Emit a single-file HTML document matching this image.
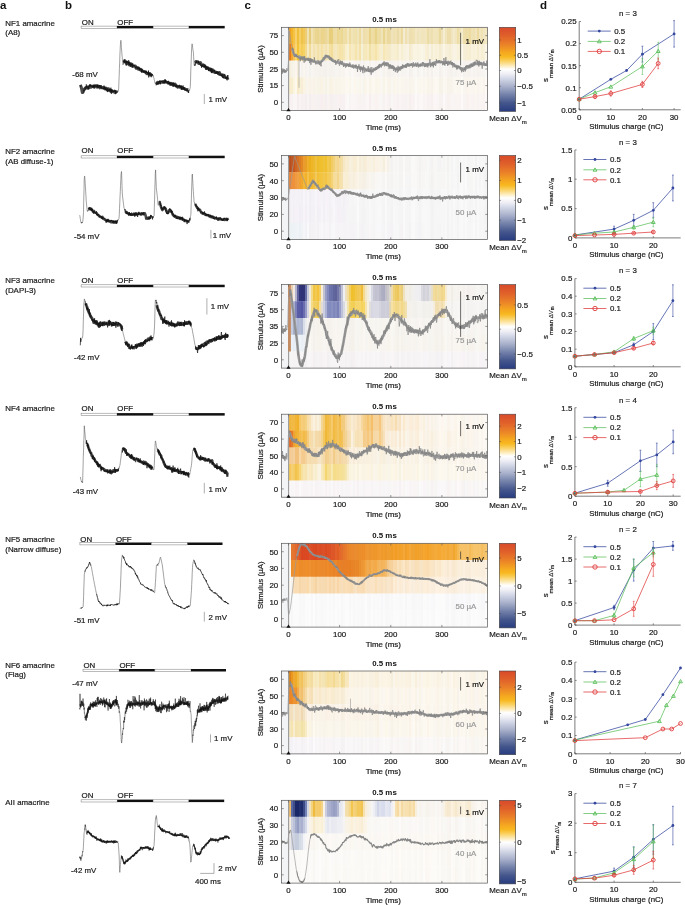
<!DOCTYPE html>
<html><head><meta charset="utf-8"><style>
html,body{margin:0;padding:0;background:#fff;width:685px;height:905px;overflow:hidden;position:relative}
text{font-family:"Liberation Sans", sans-serif}

</style></head><body>
<svg width="685" height="905" viewBox="0 0 685 905" style="position:absolute;left:0;top:0;will-change:transform;filter:blur(0.3px)" font-family='"Liberation Sans", sans-serif'>
<defs><linearGradient id="cb" x1="0" y1="0" x2="0" y2="1">
<stop offset="0.000" stop-color="#d84a2a"/>
<stop offset="0.100" stop-color="#e0602a"/>
<stop offset="0.200" stop-color="#ea8028"/>
<stop offset="0.300" stop-color="#f5a820"/>
<stop offset="0.350" stop-color="#f8b820"/>
<stop offset="0.400" stop-color="#fad060"/>
<stop offset="0.450" stop-color="#fce8b0"/>
<stop offset="0.500" stop-color="#ffffff"/>
<stop offset="0.550" stop-color="#f0f0f5"/>
<stop offset="0.600" stop-color="#d8dcea"/>
<stop offset="0.700" stop-color="#aab2cc"/>
<stop offset="0.800" stop-color="#7482aa"/>
<stop offset="0.900" stop-color="#44568c"/>
<stop offset="1.000" stop-color="#283c80"/>
</linearGradient></defs>
<rect width="685" height="905" fill="#fff"/>
<text x="0.0" y="9.0" font-size="11.5" text-anchor="start" font-weight="bold" fill="#111" stroke="#111" stroke-width="0" >a</text>
<text x="65.0" y="9.0" font-size="11.5" text-anchor="start" font-weight="bold" fill="#111" stroke="#111" stroke-width="0" >b</text>
<text x="244.5" y="9.0" font-size="11.5" text-anchor="start" font-weight="bold" fill="#111" stroke="#111" stroke-width="0" >c</text>
<text x="540.0" y="9.0" font-size="11.5" text-anchor="start" font-weight="bold" fill="#111" stroke="#111" stroke-width="0" >d</text>
<text x="5.3" y="25.9" font-size="7.9" text-anchor="start" font-weight="normal" fill="#1a1a1a" stroke="#1a1a1a" stroke-width="0.2" >NF1 amacrine</text>
<text x="5.3" y="34.6" font-size="7.9" text-anchor="start" font-weight="normal" fill="#1a1a1a" stroke="#1a1a1a" stroke-width="0.2" >(A8)</text>
<rect x="81.1" y="26.1" width="35.9" height="2.2" fill="#fff" stroke="#777" stroke-width="0.5"/>
<rect x="117.0" y="25.9" width="36.2" height="2.5" fill="#111"/>
<rect x="153.2" y="26.1" width="35.7" height="2.2" fill="#fff" stroke="#777" stroke-width="0.5"/>
<rect x="188.9" y="25.9" width="35.8" height="2.5" fill="#111"/>
<text x="81.8" y="24.9" font-size="7.9" text-anchor="start" font-weight="normal" fill="#1a1a1a" stroke="#1a1a1a" stroke-width="0.2" >ON</text>
<text x="117.3" y="24.9" font-size="7.9" text-anchor="start" font-weight="normal" fill="#1a1a1a" stroke="#1a1a1a" stroke-width="0.2" >OFF</text>
<text x="72.3" y="76.6" font-size="7.9" text-anchor="start" font-weight="normal" fill="#1a1a1a" stroke="#1a1a1a" stroke-width="0.2" >-68 mV</text>
<line x1="204.3" y1="94.0" x2="204.3" y2="104.0" stroke="#777" stroke-width="0.6"/>
<text x="208.6" y="102.3" font-size="7.9" text-anchor="start" font-weight="normal" fill="#1a1a1a" stroke="#1a1a1a" stroke-width="0.2" >1 mV</text>
<path d="M80.3 84.9 81.0 86.5 81.6 88.7 82.3 92.6 83.0 92.3 83.7 90.4 84.3 89.0 85.0 88.9 85.7 87.7 86.4 87.1 87.0 87.3 87.7 87.3 88.4 87.1 89.0 87.7 89.7 86.5 90.4 85.7 91.1 87.1 91.7 86.5 92.4 86.5 93.1 86.1 93.7 85.9 94.4 87.2 95.1 85.7 95.8 86.1 96.4 85.8 97.1 87.1 97.8 86.6 98.5 86.1 99.1 87.0 99.8 87.8 100.5 86.6 101.1 86.9 101.8 87.7 102.5 87.9 103.2 87.4 103.8 87.9 104.5 88.4 105.2 89.0 105.8 88.1 106.5 89.4 107.2 89.6 107.9 90.6 108.5 88.7 109.2 89.9 109.9 90.1 110.6 91.3 111.2 90.2 111.9 90.8 112.6 91.4 113.2 91.8 113.9 91.9 114.6 91.1 115.3 92.8 115.9 91.6 116.6 92.3 M124.0 62.5 L124.7 60.6 125.3 61.6 126.0 61.9 126.7 63.7 127.4 63.7 128.0 63.2 128.7 63.1 129.4 65.0 130.0 64.3 130.7 63.7 131.4 65.1 132.1 64.4 132.7 66.3 133.4 66.2 134.1 65.8 134.8 66.4 135.4 66.0 136.1 68.3 136.8 67.9 137.4 68.5 138.1 69.2 138.8 68.7 139.5 69.0 140.1 69.4 140.8 70.2 141.5 70.0 142.1 70.6 142.8 71.3 143.5 71.6 144.2 71.6 144.8 71.7 145.5 72.2 146.2 73.1 146.9 73.7 147.5 73.8 148.2 73.3 148.9 74.0 149.5 74.1 150.2 75.0 150.9 74.3 151.6 75.8 152.2 75.8 M155.6 83.9 L156.3 83.8 156.9 83.5 157.6 82.2 158.3 82.9 159.0 82.7 159.6 82.1 160.3 82.8 161.0 82.0 161.6 82.2 162.3 81.6 163.0 82.3 163.7 82.2 164.3 81.7 165.0 81.3 165.7 81.9 166.4 82.2 167.0 82.4 167.7 82.5 168.4 83.3 169.0 82.9 169.7 83.3 170.4 84.4 171.1 83.3 171.7 84.0 172.4 84.4 173.1 84.1 173.7 84.0 174.4 84.5 175.1 84.1 175.8 85.5 176.4 85.7 177.1 86.4 177.8 87.2 178.5 86.6 179.1 86.9 179.8 87.3 180.5 87.0 181.1 86.7 181.8 87.4 182.5 88.1 183.2 88.3 183.8 88.6 184.5 88.6 185.2 89.3 185.8 89.4 186.5 89.8 187.2 89.5 187.9 90.1 M195.3 62.9 L195.9 61.5 196.6 61.5 197.3 62.1 197.9 61.9 198.6 63.3 199.3 63.6 200.0 63.1 200.6 62.6 201.3 64.8 202.0 65.0 202.7 65.4 203.3 64.8 204.0 65.7 204.7 66.4 205.3 67.1 206.0 67.4 206.7 68.3 207.4 67.6 208.0 68.0 208.7 69.0 209.4 69.9 210.0 68.9 210.7 69.2 211.4 71.1 212.1 70.1 212.7 70.9 213.4 71.8 214.1 70.9 214.8 71.8 215.4 72.3 216.1 72.2 216.8 72.4 217.4 72.5 218.1 73.0 218.8 74.0 219.5 72.6 220.1 74.3 220.8 74.5 221.5 74.9 222.1 75.3 222.8 75.6 223.5 76.4 224.2 75.4 224.8 77.2 225.5 77.6 226.2 77.7 226.9 78.0 227.5 78.9 228.2 79.9" fill="none" stroke="#333" stroke-width="3.0" stroke-linejoin="round" opacity="0.9"/>
<path d="M80.3 85.6 80.6 86.8 80.8 86.8 81.1 85.4 M82.8 92.9 L83.1 93.0 83.3 90.9 83.6 91.0 83.8 90.0 84.1 90.8 84.3 89.5 84.6 88.5 84.8 87.4 85.1 87.7 85.3 88.0 85.6 87.6 85.8 89.4 86.1 88.9 86.3 84.4 86.6 85.3 86.8 87.3 87.1 86.9 87.3 87.6 87.6 87.5 87.8 89.7 88.1 85.7 88.3 86.5 88.6 89.4 88.8 87.6 89.1 87.6 89.3 86.1 89.6 84.6 89.8 86.7 90.1 86.6 90.3 84.9 90.6 85.6 90.8 86.3 91.1 85.3 91.3 86.3 91.6 86.5 91.8 86.4 92.1 85.8 92.3 87.1 92.6 87.5 92.8 86.8 93.1 85.4 93.3 87.3 93.6 85.8 93.8 87.5 94.1 85.1 94.3 87.5 94.6 86.4 94.8 84.9 95.1 86.0 95.3 86.5 95.6 86.7 95.8 85.2 96.1 85.1 96.3 86.6 96.6 85.8 96.8 86.7 97.1 87.3 97.3 84.4 97.6 86.7 97.8 87.9 98.1 86.0 98.3 85.4 98.6 87.4 98.9 86.9 99.1 87.7 99.4 86.3 99.6 85.0 99.9 86.7 100.1 86.4 100.4 88.0 100.6 87.4 100.9 85.2 101.1 85.9 101.4 88.4 101.6 88.3 101.9 86.8 102.1 87.6 102.4 88.2 102.6 88.3 102.9 88.9 103.1 88.3 103.4 87.9 103.6 87.8 103.9 89.5 104.1 85.6 104.4 88.2 104.6 88.5 104.9 86.8 105.1 89.0 105.4 87.9 105.6 89.8 105.9 88.7 106.1 89.8 106.4 90.5 106.6 89.6 106.9 88.2 107.1 87.5 107.4 91.5 107.6 89.4 107.9 88.8 108.1 89.8 108.4 89.5 108.6 90.9 108.9 90.0 109.1 90.1 109.4 89.3 109.6 90.8 109.9 89.1 110.1 91.2 110.4 92.3 110.6 88.7 110.9 87.7 111.1 91.5 111.4 93.9 111.6 89.7 111.9 89.5 112.1 91.8 112.4 90.2 112.6 90.7 112.9 91.0 113.1 92.1 113.4 91.1 113.6 92.0 113.9 91.4 114.1 90.7 114.4 91.3 114.6 90.6 114.9 91.8 115.1 90.5 115.4 90.6 115.6 93.7 115.9 91.9 116.1 91.9 116.4 92.6 116.6 91.6 116.9 91.8 117.1 92.6 117.4 92.5 117.7 90.7 M123.2 64.3 L123.4 63.7 123.7 63.4 123.9 60.7 124.2 63.2 124.4 61.0 124.7 59.9 124.9 62.2 125.2 63.2 125.4 62.3 125.7 62.1 125.9 60.9 126.2 65.6 126.4 63.3 126.7 61.0 126.9 61.6 127.2 62.8 127.4 60.9 127.7 63.1 127.9 62.5 128.2 64.7 128.4 64.5 128.7 60.2 128.9 63.7 129.2 61.8 129.4 65.2 129.7 64.2 129.9 64.8 130.2 63.0 130.4 66.6 130.7 67.0 130.9 63.4 131.2 65.3 131.4 64.1 131.7 65.1 131.9 63.7 132.2 67.6 132.4 64.3 132.7 65.3 132.9 66.4 133.2 65.1 133.4 65.7 133.7 65.5 133.9 66.1 134.2 65.0 134.4 66.0 134.7 66.5 134.9 66.4 135.2 67.1 135.4 66.8 135.7 68.2 136.0 67.0 136.2 67.4 136.5 66.9 136.7 67.2 137.0 66.4 137.2 68.7 137.5 66.8 137.7 67.5 138.0 68.9 138.2 69.1 138.5 68.3 138.7 66.5 139.0 69.5 139.2 69.5 139.5 67.6 139.7 70.4 140.0 68.7 140.2 68.4 140.5 70.0 140.7 69.8 141.0 70.4 141.2 68.3 141.5 72.6 141.7 69.8 142.0 68.8 142.2 71.6 142.5 70.5 142.7 71.5 143.0 70.8 143.2 71.3 143.5 71.8 143.7 70.7 144.0 72.6 144.2 71.4 144.5 71.0 144.7 72.3 145.0 72.9 145.2 72.2 145.5 71.5 145.7 73.4 146.0 70.6 146.2 71.6 146.5 72.9 146.7 71.3 147.0 73.1 147.2 73.1 147.5 74.3 147.7 72.2 148.0 72.6 148.2 73.9 148.5 70.6 148.7 77.4 149.0 72.9 149.2 73.0 149.5 75.0 149.7 74.0 150.0 72.0 150.2 75.0 150.5 75.5 150.7 74.1 151.0 74.4 151.2 75.5 151.5 74.0 151.7 75.8 152.0 75.7 152.2 74.8 152.5 74.1 152.7 75.7 153.0 75.1 M155.5 83.8 L155.8 83.6 156.0 83.0 156.3 82.6 156.5 83.4 156.8 82.7 157.0 84.6 157.3 82.9 157.5 83.2 157.8 83.9 158.0 82.4 158.3 84.4 158.5 81.9 158.8 81.7 159.0 82.2 159.3 82.4 159.5 80.9 159.8 82.5 160.0 80.5 160.3 84.1 160.5 82.3 160.8 81.6 161.0 81.2 161.3 81.8 161.5 82.0 161.8 80.9 162.0 81.1 162.3 81.9 162.5 81.5 162.8 83.2 163.0 83.4 163.3 82.0 163.5 82.5 163.8 80.3 164.0 82.6 164.3 81.8 164.5 82.4 164.8 83.7 165.0 79.0 165.3 82.0 165.5 80.5 165.8 82.6 166.0 80.4 166.3 81.5 166.5 82.4 166.8 83.0 167.0 82.4 167.3 81.5 167.5 81.9 167.8 83.7 168.0 82.7 168.3 80.8 168.5 83.9 168.8 83.5 169.0 84.1 169.3 82.7 169.5 84.2 169.8 82.1 170.0 84.1 170.3 82.9 170.5 84.4 170.8 84.9 171.0 82.9 171.3 83.8 171.5 84.0 171.8 85.5 172.0 85.0 172.3 82.7 172.5 84.8 172.8 85.3 173.1 87.0 173.3 82.6 173.6 84.0 173.8 86.4 174.1 83.2 174.3 83.5 174.6 85.7 174.8 86.4 175.1 84.4 175.3 86.0 175.6 85.6 175.8 87.3 176.1 85.6 176.3 86.9 176.6 84.7 176.8 85.7 177.1 85.9 177.3 87.4 177.6 86.9 177.8 85.4 178.1 87.2 178.3 87.4 178.6 86.4 178.8 86.3 179.1 86.5 179.3 84.8 179.6 87.1 179.8 87.3 180.1 86.1 180.3 88.1 180.6 85.7 180.8 86.7 181.1 86.9 181.3 90.0 181.6 85.8 181.8 88.4 182.1 89.0 182.3 88.4 182.6 89.5 182.8 87.0 183.1 85.5 183.3 89.3 183.6 87.1 183.8 88.2 184.1 87.3 184.3 90.1 184.6 90.0 184.8 88.2 185.1 90.3 185.3 89.5 185.6 89.3 185.8 89.6 186.1 89.4 186.3 90.5 186.6 90.3 186.8 89.6 187.1 91.4 187.3 89.5 187.6 90.7 187.8 91.0 188.1 92.4 188.3 90.1 188.6 93.0 188.8 91.2 189.1 90.9 189.3 89.7 M194.6 64.4 L194.9 66.0 195.1 63.4 195.4 64.4 195.6 64.4 195.9 61.9 196.1 63.2 196.4 62.3 196.6 61.1 196.9 62.1 197.1 62.0 197.4 61.8 197.6 62.0 197.9 62.6 198.1 63.1 198.4 61.6 198.6 62.8 198.9 61.2 199.1 63.5 199.4 64.1 199.6 63.7 199.9 64.0 200.1 64.5 200.4 63.1 200.6 63.8 200.9 64.9 201.1 65.6 201.4 65.0 201.6 67.8 201.9 64.8 202.1 66.2 202.4 66.7 202.6 65.2 202.9 64.5 203.1 64.2 203.4 66.0 203.6 67.3 203.9 66.4 204.1 66.5 204.4 66.0 204.6 67.2 204.9 64.2 205.1 67.2 205.4 67.1 205.6 65.5 205.9 70.0 206.1 65.8 206.4 66.4 206.6 66.4 206.9 69.3 207.1 67.1 207.4 69.1 207.6 69.1 207.9 68.9 208.1 67.2 208.4 68.2 208.6 71.0 208.9 67.6 209.1 68.2 209.4 69.1 209.6 70.4 209.9 69.9 210.2 70.6 210.4 68.5 210.7 71.0 210.9 70.7 211.2 68.2 211.4 72.1 211.7 73.1 211.9 69.5 212.2 70.6 212.4 72.4 212.7 69.0 212.9 68.5 213.2 69.5 213.4 70.4 213.7 70.5 213.9 72.1 214.2 71.8 214.4 70.1 214.7 72.4 214.9 74.0 215.2 73.3 215.4 73.2 215.7 72.2 215.9 73.4 216.2 71.2 216.4 73.4 216.7 72.5 216.9 74.0 217.2 73.4 217.4 71.6 217.7 73.2 217.9 74.6 218.2 71.9 218.4 72.7 218.7 72.5 218.9 71.8 219.2 74.8 219.4 75.4 219.7 74.9 219.9 74.3 220.2 74.1 220.4 74.6 220.7 73.6 220.9 75.7 221.2 76.0 221.4 76.0 221.7 74.4 221.9 75.3 222.2 75.1 222.4 77.6 222.7 75.8 222.9 73.5 223.2 76.4 223.4 78.3 223.7 77.0 223.9 77.4 224.2 76.5 224.4 74.3 224.7 74.6 224.9 75.4 225.2 76.9 225.4 77.6 225.7 78.2 225.9 77.1 226.2 78.8 226.4 77.4 226.7 77.1 226.9 79.1 227.2 77.1 227.4 75.1 227.7 77.2 227.9 78.8 228.2 75.1" fill="none" stroke="#111" stroke-width="0.7" stroke-linejoin="round"/>
<path d="M81.1 85.4 L81.3 87.7 81.6 88.3 81.8 89.4 82.1 90.8 82.3 92.0 82.6 93.2 82.8 92.9 M117.7 90.7 L117.9 91.7 118.2 90.9 118.4 90.2 118.7 88.4 118.9 81.9 119.2 75.6 119.4 68.5 119.7 62.1 119.9 55.0 120.2 48.8 120.4 44.3 120.7 42.1 120.9 40.3 121.2 44.0 121.4 47.5 121.7 50.9 121.9 54.1 122.2 56.8 122.4 59.5 122.7 62.3 122.9 64.8 123.2 64.3 M153.0 75.1 L153.2 76.5 153.5 76.5 153.7 77.7 154.0 78.6 154.2 79.7 154.5 80.6 154.8 81.9 155.0 83.2 155.3 83.8 155.5 83.8 M189.3 89.7 L189.6 89.9 189.8 89.2 190.1 88.3 190.3 86.3 190.6 78.5 190.8 70.5 191.1 62.9 191.4 55.0 191.6 48.8 191.9 45.3 192.1 43.8 192.4 45.6 192.6 47.4 192.9 49.3 193.1 50.7 193.4 52.2 193.6 56.3 193.9 60.8 194.1 65.2 194.4 64.8 194.6 64.4" fill="none" stroke="#555" stroke-width="0.55" stroke-linejoin="round"/>
<text x="5.3" y="153.8" font-size="7.9" text-anchor="start" font-weight="normal" fill="#1a1a1a" stroke="#1a1a1a" stroke-width="0.2" >NF2 amacrine</text>
<text x="5.3" y="163.6" font-size="7.9" text-anchor="start" font-weight="normal" fill="#1a1a1a" stroke="#1a1a1a" stroke-width="0.2" >(AB diffuse-1)</text>
<rect x="81.1" y="155.8" width="35.9" height="2.2" fill="#fff" stroke="#777" stroke-width="0.5"/>
<rect x="117.0" y="155.7" width="36.2" height="2.5" fill="#111"/>
<rect x="153.2" y="155.8" width="35.7" height="2.2" fill="#fff" stroke="#777" stroke-width="0.5"/>
<rect x="188.9" y="155.7" width="35.8" height="2.5" fill="#111"/>
<text x="81.5" y="153.2" font-size="7.9" text-anchor="start" font-weight="normal" fill="#1a1a1a" stroke="#1a1a1a" stroke-width="0.2" >ON</text>
<text x="117.3" y="153.2" font-size="7.9" text-anchor="start" font-weight="normal" fill="#1a1a1a" stroke="#1a1a1a" stroke-width="0.2" >OFF</text>
<text x="74.0" y="239.4" font-size="7.9" text-anchor="start" font-weight="normal" fill="#1a1a1a" stroke="#1a1a1a" stroke-width="0.2" >-54 mV</text>
<line x1="210.9" y1="229.9" x2="210.9" y2="238.6" stroke="#777" stroke-width="0.6"/>
<text x="212.7" y="237.6" font-size="7.9" text-anchor="start" font-weight="normal" fill="#1a1a1a" stroke="#1a1a1a" stroke-width="0.2" >1 mV</text>
<path d="M88.4 209.3 L89.1 208.8 89.8 208.3 90.5 208.5 91.1 209.2 91.8 209.8 92.5 210.7 93.1 212.0 93.8 210.8 94.5 211.8 95.2 212.7 95.8 212.9 96.5 212.9 97.2 214.1 97.8 214.7 98.5 215.4 99.2 215.6 99.9 216.7 100.5 216.7 101.2 217.4 101.9 217.1 102.5 216.9 103.2 218.7 103.9 218.9 104.6 219.5 105.2 219.7 105.9 220.0 106.6 220.4 107.2 221.0 107.9 220.4 108.6 220.7 109.3 220.9 109.9 221.2 110.6 222.1 111.3 221.1 112.0 222.4 112.6 221.6 113.3 221.6 114.0 221.5 114.6 222.2 115.3 222.6 116.0 221.7 116.7 222.1 M125.4 211.0 L126.1 212.5 126.7 212.8 127.4 213.2 128.1 213.3 128.8 213.8 129.4 214.0 130.1 214.3 130.8 214.5 131.4 214.4 132.1 214.8 132.8 214.1 133.5 214.5 134.1 213.5 134.8 214.0 135.5 214.6 136.1 214.2 136.8 214.4 137.5 213.8 138.2 213.6 138.8 213.7 139.5 214.1 140.2 213.8 140.8 214.6 141.5 214.6 142.2 214.1 142.9 213.4 143.5 213.7 144.2 213.4 144.9 213.3 145.6 215.5 146.2 218.7 146.9 218.4 147.6 218.4 148.2 217.5 148.9 217.8 149.6 218.2 150.3 217.9 150.9 216.9 151.6 217.2 M159.0 202.3 L159.7 202.2 160.3 204.2 161.0 207.1 161.7 208.8 162.3 210.1 163.0 209.6 163.7 207.7 164.4 207.2 165.0 208.4 165.7 208.6 166.4 211.4 167.1 212.8 167.7 213.0 168.4 212.3 169.1 210.2 169.7 209.8 170.4 210.0 171.1 211.7 171.8 212.0 172.4 214.0 173.1 215.3 173.8 215.3 174.4 216.6 175.1 215.8 175.8 217.3 176.5 217.6 177.1 216.7 177.8 218.0 178.5 217.7 179.1 218.0 179.8 218.3 180.5 217.8 181.2 218.8 181.8 219.0 182.5 219.7 183.2 218.9 183.9 220.1 184.5 220.9 185.2 220.5 185.9 221.1 186.5 221.2 187.2 220.9 187.9 221.2 188.6 221.6 M195.3 204.0 L195.9 205.5 196.6 206.8 197.3 208.2 198.0 208.0 198.6 209.2 199.3 209.9 200.0 209.8 200.7 211.4 201.3 212.7 202.0 212.6 202.7 213.8 203.3 213.6 204.0 213.5 204.7 214.4 205.4 214.1 206.0 214.9 206.7 214.9 207.4 215.3 208.0 215.1 208.7 215.6 209.4 216.0 210.1 216.2 210.7 216.6 211.4 217.3 212.1 216.8 212.7 216.8 213.4 217.7 214.1 217.4 214.8 218.5 215.4 218.0 216.1 218.1 216.8 218.8 217.4 218.5 218.1 218.9 218.8 219.4 219.5 218.4 220.1 219.2 220.8 219.0 221.5 219.2 222.2 219.6 222.8 219.4 223.5 219.6 224.2 219.2 224.8 220.0 225.5 219.6 226.2 218.7 226.9 220.0 227.5 219.1 228.2 220.1" fill="none" stroke="#333" stroke-width="2.5" stroke-linejoin="round" opacity="0.9"/>
<path d="M81.2 222.3 L81.5 223.2 81.7 222.8 82.0 222.0 M87.7 211.0 L88.0 211.1 88.2 210.0 88.5 209.6 88.7 208.6 89.0 209.1 89.2 207.2 89.5 208.0 89.7 208.8 90.0 210.5 90.2 208.0 90.5 207.9 90.7 208.5 91.0 210.2 91.2 209.1 91.5 210.8 91.7 207.8 92.0 211.0 92.2 211.1 92.5 208.9 92.7 210.6 93.0 211.9 93.2 211.0 93.5 212.1 93.7 213.7 94.0 211.8 94.2 211.5 94.5 211.2 94.7 212.8 95.0 212.2 95.2 212.4 95.5 212.7 95.7 213.6 96.0 212.1 96.2 211.9 96.5 211.2 96.7 215.0 97.0 214.1 97.2 215.7 97.5 214.4 97.7 213.9 98.0 215.3 98.2 215.0 98.5 214.0 98.7 214.5 99.0 217.3 99.2 216.1 99.5 216.3 99.7 215.8 100.0 215.5 100.2 217.3 100.5 216.5 100.7 216.0 101.0 216.8 101.2 216.2 101.5 217.4 101.7 218.5 102.0 216.7 102.2 219.1 102.5 217.2 102.7 218.2 103.0 217.4 103.2 218.1 103.5 218.6 103.7 218.3 104.0 218.2 104.2 218.3 104.5 218.4 104.7 217.8 105.0 219.3 105.2 220.1 105.5 220.7 105.7 220.7 106.0 222.6 106.2 220.7 106.5 220.0 106.7 222.4 107.0 219.5 107.2 221.6 107.5 219.7 107.7 221.1 108.0 218.8 108.2 221.7 108.5 220.7 108.7 219.9 109.0 222.6 109.2 221.7 109.5 221.0 109.8 220.3 110.0 221.0 110.3 220.9 110.5 221.9 110.8 222.0 111.0 220.6 111.3 220.7 111.5 220.8 111.8 220.0 112.0 220.8 112.3 221.3 112.5 222.2 112.8 222.8 113.0 220.7 113.3 222.1 113.5 221.2 113.8 223.8 114.0 221.7 114.3 222.3 114.5 220.9 114.8 221.0 115.0 222.1 115.3 221.5 115.5 222.3 115.8 220.4 116.0 222.7 116.3 221.2 116.5 223.8 116.8 221.9 117.0 223.3 117.3 220.3 117.5 221.6 117.8 219.8 118.0 219.7 118.3 219.7 M124.5 209.4 L124.8 210.5 125.0 209.1 125.3 209.8 125.5 211.3 125.8 211.4 126.0 213.7 126.3 213.4 126.5 212.7 126.8 213.6 127.0 211.1 127.3 213.5 127.5 214.2 127.8 213.2 128.0 212.8 128.3 214.1 128.5 215.6 128.8 214.0 129.0 212.7 129.3 215.4 129.5 212.2 129.8 214.6 130.0 213.6 130.3 215.2 130.5 213.5 130.8 215.8 131.0 214.9 131.3 212.9 131.5 212.6 131.8 214.2 132.0 215.8 132.3 214.7 132.5 214.6 132.8 214.3 133.0 215.2 133.3 214.8 133.5 214.7 133.8 213.4 134.0 215.6 134.3 215.8 134.5 213.1 134.8 216.7 135.0 215.1 135.3 213.9 135.5 212.4 135.8 215.0 136.0 214.9 136.3 213.7 136.5 212.5 136.8 215.4 137.0 213.6 137.3 213.7 137.5 217.0 137.8 216.3 138.0 215.1 138.3 213.7 138.5 214.8 138.8 211.8 139.0 214.2 139.3 213.3 139.6 212.8 139.8 212.5 140.1 214.5 140.3 214.1 140.6 214.1 140.8 214.8 141.1 213.1 141.3 212.7 141.6 212.1 141.8 213.5 142.1 214.6 142.3 213.6 142.6 214.4 142.8 212.6 143.1 213.2 143.3 212.9 143.6 212.4 143.8 215.5 144.1 214.5 144.3 212.8 144.6 212.8 M146.3 218.6 L146.6 217.3 146.8 217.0 147.1 217.5 147.3 217.8 147.6 218.1 147.8 218.4 148.1 219.8 148.3 219.0 148.6 217.9 148.8 218.8 149.1 217.3 149.3 219.4 149.6 218.5 149.8 216.5 150.1 218.5 150.3 218.5 150.6 214.9 150.8 216.7 151.1 216.9 151.3 215.3 151.6 216.1 151.8 216.1 152.1 217.4 152.3 217.1 152.6 219.4 152.8 216.2 153.1 217.7 153.3 216.5 M159.6 202.1 L159.8 200.9 160.1 203.5 160.3 204.5 160.6 203.9 160.8 205.9 161.1 205.3 161.3 208.4 161.6 207.4 161.8 208.9 162.1 210.2 162.3 209.7 162.6 208.0 162.8 208.8 163.1 209.8 163.3 208.5 163.6 208.5 163.8 206.8 164.1 207.6 164.3 207.8 164.6 206.7 164.8 209.2 165.1 207.7 165.3 207.5 165.6 207.5 165.8 210.9 166.1 210.3 166.3 211.9 166.6 212.0 166.8 213.7 167.1 214.0 167.3 213.0 167.6 213.8 167.8 214.1 168.1 211.3 168.3 213.5 168.6 212.8 168.9 212.1 169.1 210.4 169.4 210.5 169.6 208.6 169.9 209.3 170.1 208.9 170.4 210.0 170.6 209.9 170.9 211.1 171.1 212.5 171.4 210.4 171.6 213.1 171.9 210.7 172.1 211.0 172.4 213.5 172.6 214.1 172.9 214.9 173.1 213.3 173.4 215.4 173.6 215.7 173.9 216.9 174.1 215.7 174.4 216.4 174.6 215.0 174.9 215.9 175.1 215.8 175.4 217.0 175.6 215.4 175.9 215.7 176.1 217.2 176.4 218.5 176.6 217.2 176.9 217.2 177.1 216.7 177.4 218.2 177.6 217.8 177.9 219.1 178.1 217.8 178.4 216.6 178.6 217.1 178.9 216.8 179.1 216.6 179.4 219.2 179.6 218.9 179.9 216.9 180.1 220.1 180.4 218.6 180.6 217.6 180.9 219.0 181.1 218.7 181.4 218.1 181.6 217.1 181.9 219.2 182.1 219.6 182.4 216.8 182.6 220.1 182.9 220.3 183.1 219.3 183.4 220.0 183.6 219.7 183.9 219.3 184.1 219.9 184.4 221.7 184.6 219.1 184.9 220.9 185.1 220.9 185.4 220.0 185.6 220.4 185.9 219.4 186.1 220.0 186.4 220.9 186.6 221.3 186.9 220.1 187.1 224.1 187.4 220.5 187.6 221.2 187.9 220.9 188.1 220.8 188.4 222.5 188.6 220.8 188.9 222.6 189.1 222.3 189.4 219.3 189.6 220.5 189.9 217.9 190.1 220.4 M194.6 203.0 L194.9 202.9 195.1 204.5 195.4 204.6 195.6 204.6 195.9 205.6 196.1 204.9 196.4 206.8 196.6 207.1 196.9 206.5 197.1 206.0 197.4 209.1 197.6 208.0 197.9 211.3 198.1 207.9 198.4 209.7 198.7 208.7 198.9 209.7 199.2 210.6 199.4 209.3 199.7 210.3 199.9 210.9 200.2 211.1 200.4 211.9 200.7 212.7 200.9 212.8 201.2 212.6 201.4 212.3 201.7 211.6 201.9 212.1 202.2 212.4 202.4 213.7 202.7 212.8 202.9 212.0 203.2 214.0 203.4 212.6 203.7 212.8 203.9 213.4 204.2 214.2 204.4 211.4 204.7 212.8 204.9 214.2 205.2 213.8 205.4 213.4 205.7 213.8 205.9 215.9 206.2 214.1 206.4 215.4 206.7 215.6 206.9 214.4 207.2 215.4 207.4 214.6 207.7 214.6 207.9 214.2 208.2 216.3 208.4 215.1 208.7 215.0 208.9 214.6 209.2 217.6 209.4 216.6 209.7 215.8 209.9 215.4 210.2 214.6 210.4 216.6 210.7 216.6 210.9 215.0 211.2 217.7 211.4 217.4 211.7 215.8 211.9 216.3 212.2 216.5 212.4 217.2 212.7 217.0 212.9 215.6 213.2 218.8 213.4 217.7 213.7 218.7 213.9 218.8 214.2 217.5 214.4 218.1 214.7 218.6 214.9 218.7 215.2 217.9 215.4 217.5 215.7 218.3 215.9 217.5 216.2 217.9 216.4 216.5 216.7 218.7 216.9 217.7 217.2 218.2 217.4 218.8 217.7 219.3 217.9 220.9 218.2 219.2 218.4 217.6 218.7 219.2 218.9 218.5 219.2 219.5 219.4 218.4 219.7 218.4 219.9 218.6 220.2 218.5 220.4 217.3 220.7 218.5 220.9 219.2 221.2 220.4 221.4 218.9 221.7 218.9 221.9 219.8 222.2 219.8 222.4 220.9 222.7 219.9 222.9 219.3 223.2 220.7 223.4 220.9 223.7 218.9 223.9 219.5 224.2 217.7 224.4 219.0 224.7 218.5 224.9 219.2 225.2 218.9 225.4 219.3 225.7 219.4 225.9 220.0 226.2 219.7 226.4 218.9 226.7 218.2 226.9 220.8 227.2 221.0 227.4 219.1 227.7 220.1 227.9 218.1 228.2 218.0" fill="none" stroke="#111" stroke-width="0.7" stroke-linejoin="round"/>
<path d="M79.7 215.2 80.0 216.7 80.2 218.3 80.5 219.6 80.7 221.8 81.0 222.4 81.2 222.3 M82.0 222.0 L82.2 222.8 82.5 222.7 82.7 221.7 83.0 219.2 83.2 217.0 83.5 212.5 83.7 201.7 84.0 190.5 84.2 179.9 84.5 176.2 84.7 176.1 85.0 180.0 85.2 183.9 85.5 187.8 85.7 191.8 86.0 196.2 86.2 200.6 86.5 203.8 86.7 206.1 87.0 208.4 87.2 211.0 87.5 211.4 87.7 211.0 M118.3 219.7 L118.5 219.1 118.8 218.7 119.0 218.3 119.3 214.3 119.5 208.5 119.8 202.7 120.0 197.1 120.3 191.5 120.5 185.6 120.8 180.3 121.0 174.8 121.3 172.7 121.5 171.5 121.8 178.8 122.0 186.1 122.3 193.2 122.5 196.1 122.8 198.1 123.0 200.0 123.3 202.4 123.5 204.4 123.8 206.0 124.0 208.3 124.3 208.5 124.5 209.4 M144.6 212.8 L144.8 213.5 145.1 213.3 145.3 214.6 145.6 215.5 145.8 216.8 146.1 217.9 146.3 218.6 M153.3 216.5 L153.6 216.4 153.8 216.0 154.1 215.8 154.3 207.8 154.6 199.0 154.8 190.1 155.1 180.9 155.3 173.4 155.6 169.9 155.8 176.1 156.1 181.9 156.3 187.5 156.6 190.5 156.8 192.2 157.1 194.4 157.3 196.5 157.6 199.2 157.8 202.1 158.1 204.9 158.3 205.4 158.6 204.1 158.8 202.9 159.1 201.7 159.3 201.1 159.6 202.1 M190.1 220.4 L190.4 216.7 190.6 215.8 190.9 214.8 191.1 206.8 191.4 198.5 191.6 190.0 191.9 181.6 192.1 175.2 192.4 174.0 192.6 178.9 192.9 183.1 193.1 188.0 193.4 191.8 193.6 195.3 193.9 198.9 194.1 201.9 194.4 202.6 194.6 203.0" fill="none" stroke="#555" stroke-width="0.55" stroke-linejoin="round"/>
<text x="5.3" y="282.8" font-size="7.9" text-anchor="start" font-weight="normal" fill="#1a1a1a" stroke="#1a1a1a" stroke-width="0.2" >NF3 amacrine</text>
<text x="5.3" y="292.6" font-size="7.9" text-anchor="start" font-weight="normal" fill="#1a1a1a" stroke="#1a1a1a" stroke-width="0.2" >(DAPI-3)</text>
<rect x="81.1" y="284.8" width="35.9" height="2.2" fill="#fff" stroke="#777" stroke-width="0.5"/>
<rect x="117.0" y="284.7" width="36.2" height="2.5" fill="#111"/>
<rect x="153.2" y="284.8" width="35.7" height="2.2" fill="#fff" stroke="#777" stroke-width="0.5"/>
<rect x="188.9" y="284.7" width="35.8" height="2.5" fill="#111"/>
<text x="81.5" y="282.6" font-size="7.9" text-anchor="start" font-weight="normal" fill="#1a1a1a" stroke="#1a1a1a" stroke-width="0.2" >ON</text>
<text x="117.3" y="282.6" font-size="7.9" text-anchor="start" font-weight="normal" fill="#1a1a1a" stroke="#1a1a1a" stroke-width="0.2" >OFF</text>
<text x="74.0" y="359.6" font-size="7.9" text-anchor="start" font-weight="normal" fill="#1a1a1a" stroke="#1a1a1a" stroke-width="0.2" >-42 mV</text>
<line x1="206.9" y1="298.2" x2="206.9" y2="314.5" stroke="#777" stroke-width="0.6"/>
<text x="210.7" y="309.3" font-size="7.9" text-anchor="start" font-weight="normal" fill="#1a1a1a" stroke="#1a1a1a" stroke-width="0.2" >1 mV</text>
<path d="M80.3 342.3 M85.7 303.3 L86.4 305.5 87.0 307.0 87.7 309.4 88.4 311.2 89.0 312.7 89.7 314.0 90.4 315.9 91.1 317.3 91.7 317.5 92.4 319.1 93.1 319.7 93.7 322.6 94.4 322.4 95.1 322.3 95.8 323.4 96.4 323.4 97.1 323.3 97.8 324.1 98.5 324.4 99.1 326.6 99.8 323.8 100.5 322.6 101.1 324.7 101.8 323.4 102.5 323.2 103.2 324.8 103.8 323.4 104.5 323.1 105.2 323.8 105.8 323.0 106.5 324.1 107.2 323.1 107.9 323.6 108.5 324.4 109.2 324.6 109.9 322.0 110.6 323.1 111.2 323.2 111.9 324.0 112.6 323.3 113.2 323.1 113.9 324.7 114.6 324.6 115.3 324.0 115.9 322.7 116.6 324.0 117.3 323.3 117.9 325.5 118.6 324.6 119.3 324.6 120.0 325.0 120.6 325.4 121.3 326.3 122.0 329.5 M125.3 341.6 L126.0 342.7 126.7 342.7 127.4 344.7 128.0 344.7 128.7 344.9 129.4 347.8 130.0 347.7 130.7 347.3 131.4 347.4 132.1 347.5 132.7 348.1 133.4 347.7 134.1 348.1 134.8 346.8 135.4 346.8 136.1 347.1 136.8 346.9 137.4 346.2 138.1 345.3 138.8 345.2 139.5 345.6 140.1 345.1 140.8 343.5 141.5 344.3 142.1 343.7 142.8 343.3 143.5 343.2 144.2 342.3 144.8 342.8 145.5 341.0 146.2 340.2 146.9 340.6 147.5 340.2 148.2 338.8 148.9 339.4 149.5 338.8 150.2 337.7 150.9 338.1 151.6 338.9 M156.9 305.1 L157.6 308.4 158.3 310.1 159.0 311.4 159.6 313.2 160.3 315.0 161.0 316.4 161.6 318.8 162.3 318.8 163.0 319.5 163.7 322.0 164.3 320.8 165.0 321.6 165.7 321.9 166.4 322.0 167.0 322.4 167.7 321.8 168.4 323.3 169.0 323.3 169.7 323.5 170.4 323.0 171.1 324.6 171.7 323.4 172.4 324.5 173.1 324.4 173.7 324.1 174.4 325.8 175.1 325.6 175.8 325.4 176.4 324.5 177.1 323.9 177.8 324.4 178.5 324.1 179.1 323.0 179.8 324.7 180.5 324.4 181.1 323.4 181.8 323.1 182.5 323.6 183.2 323.7 183.8 324.8 184.5 323.6 185.2 322.7 185.8 323.6 186.5 322.4 187.2 322.4 187.9 323.2 188.5 322.7 189.2 321.9 189.9 322.7 190.6 324.6 M195.9 347.6 L196.6 348.7 197.3 348.7 197.9 348.8 198.6 348.4 199.3 347.3 200.0 347.7 200.6 346.9 201.3 345.7 202.0 344.9 202.7 345.5 203.3 344.6 204.0 345.7 204.7 343.5 205.3 343.2 206.0 344.8 206.7 341.9 207.4 342.8 208.0 341.8 208.7 341.1 209.4 340.4 210.0 340.9 210.7 341.5 211.4 340.8 212.1 340.0 212.7 340.3 213.4 339.3 214.1 339.4 214.8 339.7 215.4 338.8 216.1 339.0 216.8 338.3 217.4 337.4 218.1 338.6 218.8 337.2 219.5 338.3 220.1 338.0 220.8 338.1 221.5 337.5 222.1 336.8 222.8 336.2 223.5 336.3 224.2 336.1 224.8 336.9 225.5 335.1 226.2 336.6 226.9 335.7 227.5 335.9 228.2 336.1" fill="none" stroke="#333" stroke-width="2.8" stroke-linejoin="round" opacity="0.9"/>
<path d="M80.3 345.3 80.6 337.9 80.8 341.8 81.1 339.8 81.3 339.5 81.6 339.3 M84.8 300.6 L85.1 300.9 85.3 302.0 85.6 305.1 85.8 304.4 86.1 303.6 86.3 304.9 86.6 306.8 86.8 309.6 87.1 307.0 87.3 307.7 87.6 310.2 87.8 308.0 88.1 309.6 88.3 312.0 88.6 312.2 88.8 312.2 89.1 313.7 89.3 309.1 89.6 315.6 89.8 313.3 90.1 312.9 90.3 316.3 90.6 317.4 90.8 316.1 91.1 315.5 91.3 317.6 91.6 317.9 91.8 320.5 92.1 319.9 92.3 319.5 92.6 321.3 92.8 319.8 93.1 319.1 93.3 321.8 93.6 322.2 93.8 321.3 94.1 320.6 94.3 322.3 94.6 318.3 94.8 323.3 95.1 323.1 95.3 320.1 95.6 322.8 95.8 321.4 96.1 324.2 96.3 320.1 96.6 322.0 96.8 324.6 97.1 325.4 97.3 320.6 97.6 323.2 97.8 324.6 98.1 323.4 98.3 326.9 98.6 322.7 98.9 325.0 99.1 322.9 99.4 326.5 99.6 324.3 99.9 323.8 100.1 321.7 100.4 326.8 100.6 325.4 100.9 325.4 101.1 325.9 101.4 324.7 101.6 323.2 101.9 322.9 102.1 322.9 102.4 326.1 102.6 321.9 102.9 323.1 103.1 323.5 103.4 324.3 103.6 324.8 103.9 322.1 104.1 321.3 104.4 323.9 104.6 325.7 104.9 325.0 105.1 324.1 105.4 323.3 105.6 324.2 105.9 323.4 106.1 324.9 106.4 322.5 106.6 323.9 106.9 323.5 107.1 324.4 107.4 323.9 107.6 327.4 107.9 325.8 108.1 325.7 108.4 320.4 108.6 322.9 108.9 322.5 109.1 324.2 109.4 319.9 109.6 325.1 109.9 324.9 110.1 321.4 110.4 321.9 110.6 322.2 110.9 323.5 111.1 324.4 111.4 326.5 111.6 323.2 111.9 324.7 112.1 323.8 112.4 326.2 112.6 324.7 112.9 325.7 113.1 322.0 113.4 323.4 113.6 322.5 113.9 326.0 114.1 324.8 114.4 323.3 114.6 323.2 114.9 324.6 115.1 322.8 115.4 322.5 115.6 324.7 115.9 327.7 116.1 323.6 116.4 323.2 116.6 322.3 116.9 322.1 117.1 324.9 117.4 325.4 117.7 324.2 117.9 324.7 118.2 324.4 118.4 324.5 118.7 322.0 118.9 323.6 119.2 324.5 119.4 323.2 119.7 323.7 119.9 323.2 120.2 324.0 120.4 325.8 120.7 324.4 120.9 325.5 121.2 327.8 121.4 328.3 121.7 330.7 121.9 325.8 122.2 331.0 122.4 329.8 M125.4 341.9 L125.7 345.2 125.9 342.3 126.2 342.0 126.4 343.2 126.7 344.3 126.9 342.6 127.2 344.4 127.4 344.1 127.7 346.9 127.9 343.8 128.2 346.6 128.4 344.4 128.7 344.3 128.9 344.9 129.2 344.5 129.4 346.8 129.7 348.5 129.9 347.4 130.2 348.1 130.4 349.6 130.7 347.6 130.9 347.5 131.2 346.8 131.4 344.8 131.7 348.3 131.9 344.6 132.2 348.2 132.4 347.2 132.7 348.9 132.9 347.1 133.2 346.0 133.4 347.7 133.7 346.4 133.9 346.9 134.2 347.3 134.4 347.0 134.7 346.9 134.9 346.0 135.2 346.9 135.4 344.0 135.7 347.0 136.0 345.3 136.2 348.6 136.5 348.7 136.7 343.7 137.0 346.7 137.2 346.1 137.5 344.6 137.7 346.8 138.0 345.2 138.2 343.1 138.5 345.2 138.7 345.2 139.0 345.5 139.2 343.3 139.5 345.9 139.7 346.0 140.0 343.0 140.2 343.6 140.5 344.3 140.7 343.4 141.0 346.7 141.2 344.3 141.5 342.3 141.7 342.5 142.0 343.4 142.2 346.8 142.5 343.0 142.7 343.3 143.0 343.7 143.2 342.7 143.5 346.0 143.7 341.6 144.0 343.4 144.2 342.3 144.5 342.9 144.7 340.0 145.0 344.3 145.2 341.3 145.5 341.3 145.7 339.7 146.0 339.9 146.2 341.6 146.5 342.1 146.7 341.6 147.0 342.1 147.2 341.2 147.5 340.0 147.7 341.0 148.0 340.5 148.2 339.3 148.5 340.4 148.7 341.1 149.0 339.3 149.2 338.3 149.5 339.7 149.7 341.3 150.0 338.1 150.2 338.3 150.5 338.2 150.7 340.2 151.0 335.5 151.2 338.8 151.5 340.0 151.7 337.0 152.0 340.4 152.2 338.9 152.5 337.2 152.7 338.3 M155.8 300.7 L156.0 299.9 156.3 303.3 156.5 302.7 156.8 302.1 157.0 304.5 157.3 307.7 157.5 306.7 157.8 309.7 158.0 311.5 158.3 310.1 158.5 309.0 158.8 309.3 159.0 311.9 159.3 313.9 159.5 313.6 159.8 314.6 160.0 313.7 160.3 315.5 160.5 315.0 160.8 315.8 161.0 315.0 161.3 315.2 161.5 317.4 161.8 317.0 162.0 317.4 162.3 320.1 162.5 319.1 162.8 323.9 163.0 321.1 163.3 319.0 163.5 321.3 163.8 320.9 164.0 319.5 164.3 322.4 164.5 319.8 164.8 316.6 165.0 322.5 165.3 320.6 165.5 323.9 165.8 320.8 166.0 320.1 166.3 324.3 166.5 320.5 166.8 322.5 167.0 324.5 167.3 322.6 167.5 322.4 167.8 322.8 168.0 324.0 168.3 321.6 168.5 323.8 168.8 323.9 169.0 326.6 169.3 322.7 169.5 322.0 169.8 324.6 170.0 323.0 170.3 324.1 170.5 324.0 170.8 325.6 171.0 323.0 171.3 324.0 171.5 320.4 171.8 323.0 172.0 326.7 172.3 323.5 172.5 323.6 172.8 322.9 173.1 325.7 173.3 325.2 173.6 323.2 173.8 325.9 174.1 325.3 174.3 326.0 174.6 323.9 174.8 327.4 175.1 325.4 175.3 324.5 175.6 323.9 175.8 324.3 176.1 325.9 176.3 324.1 176.6 326.1 176.8 325.3 177.1 326.4 177.3 325.6 177.6 324.3 177.8 321.4 178.1 324.7 178.3 325.4 178.6 324.4 178.8 325.0 179.1 323.4 179.3 323.5 179.6 322.6 179.8 326.0 180.1 324.2 180.3 323.2 180.6 321.9 180.8 323.6 181.1 326.0 181.3 324.5 181.6 322.7 181.8 325.9 182.1 325.8 182.3 325.1 182.6 324.8 182.8 325.3 183.1 324.4 183.3 324.7 183.6 322.3 183.8 325.7 184.1 323.8 184.3 326.4 184.6 320.3 184.8 324.4 185.1 324.8 185.3 322.7 185.6 323.9 185.8 324.3 186.1 324.0 186.3 322.3 186.6 322.9 186.8 324.6 187.1 325.0 187.3 323.2 187.6 323.1 187.8 323.2 188.1 324.5 188.3 321.3 188.6 320.8 188.8 323.0 189.1 321.1 189.3 321.9 189.6 322.8 189.8 323.8 190.1 322.1 190.3 325.5 190.6 322.3 190.8 326.4 191.1 323.9 191.4 324.9 M195.4 345.9 L195.6 347.9 195.9 346.7 196.1 349.2 196.4 349.8 196.6 348.3 196.9 349.4 197.1 349.1 197.4 351.7 197.6 352.9 197.9 348.6 198.1 348.6 198.4 345.0 198.6 348.6 198.9 348.1 199.1 346.3 199.4 348.9 199.6 345.2 199.9 347.1 200.1 347.5 200.4 345.2 200.6 348.2 200.9 348.3 201.1 344.5 201.4 344.3 201.6 347.1 201.9 346.0 202.1 344.0 202.4 345.2 202.6 345.3 202.9 345.1 203.1 346.4 203.4 345.5 203.6 347.4 203.9 346.7 204.1 345.4 204.4 345.9 204.6 346.0 204.9 344.9 205.1 341.9 205.4 344.8 205.6 343.5 205.9 345.6 206.1 343.1 206.4 343.6 206.6 343.1 206.9 345.0 207.1 342.6 207.4 341.7 207.6 342.4 207.9 341.1 208.1 341.8 208.4 341.4 208.6 341.7 208.9 344.1 209.1 340.5 209.4 341.1 209.6 340.6 209.9 341.8 210.2 339.0 210.4 339.6 210.7 340.5 210.9 341.3 211.2 340.3 211.4 339.5 211.7 338.9 211.9 340.8 212.2 342.1 212.4 340.4 212.7 340.1 212.9 340.4 213.2 338.2 213.4 339.0 213.7 339.0 213.9 339.8 214.2 339.2 214.4 337.3 214.7 340.7 214.9 341.5 215.2 338.5 215.4 339.4 215.7 339.1 215.9 339.7 216.2 336.3 216.4 340.8 216.7 337.6 216.9 340.1 217.2 338.2 217.4 337.4 217.7 337.7 217.9 339.2 218.2 336.5 218.4 337.2 218.7 337.0 218.9 335.0 219.2 339.5 219.4 338.4 219.7 337.4 219.9 339.1 220.2 335.9 220.4 337.2 220.7 339.8 220.9 338.6 221.2 333.8 221.4 332.0 221.7 335.4 221.9 338.5 222.2 336.2 222.4 336.5 222.7 337.7 222.9 335.4 223.2 337.0 223.4 337.8 223.7 337.2 223.9 337.1 224.2 335.5 224.4 337.1 224.7 335.7 224.9 338.2 225.2 340.0 225.4 335.0 225.7 332.8 225.9 335.4 226.2 336.5 226.4 337.5 226.7 337.5 226.9 334.6 227.2 334.5 227.4 337.6 227.7 334.0 227.9 337.2 228.2 335.2" fill="none" stroke="#111" stroke-width="0.7" stroke-linejoin="round"/>
<path d="M81.6 339.3 L81.8 338.6 82.1 338.4 82.3 337.2 82.6 337.2 82.8 335.4 83.1 329.7 83.3 321.3 83.6 312.9 83.8 304.6 84.1 301.7 84.3 298.9 84.6 299.6 84.8 300.6 M122.4 329.8 L122.7 331.3 122.9 332.3 123.2 333.3 123.4 334.3 123.7 335.2 123.9 336.5 124.2 337.1 124.4 338.2 124.7 339.4 124.9 340.1 125.2 341.8 125.4 341.9 M152.7 338.3 L153.0 337.6 153.2 337.8 153.5 338.3 153.7 335.5 154.0 333.9 154.2 331.3 154.5 326.8 154.8 318.0 155.0 309.0 155.3 300.8 155.5 300.1 155.8 300.7 M191.4 324.9 L191.6 327.6 191.9 328.0 192.1 328.9 192.4 330.3 192.6 331.9 192.9 333.2 193.1 334.5 193.4 336.1 193.6 337.1 193.9 338.5 194.1 339.9 194.4 341.7 194.6 343.0 194.9 344.4 195.1 345.2 195.4 345.9" fill="none" stroke="#555" stroke-width="0.55" stroke-linejoin="round"/>
<text x="5.3" y="411.2" font-size="7.9" text-anchor="start" font-weight="normal" fill="#1a1a1a" stroke="#1a1a1a" stroke-width="0.2" >NF4 amacrine</text>
<rect x="81.1" y="413.2" width="35.9" height="2.2" fill="#fff" stroke="#777" stroke-width="0.5"/>
<rect x="117.0" y="413.1" width="36.2" height="2.5" fill="#111"/>
<rect x="153.2" y="413.2" width="35.7" height="2.2" fill="#fff" stroke="#777" stroke-width="0.5"/>
<rect x="188.9" y="413.1" width="35.8" height="2.5" fill="#111"/>
<text x="81.5" y="411.0" font-size="7.9" text-anchor="start" font-weight="normal" fill="#1a1a1a" stroke="#1a1a1a" stroke-width="0.2" >ON</text>
<text x="117.3" y="411.0" font-size="7.9" text-anchor="start" font-weight="normal" fill="#1a1a1a" stroke="#1a1a1a" stroke-width="0.2" >OFF</text>
<text x="72.7" y="493.6" font-size="7.9" text-anchor="start" font-weight="normal" fill="#1a1a1a" stroke="#1a1a1a" stroke-width="0.2" >-43 mV</text>
<line x1="204.3" y1="482.9" x2="204.3" y2="493.4" stroke="#777" stroke-width="0.6"/>
<text x="208.5" y="491.6" font-size="7.9" text-anchor="start" font-weight="normal" fill="#1a1a1a" stroke="#1a1a1a" stroke-width="0.2" >1 mV</text>
<path d="M87.0 444.3 L87.7 444.8 88.4 447.6 89.0 448.9 89.7 450.7 90.4 452.4 91.1 453.0 91.7 455.8 92.4 455.5 93.1 457.6 93.7 458.8 94.4 458.7 95.1 460.9 95.8 461.5 96.4 462.0 97.1 463.5 97.8 464.7 98.5 465.4 99.1 465.6 99.8 466.0 100.5 466.7 101.1 468.2 101.8 468.6 102.5 468.7 103.2 468.9 103.8 469.1 104.5 469.6 105.2 470.6 105.8 470.2 106.5 470.4 107.2 470.9 107.9 471.0 108.5 470.9 109.2 471.9 109.9 472.4 110.6 471.3 111.2 471.4 111.9 471.0 112.6 471.4 113.2 470.4 113.9 471.0 114.6 471.7 115.3 470.2 115.9 470.6 116.6 470.5 117.3 470.1 117.9 470.9 M122.7 449.8 L123.3 448.6 124.0 448.6 124.7 449.3 125.3 451.2 126.0 452.8 126.7 453.0 127.4 454.5 128.0 454.7 128.7 454.6 129.4 455.4 130.0 456.2 130.7 456.6 131.4 457.2 132.1 457.6 132.7 458.4 133.4 458.1 134.1 458.3 134.8 458.6 135.4 459.2 136.1 458.9 136.8 458.9 137.4 459.1 138.1 460.8 138.8 460.4 139.5 461.3 140.1 461.2 140.8 461.2 141.5 462.3 142.1 462.4 142.8 463.2 143.5 461.6 144.2 462.2 144.8 462.9 145.5 462.1 146.2 463.9 146.9 463.6 147.5 464.3 148.2 464.5 148.9 466.2 149.5 466.4 150.2 465.8 150.9 466.1 151.6 468.2 152.2 468.6 M157.6 450.3 L158.3 451.2 159.0 452.3 159.6 454.2 160.3 454.8 161.0 455.4 161.6 457.9 162.3 458.9 163.0 460.5 163.7 461.9 164.3 464.3 165.0 465.1 165.7 466.8 166.4 466.7 167.0 466.5 167.7 467.8 168.4 468.2 169.0 467.7 169.7 467.8 170.4 468.7 171.1 468.9 171.7 468.5 172.4 471.1 173.1 469.4 173.7 470.9 174.4 470.6 175.1 470.7 175.8 470.8 176.4 471.0 177.1 470.3 177.8 470.5 178.5 472.2 179.1 471.6 179.8 472.7 180.5 472.2 181.1 472.1 181.8 472.3 182.5 472.5 183.2 472.1 183.8 472.9 184.5 473.7 185.2 473.8 185.8 473.3 186.5 474.4 187.2 474.2 187.9 474.4 188.5 472.8 M193.9 449.9 L194.6 449.1 195.3 451.2 195.9 452.4 196.6 454.3 197.3 456.1 197.9 457.1 198.6 457.6 199.3 457.9 200.0 458.7 200.6 457.5 201.3 458.7 202.0 457.9 202.7 458.3 203.3 458.4 204.0 459.6 204.7 458.8 205.3 460.5 206.0 459.5 206.7 460.0 207.4 459.6 208.0 460.4 208.7 459.3 209.4 460.3 210.0 460.2 210.7 461.6 211.4 460.7 212.1 460.3 212.7 464.0 213.4 463.9 214.1 464.5 214.8 466.2 215.4 466.8 216.1 466.5 216.8 466.2 217.4 467.8 218.1 467.5 218.8 467.1 219.5 467.9 220.1 468.6 220.8 468.4 221.5 468.9 222.1 470.3 222.8 469.9 223.5 471.3 224.2 471.6 224.8 470.9 225.5 472.6 226.2 472.9 226.9 472.4 227.5 473.9 228.2 474.2" fill="none" stroke="#333" stroke-width="2.6" stroke-linejoin="round" opacity="0.9"/>
<path d="M81.6 482.0 L81.8 481.4 M86.1 441.2 L86.3 444.1 86.6 440.2 86.8 443.5 87.1 443.0 87.3 446.1 87.6 442.8 87.8 446.1 88.1 447.4 88.3 445.6 88.6 449.6 88.8 449.1 89.1 450.8 89.3 451.3 89.6 449.2 89.8 450.0 90.1 451.4 90.3 453.3 90.6 454.0 90.8 452.4 91.1 453.1 91.3 453.4 91.6 454.2 91.8 455.0 92.1 455.6 92.3 459.0 92.6 455.8 92.8 456.5 93.1 457.9 93.3 456.3 93.6 457.5 93.8 458.4 94.1 459.9 94.3 457.3 94.6 461.5 94.8 459.4 95.1 460.6 95.3 461.9 95.6 462.0 95.8 462.9 96.1 462.1 96.3 462.1 96.6 462.8 96.8 461.3 97.1 464.7 97.3 462.2 97.6 461.8 97.8 466.8 98.1 464.0 98.3 462.8 98.6 467.4 98.9 464.6 99.1 466.9 99.4 464.5 99.6 465.6 99.9 463.9 100.1 463.9 100.4 465.5 100.6 467.1 100.9 468.6 101.1 471.2 101.4 466.6 101.6 469.8 101.9 467.8 102.1 468.6 102.4 466.9 102.6 467.0 102.9 468.1 103.1 467.6 103.4 469.4 103.6 468.6 103.9 471.4 104.1 470.0 104.4 470.2 104.6 471.7 104.9 470.9 105.1 470.3 105.4 470.3 105.6 470.4 105.9 472.2 106.1 471.9 106.4 471.4 106.6 472.2 106.9 470.4 107.1 472.0 107.4 469.5 107.6 473.4 107.9 471.7 108.1 471.8 108.4 472.4 108.6 471.5 108.9 471.1 109.1 473.1 109.4 471.6 109.6 470.1 109.9 472.0 110.1 469.0 110.4 473.6 110.6 471.1 110.9 471.3 111.1 474.4 111.4 474.2 111.6 471.3 111.9 472.0 112.1 472.7 112.4 473.5 112.6 470.9 112.9 471.2 113.1 472.7 113.4 471.4 113.6 472.0 113.9 471.8 114.1 469.3 114.4 469.7 114.6 467.2 114.9 470.5 115.1 472.7 115.4 469.2 115.6 472.5 115.9 472.1 116.1 470.6 116.4 470.7 116.6 470.8 116.9 469.4 117.1 470.2 117.4 470.5 117.7 471.4 117.9 471.6 118.2 469.5 118.4 471.0 118.7 468.0 118.9 468.1 119.2 468.1 M122.2 450.4 L122.4 452.4 122.7 449.7 122.9 448.7 123.2 447.7 123.4 450.4 123.7 449.6 123.9 448.8 124.2 448.7 124.4 450.7 124.7 450.5 124.9 448.2 125.2 451.6 125.4 451.4 125.7 451.6 125.9 453.4 126.2 453.0 126.4 449.4 126.7 455.9 126.9 455.3 127.2 453.8 127.4 453.7 127.7 454.7 127.9 452.7 128.2 455.1 128.4 454.5 128.7 454.5 128.9 453.9 129.2 454.4 129.4 457.1 129.7 457.6 129.9 456.6 130.2 456.0 130.4 455.0 130.7 457.4 130.9 458.8 131.2 454.5 131.4 458.5 131.7 454.0 131.9 456.7 132.2 457.9 132.4 455.6 132.7 455.6 132.9 458.2 133.2 459.3 133.4 457.6 133.7 460.2 133.9 457.3 134.2 461.0 134.4 458.8 134.7 459.1 134.9 459.7 135.2 459.4 135.4 461.6 135.7 462.2 136.0 460.0 136.2 459.1 136.5 457.8 136.7 458.5 137.0 459.6 137.2 459.6 137.5 459.8 137.7 459.9 138.0 460.7 138.2 458.2 138.5 458.8 138.7 461.9 139.0 461.6 139.2 459.8 139.5 462.4 139.7 459.8 140.0 460.5 140.2 458.4 140.5 462.2 140.7 461.1 141.0 462.7 141.2 462.3 141.5 461.6 141.7 461.8 142.0 463.3 142.2 461.5 142.5 461.6 142.7 462.1 143.0 463.2 143.2 463.5 143.5 465.0 143.7 462.3 144.0 464.3 144.2 461.7 144.5 463.5 144.7 463.0 145.0 465.3 145.2 463.9 145.5 462.6 145.7 464.2 146.0 464.1 146.2 463.3 146.5 463.6 146.7 462.8 147.0 468.2 147.2 464.7 147.5 466.1 147.7 463.3 148.0 463.6 148.2 465.1 148.5 465.2 148.7 466.8 149.0 464.4 149.2 466.8 149.5 468.3 149.7 465.1 150.0 467.8 150.2 465.4 150.5 467.4 150.7 467.6 151.0 469.7 151.2 466.5 151.5 467.9 151.7 469.3 152.0 466.4 152.2 468.2 152.5 467.2 152.7 467.6 153.0 469.7 153.2 469.9 M157.3 449.6 L157.5 448.7 157.8 450.7 158.0 451.0 158.3 449.2 158.5 453.3 158.8 450.0 159.0 452.9 159.3 451.5 159.5 452.3 159.8 452.8 160.0 455.2 160.3 452.9 160.5 454.8 160.8 457.8 161.0 455.2 161.3 456.7 161.5 458.2 161.8 457.0 162.0 459.1 162.3 458.1 162.5 460.5 162.8 460.2 163.0 459.4 163.3 463.2 163.5 461.6 163.8 461.9 164.0 461.6 164.3 462.8 164.5 463.9 164.8 464.8 165.0 466.7 165.3 463.7 165.5 465.2 165.8 467.5 166.0 466.3 166.3 466.7 166.5 468.5 166.8 466.9 167.0 467.2 167.3 466.7 167.5 469.3 167.8 468.5 168.0 466.1 168.3 468.1 168.5 465.8 168.8 469.1 169.0 468.7 169.3 467.6 169.5 467.4 169.8 465.6 170.0 469.4 170.3 468.3 170.5 468.1 170.8 469.7 171.0 467.9 171.3 468.2 171.5 468.2 171.8 467.4 172.0 472.8 172.3 469.3 172.5 469.2 172.8 471.1 173.1 465.6 173.3 470.1 173.6 470.3 173.8 468.9 174.1 471.0 174.3 467.6 174.6 470.5 174.8 471.8 175.1 467.5 175.3 468.6 175.6 470.5 175.8 470.7 176.1 469.9 176.3 471.3 176.6 471.2 176.8 469.0 177.1 470.8 177.3 469.2 177.6 468.2 177.8 467.8 178.1 472.6 178.3 471.1 178.6 474.0 178.8 469.3 179.1 470.9 179.3 472.0 179.6 471.3 179.8 472.3 180.1 471.9 180.3 470.9 180.6 468.6 180.8 470.6 181.1 474.4 181.3 473.1 181.6 474.0 181.8 471.3 182.1 472.0 182.3 471.1 182.6 472.9 182.8 472.5 183.1 473.2 183.3 475.1 183.6 471.5 183.8 473.8 184.1 470.9 184.3 474.5 184.6 472.4 184.8 473.0 185.1 473.4 185.3 475.6 185.6 473.3 185.8 472.8 186.1 471.9 186.3 474.0 186.6 472.5 186.8 473.1 187.1 473.8 187.3 474.9 187.6 473.0 187.8 475.1 188.1 476.7 188.3 472.2 188.6 476.3 188.8 477.5 189.1 473.7 M193.1 450.9 L193.4 449.3 193.6 448.4 193.9 447.8 194.1 448.2 194.4 448.0 194.6 449.9 194.9 448.3 195.1 452.1 195.4 450.1 195.6 452.8 195.9 453.9 196.1 451.3 196.4 455.1 196.6 457.2 196.9 454.2 197.1 456.2 197.4 455.8 197.6 456.7 197.9 456.9 198.1 456.7 198.4 458.5 198.6 458.8 198.9 457.6 199.1 459.8 199.4 459.3 199.6 458.8 199.9 456.9 200.1 460.7 200.4 459.9 200.6 455.2 200.9 456.7 201.1 457.6 201.4 459.7 201.6 460.2 201.9 458.1 202.1 459.0 202.4 459.7 202.6 457.0 202.9 459.7 203.1 458.5 203.4 459.3 203.6 459.0 203.9 457.5 204.1 457.8 204.4 459.3 204.6 459.4 204.9 458.9 205.1 460.8 205.4 458.9 205.6 457.7 205.9 459.0 206.1 459.3 206.4 459.4 206.6 461.2 206.9 460.4 207.1 461.2 207.4 460.6 207.6 459.5 207.9 461.3 208.1 459.5 208.4 460.3 208.6 458.6 208.9 460.1 209.1 459.6 209.4 460.6 209.6 462.7 209.9 463.5 210.2 461.6 210.4 460.2 210.7 461.5 210.9 460.9 211.2 460.1 211.4 461.2 211.7 461.3 211.9 461.1 212.2 464.2 212.4 461.9 212.7 462.3 212.9 464.3 213.2 462.7 213.4 462.4 213.7 463.2 213.9 465.4 214.2 465.6 214.4 465.8 214.7 465.1 214.9 464.8 215.2 467.7 215.4 464.7 215.7 466.5 215.9 465.1 216.2 466.5 216.4 466.9 216.7 469.0 216.9 463.3 217.2 469.4 217.4 466.3 217.7 468.1 217.9 468.9 218.2 466.8 218.4 467.9 218.7 468.8 218.9 468.0 219.2 467.3 219.4 468.7 219.7 468.7 219.9 466.5 220.2 470.6 220.4 469.1 220.7 465.5 220.9 467.9 221.2 471.5 221.4 471.5 221.7 469.7 221.9 467.1 222.2 469.2 222.4 471.2 222.7 470.5 222.9 469.7 223.2 469.3 223.4 471.8 223.7 470.5 223.9 471.5 224.2 472.0 224.4 473.8 224.7 472.0 224.9 472.3 225.2 469.7 225.4 474.0 225.7 473.9 225.9 472.9 226.2 469.9 226.4 472.6 226.7 473.7 226.9 476.8 227.2 474.9 227.4 475.4 227.7 475.6 227.9 476.6 228.2 473.4" fill="none" stroke="#111" stroke-width="0.7" stroke-linejoin="round"/>
<path d="M80.3 476.9 80.6 478.0 80.8 479.4 81.1 480.3 81.3 480.8 81.6 482.0 M81.8 481.4 L82.1 482.5 82.3 482.4 82.6 483.0 82.8 475.1 83.1 465.8 83.3 456.7 83.6 449.0 83.8 440.9 84.1 434.0 84.3 425.8 84.6 429.3 84.8 431.8 85.1 434.4 85.3 437.3 85.6 439.6 85.8 440.5 86.1 441.2 M119.2 468.1 L119.4 466.8 119.7 466.0 119.9 465.3 120.2 463.6 120.4 461.5 120.7 459.6 120.9 457.8 121.2 455.6 121.4 453.9 121.7 451.6 121.9 450.3 122.2 450.4 M153.2 469.9 L153.5 469.6 153.7 469.5 154.0 469.7 154.2 465.9 154.5 459.8 154.8 453.7 155.0 446.9 155.3 441.4 155.5 440.9 155.8 442.2 156.0 443.7 156.3 445.3 156.5 446.8 156.8 447.8 157.0 449.3 157.3 449.6 M189.1 473.7 L189.3 474.9 189.6 474.6 189.8 474.1 190.1 472.6 190.3 471.4 190.6 469.7 190.8 468.4 191.1 467.1 191.4 465.6 191.6 463.6 191.9 460.6 192.1 457.3 192.4 454.5 192.6 451.6 192.9 450.7 193.1 450.9" fill="none" stroke="#555" stroke-width="0.55" stroke-linejoin="round"/>
<text x="5.3" y="541.9" font-size="7.9" text-anchor="start" font-weight="normal" fill="#1a1a1a" stroke="#1a1a1a" stroke-width="0.2" >NF5 amacrine</text>
<text x="5.3" y="552.3" font-size="7.9" text-anchor="start" font-weight="normal" fill="#1a1a1a" stroke="#1a1a1a" stroke-width="0.2" >(Narrow diffuse)</text>
<rect x="79.9" y="542.7" width="35.7" height="2.2" fill="#fff" stroke="#777" stroke-width="0.5"/>
<rect x="115.6" y="542.5" width="35.8" height="2.5" fill="#111"/>
<rect x="151.4" y="542.7" width="36.1" height="2.2" fill="#fff" stroke="#777" stroke-width="0.5"/>
<rect x="187.5" y="542.5" width="35.0" height="2.5" fill="#111"/>
<text x="80.3" y="541.5" font-size="7.9" text-anchor="start" font-weight="normal" fill="#1a1a1a" stroke="#1a1a1a" stroke-width="0.2" >ON</text>
<text x="115.9" y="541.5" font-size="7.9" text-anchor="start" font-weight="normal" fill="#1a1a1a" stroke="#1a1a1a" stroke-width="0.2" >OFF</text>
<text x="74.0" y="623.0" font-size="7.9" text-anchor="start" font-weight="normal" fill="#1a1a1a" stroke="#1a1a1a" stroke-width="0.2" >-51 mV</text>
<line x1="204.3" y1="611.8" x2="204.3" y2="621.6" stroke="#777" stroke-width="0.6"/>
<text x="208.5" y="619.9" font-size="7.9" text-anchor="start" font-weight="normal" fill="#1a1a1a" stroke="#1a1a1a" stroke-width="0.2" >2 mV</text>
<path d="M80.3 608.2 80.6 607.9 80.8 608.2 81.1 608.3 81.3 608.5 81.6 607.9 81.8 607.5 82.1 607.2 82.3 607.8 M84.8 572.2 L85.1 571.0 85.3 569.9 85.6 569.7 85.8 569.2 86.1 568.7 86.3 568.9 86.6 568.8 86.8 567.4 87.1 567.8 87.3 567.2 87.6 567.4 87.8 566.6 88.1 566.5 88.3 565.8 88.6 565.1 88.8 564.1 89.1 563.7 89.3 562.8 89.6 562.0 89.8 563.2 90.1 563.2 90.3 564.9 90.6 565.3 90.8 564.8 M96.6 593.9 L96.8 595.0 97.1 595.9 97.3 597.2 97.6 597.7 97.8 598.8 98.1 600.0 98.3 600.9 98.6 600.9 98.8 602.0 99.1 601.3 99.3 601.6 99.6 601.9 99.8 603.2 100.1 602.9 100.3 602.9 100.6 603.1 100.8 604.1 101.1 603.7 101.3 603.9 101.6 605.0 101.8 604.5 102.1 605.2 102.3 605.6 102.6 605.5 102.8 605.6 103.1 606.2 103.3 605.4 103.6 605.0 103.8 604.8 104.1 605.5 104.3 605.4 104.6 605.6 104.8 605.3 105.1 605.3 105.3 605.1 105.6 605.2 105.8 605.5 106.1 605.2 106.3 605.4 106.6 606.2 106.8 605.6 107.1 604.6 107.3 606.1 107.6 605.4 107.8 604.8 108.1 605.7 108.3 605.2 108.6 604.9 108.8 604.9 109.1 604.7 109.3 605.2 109.6 605.6 109.8 605.0 110.1 605.3 110.4 605.9 110.6 604.5 110.9 605.1 111.1 604.8 111.4 604.5 111.6 604.5 111.9 604.9 112.1 605.0 112.4 604.6 112.6 604.8 112.9 605.1 113.1 604.9 113.4 605.1 113.6 604.9 113.9 604.9 114.1 605.4 114.4 604.9 114.6 604.6 114.9 604.9 115.1 604.1 115.4 604.3 115.6 604.8 115.9 604.7 116.1 605.1 116.4 604.4 116.6 603.7 116.9 605.2 117.1 604.8 117.4 603.8 117.6 604.8 117.9 604.2 118.1 603.3 118.4 603.9 118.6 603.9 M122.6 555.7 L122.9 556.5 123.1 556.2 123.4 557.6 123.6 558.3 123.9 557.2 124.1 558.6 124.4 559.2 124.6 560.2 124.9 560.4 125.1 560.9 125.4 561.5 125.6 562.9 125.9 563.5 126.1 562.9 126.4 563.2 126.6 565.1 126.9 563.7 127.1 564.2 127.4 564.7 127.6 565.1 127.9 565.6 128.1 565.6 128.4 565.3 128.6 566.2 128.9 566.2 129.1 567.1 129.4 566.4 129.6 566.0 129.9 566.3 130.1 567.5 130.4 566.8 130.6 566.2 130.9 567.1 131.1 567.5 131.4 568.2 131.6 567.4 131.9 568.3 132.1 568.5 132.4 568.0 132.6 568.3 132.9 569.4 133.1 569.5 133.4 569.3 133.6 569.5 133.9 570.4 134.1 570.3 134.4 570.9 134.6 571.0 134.9 571.9 135.1 572.4 135.4 574.2 135.6 573.4 135.9 574.5 136.1 575.1 136.4 574.9 136.6 576.0 136.9 575.0 137.1 576.5 137.4 577.4 137.6 576.4 137.9 577.4 138.1 578.9 138.4 578.8 138.6 579.0 138.9 579.8 139.1 580.2 139.4 581.3 139.6 581.6 139.9 581.8 140.2 582.1 140.4 582.9 140.7 584.0 140.9 584.1 141.2 584.5 141.4 584.3 141.7 583.9 141.9 584.4 142.2 585.1 142.4 585.0 142.7 584.8 142.9 584.6 143.2 585.5 143.4 585.5 143.7 585.6 143.9 585.8 144.2 586.3 144.4 586.4 144.7 586.9 144.9 587.0 145.2 587.4 145.4 587.3 145.7 586.9 145.9 587.2 146.2 587.6 146.4 587.4 146.7 588.0 146.9 588.4 147.2 587.7 147.4 587.4 147.7 588.9 147.9 588.5 148.2 588.9 148.4 588.1 148.7 589.6 148.9 589.3 149.2 589.1 149.4 589.1 149.7 589.4 149.9 589.5 150.2 589.5 150.4 589.3 150.7 590.5 150.9 590.0 151.2 590.2 151.4 590.4 151.7 589.4 151.9 590.8 152.2 590.6 152.4 590.7 152.7 591.0 152.9 590.7 153.2 591.8 153.4 591.3 153.7 591.5 153.9 591.7 M156.9 565.1 L157.2 564.8 157.4 565.1 157.7 565.4 157.9 564.2 158.2 563.6 158.4 563.5 M165.2 585.3 L165.4 586.4 165.7 587.2 165.9 587.7 166.2 587.4 166.4 588.6 166.7 589.3 166.9 589.5 167.2 590.7 167.4 591.1 167.7 591.6 167.9 593.1 168.2 593.7 168.4 594.2 168.7 594.8 168.9 595.4 169.2 595.9 169.5 596.3 169.7 596.9 170.0 597.2 170.2 598.0 170.5 598.5 170.7 598.9 171.0 598.8 171.2 599.3 171.5 600.2 171.7 600.4 172.0 600.9 172.2 600.2 172.5 600.5 172.7 602.3 173.0 602.8 173.2 603.7 173.5 603.8 173.7 603.7 174.0 603.7 174.2 603.2 174.5 604.3 174.7 603.8 175.0 604.4 175.2 604.4 175.5 604.6 175.7 605.0 176.0 604.5 176.2 604.6 176.5 604.5 176.7 604.9 177.0 605.9 177.2 605.1 177.5 606.0 177.7 605.9 178.0 606.0 178.2 606.2 178.5 605.5 178.7 606.2 179.0 606.9 179.2 606.0 179.5 606.4 179.7 606.2 180.0 606.8 180.2 606.3 180.5 607.6 180.7 606.9 181.0 606.5 181.2 608.1 181.5 607.8 181.7 607.8 182.0 607.9 182.2 607.6 182.5 607.8 182.7 608.3 183.0 608.6 183.2 608.7 183.5 608.5 183.7 608.3 184.0 608.5 184.2 609.0 184.5 609.0 184.7 608.1 185.0 607.9 185.2 608.6 185.5 608.2 185.7 608.1 186.0 607.1 186.2 607.4 186.5 607.2 186.7 607.4 187.0 606.4 187.2 607.7 187.5 607.1 187.7 607.1 188.0 606.2 188.2 606.6 188.5 607.1 188.7 605.7 189.0 606.4 189.2 606.5 189.5 605.8 M194.0 560.1 L194.2 560.5 194.5 561.1 194.7 562.1 195.0 563.5 195.2 562.9 195.5 563.8 195.7 565.2 196.0 565.2 196.2 566.8 196.5 566.8 196.7 567.3 197.0 567.6 197.2 568.4 197.5 568.2 197.7 568.3 198.0 568.4 198.2 567.8 198.5 568.3 198.7 569.6 199.0 569.5 199.3 569.5 199.5 569.8 199.8 569.5 200.0 570.1 200.3 569.8 200.5 570.8 200.8 570.8 201.0 571.5 201.3 572.3 201.5 572.4 201.8 573.3 202.0 573.7 202.3 574.1 202.5 575.0 202.8 574.2 203.0 574.6 203.3 576.1 203.5 576.7 203.8 577.7 204.0 577.6 204.3 578.1 204.5 577.8 204.8 579.0 205.0 579.4 205.3 579.1 205.5 579.7 205.8 580.6 206.0 581.3 206.3 580.3 206.5 582.2 206.8 582.7 207.0 583.0 207.3 583.7 207.5 584.3 207.8 584.2 208.0 585.3 208.3 585.5 208.5 585.7 208.8 586.7 209.0 587.8 209.3 587.0 209.5 587.4 209.8 587.9 210.0 590.0 210.3 589.5 210.5 590.1 210.8 590.2 211.0 590.3 211.3 589.9 211.5 591.1 211.8 591.3 212.0 590.4 212.3 591.0 212.5 591.3 212.8 591.8 213.0 592.0 213.3 592.6 213.5 592.8 213.8 592.9 214.0 593.1 214.3 592.2 214.5 592.6 214.8 593.5 215.0 593.3 215.3 593.3 215.5 592.6 215.8 592.8 216.0 594.1 216.3 594.1 216.5 593.9 216.8 594.1 217.0 593.8 217.3 594.9 217.5 595.5 217.8 596.0 218.0 595.6 218.3 595.7 218.5 595.5 218.8 596.8 219.0 597.3 219.3 596.5 219.5 597.2 219.8 597.3 220.0 597.3 220.3 596.7 220.5 597.9 220.8 598.6 221.0 597.9 221.3 598.4 221.5 597.6 221.8 599.9 222.0 599.8 222.3 599.8 222.5 599.9 222.8 600.0 223.0 600.5 223.3 600.7 223.5 600.9 223.8 601.2 224.0 601.4 224.3 602.2 224.5 601.0 224.8 601.9 225.0 601.6 225.3 601.5 225.5 601.1 225.8 602.6 226.0 602.0 226.3 602.3 226.5 603.0 226.8 602.4 227.0 603.0 227.3 603.1 227.5 603.7 227.8 603.9 228.0 603.2 228.3 604.1 228.5 603.8 228.8 604.1" fill="none" stroke="#111" stroke-width="0.8" stroke-linejoin="round"/>
<path d="M82.3 607.8 L82.6 607.4 82.8 607.2 83.1 606.9 83.3 603.7 83.6 596.4 83.8 588.9 84.1 581.3 84.3 574.2 84.6 573.1 84.8 572.2 M90.8 564.8 L91.1 566.4 91.3 566.9 91.6 568.1 91.8 569.5 92.1 570.8 92.3 572.3 92.6 573.7 92.8 575.2 93.1 576.4 93.3 577.9 93.6 579.2 93.8 580.6 94.1 581.8 94.3 583.3 94.6 584.5 94.8 585.9 95.1 587.0 95.3 588.3 95.6 589.6 95.8 590.8 96.1 592.0 96.3 593.1 96.6 593.9 M118.6 603.9 L118.9 604.2 119.1 604.0 119.4 604.0 119.6 600.6 119.9 596.7 120.1 592.8 120.4 588.3 120.6 582.1 120.9 575.8 121.1 569.5 121.4 563.2 121.6 559.2 121.9 557.6 122.1 556.0 122.4 554.9 122.6 555.7 M153.9 591.7 L154.2 592.4 154.4 592.7 154.7 592.8 154.9 589.6 155.2 586.1 155.4 582.4 155.7 578.7 155.9 574.0 156.2 569.4 156.4 565.3 156.7 565.2 156.9 565.1 M158.4 563.5 L158.7 563.7 158.9 563.1 159.2 562.1 159.4 561.0 159.7 560.1 159.9 558.9 160.2 557.9 160.4 557.1 160.7 557.6 160.9 558.7 161.2 559.9 161.4 561.1 161.7 562.1 161.9 563.3 162.2 564.3 162.4 566.0 162.7 568.0 162.9 570.0 163.2 572.0 163.4 574.1 163.7 576.1 163.9 578.2 164.2 580.1 164.4 582.2 164.7 583.9 164.9 584.5 165.2 585.3 M189.5 605.8 L189.7 606.0 190.0 605.8 190.2 605.8 190.5 603.3 190.7 600.0 191.0 596.9 191.2 593.5 191.5 590.3 191.7 584.5 192.0 578.9 192.2 573.3 192.5 567.6 192.7 564.4 193.0 563.3 193.2 562.0 193.5 561.0 193.7 559.8 194.0 560.1" fill="none" stroke="#555" stroke-width="0.55" stroke-linejoin="round"/>
<text x="5.3" y="667.6" font-size="7.9" text-anchor="start" font-weight="normal" fill="#1a1a1a" stroke="#1a1a1a" stroke-width="0.2" >NF6 amacrine</text>
<text x="5.3" y="677.4" font-size="7.9" text-anchor="start" font-weight="normal" fill="#1a1a1a" stroke="#1a1a1a" stroke-width="0.2" >(Flag)</text>
<rect x="83.0" y="669.2" width="36.1" height="2.2" fill="#fff" stroke="#777" stroke-width="0.5"/>
<rect x="119.1" y="669.0" width="35.8" height="2.5" fill="#111"/>
<rect x="154.9" y="669.2" width="36.1" height="2.2" fill="#fff" stroke="#777" stroke-width="0.5"/>
<rect x="191.0" y="669.0" width="35.0" height="2.5" fill="#111"/>
<text x="83.4" y="668.1" font-size="7.9" text-anchor="start" font-weight="normal" fill="#1a1a1a" stroke="#1a1a1a" stroke-width="0.2" >ON</text>
<text x="119.4" y="668.1" font-size="7.9" text-anchor="start" font-weight="normal" fill="#1a1a1a" stroke="#1a1a1a" stroke-width="0.2" >OFF</text>
<text x="72.3" y="686.3" font-size="7.9" text-anchor="start" font-weight="normal" fill="#1a1a1a" stroke="#1a1a1a" stroke-width="0.2" >-47 mV</text>
<line x1="210.5" y1="734.3" x2="210.5" y2="742.5" stroke="#777" stroke-width="0.6"/>
<text x="214.0" y="740.7" font-size="7.9" text-anchor="start" font-weight="normal" fill="#1a1a1a" stroke="#1a1a1a" stroke-width="0.2" >1 mV</text>
<path d="M79.7 705.0 80.4 705.0 81.0 705.4 81.7 703.6 M86.4 716.5 L87.1 713.9 87.8 711.9 88.4 709.2 89.1 707.6 89.8 708.5 90.5 704.6 91.1 704.9 91.8 705.4 92.5 704.4 93.1 705.7 93.8 705.0 94.5 704.4 95.2 705.1 95.8 704.5 96.5 704.1 97.2 703.1 97.8 702.5 98.5 703.0 99.2 703.0 99.9 702.4 100.5 702.1 101.2 702.4 101.9 702.6 102.5 702.6 103.2 701.0 103.9 701.4 104.6 702.5 105.2 702.3 105.9 702.6 106.6 703.9 107.2 703.4 107.9 704.4 108.6 703.2 109.3 706.2 109.9 704.5 110.6 704.5 111.3 706.6 112.0 705.4 112.6 704.2 113.3 703.1 114.0 702.7 114.6 701.4 115.3 701.9 116.0 700.0 116.7 703.9 117.3 704.9 M126.7 707.8 L127.4 705.9 128.1 704.2 128.8 703.6 129.4 705.0 130.1 705.1 130.8 703.6 131.4 704.3 132.1 705.7 132.8 703.9 133.5 704.2 134.1 704.1 134.8 704.1 135.5 704.0 136.1 703.4 136.8 704.1 137.5 702.9 138.2 703.5 138.8 703.2 139.5 703.6 140.2 704.1 140.8 703.1 141.5 703.4 142.2 704.1 142.9 702.8 143.5 703.9 144.2 702.6 144.9 704.4 145.6 703.7 146.2 703.4 146.9 703.3 147.6 703.1 148.2 705.4 148.9 703.2 149.6 704.2 150.3 704.0 150.9 703.3 151.6 702.9 152.3 704.4 152.9 704.5 153.6 704.2 154.3 702.5 155.0 705.0 155.6 706.0 156.3 708.2 157.0 708.9 157.6 708.1 158.3 709.0 159.0 707.7 159.7 709.6 160.3 708.1 161.0 708.3 161.7 708.6 162.3 709.5 163.0 707.7 163.7 705.8 164.4 705.6 165.0 705.7 165.7 707.2 166.4 706.5 167.1 707.8 167.7 706.6 168.4 706.0 169.1 708.1 169.7 707.0 170.4 707.5 171.1 706.4 171.8 707.3 172.4 708.3 173.1 706.9 173.8 706.1 174.4 707.9 175.1 707.0 175.8 705.2 176.5 704.3 177.1 705.3 177.8 706.0 178.5 705.4 179.1 703.6 179.8 704.0 180.5 704.3 181.2 703.6 181.8 702.0 182.5 702.4 183.2 703.7 183.9 703.9 184.5 702.8 185.2 703.5 185.9 703.7 186.5 704.1 187.2 702.1 187.9 705.2 M198.6 711.2 L199.3 711.5 200.0 710.2 200.7 710.5 201.3 708.4 202.0 708.6 202.7 708.5 203.3 709.7 204.0 708.4 204.7 710.2 205.4 707.8 206.0 707.2 206.7 705.9 207.4 708.2 208.0 708.7 208.7 707.6 209.4 706.9 210.1 705.8 210.7 703.7 211.4 703.2 212.1 703.2 212.7 702.6 213.4 702.2 214.1 700.4 214.8 700.9 215.4 701.3 216.1 700.9 216.8 699.9 217.4 701.1 218.1 702.3 218.8 702.1 219.5 701.0 220.1 701.5 220.8 702.1 221.5 700.6 222.2 699.7 222.8 700.3 223.5 700.4 224.2 699.1 224.8 700.3 225.5 698.9 226.2 698.5 226.9 698.9 227.5 698.0 228.2 697.9" fill="none" stroke="#333" stroke-width="1.8" stroke-linejoin="round" opacity="0.9"/>
<path d="M79.7 708.0 79.9 709.4 80.0 693.8 80.2 704.7 80.4 707.0 80.5 707.5 80.7 705.7 80.9 707.3 81.0 704.5 81.2 701.3 81.4 703.7 81.5 700.7 81.7 701.0 81.9 703.5 82.0 701.1 82.2 705.0 82.4 704.8 82.5 705.6 82.7 702.1 82.9 706.0 83.0 698.5 83.2 702.8 83.4 705.6 83.5 706.9 83.7 703.5 83.9 704.1 84.0 709.5 84.2 707.6 84.4 713.2 84.5 712.8 84.7 713.9 84.9 715.0 85.0 717.9 85.2 716.9 85.4 720.3 85.5 716.5 85.7 716.9 85.9 715.7 86.0 718.3 86.2 716.8 86.4 714.6 86.5 720.6 86.7 715.2 86.9 715.1 87.0 715.6 87.2 717.9 87.4 713.1 87.5 714.3 87.7 712.3 87.9 708.3 88.0 712.7 88.2 707.5 88.4 709.7 88.5 709.9 88.7 706.3 88.9 705.9 89.0 708.1 89.2 710.0 89.4 707.2 89.5 708.6 89.7 709.7 89.9 707.5 90.0 708.2 90.2 710.0 90.4 704.0 90.5 702.6 90.7 702.4 90.9 707.4 91.0 706.7 91.2 705.0 91.4 703.7 91.5 704.9 91.7 704.9 91.9 705.9 92.0 703.6 92.2 706.7 92.4 703.1 92.5 704.6 92.7 704.3 92.9 707.8 93.0 701.6 93.2 703.9 93.4 707.3 93.5 703.2 93.7 701.8 93.9 705.0 94.0 703.7 94.2 706.1 94.4 702.1 94.6 704.5 94.7 705.5 94.9 706.2 95.1 701.4 95.2 706.9 95.4 701.7 95.6 700.3 95.7 701.4 95.9 703.8 96.1 702.6 96.2 704.2 96.4 704.3 96.6 703.8 96.7 702.5 96.9 706.9 97.1 698.0 97.2 699.0 97.4 701.6 97.6 699.9 97.7 696.9 97.9 700.7 98.1 700.0 98.2 696.9 98.4 704.1 98.6 705.0 98.7 704.9 98.9 701.0 99.1 702.5 99.2 699.6 99.4 702.6 99.6 700.6 99.7 703.0 99.9 701.3 100.1 704.3 100.2 703.8 100.4 704.7 100.6 698.4 100.7 698.0 100.9 702.8 101.1 700.7 101.2 702.8 101.4 702.5 101.6 702.3 101.7 698.8 101.9 703.1 102.1 702.9 102.2 699.8 102.4 705.6 102.6 702.0 102.7 704.2 102.9 702.5 103.1 704.5 103.2 702.0 103.4 702.2 103.6 702.0 103.7 697.5 103.9 700.4 104.1 701.3 104.2 701.4 104.4 699.6 104.6 707.0 104.7 699.8 104.9 701.3 105.1 707.5 105.2 700.8 105.4 704.0 105.6 703.9 105.7 702.1 105.9 699.5 106.1 699.3 106.2 702.8 106.4 703.9 106.6 698.3 106.7 703.5 106.9 701.8 107.1 705.3 107.2 701.8 107.4 701.8 107.6 702.7 107.7 703.8 107.9 706.8 108.1 710.6 108.2 704.8 108.4 704.4 108.6 705.8 108.7 704.4 108.9 706.0 109.1 705.6 109.2 704.8 109.4 699.0 109.6 705.4 109.7 707.1 109.9 705.4 110.1 708.6 110.2 707.3 110.4 704.8 110.6 708.9 110.7 702.5 110.9 707.5 111.1 708.9 111.2 704.2 111.4 704.4 111.6 706.6 111.7 707.6 111.9 705.4 112.1 704.9 112.2 706.3 112.4 704.8 112.6 701.4 112.7 703.6 112.9 703.9 113.1 700.6 113.2 704.6 113.4 702.1 113.6 705.2 113.7 700.2 113.9 701.4 114.1 700.2 114.2 706.1 114.4 706.0 114.6 706.3 114.7 706.3 114.9 704.9 115.1 704.8 115.2 699.0 115.4 703.4 115.6 701.5 115.7 701.8 115.9 699.8 116.1 705.7 116.2 703.4 116.4 695.9 116.6 704.8 116.7 703.8 116.9 701.9 117.1 703.8 117.2 703.1 117.4 700.0 117.6 702.0 117.7 706.7 117.9 706.6 118.1 706.7 118.2 703.8 118.4 705.4 118.6 707.1 118.7 708.8 118.9 706.2 119.1 706.8 119.2 712.7 119.4 711.4 119.6 711.5 M121.6 743.0 L121.7 743.0 121.9 739.4 122.1 739.0 122.2 735.6 122.4 733.6 122.6 734.6 122.7 730.8 122.9 730.1 123.1 729.5 123.2 728.2 123.4 729.1 123.6 728.4 123.7 721.2 123.9 722.4 124.1 720.4 124.2 722.3 124.4 717.1 124.6 720.0 124.8 718.6 124.9 717.2 125.1 712.6 125.3 713.2 125.4 710.7 125.6 713.3 125.8 713.8 125.9 707.7 126.1 708.6 126.3 709.4 126.4 707.9 126.6 711.7 126.8 707.5 126.9 707.7 127.1 704.1 127.3 709.2 127.4 705.6 127.6 706.2 127.8 704.7 127.9 699.8 128.1 700.9 128.3 701.6 128.4 705.4 128.6 703.3 128.8 702.2 128.9 705.0 129.1 704.3 129.3 706.3 129.4 704.7 129.6 700.7 129.8 702.8 129.9 707.9 130.1 701.9 130.3 707.2 130.4 707.8 130.6 702.9 130.8 704.9 130.9 701.1 131.1 705.8 131.3 702.4 131.4 701.2 131.6 703.2 131.8 703.1 131.9 702.8 132.1 704.5 132.3 703.6 132.4 702.5 132.6 706.1 132.8 709.3 132.9 704.1 133.1 696.0 133.3 701.7 133.4 705.2 133.6 703.3 133.8 703.9 133.9 699.5 134.1 701.4 134.3 701.3 134.4 705.9 134.6 703.3 134.8 696.3 134.9 704.9 135.1 706.3 135.3 706.7 135.4 697.6 135.6 704.1 135.8 705.6 135.9 705.1 136.1 703.3 136.3 699.8 136.4 702.8 136.6 701.4 136.8 705.0 136.9 705.2 137.1 703.2 137.3 705.6 137.4 701.4 137.6 702.2 137.8 703.6 137.9 705.0 138.1 703.0 138.3 706.4 138.4 704.6 138.6 701.6 138.8 703.9 138.9 701.7 139.1 701.5 139.3 695.1 139.4 706.7 139.6 705.6 139.8 700.1 139.9 706.1 140.1 705.7 140.3 702.8 140.4 704.7 140.6 708.5 140.8 704.2 140.9 704.5 141.1 706.0 141.3 701.3 141.4 700.8 141.6 700.4 141.8 703.4 141.9 705.5 142.1 701.6 142.3 700.5 142.4 704.0 142.6 702.7 142.8 704.9 142.9 703.3 143.1 703.2 143.3 703.4 143.4 703.6 143.6 701.4 143.8 701.1 143.9 707.0 144.1 710.3 144.3 706.0 144.4 698.5 144.6 703.6 144.8 706.1 144.9 700.0 145.1 702.4 145.3 702.6 145.4 701.5 145.6 701.7 145.8 705.7 145.9 702.5 146.1 703.0 146.3 707.3 146.4 701.7 146.6 699.3 146.8 705.0 146.9 708.0 147.1 704.0 147.3 704.2 147.4 700.7 147.6 701.5 147.8 706.7 147.9 706.3 148.1 704.8 148.3 702.1 148.4 700.9 148.6 701.2 148.8 700.9 148.9 704.8 149.1 701.8 149.3 698.6 149.4 705.0 149.6 704.9 149.8 703.6 149.9 704.5 150.1 703.4 150.3 699.2 150.4 703.2 150.6 697.6 150.8 702.6 150.9 703.9 151.1 702.2 151.3 706.1 151.4 703.0 151.6 703.8 151.8 704.1 151.9 703.0 152.1 704.8 152.3 705.1 152.4 704.8 152.6 701.8 152.8 701.4 152.9 702.0 153.1 703.4 153.3 699.2 153.4 701.5 153.6 700.8 153.8 701.9 153.9 701.3 154.1 705.1 154.3 704.3 154.5 705.6 154.6 701.7 154.8 702.5 155.0 703.9 155.1 708.6 155.3 709.0 155.5 699.5 155.6 707.5 155.8 711.2 156.0 704.6 156.1 706.8 156.3 710.4 156.5 709.6 156.6 706.1 156.8 712.1 157.0 711.2 157.1 710.7 157.3 706.4 157.5 708.7 157.6 711.9 157.8 710.0 158.0 710.6 158.1 708.2 158.3 712.1 158.5 708.2 158.6 710.7 158.8 709.3 159.0 706.4 159.1 711.8 159.3 705.7 159.5 706.8 159.6 708.6 159.8 705.2 160.0 704.2 160.1 707.9 160.3 707.2 160.5 707.4 160.6 709.1 160.8 712.9 161.0 707.0 161.1 713.2 161.3 708.3 161.5 707.5 161.6 701.7 161.8 704.2 162.0 708.1 162.1 708.7 162.3 705.6 162.5 708.0 162.6 709.3 162.8 706.0 163.0 703.6 163.1 704.9 163.3 706.4 163.5 707.6 163.6 708.6 163.8 704.8 164.0 706.9 164.1 706.2 164.3 706.9 164.5 709.2 164.6 709.7 164.8 705.8 165.0 705.5 165.1 705.3 165.3 705.7 165.5 705.9 165.6 706.4 165.8 705.7 166.0 704.5 166.1 704.2 166.3 706.9 166.5 712.2 166.6 708.1 166.8 708.3 167.0 707.6 167.1 706.5 167.3 711.2 167.5 706.1 167.6 704.7 167.8 704.1 168.0 707.2 168.1 704.6 168.3 704.9 168.5 704.9 168.6 703.9 168.8 707.2 169.0 703.1 169.1 711.9 169.3 700.7 169.5 703.0 169.6 707.0 169.8 707.8 170.0 706.1 170.1 707.5 170.3 707.2 170.5 707.1 170.6 708.2 170.8 707.4 171.0 706.7 171.1 706.6 171.3 708.8 171.5 706.5 171.6 708.2 171.8 710.4 172.0 707.8 172.1 709.6 172.3 706.0 172.5 707.5 172.6 708.0 172.8 707.4 173.0 708.0 173.1 710.0 173.3 706.2 173.5 705.4 173.6 707.5 173.8 703.5 174.0 706.6 174.1 709.2 174.3 706.4 174.5 707.6 174.6 707.1 174.8 708.8 175.0 707.2 175.1 706.5 175.3 698.6 175.5 704.7 175.6 707.3 175.8 705.4 176.0 703.9 176.1 707.5 176.3 703.4 176.5 704.5 176.6 706.7 176.8 704.0 177.0 705.4 177.1 704.9 177.3 702.2 177.5 703.6 177.6 703.9 177.8 703.1 178.0 706.9 178.1 704.3 178.3 702.9 178.5 701.1 178.6 703.4 178.8 706.9 179.0 698.7 179.1 705.5 179.3 704.8 179.5 702.5 179.6 701.5 179.8 704.7 180.0 699.7 180.1 704.6 180.3 700.6 180.5 705.1 180.6 696.1 180.8 702.8 181.0 705.2 181.1 700.7 181.3 702.9 181.5 702.0 181.6 703.7 181.8 702.6 182.0 703.1 182.1 702.8 182.3 701.4 182.5 697.8 182.6 701.6 182.8 702.4 183.0 702.6 183.1 699.3 183.3 699.8 183.5 702.8 183.7 702.4 183.8 705.2 184.0 697.2 184.2 703.1 184.3 705.0 184.5 702.9 184.7 704.5 184.8 702.9 185.0 702.8 185.2 704.9 185.3 700.2 185.5 698.1 185.7 704.1 185.8 703.4 186.0 703.5 186.2 703.9 186.3 704.7 186.5 702.4 186.7 704.5 186.8 704.2 187.0 701.0 187.2 703.3 187.3 704.3 187.5 702.0 187.7 706.1 187.8 703.2 188.0 705.6 188.2 707.1 188.3 700.8 188.5 701.2 188.7 705.4 188.8 703.8 189.0 705.4 189.2 708.1 189.3 703.3 189.5 706.3 189.7 703.9 189.8 704.0 190.0 701.1 190.2 708.5 190.3 711.5 190.5 711.1 190.7 711.6 M192.5 741.0 L192.7 738.1 192.8 734.7 193.0 735.8 193.2 733.7 193.3 729.9 193.5 729.5 193.7 730.4 193.8 728.8 194.0 725.5 194.2 727.3 194.3 728.0 194.5 729.0 194.7 727.8 194.8 723.3 195.0 726.4 195.2 720.8 195.3 722.4 195.5 721.4 195.7 725.7 195.8 723.1 196.0 721.4 196.2 718.6 196.3 721.9 196.5 717.8 196.7 718.6 196.8 719.1 197.0 715.3 197.2 716.3 197.3 709.9 197.5 714.7 197.7 708.9 197.8 712.8 198.0 712.1 198.2 712.4 198.3 709.8 198.5 705.7 198.7 712.1 198.8 710.1 199.0 712.5 199.2 711.4 199.3 710.9 199.5 709.4 199.7 708.9 199.8 711.1 200.0 703.3 200.2 712.5 200.3 708.8 200.5 711.0 200.7 707.2 200.8 710.7 201.0 709.1 201.2 706.7 201.3 712.1 201.5 708.1 201.7 709.5 201.8 709.7 202.0 712.2 202.2 706.1 202.3 710.1 202.5 708.7 202.7 706.0 202.8 707.9 203.0 707.2 203.2 711.0 203.3 706.5 203.5 710.8 203.7 707.6 203.8 710.0 204.0 704.8 204.2 706.8 204.3 708.9 204.5 706.5 204.7 705.0 204.8 708.5 205.0 710.2 205.2 708.4 205.3 707.9 205.5 709.3 205.7 707.4 205.8 710.4 206.0 710.8 206.2 705.5 206.3 710.6 206.5 709.8 206.7 701.9 206.8 709.8 207.0 711.4 207.2 712.5 207.3 711.8 207.5 707.7 207.7 711.1 207.8 704.5 208.0 710.1 208.2 709.7 208.3 710.3 208.5 706.0 208.7 710.8 208.8 710.2 209.0 707.6 209.2 703.7 209.3 706.4 209.5 704.4 209.7 702.6 209.8 704.2 210.0 710.6 210.2 701.9 210.3 703.9 210.5 705.0 210.7 706.4 210.8 701.8 211.0 701.6 211.2 705.4 211.3 703.7 211.5 705.6 211.7 700.0 211.8 702.1 212.0 704.2 212.2 702.4 212.3 698.9 212.5 702.4 212.7 697.9 212.8 700.4 213.0 703.7 213.2 703.0 213.4 702.9 213.5 703.5 213.7 698.6 213.9 700.5 214.0 704.2 214.2 706.9 214.4 699.2 214.5 699.8 214.7 699.7 214.9 704.4 215.0 704.1 215.2 699.0 215.4 702.0 215.5 704.7 215.7 704.7 215.9 700.5 216.0 701.2 216.2 699.8 216.4 699.1 216.5 697.9 216.7 700.0 216.9 704.1 217.0 703.8 217.2 702.4 217.4 698.8 217.5 697.0 217.7 699.0 217.9 701.3 218.0 703.5 218.2 699.2 218.4 701.3 218.5 697.2 218.7 696.4 218.9 701.0 219.0 698.4 219.2 698.7 219.4 695.9 219.5 702.7 219.7 696.9 219.9 700.9 220.0 697.5 220.2 699.8 220.4 703.6 220.5 701.1 220.7 699.4 220.9 702.3 221.0 701.5 221.2 703.3 221.4 697.0 221.5 703.1 221.7 700.2 221.9 697.7 222.0 701.2 222.2 701.0 222.4 699.8 222.5 701.6 222.7 696.8 222.9 695.9 223.0 698.2 223.2 701.8 223.4 700.5 223.5 699.3 223.7 697.9 223.9 699.2 224.0 701.7 224.2 697.8 224.4 697.7 224.5 699.9 224.7 699.4 224.9 699.1 225.0 701.9 225.2 699.1 225.4 696.5 225.5 693.7 225.7 701.1 225.9 698.1 226.0 699.1 226.2 699.3 226.4 701.2 226.5 700.5 226.7 700.3 226.9 698.7 227.0 697.5 227.2 698.5 227.4 696.1 227.5 698.6 227.7 700.1 227.9 699.3 228.0 697.9 228.2 695.6" fill="none" stroke="#111" stroke-width="0.5" stroke-linejoin="round"/>
<path d="M119.6 711.5 L119.7 713.1 119.9 714.2 120.1 717.1 120.2 720.1 120.4 722.9 120.6 725.9 120.7 730.1 120.9 733.3 121.1 736.4 121.2 739.5 121.4 741.9 121.6 743.0 M190.7 711.6 L190.8 713.1 191.0 713.6 191.2 716.2 191.3 720.2 191.5 724.5 191.7 727.7 191.8 732.1 192.0 735.8 192.2 739.2 192.3 742.7 192.5 741.0" fill="none" stroke="#555" stroke-width="0.55" stroke-linejoin="round"/>
<text x="5.3" y="804.8" font-size="7.9" text-anchor="start" font-weight="normal" fill="#1a1a1a" stroke="#1a1a1a" stroke-width="0.2" >AII amacrine</text>
<rect x="81.1" y="799.8" width="36.1" height="2.2" fill="#fff" stroke="#777" stroke-width="0.5"/>
<rect x="117.2" y="799.6" width="35.9" height="2.5" fill="#111"/>
<rect x="153.1" y="799.8" width="35.7" height="2.2" fill="#fff" stroke="#777" stroke-width="0.5"/>
<rect x="188.8" y="799.6" width="35.4" height="2.5" fill="#111"/>
<text x="81.5" y="798.4" font-size="7.9" text-anchor="start" font-weight="normal" fill="#1a1a1a" stroke="#1a1a1a" stroke-width="0.2" >ON</text>
<text x="117.5" y="798.4" font-size="7.9" text-anchor="start" font-weight="normal" fill="#1a1a1a" stroke="#1a1a1a" stroke-width="0.2" >OFF</text>
<text x="70.9" y="872.6" font-size="7.9" text-anchor="start" font-weight="normal" fill="#1a1a1a" stroke="#1a1a1a" stroke-width="0.2" >-42 mV</text>
<path d="M79.7 856.8 80.4 858.6 M87.8 831.2 L88.4 832.0 89.1 832.1 89.8 833.4 90.4 834.5 91.1 834.8 91.8 835.7 92.5 836.2 93.1 836.0 93.8 836.6 94.5 836.7 95.1 837.2 95.8 838.0 96.5 838.8 97.2 839.2 97.8 839.2 98.5 839.2 99.2 840.0 99.8 840.6 100.5 840.6 101.2 840.9 101.9 841.7 102.5 841.7 103.2 841.3 103.9 840.8 104.5 842.3 105.2 841.9 105.9 842.3 106.6 841.7 107.2 842.1 107.9 841.6 108.6 842.0 109.2 841.5 109.9 841.6 110.6 841.4 111.3 841.7 111.9 841.6 112.6 841.6 113.3 841.3 113.9 841.8 114.6 841.6 115.3 842.0 116.0 842.3 M122.0 856.6 L122.7 858.8 123.3 860.9 124.0 863.2 124.7 863.0 125.3 862.2 126.0 861.6 126.7 861.3 127.4 860.9 128.0 859.3 128.7 859.3 129.4 858.6 130.0 858.0 130.7 857.8 131.4 856.7 132.1 856.3 132.7 855.7 133.4 855.7 134.1 854.9 134.7 854.0 135.4 853.7 136.1 852.5 136.8 851.8 137.4 852.0 138.1 851.0 138.8 850.2 139.4 850.1 140.1 848.9 140.8 848.3 141.5 847.8 142.1 847.7 142.8 848.1 143.5 848.2 144.1 848.1 144.8 847.8 145.5 847.6 146.2 847.5 146.8 847.8 147.5 847.8 148.2 847.9 148.8 848.2 149.5 848.7 150.2 849.0 150.9 849.4 151.5 849.6 M158.9 826.4 L159.6 827.2 160.3 828.2 160.9 828.8 161.6 830.0 162.3 830.3 162.9 830.7 163.6 830.7 164.3 831.1 165.0 831.4 165.6 831.5 166.3 831.8 167.0 832.2 167.6 832.0 168.3 832.4 169.0 832.7 169.7 833.1 170.3 833.8 171.0 833.9 171.7 834.5 172.3 834.7 173.0 835.2 173.7 835.3 174.4 834.7 175.0 835.9 175.7 834.9 176.4 835.3 177.0 835.2 177.7 835.3 178.4 834.8 179.1 835.0 179.7 835.4 180.4 835.2 181.1 834.9 181.7 835.3 182.4 836.0 183.1 835.4 183.8 835.0 184.4 835.9 185.1 836.5 185.8 836.6 186.4 836.2 187.1 837.0 M193.8 844.4 L194.5 846.9 195.2 849.0 195.8 851.7 196.5 852.5 197.2 852.9 197.8 853.9 198.5 854.0 199.2 854.5 199.9 854.1 200.5 852.6 201.2 851.4 201.9 849.3 202.5 848.2 203.2 847.5 203.9 847.1 204.6 846.1 205.2 844.9 205.9 844.4 206.6 843.8 207.2 843.7 207.9 842.5 208.6 842.0 209.3 841.4 209.9 840.3 210.6 840.1 211.3 839.5 211.9 839.6 212.6 840.2 213.3 840.2 214.0 839.6 214.6 840.1 215.3 840.3 216.0 840.3 216.6 840.2 217.3 840.3 218.0 840.4 218.7 840.4 219.3 839.5 220.0 839.4 220.7 838.7 221.3 838.6 222.0 838.4 222.7 838.2 223.4 837.8 224.0 837.7 224.7 837.3 225.4 836.5 226.0 836.2 226.7 836.6 227.4 836.9 228.1 837.1 228.7 838.2 229.4 838.4" fill="none" stroke="#333" stroke-width="1.3" stroke-linejoin="round" opacity="0.9"/>
<path d="M79.7 856.7 79.9 857.4 80.0 857.3 80.2 857.2 80.4 858.1 80.5 858.0 80.7 859.4 80.9 860.6 81.0 858.5 81.2 857.9 81.4 858.4 81.5 857.8 81.7 857.1 81.9 855.6 82.0 856.0 82.2 856.1 82.4 853.4 82.5 853.2 82.7 851.0 M84.5 830.2 L84.7 827.6 84.9 827.3 85.0 825.6 85.2 824.6 85.4 826.1 85.5 825.6 85.7 827.5 85.9 829.5 86.0 829.3 86.2 830.9 86.4 832.3 86.5 833.4 86.7 833.4 86.9 834.0 87.0 834.6 87.2 831.5 87.4 833.1 87.5 831.9 87.7 830.7 87.9 832.9 88.0 832.0 88.2 830.4 88.4 831.7 88.5 832.4 88.7 831.9 88.9 832.8 89.0 832.4 89.2 833.2 89.4 834.1 89.5 832.4 89.7 833.4 89.9 833.0 90.0 833.7 90.2 832.7 90.4 833.4 90.5 834.0 90.7 835.1 90.9 835.5 91.0 833.5 91.2 834.2 91.4 835.7 91.5 833.4 91.7 834.9 91.9 835.3 92.0 836.7 92.2 836.3 92.4 835.5 92.6 835.5 92.7 835.8 92.9 837.5 93.1 835.8 93.2 836.0 93.4 836.8 93.6 836.4 93.7 836.5 93.9 835.8 94.1 836.9 94.2 836.6 94.4 838.2 94.6 837.8 94.7 837.3 94.9 838.0 95.1 837.2 95.2 838.6 95.4 837.8 95.6 838.4 95.7 836.8 95.9 838.4 96.1 836.7 96.2 836.5 96.4 838.2 96.6 837.8 96.7 838.8 96.9 840.8 97.1 838.1 97.2 838.4 97.4 839.3 97.6 839.7 97.7 839.2 97.9 839.3 98.1 840.2 98.2 840.2 98.4 838.9 98.6 839.8 98.7 839.9 98.9 839.0 99.1 840.3 99.2 839.3 99.4 841.0 99.6 840.4 99.7 840.3 99.9 839.8 100.1 840.2 100.2 838.6 100.4 839.4 100.6 840.8 100.7 838.6 100.9 841.4 101.1 839.1 101.2 841.4 101.4 840.0 101.6 841.5 101.7 841.0 101.9 839.6 102.1 842.1 102.2 842.4 102.4 841.1 102.6 840.9 102.7 841.1 102.9 840.4 103.1 842.3 103.2 840.9 103.4 841.4 103.6 840.8 103.7 841.0 103.9 840.5 104.1 842.8 104.2 841.6 104.4 842.6 104.6 841.8 104.7 841.3 104.9 841.6 105.1 841.5 105.2 842.1 105.4 841.8 105.6 841.8 105.7 840.8 105.9 841.3 106.1 843.5 106.2 841.4 106.4 841.1 106.6 842.3 106.7 843.3 106.9 840.7 107.1 841.8 107.2 841.4 107.4 840.3 107.6 842.6 107.7 841.9 107.9 841.9 108.1 841.2 108.2 842.3 108.4 841.4 108.6 841.7 108.7 840.8 108.9 840.7 109.1 843.0 109.2 841.3 109.4 842.0 109.6 841.7 109.7 841.3 109.9 841.3 110.1 842.3 110.2 841.4 110.4 841.5 110.6 841.7 110.7 842.7 110.9 842.2 111.1 842.0 111.2 841.1 111.4 840.3 111.6 842.4 111.7 842.4 111.9 841.4 112.1 842.0 112.2 842.2 112.4 842.3 112.6 842.4 112.7 841.2 112.9 843.0 113.1 840.5 113.2 842.5 113.4 842.2 113.6 842.5 113.7 843.5 113.9 843.1 114.1 840.8 114.2 840.4 114.4 842.7 114.6 841.0 114.7 842.0 114.9 842.8 115.1 840.6 115.2 840.2 115.4 842.4 115.6 842.2 115.7 842.0 115.9 842.3 116.1 841.5 116.2 840.9 116.4 842.2 116.6 841.5 116.7 840.9 116.9 842.9 117.1 842.4 117.3 842.9 117.4 841.6 117.6 842.0 117.8 841.7 M121.1 859.3 L121.3 857.1 121.4 855.5 121.6 857.4 121.8 858.6 121.9 857.0 122.1 856.0 122.3 856.8 122.4 859.2 122.6 858.9 122.8 859.4 122.9 859.9 123.1 860.6 123.3 861.8 123.4 862.2 123.6 862.5 123.8 861.9 123.9 863.9 124.1 863.0 124.3 864.4 124.4 862.1 124.6 863.0 124.8 863.0 124.9 861.6 125.1 864.2 125.3 863.8 125.4 861.9 125.6 862.8 125.8 862.3 125.9 859.5 126.1 861.9 126.3 861.4 126.4 861.4 126.6 860.2 126.8 860.8 126.9 860.7 127.1 861.8 127.3 860.8 127.4 860.4 127.6 861.6 127.8 859.6 127.9 859.6 128.1 858.2 128.3 861.1 128.4 860.4 128.6 860.2 128.8 859.9 128.9 859.2 129.1 859.2 129.3 858.6 129.4 858.5 129.6 858.6 129.8 859.8 129.9 858.8 130.1 858.1 130.3 857.5 130.4 857.3 130.6 859.2 130.8 858.1 130.9 857.6 131.1 857.1 131.3 856.2 131.4 857.0 131.6 857.7 131.8 856.5 131.9 856.5 132.1 856.4 132.3 856.5 132.4 854.8 132.6 855.9 132.8 855.2 132.9 856.7 133.1 855.0 133.3 856.1 133.4 856.8 133.6 855.0 133.8 854.6 133.9 855.1 134.1 854.8 134.3 853.7 134.4 854.9 134.6 856.1 134.8 853.9 134.9 853.8 135.1 852.9 135.3 853.9 135.4 852.3 135.6 852.3 135.8 854.3 135.9 852.1 136.1 853.8 136.3 854.0 136.4 852.7 136.6 852.8 136.8 853.9 136.9 851.8 137.1 851.3 137.3 850.4 137.4 851.5 137.6 852.6 137.8 852.0 137.9 850.1 138.1 850.0 138.3 850.2 138.4 850.7 138.6 850.1 138.8 850.3 138.9 850.2 139.1 849.5 139.3 849.6 139.4 849.6 139.6 849.2 139.8 849.6 139.9 850.6 140.1 849.3 140.3 848.7 140.4 847.0 140.6 848.8 140.8 846.7 140.9 847.1 141.1 849.2 141.3 849.0 141.4 848.2 141.6 846.8 141.8 847.9 141.9 847.6 142.1 848.8 142.3 850.2 142.5 848.4 142.6 847.5 142.8 847.1 143.0 848.0 143.1 847.9 143.3 847.0 143.5 848.1 143.6 847.0 143.8 849.0 144.0 848.9 144.1 848.9 144.3 847.5 144.5 848.3 144.6 847.7 144.8 847.5 145.0 847.5 145.1 846.6 145.3 846.4 145.5 848.4 145.6 847.5 145.8 847.8 146.0 848.5 146.1 846.0 146.3 846.9 146.5 847.7 146.6 847.9 146.8 847.2 147.0 848.4 147.1 847.6 147.3 846.3 147.5 846.6 147.6 848.2 147.8 848.0 148.0 846.0 148.1 849.0 148.3 848.4 148.5 849.1 148.6 847.7 148.8 847.8 149.0 847.2 149.1 850.6 149.3 848.2 149.5 849.9 149.6 848.0 149.8 848.8 150.0 847.2 150.1 848.4 150.3 849.8 150.5 847.8 150.6 850.0 150.8 849.4 151.0 848.3 151.1 848.8 151.3 849.0 151.5 849.4 151.6 849.1 151.8 848.9 152.0 849.4 152.1 848.9 152.3 848.7 152.5 849.9 152.6 850.9 152.8 848.8 153.0 849.9 153.1 848.6 153.3 847.6 153.5 848.5 153.6 846.6 M155.6 819.2 L155.8 819.2 156.0 816.7 156.1 816.6 M157.8 826.7 L158.0 827.1 158.1 826.0 158.3 826.0 158.5 827.1 158.6 825.9 158.8 826.9 159.0 825.5 159.1 825.3 159.3 824.7 159.5 828.3 159.6 826.6 159.8 827.4 160.0 827.4 160.1 827.9 160.3 828.1 160.5 830.0 160.6 827.7 160.8 827.5 161.0 828.3 161.1 828.2 161.3 830.4 161.5 830.8 161.6 829.4 161.8 829.2 162.0 830.2 162.1 831.8 162.3 828.0 162.5 831.1 162.6 829.7 162.8 831.7 163.0 829.8 163.1 830.6 163.3 829.5 163.5 830.0 163.6 832.2 163.8 831.8 164.0 830.7 164.1 830.3 164.3 829.5 164.5 830.9 164.6 831.2 164.8 831.2 165.0 831.3 165.1 830.4 165.3 831.4 165.5 831.5 165.6 832.7 165.8 833.3 166.0 831.5 166.1 831.0 166.3 831.7 166.5 831.3 166.6 831.2 166.8 831.8 167.0 831.0 167.2 832.5 167.3 832.0 167.5 832.3 167.7 832.0 167.8 831.6 168.0 831.5 168.2 832.2 168.3 832.0 168.5 832.8 168.7 832.7 168.8 831.5 169.0 832.9 169.2 831.7 169.3 832.4 169.5 832.8 169.7 831.3 169.8 833.3 170.0 833.5 170.2 833.3 170.3 833.1 170.5 833.2 170.7 832.8 170.8 833.5 171.0 833.3 171.2 834.0 171.3 832.9 171.5 834.3 171.7 834.3 171.8 834.1 172.0 833.9 172.2 834.9 172.3 833.0 172.5 835.0 172.7 834.9 172.8 835.0 173.0 835.1 173.2 834.3 173.3 834.7 173.5 835.6 173.7 835.4 173.8 835.2 174.0 833.6 174.2 835.5 174.3 836.1 174.5 835.9 174.7 835.2 174.8 833.6 175.0 835.8 175.2 834.9 175.3 832.7 175.5 835.3 175.7 833.7 175.8 833.8 176.0 834.4 176.2 836.1 176.3 834.7 176.5 835.2 176.7 836.6 176.8 836.4 177.0 834.9 177.2 834.8 177.3 833.9 177.5 834.4 177.7 835.4 177.8 835.4 178.0 835.1 178.2 835.9 178.3 834.3 178.5 834.9 178.7 835.7 178.8 835.5 179.0 836.0 179.2 835.4 179.3 834.7 179.5 835.3 179.7 834.1 179.8 833.5 180.0 835.5 180.2 835.0 180.3 835.3 180.5 833.5 180.7 834.8 180.8 834.6 181.0 834.4 181.2 833.2 181.3 835.0 181.5 836.1 181.7 835.7 181.8 834.9 182.0 835.5 182.2 836.2 182.3 833.1 182.5 835.5 182.7 836.2 182.8 836.3 183.0 837.3 183.2 836.8 183.3 836.2 183.5 836.2 183.7 836.7 183.8 835.5 184.0 836.0 184.2 836.9 184.3 837.9 184.5 836.1 184.7 836.2 184.8 836.5 185.0 837.6 185.2 836.4 185.3 837.8 185.5 835.6 185.7 836.4 185.8 836.4 186.0 837.4 186.2 837.7 186.3 835.4 186.5 836.0 186.7 837.2 186.8 836.3 187.0 835.6 187.2 837.9 187.3 837.5 187.5 837.6 187.7 836.7 187.8 838.1 188.0 837.0 188.2 838.3 188.3 836.5 188.5 836.7 188.7 838.6 188.8 838.6 189.0 840.8 189.2 841.3 189.3 841.2 M192.7 846.4 L192.9 846.1 193.0 846.1 193.2 846.1 193.4 845.0 193.5 845.4 193.7 843.8 193.9 844.3 194.0 844.3 194.2 846.8 194.4 846.3 194.5 846.3 194.7 847.2 194.9 848.0 195.0 849.4 195.2 847.9 195.4 849.0 195.5 850.2 195.7 853.4 195.9 852.6 196.0 852.2 196.2 853.3 196.4 854.6 196.5 852.7 196.7 852.7 196.9 854.2 197.0 853.7 197.2 853.9 197.4 853.0 197.5 855.3 197.7 855.2 197.9 854.3 198.0 854.5 198.2 852.1 198.4 854.7 198.5 854.0 198.7 854.7 198.9 855.0 199.0 854.2 199.2 853.1 199.4 855.1 199.5 854.2 199.7 854.4 199.9 853.7 200.0 853.5 200.2 851.3 200.4 854.0 200.5 852.7 200.7 853.0 200.9 853.4 201.0 851.2 201.2 849.1 201.4 849.5 201.5 849.0 201.7 849.4 201.9 849.7 202.0 847.6 202.2 849.5 202.4 847.7 202.5 849.1 202.7 848.5 202.9 848.1 203.0 848.1 203.2 847.5 203.4 847.2 203.5 846.1 203.7 847.3 203.9 848.8 204.0 848.7 204.2 847.9 204.4 847.2 204.5 845.7 204.7 847.4 204.9 845.9 205.0 845.7 205.2 845.2 205.4 845.4 205.5 844.7 205.7 844.8 205.9 843.7 206.0 844.1 206.2 846.3 206.4 844.1 206.5 843.7 206.7 844.3 206.9 844.3 207.0 842.4 207.2 843.1 207.4 843.9 207.5 843.2 207.7 842.9 207.9 844.0 208.0 841.8 208.2 842.3 208.4 841.6 208.5 843.2 208.7 840.0 208.9 841.0 209.0 840.9 209.2 841.8 209.4 841.6 209.5 842.1 209.7 839.3 209.9 841.2 210.0 840.1 210.2 839.6 210.4 840.5 210.5 839.0 210.7 837.8 210.9 839.4 211.0 838.4 211.2 839.2 211.4 840.1 211.5 840.1 211.7 841.2 211.9 839.6 212.0 838.4 212.2 839.1 212.4 839.0 212.5 838.8 212.7 840.3 212.9 839.3 213.0 838.1 213.2 840.5 213.4 839.8 213.5 840.3 213.7 840.1 213.9 840.5 214.0 840.0 214.2 841.1 214.4 840.4 214.5 840.4 214.7 840.4 214.9 838.7 215.0 839.9 215.2 839.9 215.4 840.3 215.5 838.9 215.7 841.6 215.9 840.2 216.0 839.1 216.2 838.6 216.4 839.9 216.5 840.1 216.7 839.6 216.9 840.3 217.1 839.7 217.2 840.8 217.4 839.6 217.6 840.3 217.7 841.2 217.9 842.5 218.1 839.2 218.2 839.7 218.4 839.2 218.6 840.6 218.7 838.8 218.9 839.3 219.1 839.7 219.2 838.8 219.4 838.7 219.6 839.1 219.7 837.5 219.9 838.0 220.1 838.9 220.2 839.3 220.4 839.0 220.6 837.5 220.7 838.6 220.9 839.6 221.1 839.3 221.2 838.7 221.4 837.9 221.6 839.2 221.7 838.0 221.9 837.4 222.1 837.7 222.2 839.6 222.4 838.5 222.6 839.2 222.7 837.7 222.9 838.9 223.1 837.4 223.2 837.7 223.4 840.1 223.6 838.4 223.7 837.2 223.9 837.5 224.1 837.8 224.2 838.5 224.4 836.9 224.6 835.7 224.7 837.0 224.9 837.2 225.1 837.2 225.2 838.2 225.4 837.2 225.6 837.6 225.7 835.8 225.9 837.5 226.1 838.5 226.2 837.3 226.4 836.7 226.6 836.6 226.7 838.0 226.9 835.5 227.1 836.1 227.2 836.7 227.4 837.2 227.6 836.3 227.7 837.1 227.9 836.7 228.1 837.3 228.2 837.2 228.4 836.5 228.6 837.6 228.7 838.6 228.9 837.1 229.1 837.9 229.2 838.9 229.4 837.5" fill="none" stroke="#111" stroke-width="0.55" stroke-linejoin="round"/>
<path d="M82.7 851.0 L82.9 851.6 83.0 850.6 83.2 849.9 83.4 846.7 83.5 843.8 83.7 840.7 83.9 837.6 84.0 834.2 84.2 832.5 84.4 831.4 84.5 830.2 M117.8 841.7 L117.9 842.5 118.1 842.7 118.3 843.3 118.4 845.7 118.6 848.0 118.8 850.5 118.9 852.3 119.1 854.9 119.3 859.6 119.4 864.6 119.6 869.5 119.8 872.4 119.9 870.6 120.1 868.5 120.3 866.6 120.4 864.6 120.6 862.8 120.8 860.7 120.9 859.5 121.1 859.3 M153.6 846.6 L153.8 846.5 154.0 845.5 154.1 844.4 154.3 841.0 154.5 837.6 154.6 834.4 154.8 831.0 155.0 827.7 155.1 824.3 155.3 820.8 155.5 820.1 155.6 819.2 M156.1 816.6 L156.3 815.5 156.5 816.0 156.6 817.4 156.8 818.9 157.0 820.7 157.1 822.5 157.3 823.8 157.5 825.5 157.6 826.8 157.8 826.7 M189.3 841.2 L189.5 842.9 189.7 843.8 189.8 844.8 190.0 847.0 190.2 850.0 190.3 853.3 190.5 856.4 190.7 859.4 190.8 862.2 191.0 862.0 191.2 860.6 191.3 858.8 191.5 857.0 191.7 855.6 191.8 854.0 192.0 852.2 192.2 850.5 192.4 848.9 192.5 847.6 192.7 846.4" fill="none" stroke="#555" stroke-width="0.55" stroke-linejoin="round"/>
<path d="M200.2 873.4 H214 V863.1" fill="none" stroke="#777" stroke-width="0.6"/>
<text x="218.3" y="870.7" font-size="7.9" text-anchor="start" font-weight="normal" fill="#1a1a1a" stroke="#1a1a1a" stroke-width="0.2" >2 mV</text>
<text x="195.0" y="884.1" font-size="7.9" text-anchor="start" font-weight="normal" fill="#1a1a1a" stroke="#1a1a1a" stroke-width="0.2" >400 ms</text>
<rect x="281.6" y="27.3" width="7.4" height="83.3" fill="#f3f4f6"/>
<clipPath id="hc0"><rect x="281.6" y="27.3" width="205.9" height="83.3"/></clipPath><g clip-path="url(#hc0)">
<g transform="translate(0 27.30) scale(1 16.96)" stroke-width="2.25">
<path d="M290.12 0v1" stroke="#efa028"/>
<path d="M292.12 0v1" stroke="#f3b52b"/>
<path d="M294.12 0v1" stroke="#f5c246"/>
<path d="M296.12 0v1" stroke="#f7d16d"/>
<path d="M298.12 0v1" stroke="#f1c03b"/>
<path d="M300.12 0v1" stroke="#f4ce67"/>
<path d="M302.12 0v1" stroke="#efc24b"/>
<path d="M304.12 0v1" stroke="#f2c858"/>
<path d="M306.12 0v1" stroke="#edce77"/>
<path d="M308.12 0v1" stroke="#f0e2b4"/>
<path d="M310.12 0v1" stroke="#e7cd7a"/>
<path d="M312.12 0v1" stroke="#f0e2b4"/>
<path d="M314.12 0v1" stroke="#eedb9e"/>
<path d="M316.12 0v1" stroke="#ebd691"/>
<path d="M318.12 0v1" stroke="#ead590"/>
<path d="M320.12 0v1" stroke="#ecd89a"/>
<path d="M322.12 0v1" stroke="#ecd58b"/>
<path d="M324.12 0v1" stroke="#ead48f"/>
<path d="M326.12 0v1" stroke="#ebd89a"/>
<path d="M328.12 0v1" stroke="#eedda6"/>
<path d="M330.12 0v1" stroke="#e8ce7b"/>
<path d="M332.12 0v1" stroke="#e8cf7d"/>
<path d="M334.12 0v1" stroke="#eedca2"/>
<path d="M336.12 0v1" stroke="#eedda8"/>
<path d="M338.12 0v1" stroke="#ecd792"/>
<path d="M340.12 0v1" stroke="#edda9b"/>
<path d="M342.12 0v1" stroke="#ecd793"/>
<path d="M344.12 0v1" stroke="#eedea9"/>
<path d="M346.12 0v1" stroke="#f0dda1"/>
<path d="M348.12 0v1" stroke="#f3e7c0"/>
<path d="M350.12 0v1" stroke="#eedb9f"/>
<path d="M352.12 0v1" stroke="#f1e4b6"/>
<path d="M354.12 0v1" stroke="#f0e1b1"/>
<path d="M356.12 0v1" stroke="#f0e0aa"/>
<path d="M358.12 0v1" stroke="#f0e4bb"/>
<path d="M360.12 0v1" stroke="#eddb9f"/>
<path d="M362.12 0v1" stroke="#f2e8c8"/>
<path d="M364.12 0v1" stroke="#eddeab"/>
<path d="M366.12 0v1" stroke="#f0e0ad"/>
<path d="M368.12 0v1" stroke="#f0e1ae"/>
<path d="M370.12 0v1" stroke="#e8d289"/>
<path d="M372.12 0v1" stroke="#eedea7"/>
<path d="M374.12 0v1" stroke="#eedca0"/>
<path d="M376.12 0v1" stroke="#e9d389"/>
<path d="M378.12 0v1" stroke="#eedda2"/>
<path d="M380.12 0v1" stroke="#eddda4"/>
<path d="M382.12 0v1" stroke="#efe3b9"/>
<path d="M384.12 0v1" stroke="#e9d58f"/>
<path d="M386.12 0v1" stroke="#f1e2b1"/>
<path d="M388.12 0v1" stroke="#ebd99d"/>
<path d="M390.12 0v1" stroke="#ebdaa1"/>
<path d="M392.12 0v1" stroke="#f0e3bb"/>
<path d="M394.12 0v1" stroke="#f0e1b2"/>
<path d="M396.12 0v1" stroke="#f1e2b4"/>
<path d="M398.12 0v1" stroke="#ecdba6"/>
<path d="M400.12 0v1" stroke="#f1e4b9"/>
<path d="M402.12 0v1" stroke="#ecdaa0"/>
<path d="M404.12 0v1" stroke="#f3ecd2"/>
<path d="M406.12 0v1" stroke="#eee0b1"/>
<path d="M408.12 0v1" stroke="#f1e7c6"/>
<path d="M410.12 0v1" stroke="#eddfb0"/>
<path d="M412.12 0v1" stroke="#eee0b0"/>
<path d="M414.12 0v1" stroke="#f0e2b3"/>
<path d="M416.12 0v1" stroke="#f3e8c3"/>
<path d="M418.12 0v1" stroke="#f0e4bc"/>
<path d="M420.12 0v1" stroke="#f2e7c4"/>
<path d="M422.12 0v1" stroke="#f2e5b9"/>
<path d="M424.12 0v1" stroke="#f0e5c0"/>
<path d="M426.12 0v1" stroke="#f3e6bc"/>
<path d="M428.12 0v1" stroke="#ecdca7"/>
<path d="M430.12 0v1" stroke="#efe2b8"/>
<path d="M432.12 0v1" stroke="#eddfb0"/>
<path d="M434.12 0v1" stroke="#f2e5bb"/>
<path d="M436.12 0v1" stroke="#f3e5bb"/>
<path d="M438.12 0v1" stroke="#f0e3b7"/>
<path d="M440.12 0v1" stroke="#ead89e"/>
<path d="M442.12 0v1" stroke="#f0e3bc"/>
<path d="M444.12 0v1" stroke="#f5edd1"/>
<path d="M446.12 0v1" stroke="#f1e4b9"/>
<path d="M448.12 0v1" stroke="#ecddac"/>
<path d="M450.12 0v1" stroke="#edddaa"/>
<path d="M452.12 0v1" stroke="#f0e5c0"/>
<path d="M454.12 0v1" stroke="#f3e9cb"/>
<path d="M456.12 0v1" stroke="#f2e6c0"/>
<path d="M458.12 0v1" stroke="#efdea8"/>
<path d="M460.12 0v1" stroke="#f0e3b7"/>
<path d="M462.12 0v1" stroke="#f6eccd"/>
<path d="M464.12 0v1" stroke="#eddead"/>
<path d="M466.12 0v1" stroke="#eddca7"/>
<path d="M468.12 0v1" stroke="#eddda8"/>
<path d="M470.12 0v1" stroke="#ecda9e"/>
<path d="M472.12 0v1" stroke="#efe2b7"/>
<path d="M474.12 0v1" stroke="#efe0af"/>
<path d="M476.12 0v1" stroke="#f2e5be"/>
<path d="M478.12 0v1" stroke="#ecdaa0"/>
<path d="M480.12 0v1" stroke="#f1e5bf"/>
<path d="M482.12 0v1" stroke="#f0e2b2"/>
<path d="M484.12 0v1" stroke="#f1e6c1"/>
<path d="M486.12 0v1" stroke="#f4e8c3"/>
<path d="M488.12 0v1" stroke="#eedfb1"/>
</g>
<g transform="translate(0 43.96) scale(1 16.96)" stroke-width="2.25">
<path d="M290.12 0v1" stroke="#e97a1b"/>
<path d="M292.12 0v1" stroke="#f4a62d"/>
<path d="M294.12 0v1" stroke="#f7c259"/>
<path d="M296.12 0v1" stroke="#f9d676"/>
<path d="M298.12 0v1" stroke="#f4c335"/>
<path d="M300.12 0v1" stroke="#f7d36a"/>
<path d="M302.12 0v1" stroke="#f4cc59"/>
<path d="M304.12 0v1" stroke="#f7d263"/>
<path d="M306.12 0v1" stroke="#f3d98a"/>
<path d="M308.12 0v1" stroke="#f6eac6"/>
<path d="M310.12 0v1" stroke="#f1db98"/>
<path d="M312.12 0v1" stroke="#f6eac7"/>
<path d="M314.12 0v1" stroke="#f4e3b0"/>
<path d="M316.12 0v1" stroke="#f5e8bf"/>
<path d="M318.12 0v1" stroke="#f3e1aa"/>
<path d="M320.12 0v1" stroke="#f4e6b9"/>
<path d="M322.12 0v1" stroke="#f5e1a3"/>
<path d="M324.12 0v1" stroke="#f4e7bd"/>
<path d="M326.12 0v1" stroke="#f3e3b3"/>
<path d="M328.12 0v1" stroke="#f6e9c0"/>
<path d="M330.12 0v1" stroke="#f3e0a3"/>
<path d="M332.12 0v1" stroke="#f2dd99"/>
<path d="M334.12 0v1" stroke="#f5e7ba"/>
<path d="M336.12 0v1" stroke="#f5e9c4"/>
<path d="M338.12 0v1" stroke="#f6e6b3"/>
<path d="M340.12 0v1" stroke="#f4e2a8"/>
<path d="M342.12 0v1" stroke="#f5e4ac"/>
<path d="M344.12 0v1" stroke="#f4e6b7"/>
<path d="M346.12 0v1" stroke="#f9efcb"/>
<path d="M348.12 0v1" stroke="#f9f1d7"/>
<path d="M350.12 0v1" stroke="#f5e6b4"/>
<path d="M352.12 0v1" stroke="#f7ecc6"/>
<path d="M354.12 0v1" stroke="#f6eac1"/>
<path d="M356.12 0v1" stroke="#f5e4ab"/>
<path d="M358.12 0v1" stroke="#f5eac6"/>
<path d="M360.12 0v1" stroke="#f4e2a8"/>
<path d="M362.12 0v1" stroke="#f7f0d8"/>
<path d="M364.12 0v1" stroke="#f4e8be"/>
<path d="M366.12 0v1" stroke="#f6e8b8"/>
<path d="M368.12 0v1" stroke="#f7ecc5"/>
<path d="M370.12 0v1" stroke="#f2e1a6"/>
<path d="M372.12 0v1" stroke="#f6e9be"/>
<path d="M374.12 0v1" stroke="#f7e8b8"/>
<path d="M376.12 0v1" stroke="#f4e4ab"/>
<path d="M378.12 0v1" stroke="#f7eabd"/>
<path d="M380.12 0v1" stroke="#f8eecd"/>
<path d="M382.12 0v1" stroke="#f6eed3"/>
<path d="M384.12 0v1" stroke="#f5e7b6"/>
<path d="M386.12 0v1" stroke="#f8ebc1"/>
<path d="M388.12 0v1" stroke="#f5eac5"/>
<path d="M390.12 0v1" stroke="#f5eac7"/>
<path d="M392.12 0v1" stroke="#f7efd7"/>
<path d="M394.12 0v1" stroke="#f8f0d4"/>
<path d="M396.12 0v1" stroke="#f8efd1"/>
<path d="M398.12 0v1" stroke="#f5ecce"/>
<path d="M400.12 0v1" stroke="#f9f3df"/>
<path d="M402.12 0v1" stroke="#f7efd2"/>
<path d="M404.12 0v1" stroke="#f7f1de"/>
<path d="M406.12 0v1" stroke="#f8f2e1"/>
<path d="M408.12 0v1" stroke="#f8f3e4"/>
<path d="M410.12 0v1" stroke="#f5eccf"/>
<path d="M412.12 0v1" stroke="#f7efd7"/>
<path d="M414.12 0v1" stroke="#faf4e3"/>
<path d="M416.12 0v1" stroke="#faf5e3"/>
<path d="M418.12 0v1" stroke="#f8f2e1"/>
<path d="M420.12 0v1" stroke="#f9f4e3"/>
<path d="M422.12 0v1" stroke="#fbf7e7"/>
<path d="M424.12 0v1" stroke="#f8f3e4"/>
<path d="M426.12 0v1" stroke="#f9f1d7"/>
<path d="M428.12 0v1" stroke="#f6edd4"/>
<path d="M430.12 0v1" stroke="#f8f4e5"/>
<path d="M432.12 0v1" stroke="#f5eed5"/>
<path d="M434.12 0v1" stroke="#f9f2dc"/>
<path d="M436.12 0v1" stroke="#f9f1d7"/>
<path d="M438.12 0v1" stroke="#f8f1dc"/>
<path d="M440.12 0v1" stroke="#f5ebcf"/>
<path d="M442.12 0v1" stroke="#f6efdb"/>
<path d="M444.12 0v1" stroke="#faf5e5"/>
<path d="M446.12 0v1" stroke="#f8f0d8"/>
<path d="M448.12 0v1" stroke="#f6efda"/>
<path d="M450.12 0v1" stroke="#f6edd3"/>
<path d="M452.12 0v1" stroke="#f7f1de"/>
<path d="M454.12 0v1" stroke="#f8f3e4"/>
<path d="M456.12 0v1" stroke="#f9f3e1"/>
<path d="M458.12 0v1" stroke="#f9f1d9"/>
<path d="M460.12 0v1" stroke="#f7f0d8"/>
<path d="M462.12 0v1" stroke="#fcf8eb"/>
<path d="M464.12 0v1" stroke="#f7efd9"/>
<path d="M466.12 0v1" stroke="#f6eed5"/>
<path d="M468.12 0v1" stroke="#f7eed3"/>
<path d="M470.12 0v1" stroke="#f7edd0"/>
<path d="M472.12 0v1" stroke="#f8f2df"/>
<path d="M474.12 0v1" stroke="#f8f0d9"/>
<path d="M476.12 0v1" stroke="#f9f2dd"/>
<path d="M478.12 0v1" stroke="#f6edd1"/>
<path d="M480.12 0v1" stroke="#f8f2df"/>
<path d="M482.12 0v1" stroke="#f8efd3"/>
<path d="M484.12 0v1" stroke="#f7f1dc"/>
<path d="M486.12 0v1" stroke="#fbf6e7"/>
<path d="M488.12 0v1" stroke="#f6edd3"/>
</g>
<g transform="translate(0 60.62) scale(1 16.96)" stroke-width="2.25">
<path d="M290.12 0v1" stroke="#f5efe1"/>
<path d="M292.12 0v1" stroke="#f7f2e6"/>
<path d="M294.12 0v1" stroke="#f9f4ea"/>
<path d="M296.12 0v1" stroke="#faf6ee"/>
<path d="M298.12 0v1" stroke="#f4ebdc"/>
<path d="M300.12 0v1" stroke="#f9f7f3"/>
<path d="M302.12 0v1" stroke="#f6f3ee"/>
<path d="M304.12 0v1" stroke="#f9f6f0"/>
<path d="M306.12 0v1" stroke="#f6f2ee"/>
<path d="M308.12 0v1" stroke="#f8f6f4"/>
<path d="M310.12 0v1" stroke="#f5f1ec"/>
<path d="M312.12 0v1" stroke="#f8f6f3"/>
<path d="M314.12 0v1" stroke="#f7f4f0"/>
<path d="M316.12 0v1" stroke="#f6f3ee"/>
<path d="M318.12 0v1" stroke="#f6f3ee"/>
<path d="M320.12 0v1" stroke="#f5f2ed"/>
<path d="M322.12 0v1" stroke="#f6f2ec"/>
<path d="M324.12 0v1" stroke="#f5f2ee"/>
<path d="M326.12 0v1" stroke="#f4f0eb"/>
<path d="M328.12 0v1" stroke="#f7f4f0"/>
<path d="M330.12 0v1" stroke="#f5f1ec"/>
<path d="M332.12 0v1" stroke="#f5f1ec"/>
<path d="M334.12 0v1" stroke="#f6f3ef"/>
<path d="M336.12 0v1" stroke="#f7f5f2"/>
<path d="M338.12 0v1" stroke="#f7f3ee"/>
<path d="M340.12 0v1" stroke="#f6f2ed"/>
<path d="M342.12 0v1" stroke="#f8f4ef"/>
<path d="M344.12 0v1" stroke="#f7f4f0"/>
<path d="M346.12 0v1" stroke="#fbf8f5"/>
<path d="M348.12 0v1" stroke="#faf8f5"/>
<path d="M350.12 0v1" stroke="#f8f5f0"/>
<path d="M352.12 0v1" stroke="#faf9f7"/>
<path d="M354.12 0v1" stroke="#f9f6f3"/>
<path d="M356.12 0v1" stroke="#f8f5f1"/>
<path d="M358.12 0v1" stroke="#f7f5f3"/>
<path d="M360.12 0v1" stroke="#f6f2ed"/>
<path d="M362.12 0v1" stroke="#f8f7f5"/>
<path d="M364.12 0v1" stroke="#f6f3ef"/>
<path d="M366.12 0v1" stroke="#f9f7f3"/>
<path d="M368.12 0v1" stroke="#f9f7f3"/>
<path d="M370.12 0v1" stroke="#f6f3ee"/>
<path d="M372.12 0v1" stroke="#f9f7f4"/>
<path d="M374.12 0v1" stroke="#f9f6f3"/>
<path d="M376.12 0v1" stroke="#f7f3ee"/>
<path d="M378.12 0v1" stroke="#f9f6f2"/>
<path d="M380.12 0v1" stroke="#f9f7f4"/>
<path d="M382.12 0v1" stroke="#f8f6f4"/>
<path d="M384.12 0v1" stroke="#f6f3ee"/>
<path d="M386.12 0v1" stroke="#f9f6f1"/>
<path d="M388.12 0v1" stroke="#f5f2ee"/>
<path d="M390.12 0v1" stroke="#f5f1ed"/>
<path d="M392.12 0v1" stroke="#f6f4f1"/>
<path d="M394.12 0v1" stroke="#f7f3ef"/>
<path d="M396.12 0v1" stroke="#f8f5f2"/>
<path d="M398.12 0v1" stroke="#f6f3ef"/>
<path d="M400.12 0v1" stroke="#f9f7f5"/>
<path d="M402.12 0v1" stroke="#f7f4f0"/>
<path d="M404.12 0v1" stroke="#f7f5f2"/>
<path d="M406.12 0v1" stroke="#f7f4f1"/>
<path d="M408.12 0v1" stroke="#f8f7f5"/>
<path d="M410.12 0v1" stroke="#f4f0eb"/>
<path d="M412.12 0v1" stroke="#f6f3ef"/>
<path d="M414.12 0v1" stroke="#f9f7f4"/>
<path d="M416.12 0v1" stroke="#faf8f5"/>
<path d="M418.12 0v1" stroke="#f6f3ef"/>
<path d="M420.12 0v1" stroke="#f8f6f3"/>
<path d="M422.12 0v1" stroke="#fbf9f6"/>
<path d="M424.12 0v1" stroke="#f6f4f1"/>
<path d="M426.12 0v1" stroke="#f9f6f2"/>
<path d="M428.12 0v1" stroke="#f5f1ed"/>
<path d="M430.12 0v1" stroke="#f8f5f3"/>
<path d="M432.12 0v1" stroke="#f4f1ed"/>
<path d="M434.12 0v1" stroke="#f9f7f4"/>
<path d="M436.12 0v1" stroke="#f9f5f1"/>
<path d="M438.12 0v1" stroke="#f9f7f5"/>
<path d="M440.12 0v1" stroke="#f4f0eb"/>
<path d="M442.12 0v1" stroke="#f6f3f0"/>
<path d="M444.12 0v1" stroke="#f9f7f4"/>
<path d="M446.12 0v1" stroke="#f8f5f2"/>
<path d="M448.12 0v1" stroke="#f5f2ef"/>
<path d="M450.12 0v1" stroke="#f5f2ee"/>
<path d="M452.12 0v1" stroke="#f5f2ee"/>
<path d="M454.12 0v1" stroke="#f7f5f2"/>
<path d="M456.12 0v1" stroke="#f6f3ef"/>
<path d="M458.12 0v1" stroke="#f8f4f0"/>
<path d="M460.12 0v1" stroke="#f8f5f2"/>
<path d="M462.12 0v1" stroke="#faf8f5"/>
<path d="M464.12 0v1" stroke="#f6f2ef"/>
<path d="M466.12 0v1" stroke="#f6f3ef"/>
<path d="M468.12 0v1" stroke="#f5f1ed"/>
<path d="M470.12 0v1" stroke="#f6f2ee"/>
<path d="M472.12 0v1" stroke="#f8f6f4"/>
<path d="M474.12 0v1" stroke="#f6f2ee"/>
<path d="M476.12 0v1" stroke="#f7f4f1"/>
<path d="M478.12 0v1" stroke="#f5f1ec"/>
<path d="M480.12 0v1" stroke="#f6f3f0"/>
<path d="M482.12 0v1" stroke="#f8f4f1"/>
<path d="M484.12 0v1" stroke="#f7f5f2"/>
<path d="M486.12 0v1" stroke="#faf8f6"/>
<path d="M488.12 0v1" stroke="#f4f0ec"/>
</g>
<g transform="translate(0 77.28) scale(1 16.96)" stroke-width="2.25">
<path d="M290.12 0v1" stroke="#f8eecf"/>
<path d="M292.12 0v1" stroke="#f7edcf"/>
<path d="M294.12 0v1" stroke="#fbf4e0"/>
<path d="M296.12 0v1" stroke="#fcf8eb"/>
<path d="M298.12 0v1" stroke="#f6eac7"/>
<path d="M300.12 0v1" stroke="#f8efd7"/>
<path d="M302.12 0v1" stroke="#f6eed6"/>
<path d="M304.12 0v1" stroke="#faf3e1"/>
<path d="M306.12 0v1" stroke="#f8f4e9"/>
<path d="M308.12 0v1" stroke="#f9f5ec"/>
<path d="M310.12 0v1" stroke="#f8f3e6"/>
<path d="M312.12 0v1" stroke="#f9f5ec"/>
<path d="M314.12 0v1" stroke="#f8f3e6"/>
<path d="M316.12 0v1" stroke="#f9f5eb"/>
<path d="M318.12 0v1" stroke="#f8f3e7"/>
<path d="M320.12 0v1" stroke="#f8f3e7"/>
<path d="M322.12 0v1" stroke="#faf3e4"/>
<path d="M324.12 0v1" stroke="#f8f5ec"/>
<path d="M326.12 0v1" stroke="#f7f2e6"/>
<path d="M328.12 0v1" stroke="#f9f6ed"/>
<path d="M330.12 0v1" stroke="#f9f3e6"/>
<path d="M332.12 0v1" stroke="#f8f3e5"/>
<path d="M334.12 0v1" stroke="#f9f5ea"/>
<path d="M336.12 0v1" stroke="#f8f4e9"/>
<path d="M338.12 0v1" stroke="#faf5e9"/>
<path d="M340.12 0v1" stroke="#faf5ea"/>
<path d="M342.12 0v1" stroke="#fbf6ec"/>
<path d="M344.12 0v1" stroke="#faf6ee"/>
<path d="M346.12 0v1" stroke="#fcf8ef"/>
<path d="M348.12 0v1" stroke="#fcf9f3"/>
<path d="M350.12 0v1" stroke="#faf6eb"/>
<path d="M352.12 0v1" stroke="#fbf9f3"/>
<path d="M354.12 0v1" stroke="#fbf8f2"/>
<path d="M356.12 0v1" stroke="#fbf7ed"/>
<path d="M358.12 0v1" stroke="#f9f7f1"/>
<path d="M360.12 0v1" stroke="#faf6ec"/>
<path d="M362.12 0v1" stroke="#f9f7f1"/>
<path d="M364.12 0v1" stroke="#f8f4ea"/>
<path d="M366.12 0v1" stroke="#fbf6ec"/>
<path d="M368.12 0v1" stroke="#fcf9f3"/>
<path d="M370.12 0v1" stroke="#f9f4e9"/>
<path d="M372.12 0v1" stroke="#fbf7ef"/>
<path d="M374.12 0v1" stroke="#fcf9f1"/>
<path d="M376.12 0v1" stroke="#faf5ea"/>
<path d="M378.12 0v1" stroke="#fbf6eb"/>
<path d="M380.12 0v1" stroke="#fbf7ee"/>
<path d="M382.12 0v1" stroke="#f9f7f1"/>
<path d="M384.12 0v1" stroke="#f9f4e8"/>
<path d="M386.12 0v1" stroke="#fcf9f1"/>
<path d="M388.12 0v1" stroke="#f9f5ec"/>
<path d="M390.12 0v1" stroke="#f8f4ea"/>
<path d="M392.12 0v1" stroke="#f9f7f1"/>
<path d="M394.12 0v1" stroke="#faf5eb"/>
<path d="M396.12 0v1" stroke="#fbf7ed"/>
<path d="M398.12 0v1" stroke="#f8f5ee"/>
<path d="M400.12 0v1" stroke="#fbf8f0"/>
<path d="M402.12 0v1" stroke="#faf6ed"/>
<path d="M404.12 0v1" stroke="#f9f6ef"/>
<path d="M406.12 0v1" stroke="#f9f5ec"/>
<path d="M408.12 0v1" stroke="#f9f6f0"/>
<path d="M410.12 0v1" stroke="#f8f4eb"/>
<path d="M412.12 0v1" stroke="#f9f5ed"/>
<path d="M414.12 0v1" stroke="#fbf6ed"/>
<path d="M416.12 0v1" stroke="#fcfaf4"/>
<path d="M418.12 0v1" stroke="#faf7f0"/>
<path d="M420.12 0v1" stroke="#faf7ef"/>
<path d="M422.12 0v1" stroke="#fcf8f0"/>
<path d="M424.12 0v1" stroke="#f9f6f0"/>
<path d="M426.12 0v1" stroke="#fcf8f0"/>
<path d="M428.12 0v1" stroke="#f8f4ea"/>
<path d="M430.12 0v1" stroke="#f9f5ee"/>
<path d="M432.12 0v1" stroke="#f8f3ea"/>
<path d="M434.12 0v1" stroke="#fbf7ef"/>
<path d="M436.12 0v1" stroke="#fdf9f2"/>
<path d="M438.12 0v1" stroke="#fbf7f1"/>
<path d="M440.12 0v1" stroke="#f7f2e8"/>
<path d="M442.12 0v1" stroke="#f8f3ea"/>
<path d="M444.12 0v1" stroke="#fbf8f1"/>
<path d="M446.12 0v1" stroke="#fbf7f0"/>
<path d="M448.12 0v1" stroke="#f8f3ea"/>
<path d="M450.12 0v1" stroke="#f8f3ea"/>
<path d="M452.12 0v1" stroke="#f8f4ec"/>
<path d="M454.12 0v1" stroke="#faf7f1"/>
<path d="M456.12 0v1" stroke="#fbf7f1"/>
<path d="M458.12 0v1" stroke="#fcf7ee"/>
<path d="M460.12 0v1" stroke="#faf7f0"/>
<path d="M462.12 0v1" stroke="#fdfbf6"/>
<path d="M464.12 0v1" stroke="#f9f6ef"/>
<path d="M466.12 0v1" stroke="#f9f5ed"/>
<path d="M468.12 0v1" stroke="#faf6ee"/>
<path d="M470.12 0v1" stroke="#fbf6ee"/>
<path d="M472.12 0v1" stroke="#faf7f2"/>
<path d="M474.12 0v1" stroke="#faf6ed"/>
<path d="M476.12 0v1" stroke="#fbf7f1"/>
<path d="M478.12 0v1" stroke="#f9f5ed"/>
<path d="M480.12 0v1" stroke="#faf7f2"/>
<path d="M482.12 0v1" stroke="#fcf8f0"/>
<path d="M484.12 0v1" stroke="#f9f5ee"/>
<path d="M486.12 0v1" stroke="#fdfaf6"/>
<path d="M488.12 0v1" stroke="#f8f3ea"/>
</g>
<g transform="translate(0 93.94) scale(1 16.96)" stroke-width="2.25">
<path d="M290.12 0v1" stroke="#f8f1f1"/>
<path d="M292.12 0v1" stroke="#f8f2f2"/>
<path d="M294.12 0v1" stroke="#fbf6f6"/>
<path d="M296.12 0v1" stroke="#fbf6f6"/>
<path d="M298.12 0v1" stroke="#f6eeee"/>
<path d="M300.12 0v1" stroke="#f9f3f3"/>
<path d="M302.12 0v1" stroke="#f6f0f0"/>
<path d="M304.12 0v1" stroke="#f8f1f1"/>
<path d="M306.12 0v1" stroke="#f5eeee"/>
<path d="M308.12 0v1" stroke="#f8f4f4"/>
<path d="M310.12 0v1" stroke="#f5eeee"/>
<path d="M312.12 0v1" stroke="#f7f1f1"/>
<path d="M314.12 0v1" stroke="#f7f1f0"/>
<path d="M316.12 0v1" stroke="#f7f2f1"/>
<path d="M318.12 0v1" stroke="#f6f1f1"/>
<path d="M320.12 0v1" stroke="#f6f0f0"/>
<path d="M322.12 0v1" stroke="#f7efef"/>
<path d="M324.12 0v1" stroke="#f6f0ef"/>
<path d="M326.12 0v1" stroke="#f5efef"/>
<path d="M328.12 0v1" stroke="#f8f2f2"/>
<path d="M330.12 0v1" stroke="#f6f0ef"/>
<path d="M332.12 0v1" stroke="#f6efef"/>
<path d="M334.12 0v1" stroke="#f7f2f2"/>
<path d="M336.12 0v1" stroke="#f7f2f1"/>
<path d="M338.12 0v1" stroke="#f8f2f2"/>
<path d="M340.12 0v1" stroke="#f8f1f0"/>
<path d="M342.12 0v1" stroke="#f8f1f1"/>
<path d="M344.12 0v1" stroke="#f7f2f1"/>
<path d="M346.12 0v1" stroke="#fbf7f7"/>
<path d="M348.12 0v1" stroke="#fbf8f8"/>
<path d="M350.12 0v1" stroke="#f9f4f4"/>
<path d="M352.12 0v1" stroke="#faf6f6"/>
<path d="M354.12 0v1" stroke="#faf6f6"/>
<path d="M356.12 0v1" stroke="#faf5f4"/>
<path d="M358.12 0v1" stroke="#f8f4f3"/>
<path d="M360.12 0v1" stroke="#f8f2f1"/>
<path d="M362.12 0v1" stroke="#f8f4f4"/>
<path d="M364.12 0v1" stroke="#f7f3f2"/>
<path d="M366.12 0v1" stroke="#faf5f4"/>
<path d="M368.12 0v1" stroke="#fbf7f7"/>
<path d="M370.12 0v1" stroke="#f6efee"/>
<path d="M372.12 0v1" stroke="#faf6f6"/>
<path d="M374.12 0v1" stroke="#faf4f3"/>
<path d="M376.12 0v1" stroke="#f9f2f1"/>
<path d="M378.12 0v1" stroke="#f9f3f2"/>
<path d="M380.12 0v1" stroke="#faf6f5"/>
<path d="M382.12 0v1" stroke="#f8f5f5"/>
<path d="M384.12 0v1" stroke="#f7f1f0"/>
<path d="M386.12 0v1" stroke="#fbf6f5"/>
<path d="M388.12 0v1" stroke="#f8f3f2"/>
<path d="M390.12 0v1" stroke="#f6f0ef"/>
<path d="M392.12 0v1" stroke="#f9f6f6"/>
<path d="M394.12 0v1" stroke="#f9f4f3"/>
<path d="M396.12 0v1" stroke="#f9f4f3"/>
<path d="M398.12 0v1" stroke="#f7f2f1"/>
<path d="M400.12 0v1" stroke="#faf5f4"/>
<path d="M402.12 0v1" stroke="#f8f3f2"/>
<path d="M404.12 0v1" stroke="#f7f3f3"/>
<path d="M406.12 0v1" stroke="#f7f2f1"/>
<path d="M408.12 0v1" stroke="#f8f4f3"/>
<path d="M410.12 0v1" stroke="#f6efee"/>
<path d="M412.12 0v1" stroke="#f8f3f2"/>
<path d="M414.12 0v1" stroke="#f9f4f3"/>
<path d="M416.12 0v1" stroke="#fcf9f8"/>
<path d="M418.12 0v1" stroke="#f9f4f4"/>
<path d="M420.12 0v1" stroke="#faf7f6"/>
<path d="M422.12 0v1" stroke="#fcf8f7"/>
<path d="M424.12 0v1" stroke="#f8f4f3"/>
<path d="M426.12 0v1" stroke="#faf4f2"/>
<path d="M428.12 0v1" stroke="#f7f1f0"/>
<path d="M430.12 0v1" stroke="#f8f3f2"/>
<path d="M432.12 0v1" stroke="#f6f1ef"/>
<path d="M434.12 0v1" stroke="#fbf6f5"/>
<path d="M436.12 0v1" stroke="#fbf6f5"/>
<path d="M438.12 0v1" stroke="#f9f5f4"/>
<path d="M440.12 0v1" stroke="#f7f1f0"/>
<path d="M442.12 0v1" stroke="#f7f2f1"/>
<path d="M444.12 0v1" stroke="#fbf8f7"/>
<path d="M446.12 0v1" stroke="#f9f4f3"/>
<path d="M448.12 0v1" stroke="#f7f2f0"/>
<path d="M450.12 0v1" stroke="#f8f3f1"/>
<path d="M452.12 0v1" stroke="#f8f5f4"/>
<path d="M454.12 0v1" stroke="#f8f5f4"/>
<path d="M456.12 0v1" stroke="#f9f3f2"/>
<path d="M458.12 0v1" stroke="#faf4f3"/>
<path d="M460.12 0v1" stroke="#f9f4f2"/>
<path d="M462.12 0v1" stroke="#fcf9f8"/>
<path d="M464.12 0v1" stroke="#f8f4f3"/>
<path d="M466.12 0v1" stroke="#f8f2f0"/>
<path d="M468.12 0v1" stroke="#f8f1f0"/>
<path d="M470.12 0v1" stroke="#faf4f3"/>
<path d="M472.12 0v1" stroke="#f9f4f3"/>
<path d="M474.12 0v1" stroke="#f9f3f1"/>
<path d="M476.12 0v1" stroke="#faf5f3"/>
<path d="M478.12 0v1" stroke="#f8f2f0"/>
<path d="M480.12 0v1" stroke="#f9f5f4"/>
<path d="M482.12 0v1" stroke="#faf4f2"/>
<path d="M484.12 0v1" stroke="#f9f4f3"/>
<path d="M486.12 0v1" stroke="#fcf8f6"/>
<path d="M488.12 0v1" stroke="#f8f2f0"/>
</g>
</g>
<line x1="288.6" y1="27.3" x2="288.6" y2="110.6" stroke="#9a9a9a" stroke-width="1.1"/>
<g clip-path="url(#hc0)">
<path d="M281.6 70.8 282.3 70.6 282.9 71.4 283.6 70.6 284.3 70.3 284.9 71.3 285.6 71.3 286.3 70.6 M292.3 48.9 L293.0 51.3 293.7 53.4 294.3 54.8 295.0 55.1 295.7 54.9 296.3 56.0 297.0 55.9 297.7 56.7 298.3 57.0 299.0 57.5 299.7 56.5 300.4 57.9 301.0 57.3 301.7 58.5 302.4 57.7 303.0 58.2 303.7 58.3 304.4 58.8 305.0 59.3 305.7 59.1 306.4 59.2 307.0 59.4 307.7 59.5 308.4 59.7 309.1 59.6 309.7 60.0 310.4 60.8 311.1 60.9 311.7 60.0 312.4 60.8 313.1 61.2 313.7 61.1 314.4 61.3 315.1 61.7 315.8 62.3 316.4 62.6 317.1 62.4 317.8 62.9 318.4 62.8 319.1 63.2 319.8 63.2 320.4 62.0 321.1 61.5 321.8 61.1 322.5 60.6 323.1 59.4 323.8 59.3 324.5 58.0 325.1 56.8 325.8 55.8 326.5 56.9 327.1 56.4 327.8 56.5 328.5 57.5 329.1 57.6 329.8 58.5 330.5 58.1 331.2 59.5 331.8 60.0 332.5 59.9 333.2 60.1 333.8 61.0 334.5 61.8 335.2 61.6 335.8 61.9 336.5 62.6 337.2 62.5 337.9 62.4 338.5 62.8 339.2 62.9 339.9 62.8 340.5 63.1 341.2 62.3 341.9 63.5 342.5 64.0 343.2 64.1 343.9 63.8 344.6 64.8 345.2 64.8 345.9 64.2 346.6 64.6 347.2 64.6 347.9 64.7 348.6 65.6 349.2 65.7 349.9 65.2 350.6 65.6 351.2 66.0 351.9 65.9 352.6 66.5 353.3 66.5 353.9 66.6 354.6 66.1 355.3 67.3 355.9 66.1 356.6 67.1 357.3 67.8 357.9 67.5 358.6 67.3 359.3 67.6 360.0 67.5 360.6 68.6 361.3 68.5 362.0 68.1 362.6 69.4 363.3 68.6 364.0 69.1 364.6 68.4 365.3 69.3 366.0 69.7 366.7 69.7 367.3 69.5 368.0 70.4 368.7 69.7 369.3 70.9 370.0 70.4 370.7 70.6 371.3 71.0 372.0 71.2 372.7 71.4 373.3 70.2 374.0 69.1 374.7 69.4 375.4 68.5 376.0 68.3 376.7 67.9 377.4 67.6 378.0 67.7 378.7 66.8 379.4 66.2 380.0 65.6 380.7 65.2 381.4 64.9 382.1 64.7 382.7 64.3 383.4 64.1 384.1 62.5 384.7 63.9 385.4 64.2 386.1 63.3 386.7 65.0 387.4 64.9 388.1 64.7 388.8 65.7 389.4 65.5 390.1 66.2 390.8 66.8 391.4 67.4 392.1 67.7 392.8 67.5 393.4 67.1 394.1 68.0 394.8 68.7 395.5 69.3 396.1 69.4 396.8 69.0 397.5 69.0 398.1 68.5 398.8 68.6 399.5 67.7 400.1 68.1 400.8 68.2 401.5 67.2 402.1 67.8 402.8 66.2 403.5 67.1 404.2 66.1 404.8 66.2 405.5 66.2 406.2 66.1 406.8 64.9 407.5 65.5 408.2 64.4 408.8 64.9 409.5 64.8 410.2 65.0 410.9 64.5 411.5 64.8 412.2 64.4 412.9 64.9 413.5 65.2 414.2 65.1 414.9 64.8 415.5 65.3 416.2 65.1 416.9 65.4 417.6 65.0 418.2 64.8 418.9 65.1 419.6 65.3 420.2 64.8 420.9 65.0 421.6 64.6 422.2 65.3 422.9 64.6 423.6 64.1 424.2 65.2 424.9 64.4 425.6 65.4 426.3 64.6 426.9 64.4 427.6 64.4 428.3 64.8 428.9 64.2 429.6 64.5 430.3 63.7 430.9 64.3 431.6 63.8 432.3 63.6 433.0 64.7 433.6 62.7 434.3 63.4 435.0 62.3 435.6 62.6 436.3 62.1 437.0 62.2 437.6 62.3 438.3 61.6 439.0 62.1 439.7 61.5 440.3 62.2 441.0 61.7 441.7 62.0 442.3 62.2 443.0 62.2 443.7 62.7 444.3 63.6 445.0 62.5 445.7 62.3 446.3 62.7 447.0 62.9 447.7 62.6 448.4 63.9 449.0 62.5 449.7 63.2 450.4 62.7 451.0 63.6 451.7 63.9 452.4 63.5 453.0 64.2 453.7 64.2 454.4 65.5 455.1 65.5 455.7 65.7 456.4 65.9 457.1 66.7 457.7 66.6 458.4 67.2 459.1 67.0 459.7 67.9 460.4 68.6 461.1 68.3 461.8 69.4 462.4 69.1 463.1 68.8 463.8 68.6 464.4 68.8 465.1 68.3 465.8 68.5 466.4 66.6 467.1 67.2 467.8 67.6 468.4 66.5 469.1 67.1 469.8 66.1 470.5 66.9 471.1 64.7 471.8 65.8 472.5 65.6 473.1 65.2 473.8 63.8 474.5 64.5 475.1 62.9 475.8 63.5 476.5 63.9 477.2 63.8 477.8 63.8 478.5 63.9 479.2 64.0 479.8 63.3 480.5 63.2 481.2 64.1 481.8 64.1 482.5 64.0 483.2 64.3 483.9 64.6 484.5 64.4 485.2 64.2 485.9 64.8 486.5 64.8 487.2 64.7" fill="none" stroke="#9c9c9c" stroke-width="2.5" stroke-linejoin="round"/>
<path d="M281.6 71.0 281.9 72.6 282.1 74.0 282.4 71.8 282.6 70.1 282.9 70.1 283.1 71.0 283.4 71.6 283.6 71.8 283.9 69.7 284.1 70.7 284.4 72.7 284.6 71.7 284.9 71.6 285.1 70.4 285.4 71.1 285.6 72.5 285.9 71.7 286.1 70.6 286.4 71.6 286.6 70.8 286.9 68.3 287.1 69.7 M291.9 47.5 L292.1 49.8 292.4 48.9 292.6 47.8 292.9 49.2 293.1 48.8 293.4 50.8 293.6 54.2 293.9 53.9 294.1 55.1 294.4 57.0 294.6 56.3 294.9 56.0 295.1 56.6 295.4 54.7 295.6 54.5 295.9 56.9 296.1 54.3 296.4 54.2 296.6 56.1 296.9 56.8 297.1 56.7 297.4 56.0 297.6 57.1 297.9 56.2 298.1 56.7 298.4 57.8 298.6 57.7 298.9 57.3 299.1 58.0 299.4 59.4 299.6 58.0 299.9 58.1 300.1 59.8 300.4 61.2 300.6 58.0 300.9 57.0 301.1 59.4 301.4 58.4 301.6 56.8 301.9 58.4 302.1 58.1 302.4 57.4 302.6 60.4 302.9 58.0 303.1 56.2 303.4 56.6 303.6 57.3 303.9 60.6 304.1 62.7 304.4 59.0 304.6 56.1 304.9 59.0 305.1 61.5 305.4 61.3 305.6 58.7 305.9 58.6 306.1 59.5 306.4 59.0 306.6 58.2 306.9 58.9 307.1 60.2 307.4 59.7 307.6 59.2 307.9 57.9 308.1 57.6 308.4 60.5 308.6 60.9 308.9 58.0 309.1 59.8 309.4 62.1 309.6 63.1 309.9 62.6 310.1 59.7 310.4 58.0 310.6 60.1 310.9 64.8 311.2 62.5 311.4 58.8 311.7 60.6 311.9 60.4 312.2 59.5 312.4 60.1 312.7 60.8 312.9 62.5 313.2 62.4 313.4 62.3 313.7 61.8 313.9 61.2 314.2 59.3 314.4 57.4 314.7 60.8 314.9 61.9 315.2 61.7 315.4 63.1 315.7 64.1 315.9 64.5 316.2 64.2 316.4 63.2 316.7 61.3 316.9 60.7 317.2 61.0 317.4 60.6 317.7 60.6 317.9 61.9 318.2 62.9 318.4 62.7 318.7 60.3 318.9 60.7 319.2 63.2 319.4 64.6 319.7 65.1 319.9 63.2 320.2 61.4 320.4 64.1 320.7 65.5 320.9 65.0 321.2 66.3 321.4 62.9 321.7 60.6 321.9 61.8 322.2 61.6 322.4 61.4 322.7 60.7 322.9 60.0 323.2 57.7 323.4 57.0 323.7 57.6 323.9 57.6 324.2 57.6 324.4 57.8 324.7 59.0 324.9 58.3 325.2 57.4 325.4 56.9 325.7 55.7 325.9 55.1 326.2 55.1 326.4 55.9 326.7 56.6 326.9 57.0 327.2 55.6 327.4 56.1 327.7 57.0 327.9 55.3 328.2 56.1 328.4 56.4 328.7 57.2 328.9 57.3 329.2 55.9 329.4 55.8 329.7 58.7 329.9 59.9 330.2 57.2 330.4 57.3 330.7 57.0 330.9 59.2 331.2 59.4 331.4 58.1 331.7 60.6 331.9 58.6 332.2 58.5 332.4 61.5 332.7 61.8 332.9 61.1 333.2 61.9 333.4 61.9 333.7 61.4 333.9 61.2 334.2 61.7 334.4 60.9 334.7 61.3 334.9 62.0 335.2 60.0 335.4 61.0 335.7 64.3 335.9 65.0 336.2 62.6 336.4 62.3 336.7 62.5 336.9 61.6 337.2 62.3 337.4 59.8 337.7 60.0 337.9 61.5 338.2 60.6 338.4 60.1 338.7 59.2 338.9 59.9 339.2 62.7 339.4 65.7 339.7 64.8 339.9 64.2 340.2 64.0 340.5 60.6 340.7 61.2 341.0 63.9 341.2 63.3 341.5 63.2 341.7 64.4 342.0 63.2 342.2 60.9 342.5 61.7 342.7 63.2 343.0 63.1 343.2 64.5 343.5 67.0 343.7 65.4 344.0 64.3 344.2 65.9 344.5 66.0 344.7 66.2 345.0 65.0 345.2 64.7 345.5 67.5 345.7 67.7 346.0 64.7 346.2 64.5 346.5 66.8 346.7 66.6 347.0 64.5 347.2 65.9 347.5 65.2 347.7 64.1 348.0 65.6 348.2 63.7 348.5 65.1 348.7 67.0 349.0 64.3 349.2 64.7 349.5 65.6 349.7 62.7 350.0 62.5 350.2 65.1 350.5 66.7 350.7 66.6 351.0 66.0 351.2 66.4 351.5 66.2 351.7 67.0 352.0 67.5 352.2 66.6 352.5 67.1 352.7 65.6 353.0 64.2 353.2 67.2 353.5 68.5 353.7 66.5 354.0 66.6 354.2 66.4 354.5 66.4 354.7 66.2 355.0 66.3 355.2 65.3 355.5 66.6 355.7 67.9 356.0 64.6 356.2 65.0 356.5 66.4 356.7 66.9 357.0 66.1 357.2 66.4 357.5 72.0 357.7 70.1 358.0 66.4 358.2 67.6 358.5 67.5 358.7 65.8 359.0 64.3 359.2 67.0 359.5 68.4 359.7 69.8 360.0 69.1 360.2 67.4 360.5 71.7 360.7 70.7 361.0 66.3 361.2 67.2 361.5 68.3 361.7 69.4 362.0 69.6 362.2 67.8 362.5 68.0 362.7 72.0 363.0 73.2 363.2 67.1 363.5 65.5 363.7 67.8 364.0 68.7 364.2 69.6 364.5 71.1 364.7 72.5 365.0 71.3 365.2 70.5 365.5 69.5 365.7 69.8 366.0 71.4 366.2 71.7 366.5 69.8 366.7 70.7 367.0 71.4 367.2 69.9 367.5 68.9 367.7 68.4 368.0 68.6 368.2 66.1 368.5 68.1 368.7 72.0 369.0 70.7 369.2 71.3 369.5 72.1 369.8 71.4 370.0 68.1 370.3 67.5 370.5 71.0 370.8 73.1 371.0 74.7 371.3 74.6 371.5 71.2 371.8 67.1 372.0 69.1 372.3 71.5 372.5 71.8 372.8 71.5 373.0 70.5 373.3 68.7 373.5 68.8 373.8 69.9 374.0 69.6 374.3 70.5 374.5 69.8 374.8 69.5 375.0 69.4 375.3 69.8 375.5 70.2 375.8 68.6 376.0 67.2 376.3 69.6 376.5 70.0 376.8 69.0 377.0 69.4 377.3 67.5 377.5 66.0 377.8 66.6 378.0 67.6 378.3 68.0 378.5 66.1 378.8 64.6 379.0 65.8 379.3 68.1 379.5 65.4 379.8 63.9 380.0 65.8 380.3 65.7 380.5 65.6 380.8 65.3 381.0 67.5 381.3 67.4 381.5 65.9 381.8 65.8 382.0 64.2 382.3 64.3 382.5 64.7 382.8 63.0 383.0 63.1 383.3 63.6 383.5 64.3 383.8 64.4 384.0 62.8 384.3 64.4 384.5 66.3 384.8 66.2 385.0 65.9 385.3 64.4 385.5 63.4 385.8 63.3 386.0 65.0 386.3 65.6 386.5 62.9 386.8 62.9 387.0 63.1 387.3 63.4 387.5 63.8 387.8 62.3 388.0 63.9 388.3 65.4 388.5 63.5 388.8 64.6 389.0 69.1 389.3 66.6 389.5 66.4 389.8 67.4 390.0 64.9 390.3 65.6 390.5 64.6 390.8 66.5 391.0 68.8 391.3 66.6 391.5 65.8 391.8 65.1 392.0 65.1 392.3 68.1 392.5 66.6 392.8 65.2 393.0 67.4 393.3 69.3 393.5 70.8 393.8 69.2 394.0 66.9 394.3 68.1 394.5 68.6 394.8 67.9 395.0 69.7 395.3 72.1 395.5 71.3 395.8 69.2 396.0 69.7 396.3 67.9 396.5 67.3 396.8 68.1 397.0 70.8 397.3 72.8 397.5 70.1 397.8 69.0 398.0 65.8 398.3 66.8 398.5 71.4 398.8 69.7 399.0 68.5 399.3 70.1 399.6 67.4 399.8 67.6 400.1 70.8 400.3 69.9 400.6 68.2 400.8 68.7 401.1 66.9 401.3 66.0 401.6 68.9 401.8 67.3 402.1 67.1 402.3 68.0 402.6 64.4 402.8 64.6 403.1 65.8 403.3 66.2 403.6 65.9 403.8 66.6 404.1 67.0 404.3 66.1 404.6 66.2 404.8 65.3 405.1 67.3 405.3 67.8 405.6 65.9 405.8 64.1 406.1 65.8 406.3 68.0 406.6 66.2 406.8 65.5 407.1 64.6 407.3 63.1 407.6 63.2 407.8 64.7 408.1 65.9 408.3 64.6 408.6 65.0 408.8 66.6 409.1 66.0 409.3 66.3 409.6 65.8 409.8 64.4 410.1 65.3 410.3 65.4 410.6 65.8 410.8 64.4 411.1 65.1 411.3 65.6 411.6 63.8 411.8 63.1 412.1 64.0 412.3 67.1 412.6 67.6 412.8 67.1 413.1 64.1 413.3 62.2 413.6 63.5 413.8 63.3 414.1 65.1 414.3 66.4 414.6 65.1 414.8 65.4 415.1 64.4 415.3 62.8 415.6 62.8 415.8 64.5 416.1 65.9 416.3 66.0 416.6 66.8 416.8 64.6 417.1 62.7 417.3 64.4 417.6 63.5 417.8 62.7 418.1 65.5 418.3 67.3 418.6 67.4 418.8 66.2 419.1 64.7 419.3 65.9 419.6 65.7 419.8 64.9 420.1 66.8 420.3 66.0 420.6 63.8 420.8 64.2 421.1 65.6 421.3 66.1 421.6 65.6 421.8 65.7 422.1 63.7 422.3 62.1 422.6 64.1 422.8 64.0 423.1 62.3 423.3 62.0 423.6 62.5 423.8 63.6 424.1 63.5 424.3 64.0 424.6 67.1 424.8 66.7 425.1 66.2 425.3 66.7 425.6 63.9 425.8 63.3 426.1 63.5 426.3 64.7 426.6 64.5 426.8 65.1 427.1 67.1 427.3 63.2 427.6 63.4 427.8 67.4 428.1 65.5 428.3 64.8 428.6 63.6 428.9 62.7 429.1 62.8 429.4 63.0 429.6 62.8 429.9 59.1 430.1 61.6 430.4 67.2 430.6 66.0 430.9 64.2 431.1 65.0 431.4 63.6 431.6 64.1 431.9 66.3 432.1 64.1 432.4 62.8 432.6 64.6 432.9 62.2 433.1 63.6 433.4 67.4 433.6 64.4 433.9 64.1 434.1 65.2 434.4 62.9 434.6 64.5 434.9 64.9 435.1 63.5 435.4 64.9 435.6 66.0 435.9 65.2 436.1 62.0 436.4 59.1 436.6 62.0 436.9 62.7 437.1 61.5 437.4 61.2 437.6 60.8 437.9 60.5 438.1 62.5 438.4 62.8 438.6 60.7 438.9 61.6 439.1 63.0 439.4 61.6 439.6 60.2 439.9 61.6 440.1 62.3 440.4 63.1 440.6 62.0 440.9 61.7 441.1 61.9 441.4 62.1 441.6 62.5 441.9 61.2 442.1 61.3 442.4 62.5 442.6 65.2 442.9 64.3 443.1 62.0 443.4 64.3 443.6 61.6 443.9 58.0 444.1 59.0 444.4 60.9 444.6 65.1 444.9 65.7 445.1 64.3 445.4 63.7 445.6 59.5 445.9 57.1 446.1 61.1 446.4 64.0 446.6 61.4 446.9 62.5 447.1 62.3 447.4 62.3 447.6 65.8 447.9 63.6 448.1 60.7 448.4 62.6 448.6 62.6 448.9 62.7 449.1 62.6 449.4 62.6 449.6 64.1 449.9 62.7 450.1 61.6 450.4 62.4 450.6 61.3 450.9 60.7 451.1 62.5 451.4 63.6 451.6 62.6 451.9 63.9 452.1 65.2 452.4 62.0 452.6 64.1 452.9 67.5 453.1 65.8 453.4 63.0 453.6 63.4 453.9 63.8 454.1 63.6 454.4 66.3 454.6 67.2 454.9 65.8 455.1 65.9 455.4 65.8 455.6 66.5 455.9 67.7 456.1 66.5 456.4 65.7 456.6 69.1 456.9 69.6 457.1 66.7 457.4 68.7 457.6 69.1 457.9 65.6 458.2 66.6 458.4 66.9 458.7 65.7 458.9 67.3 459.2 67.8 459.4 66.7 459.7 66.4 459.9 66.7 460.2 68.9 460.4 68.9 460.7 67.0 460.9 70.3 461.2 70.5 461.4 70.0 461.7 72.3 461.9 70.6 462.2 67.6 462.4 68.4 462.7 70.7 462.9 71.2 463.2 70.4 463.4 70.5 463.7 71.9 463.9 69.2 464.2 69.1 464.4 70.4 464.7 68.0 464.9 67.4 465.2 70.1 465.4 71.4 465.7 67.1 465.9 66.0 466.2 67.7 466.4 67.3 466.7 66.8 466.9 65.2 467.2 66.7 467.4 67.2 467.7 65.6 467.9 65.9 468.2 65.4 468.4 66.8 468.7 68.0 468.9 66.2 469.2 64.6 469.4 64.7 469.7 66.8 469.9 67.4 470.2 66.4 470.4 65.8 470.7 65.1 470.9 65.6 471.2 63.7 471.4 65.2 471.7 66.3 471.9 63.7 472.2 66.0 472.4 66.8 472.7 65.2 472.9 64.1 473.2 62.2 473.4 63.0 473.7 66.0 473.9 64.7 474.2 64.7 474.4 64.4 474.7 61.8 474.9 63.6 475.2 64.3 475.4 64.4 475.7 63.5 475.9 61.4 476.2 60.0 476.4 59.8 476.7 60.8 476.9 60.5 477.2 62.2 477.4 63.1 477.7 60.5 477.9 64.1 478.2 65.5 478.4 61.2 478.7 63.6 478.9 66.5 479.2 63.8 479.4 60.8 479.7 61.0 479.9 64.0 480.2 64.8 480.4 62.6 480.7 63.0 480.9 65.3 481.2 63.8 481.4 62.0 481.7 62.1 481.9 65.0 482.2 68.8 482.4 67.4 482.7 65.2 482.9 64.9 483.2 62.7 483.4 62.3 483.7 63.2 483.9 61.4 484.2 62.1 484.4 63.3 484.7 64.8 484.9 66.0 485.2 65.7 485.4 63.9 485.7 64.4 485.9 65.4 486.2 66.0 486.4 65.1 486.7 60.6 486.9 61.1 487.2 66.8" fill="none" stroke="#858585" stroke-width="0.75" stroke-linejoin="round"/>
<path d="M287.1 69.7 L287.4 71.0 287.6 70.6 287.9 68.6 288.1 65.8 288.4 62.6 288.6 58.9 288.9 46.6 289.1 34.5 289.4 31.2 289.6 32.7 289.9 34.5 290.1 36.5 290.4 38.1 290.6 39.8 290.9 41.7 291.1 43.3 291.4 44.7 291.6 46.5 291.9 47.5" fill="none" stroke="#999" stroke-width="0.7" stroke-linejoin="round"/>
</g>
<line x1="299" y1="60" x2="299" y2="87.8" stroke="#999" stroke-width="0.6"/>
<rect x="281.6" y="27.3" width="205.9" height="83.3" fill="none" stroke="#555" stroke-width="0.7"/>
<path d="M281.6 35.6 h2.2 M487.5 35.6 h-2.2" stroke="#555" stroke-width="0.6"/>
<text x="278.2" y="38.4" font-size="7.9" text-anchor="end" font-weight="normal" fill="#1a1a1a" stroke="#1a1a1a" stroke-width="0.2" >75</text>
<path d="M281.6 52.3 h2.2 M487.5 52.3 h-2.2" stroke="#555" stroke-width="0.6"/>
<text x="278.2" y="55.1" font-size="7.9" text-anchor="end" font-weight="normal" fill="#1a1a1a" stroke="#1a1a1a" stroke-width="0.2" >50</text>
<path d="M281.6 69.0 h2.2 M487.5 69.0 h-2.2" stroke="#555" stroke-width="0.6"/>
<text x="278.2" y="71.8" font-size="7.9" text-anchor="end" font-weight="normal" fill="#1a1a1a" stroke="#1a1a1a" stroke-width="0.2" >25</text>
<path d="M281.6 85.6 h2.2 M487.5 85.6 h-2.2" stroke="#555" stroke-width="0.6"/>
<text x="278.2" y="88.4" font-size="7.9" text-anchor="end" font-weight="normal" fill="#1a1a1a" stroke="#1a1a1a" stroke-width="0.2" >15</text>
<path d="M281.6 102.3 h2.2 M487.5 102.3 h-2.2" stroke="#555" stroke-width="0.6"/>
<text x="278.2" y="105.1" font-size="7.9" text-anchor="end" font-weight="normal" fill="#1a1a1a" stroke="#1a1a1a" stroke-width="0.2" >0</text>
<path d="M288.5 110.6 v-2.2 M288.5 27.3 v2.2" stroke="#555" stroke-width="0.6"/>
<text x="288.5" y="120.2" font-size="7.9" text-anchor="middle" font-weight="normal" fill="#1a1a1a" stroke="#1a1a1a" stroke-width="0.2" >0</text>
<path d="M339.6 110.6 v-2.2 M339.6 27.3 v2.2" stroke="#555" stroke-width="0.6"/>
<text x="339.6" y="120.2" font-size="7.9" text-anchor="middle" font-weight="normal" fill="#1a1a1a" stroke="#1a1a1a" stroke-width="0.2" >100</text>
<path d="M390.8 110.6 v-2.2 M390.8 27.3 v2.2" stroke="#555" stroke-width="0.6"/>
<text x="390.8" y="120.2" font-size="7.9" text-anchor="middle" font-weight="normal" fill="#1a1a1a" stroke="#1a1a1a" stroke-width="0.2" >200</text>
<path d="M441.9 110.6 v-2.2 M441.9 27.3 v2.2" stroke="#555" stroke-width="0.6"/>
<text x="441.9" y="120.2" font-size="7.9" text-anchor="middle" font-weight="normal" fill="#1a1a1a" stroke="#1a1a1a" stroke-width="0.2" >300</text>
<path d="M286.4 111.2 L288.5 108.0 L290.6 111.2 Z" fill="#111"/>
<text x="383.3" y="130.4" font-size="7.9" text-anchor="middle" font-weight="normal" fill="#1a1a1a" stroke="#1a1a1a" stroke-width="0.2" >Time (ms)</text>
<text x="0" y="0" font-size="7.9" text-anchor="middle" fill="#222" stroke="#222" stroke-width="0.2" transform="translate(263.2 69.0) rotate(-90)">Stimulus (µA)</text>
<text x="384.5" y="22.3" font-size="7.9" text-anchor="middle" font-weight="bold" fill="#111" stroke="#111" stroke-width="0" >0.5 ms</text>
<line x1="460.6" y1="32.7" x2="460.6" y2="65.4" stroke="#333" stroke-width="0.7"/>
<text x="465.6" y="44.0" font-size="7.9" text-anchor="start" font-weight="normal" fill="#111" stroke="#111" stroke-width="0.2" >1 mV</text>
<text x="455.5" y="84.8" font-size="7.9" text-anchor="start" font-weight="normal" fill="#999" stroke="#999" stroke-width="0.2" >75 µA</text>
<rect x="499.3" y="27.3" width="16.4" height="84.1" fill="url(#cb)" stroke="#444" stroke-width="0.6"/>
<path d="M515.7 40.0 h-1.8 M499.3 40.0 h1.8" stroke="#444" stroke-width="0.5"/>
<text x="517.2" y="42.8" font-size="7.9" text-anchor="start" font-weight="normal" fill="#1a1a1a" stroke="#1a1a1a" stroke-width="0.2" >1</text>
<path d="M515.7 55.3 h-1.8 M499.3 55.3 h1.8" stroke="#444" stroke-width="0.5"/>
<text x="517.2" y="58.1" font-size="7.9" text-anchor="start" font-weight="normal" fill="#1a1a1a" stroke="#1a1a1a" stroke-width="0.2" >0.5</text>
<path d="M515.7 70.5 h-1.8 M499.3 70.5 h1.8" stroke="#444" stroke-width="0.5"/>
<text x="517.2" y="73.3" font-size="7.9" text-anchor="start" font-weight="normal" fill="#1a1a1a" stroke="#1a1a1a" stroke-width="0.2" >0</text>
<path d="M515.7 86.3 h-1.8 M499.3 86.3 h1.8" stroke="#444" stroke-width="0.5"/>
<text x="517.2" y="89.1" font-size="7.9" text-anchor="start" font-weight="normal" fill="#1a1a1a" stroke="#1a1a1a" stroke-width="0.2" >−0.5</text>
<path d="M515.7 102.7 h-1.8 M499.3 102.7 h1.8" stroke="#444" stroke-width="0.5"/>
<text x="517.2" y="105.5" font-size="7.9" text-anchor="start" font-weight="normal" fill="#1a1a1a" stroke="#1a1a1a" stroke-width="0.2" >−1</text>
<text x="489.3" y="120.9" font-size="7.9" fill="#222" stroke="#222" stroke-width="0.2">Mean ΔV<tspan font-size="6.0" dy="2.8">m</tspan></text>
<rect x="281.6" y="155.5" width="7.4" height="84.1" fill="#f3f4f6"/>
<clipPath id="hc1"><rect x="281.6" y="155.5" width="205.9" height="84.1"/></clipPath><g clip-path="url(#hc1)">
<g transform="translate(0 155.50) scale(1 17.12)" stroke-width="2.25">
<path d="M290.12 0v1" stroke="#b74e1e"/>
<path d="M292.12 0v1" stroke="#c05825"/>
<path d="M294.12 0v1" stroke="#c65820"/>
<path d="M296.12 0v1" stroke="#cf6522"/>
<path d="M298.12 0v1" stroke="#d67226"/>
<path d="M300.12 0v1" stroke="#dc7c23"/>
<path d="M302.12 0v1" stroke="#e28822"/>
<path d="M304.12 0v1" stroke="#ea9c31"/>
<path d="M306.12 0v1" stroke="#e99f24"/>
<path d="M308.12 0v1" stroke="#eeae2e"/>
<path d="M310.12 0v1" stroke="#ebaf1c"/>
<path d="M312.12 0v1" stroke="#eeb628"/>
<path d="M314.12 0v1" stroke="#edb92e"/>
<path d="M316.12 0v1" stroke="#efc141"/>
<path d="M318.12 0v1" stroke="#eebb2a"/>
<path d="M320.12 0v1" stroke="#efbf2f"/>
<path d="M322.12 0v1" stroke="#f0c02e"/>
<path d="M324.12 0v1" stroke="#efc23d"/>
<path d="M326.12 0v1" stroke="#f0c02f"/>
<path d="M328.12 0v1" stroke="#f2c94d"/>
<path d="M330.12 0v1" stroke="#eec449"/>
<path d="M332.12 0v1" stroke="#f2cc63"/>
<path d="M334.12 0v1" stroke="#f3d178"/>
<path d="M336.12 0v1" stroke="#f3d994"/>
<path d="M338.12 0v1" stroke="#f4d68e"/>
<path d="M340.12 0v1" stroke="#f4dc9f"/>
<path d="M342.12 0v1" stroke="#f5dfa8"/>
<path d="M344.12 0v1" stroke="#f6e8c6"/>
<path d="M346.12 0v1" stroke="#f9edcf"/>
<path d="M348.12 0v1" stroke="#f8ecd0"/>
<path d="M350.12 0v1" stroke="#f7f0df"/>
<path d="M352.12 0v1" stroke="#f8efda"/>
<path d="M354.12 0v1" stroke="#f8edd4"/>
<path d="M356.12 0v1" stroke="#f8eed4"/>
<path d="M358.12 0v1" stroke="#fbf4e3"/>
<path d="M360.12 0v1" stroke="#f6edd8"/>
<path d="M362.12 0v1" stroke="#f7f0df"/>
<path d="M364.12 0v1" stroke="#f6edd9"/>
<path d="M366.12 0v1" stroke="#f8eed8"/>
<path d="M368.12 0v1" stroke="#f9f2e4"/>
<path d="M370.12 0v1" stroke="#f9f2e0"/>
<path d="M372.12 0v1" stroke="#f8f2e5"/>
<path d="M374.12 0v1" stroke="#f8f0dd"/>
<path d="M376.12 0v1" stroke="#faf3e5"/>
<path d="M378.12 0v1" stroke="#faf3e5"/>
<path d="M380.12 0v1" stroke="#faf4e7"/>
<path d="M382.12 0v1" stroke="#f8f3e7"/>
<path d="M384.12 0v1" stroke="#f6eedd"/>
<path d="M386.12 0v1" stroke="#fbf7ef"/>
<path d="M388.12 0v1" stroke="#f5f1e8"/>
<path d="M390.12 0v1" stroke="#f6f4ef"/>
<path d="M392.12 0v1" stroke="#f4f2f1"/>
<path d="M394.12 0v1" stroke="#f8f7f5"/>
<path d="M396.12 0v1" stroke="#f7f5f4"/>
<path d="M398.12 0v1" stroke="#f8f7f6"/>
<path d="M400.12 0v1" stroke="#f4f3f1"/>
<path d="M402.12 0v1" stroke="#f5f4f2"/>
<path d="M404.12 0v1" stroke="#faf9f8"/>
<path d="M406.12 0v1" stroke="#f6f4f3"/>
<path d="M408.12 0v1" stroke="#f5f4f3"/>
<path d="M410.12 0v1" stroke="#f5f4f2"/>
<path d="M412.12 0v1" stroke="#f9f9f8"/>
<path d="M414.12 0v1" stroke="#faf9f8"/>
<path d="M416.12 0v1" stroke="#f8f7f6"/>
<path d="M418.12 0v1" stroke="#f7f5f4"/>
<path d="M420.12 0v1" stroke="#f3f2f0"/>
<path d="M422.12 0v1" stroke="#f6f5f4"/>
<path d="M424.12 0v1" stroke="#f7f6f5"/>
<path d="M426.12 0v1" stroke="#f7f6f5"/>
<path d="M428.12 0v1" stroke="#f8f8f7"/>
<path d="M430.12 0v1" stroke="#f6f5f5"/>
<path d="M432.12 0v1" stroke="#f4f3f2"/>
<path d="M434.12 0v1" stroke="#f7f6f5"/>
<path d="M436.12 0v1" stroke="#f8f7f6"/>
<path d="M438.12 0v1" stroke="#f5f4f4"/>
<path d="M440.12 0v1" stroke="#f5f4f3"/>
<path d="M442.12 0v1" stroke="#f7f6f6"/>
<path d="M444.12 0v1" stroke="#f5f5f4"/>
<path d="M446.12 0v1" stroke="#f7f7f6"/>
<path d="M448.12 0v1" stroke="#f3f2f1"/>
<path d="M450.12 0v1" stroke="#f7f7f6"/>
<path d="M452.12 0v1" stroke="#f5f4f4"/>
<path d="M454.12 0v1" stroke="#f9f8f8"/>
<path d="M456.12 0v1" stroke="#f7f6f6"/>
<path d="M458.12 0v1" stroke="#f4f4f3"/>
<path d="M460.12 0v1" stroke="#f8f8f8"/>
<path d="M462.12 0v1" stroke="#f9f9f9"/>
<path d="M464.12 0v1" stroke="#f7f7f7"/>
<path d="M466.12 0v1" stroke="#f9f9f8"/>
<path d="M468.12 0v1" stroke="#f6f6f6"/>
<path d="M470.12 0v1" stroke="#f6f6f6"/>
<path d="M472.12 0v1" stroke="#f7f7f6"/>
<path d="M474.12 0v1" stroke="#f8f8f8"/>
<path d="M476.12 0v1" stroke="#f3f3f3"/>
<path d="M478.12 0v1" stroke="#f9f9f9"/>
<path d="M480.12 0v1" stroke="#f6f6f6"/>
<path d="M482.12 0v1" stroke="#f7f7f7"/>
<path d="M484.12 0v1" stroke="#f6f6f6"/>
<path d="M486.12 0v1" stroke="#f2f2f2"/>
<path d="M488.12 0v1" stroke="#f6f6f6"/>
</g>
<g transform="translate(0 172.32) scale(1 17.12)" stroke-width="2.25">
<path d="M290.12 0v1" stroke="#eb8434"/>
<path d="M292.12 0v1" stroke="#ec9041"/>
<path d="M294.12 0v1" stroke="#ee933b"/>
<path d="M296.12 0v1" stroke="#f09b41"/>
<path d="M298.12 0v1" stroke="#f0a247"/>
<path d="M300.12 0v1" stroke="#f0a235"/>
<path d="M302.12 0v1" stroke="#f1a82c"/>
<path d="M304.12 0v1" stroke="#f4b73b"/>
<path d="M306.12 0v1" stroke="#f1b22b"/>
<path d="M308.12 0v1" stroke="#f5c04d"/>
<path d="M310.12 0v1" stroke="#efb631"/>
<path d="M312.12 0v1" stroke="#f2b931"/>
<path d="M314.12 0v1" stroke="#f1bd3e"/>
<path d="M316.12 0v1" stroke="#f3c85b"/>
<path d="M318.12 0v1" stroke="#f2bf38"/>
<path d="M320.12 0v1" stroke="#f2c33f"/>
<path d="M322.12 0v1" stroke="#f4c542"/>
<path d="M324.12 0v1" stroke="#f2c751"/>
<path d="M326.12 0v1" stroke="#f4c545"/>
<path d="M328.12 0v1" stroke="#f5cb58"/>
<path d="M330.12 0v1" stroke="#f2cb60"/>
<path d="M332.12 0v1" stroke="#f5d273"/>
<path d="M334.12 0v1" stroke="#f7dc98"/>
<path d="M336.12 0v1" stroke="#f5dda2"/>
<path d="M338.12 0v1" stroke="#f4d78e"/>
<path d="M340.12 0v1" stroke="#f6e0a9"/>
<path d="M342.12 0v1" stroke="#f6e2b0"/>
<path d="M344.12 0v1" stroke="#f8efd8"/>
<path d="M346.12 0v1" stroke="#f9eed4"/>
<path d="M348.12 0v1" stroke="#f8eed5"/>
<path d="M350.12 0v1" stroke="#f7f0e0"/>
<path d="M352.12 0v1" stroke="#f8f1e2"/>
<path d="M354.12 0v1" stroke="#f7efdb"/>
<path d="M356.12 0v1" stroke="#f9f2e4"/>
<path d="M358.12 0v1" stroke="#faf4e7"/>
<path d="M360.12 0v1" stroke="#f7f2e8"/>
<path d="M362.12 0v1" stroke="#f6f0e5"/>
<path d="M364.12 0v1" stroke="#f5efe5"/>
<path d="M366.12 0v1" stroke="#f7f2e8"/>
<path d="M368.12 0v1" stroke="#f8f4ed"/>
<path d="M370.12 0v1" stroke="#f9f6f0"/>
<path d="M372.12 0v1" stroke="#f6f4ef"/>
<path d="M374.12 0v1" stroke="#f7f4f0"/>
<path d="M376.12 0v1" stroke="#f9f7f4"/>
<path d="M378.12 0v1" stroke="#f9f7f5"/>
<path d="M380.12 0v1" stroke="#f9f8f6"/>
<path d="M382.12 0v1" stroke="#f7f6f5"/>
<path d="M384.12 0v1" stroke="#f6f4f3"/>
<path d="M386.12 0v1" stroke="#faf9f8"/>
<path d="M388.12 0v1" stroke="#f4f3f1"/>
<path d="M390.12 0v1" stroke="#f6f5f4"/>
<path d="M392.12 0v1" stroke="#f4f3f1"/>
<path d="M394.12 0v1" stroke="#f8f7f6"/>
<path d="M396.12 0v1" stroke="#f8f6f5"/>
<path d="M398.12 0v1" stroke="#f7f7f6"/>
<path d="M400.12 0v1" stroke="#f5f4f3"/>
<path d="M402.12 0v1" stroke="#f6f4f3"/>
<path d="M404.12 0v1" stroke="#fbfaf9"/>
<path d="M406.12 0v1" stroke="#f6f5f4"/>
<path d="M408.12 0v1" stroke="#f7f6f6"/>
<path d="M410.12 0v1" stroke="#f5f4f3"/>
<path d="M412.12 0v1" stroke="#f9f8f7"/>
<path d="M414.12 0v1" stroke="#f9f8f7"/>
<path d="M416.12 0v1" stroke="#f9f8f7"/>
<path d="M418.12 0v1" stroke="#f7f6f5"/>
<path d="M420.12 0v1" stroke="#f4f3f2"/>
<path d="M422.12 0v1" stroke="#f7f6f5"/>
<path d="M424.12 0v1" stroke="#f7f6f5"/>
<path d="M426.12 0v1" stroke="#f8f8f7"/>
<path d="M428.12 0v1" stroke="#f8f8f7"/>
<path d="M430.12 0v1" stroke="#f5f5f4"/>
<path d="M432.12 0v1" stroke="#f3f2f1"/>
<path d="M434.12 0v1" stroke="#f6f5f4"/>
<path d="M436.12 0v1" stroke="#f8f7f6"/>
<path d="M438.12 0v1" stroke="#f6f6f5"/>
<path d="M440.12 0v1" stroke="#f6f6f5"/>
<path d="M442.12 0v1" stroke="#f7f6f5"/>
<path d="M444.12 0v1" stroke="#f7f6f5"/>
<path d="M446.12 0v1" stroke="#f8f8f7"/>
<path d="M448.12 0v1" stroke="#f4f4f3"/>
<path d="M450.12 0v1" stroke="#f8f8f7"/>
<path d="M452.12 0v1" stroke="#f6f5f5"/>
<path d="M454.12 0v1" stroke="#f8f7f7"/>
<path d="M456.12 0v1" stroke="#f7f7f7"/>
<path d="M458.12 0v1" stroke="#f4f3f3"/>
<path d="M460.12 0v1" stroke="#f8f8f7"/>
<path d="M462.12 0v1" stroke="#fafafa"/>
<path d="M464.12 0v1" stroke="#f7f7f7"/>
<path d="M466.12 0v1" stroke="#fafafa"/>
<path d="M468.12 0v1" stroke="#f6f5f5"/>
<path d="M470.12 0v1" stroke="#f6f6f5"/>
<path d="M472.12 0v1" stroke="#f6f6f5"/>
<path d="M474.12 0v1" stroke="#f9f9f8"/>
<path d="M476.12 0v1" stroke="#f5f4f4"/>
<path d="M478.12 0v1" stroke="#f8f8f8"/>
<path d="M480.12 0v1" stroke="#f5f5f5"/>
<path d="M482.12 0v1" stroke="#f8f8f8"/>
<path d="M484.12 0v1" stroke="#f5f5f5"/>
<path d="M486.12 0v1" stroke="#f2f2f2"/>
<path d="M488.12 0v1" stroke="#f6f6f6"/>
</g>
<g transform="translate(0 189.14) scale(1 17.12)" stroke-width="2.25">
<path d="M290.12 0v1" stroke="#f3eff5"/>
<path d="M292.12 0v1" stroke="#f4f2f6"/>
<path d="M294.12 0v1" stroke="#f4f1f6"/>
<path d="M296.12 0v1" stroke="#f4f1f7"/>
<path d="M298.12 0v1" stroke="#f4f1f6"/>
<path d="M300.12 0v1" stroke="#f4f1f6"/>
<path d="M302.12 0v1" stroke="#f3f0f5"/>
<path d="M304.12 0v1" stroke="#f7f5f9"/>
<path d="M306.12 0v1" stroke="#f3f0f6"/>
<path d="M308.12 0v1" stroke="#f8f5f9"/>
<path d="M310.12 0v1" stroke="#f2eff4"/>
<path d="M312.12 0v1" stroke="#f4f1f6"/>
<path d="M314.12 0v1" stroke="#f5f2f6"/>
<path d="M316.12 0v1" stroke="#f7f5f8"/>
<path d="M318.12 0v1" stroke="#f4f0f6"/>
<path d="M320.12 0v1" stroke="#f6f3f7"/>
<path d="M322.12 0v1" stroke="#f6f3f8"/>
<path d="M324.12 0v1" stroke="#f4f1f6"/>
<path d="M326.12 0v1" stroke="#f6f2f7"/>
<path d="M328.12 0v1" stroke="#f6f3f8"/>
<path d="M330.12 0v1" stroke="#f4f1f5"/>
<path d="M332.12 0v1" stroke="#f6f4f8"/>
<path d="M334.12 0v1" stroke="#f7f5f8"/>
<path d="M336.12 0v1" stroke="#f4f2f6"/>
<path d="M338.12 0v1" stroke="#f4f1f6"/>
<path d="M340.12 0v1" stroke="#f4f1f6"/>
<path d="M342.12 0v1" stroke="#f6f3f7"/>
<path d="M344.12 0v1" stroke="#f3f0f5"/>
<path d="M346.12 0v1" stroke="#f5f2f6"/>
<path d="M348.12 0v1" stroke="#f5f3f5"/>
<path d="M350.12 0v1" stroke="#f6f6f6"/>
<path d="M352.12 0v1" stroke="#f6f5f5"/>
<path d="M354.12 0v1" stroke="#f6f6f6"/>
<path d="M356.12 0v1" stroke="#f7f7f7"/>
<path d="M358.12 0v1" stroke="#faf9f9"/>
<path d="M360.12 0v1" stroke="#f6f5f5"/>
<path d="M362.12 0v1" stroke="#f4f4f4"/>
<path d="M364.12 0v1" stroke="#f4f3f3"/>
<path d="M366.12 0v1" stroke="#f7f6f6"/>
<path d="M368.12 0v1" stroke="#f6f6f6"/>
<path d="M370.12 0v1" stroke="#f8f8f8"/>
<path d="M372.12 0v1" stroke="#f6f6f6"/>
<path d="M374.12 0v1" stroke="#f6f6f6"/>
<path d="M376.12 0v1" stroke="#f8f7f7"/>
<path d="M378.12 0v1" stroke="#f9f8f8"/>
<path d="M380.12 0v1" stroke="#f8f8f8"/>
<path d="M382.12 0v1" stroke="#f6f6f6"/>
<path d="M384.12 0v1" stroke="#f5f5f5"/>
<path d="M386.12 0v1" stroke="#faf9f9"/>
<path d="M388.12 0v1" stroke="#f4f4f4"/>
<path d="M390.12 0v1" stroke="#f5f5f5"/>
<path d="M392.12 0v1" stroke="#f4f4f4"/>
<path d="M394.12 0v1" stroke="#f8f7f7"/>
<path d="M396.12 0v1" stroke="#f7f6f6"/>
<path d="M398.12 0v1" stroke="#f6f6f6"/>
<path d="M400.12 0v1" stroke="#f4f3f3"/>
<path d="M402.12 0v1" stroke="#f5f5f5"/>
<path d="M404.12 0v1" stroke="#f9f9f9"/>
<path d="M406.12 0v1" stroke="#f6f6f6"/>
<path d="M408.12 0v1" stroke="#f6f5f5"/>
<path d="M410.12 0v1" stroke="#f5f4f4"/>
<path d="M412.12 0v1" stroke="#faf9f9"/>
<path d="M414.12 0v1" stroke="#faf9f9"/>
<path d="M416.12 0v1" stroke="#f8f8f8"/>
<path d="M418.12 0v1" stroke="#f5f5f5"/>
<path d="M420.12 0v1" stroke="#f5f4f4"/>
<path d="M422.12 0v1" stroke="#f7f6f6"/>
<path d="M424.12 0v1" stroke="#f8f8f8"/>
<path d="M426.12 0v1" stroke="#f7f7f7"/>
<path d="M428.12 0v1" stroke="#f7f7f7"/>
<path d="M430.12 0v1" stroke="#f5f5f5"/>
<path d="M432.12 0v1" stroke="#f2f2f2"/>
<path d="M434.12 0v1" stroke="#f6f5f5"/>
<path d="M436.12 0v1" stroke="#f7f6f6"/>
<path d="M438.12 0v1" stroke="#f5f5f5"/>
<path d="M440.12 0v1" stroke="#f5f5f5"/>
<path d="M442.12 0v1" stroke="#f8f8f8"/>
<path d="M444.12 0v1" stroke="#f7f7f7"/>
<path d="M446.12 0v1" stroke="#f8f8f8"/>
<path d="M448.12 0v1" stroke="#f4f4f4"/>
<path d="M450.12 0v1" stroke="#f7f7f7"/>
<path d="M452.12 0v1" stroke="#f5f5f5"/>
<path d="M454.12 0v1" stroke="#f9f9f9"/>
<path d="M456.12 0v1" stroke="#f7f7f7"/>
<path d="M458.12 0v1" stroke="#f5f5f5"/>
<path d="M460.12 0v1" stroke="#f8f8f8"/>
<path d="M462.12 0v1" stroke="#fafafa"/>
<path d="M464.12 0v1" stroke="#f7f6f6"/>
<path d="M466.12 0v1" stroke="#f9f9f9"/>
<path d="M468.12 0v1" stroke="#f7f7f7"/>
<path d="M470.12 0v1" stroke="#f5f5f5"/>
<path d="M472.12 0v1" stroke="#f5f5f5"/>
<path d="M474.12 0v1" stroke="#f8f8f8"/>
<path d="M476.12 0v1" stroke="#f4f4f4"/>
<path d="M478.12 0v1" stroke="#f9f8f8"/>
<path d="M480.12 0v1" stroke="#f6f6f6"/>
<path d="M482.12 0v1" stroke="#f7f7f7"/>
<path d="M484.12 0v1" stroke="#f6f6f6"/>
<path d="M486.12 0v1" stroke="#f3f3f3"/>
<path d="M488.12 0v1" stroke="#f5f5f5"/>
</g>
<g transform="translate(0 205.96) scale(1 17.12)" stroke-width="2.25">
<path d="M290.12 0v1" stroke="#f3f0f5"/>
<path d="M292.12 0v1" stroke="#f5f2f6"/>
<path d="M294.12 0v1" stroke="#f3f0f5"/>
<path d="M296.12 0v1" stroke="#f5f1f7"/>
<path d="M298.12 0v1" stroke="#f4f2f6"/>
<path d="M300.12 0v1" stroke="#f2eef5"/>
<path d="M302.12 0v1" stroke="#f3f0f5"/>
<path d="M304.12 0v1" stroke="#f6f4f8"/>
<path d="M306.12 0v1" stroke="#f3eff5"/>
<path d="M308.12 0v1" stroke="#f7f4f9"/>
<path d="M310.12 0v1" stroke="#f2eff4"/>
<path d="M312.12 0v1" stroke="#f4f1f6"/>
<path d="M314.12 0v1" stroke="#f4f1f6"/>
<path d="M316.12 0v1" stroke="#f7f5f8"/>
<path d="M318.12 0v1" stroke="#f3f0f5"/>
<path d="M320.12 0v1" stroke="#f4f1f6"/>
<path d="M322.12 0v1" stroke="#f8f5f9"/>
<path d="M324.12 0v1" stroke="#f3f0f5"/>
<path d="M326.12 0v1" stroke="#f6f4f8"/>
<path d="M328.12 0v1" stroke="#f6f3f7"/>
<path d="M330.12 0v1" stroke="#f4f1f5"/>
<path d="M332.12 0v1" stroke="#f6f3f7"/>
<path d="M334.12 0v1" stroke="#f8f6f9"/>
<path d="M336.12 0v1" stroke="#f5f3f7"/>
<path d="M338.12 0v1" stroke="#f4f0f6"/>
<path d="M340.12 0v1" stroke="#f4f0f6"/>
<path d="M342.12 0v1" stroke="#f4f1f6"/>
<path d="M344.12 0v1" stroke="#f4f1f6"/>
<path d="M346.12 0v1" stroke="#f6f3f7"/>
<path d="M348.12 0v1" stroke="#f6f5f6"/>
<path d="M350.12 0v1" stroke="#f5f5f5"/>
<path d="M352.12 0v1" stroke="#f5f5f5"/>
<path d="M354.12 0v1" stroke="#f5f4f4"/>
<path d="M356.12 0v1" stroke="#f7f6f6"/>
<path d="M358.12 0v1" stroke="#fafafa"/>
<path d="M360.12 0v1" stroke="#f6f5f5"/>
<path d="M362.12 0v1" stroke="#f5f4f4"/>
<path d="M364.12 0v1" stroke="#f3f3f3"/>
<path d="M366.12 0v1" stroke="#f6f5f5"/>
<path d="M368.12 0v1" stroke="#f7f6f6"/>
<path d="M370.12 0v1" stroke="#f8f8f8"/>
<path d="M372.12 0v1" stroke="#f7f7f7"/>
<path d="M374.12 0v1" stroke="#f6f5f5"/>
<path d="M376.12 0v1" stroke="#f8f7f7"/>
<path d="M378.12 0v1" stroke="#f9f8f8"/>
<path d="M380.12 0v1" stroke="#f9f9f9"/>
<path d="M382.12 0v1" stroke="#f7f6f6"/>
<path d="M384.12 0v1" stroke="#f4f4f4"/>
<path d="M386.12 0v1" stroke="#faf9f9"/>
<path d="M388.12 0v1" stroke="#f5f5f5"/>
<path d="M390.12 0v1" stroke="#f6f5f5"/>
<path d="M392.12 0v1" stroke="#f4f3f3"/>
<path d="M394.12 0v1" stroke="#f9f8f8"/>
<path d="M396.12 0v1" stroke="#f8f7f7"/>
<path d="M398.12 0v1" stroke="#f6f6f6"/>
<path d="M400.12 0v1" stroke="#f5f5f5"/>
<path d="M402.12 0v1" stroke="#f6f5f5"/>
<path d="M404.12 0v1" stroke="#faf9f9"/>
<path d="M406.12 0v1" stroke="#f7f6f6"/>
<path d="M408.12 0v1" stroke="#f6f5f5"/>
<path d="M410.12 0v1" stroke="#f5f5f5"/>
<path d="M412.12 0v1" stroke="#f9f9f9"/>
<path d="M414.12 0v1" stroke="#fafafa"/>
<path d="M416.12 0v1" stroke="#f7f7f7"/>
<path d="M418.12 0v1" stroke="#f6f6f6"/>
<path d="M420.12 0v1" stroke="#f5f4f4"/>
<path d="M422.12 0v1" stroke="#f7f7f7"/>
<path d="M424.12 0v1" stroke="#f8f8f8"/>
<path d="M426.12 0v1" stroke="#f8f8f8"/>
<path d="M428.12 0v1" stroke="#f7f7f7"/>
<path d="M430.12 0v1" stroke="#f6f6f6"/>
<path d="M432.12 0v1" stroke="#f2f2f2"/>
<path d="M434.12 0v1" stroke="#f5f5f5"/>
<path d="M436.12 0v1" stroke="#f7f6f6"/>
<path d="M438.12 0v1" stroke="#f6f6f6"/>
<path d="M440.12 0v1" stroke="#f6f6f6"/>
<path d="M442.12 0v1" stroke="#f7f7f7"/>
<path d="M444.12 0v1" stroke="#f7f6f6"/>
<path d="M446.12 0v1" stroke="#f8f8f8"/>
<path d="M448.12 0v1" stroke="#f3f3f3"/>
<path d="M450.12 0v1" stroke="#f8f8f8"/>
<path d="M452.12 0v1" stroke="#f6f5f5"/>
<path d="M454.12 0v1" stroke="#f8f8f8"/>
<path d="M456.12 0v1" stroke="#f6f6f6"/>
<path d="M458.12 0v1" stroke="#f4f4f4"/>
<path d="M460.12 0v1" stroke="#f9f8f8"/>
<path d="M462.12 0v1" stroke="#f9f9f9"/>
<path d="M464.12 0v1" stroke="#f8f7f7"/>
<path d="M466.12 0v1" stroke="#f9f9f9"/>
<path d="M468.12 0v1" stroke="#f6f6f6"/>
<path d="M470.12 0v1" stroke="#f5f5f5"/>
<path d="M472.12 0v1" stroke="#f6f6f6"/>
<path d="M474.12 0v1" stroke="#f8f8f8"/>
<path d="M476.12 0v1" stroke="#f4f4f4"/>
<path d="M478.12 0v1" stroke="#f8f8f8"/>
<path d="M480.12 0v1" stroke="#f6f6f6"/>
<path d="M482.12 0v1" stroke="#f7f7f7"/>
<path d="M484.12 0v1" stroke="#f5f5f5"/>
<path d="M486.12 0v1" stroke="#f2f2f2"/>
<path d="M488.12 0v1" stroke="#f6f6f6"/>
</g>
<g transform="translate(0 222.78) scale(1 17.12)" stroke-width="2.25">
<path d="M290.12 0v1" stroke="#ebf2f5"/>
<path d="M292.12 0v1" stroke="#edf2f5"/>
<path d="M294.12 0v1" stroke="#edf2f6"/>
<path d="M296.12 0v1" stroke="#eff3f7"/>
<path d="M298.12 0v1" stroke="#f1f4f6"/>
<path d="M300.12 0v1" stroke="#edf1f5"/>
<path d="M302.12 0v1" stroke="#f0f3f6"/>
<path d="M304.12 0v1" stroke="#f6f6f9"/>
<path d="M306.12 0v1" stroke="#f2f1f5"/>
<path d="M308.12 0v1" stroke="#f9f8fa"/>
<path d="M310.12 0v1" stroke="#f3f0f4"/>
<path d="M312.12 0v1" stroke="#f5f2f6"/>
<path d="M314.12 0v1" stroke="#f4f2f5"/>
<path d="M316.12 0v1" stroke="#f6f4f7"/>
<path d="M318.12 0v1" stroke="#f4f1f5"/>
<path d="M320.12 0v1" stroke="#f7f5f8"/>
<path d="M322.12 0v1" stroke="#f9f7f9"/>
<path d="M324.12 0v1" stroke="#f5f3f6"/>
<path d="M326.12 0v1" stroke="#f7f5f8"/>
<path d="M328.12 0v1" stroke="#f7f5f8"/>
<path d="M330.12 0v1" stroke="#f4f2f4"/>
<path d="M332.12 0v1" stroke="#f7f6f8"/>
<path d="M334.12 0v1" stroke="#f8f7f9"/>
<path d="M336.12 0v1" stroke="#f6f4f6"/>
<path d="M338.12 0v1" stroke="#f5f3f6"/>
<path d="M340.12 0v1" stroke="#f6f4f7"/>
<path d="M342.12 0v1" stroke="#f6f4f7"/>
<path d="M344.12 0v1" stroke="#f5f3f6"/>
<path d="M346.12 0v1" stroke="#f5f3f6"/>
<path d="M348.12 0v1" stroke="#f6f4f7"/>
<path d="M350.12 0v1" stroke="#f5f3f5"/>
<path d="M352.12 0v1" stroke="#f5f3f5"/>
<path d="M354.12 0v1" stroke="#f5f3f6"/>
<path d="M356.12 0v1" stroke="#f6f4f6"/>
<path d="M358.12 0v1" stroke="#f9f8f9"/>
<path d="M360.12 0v1" stroke="#f4f3f5"/>
<path d="M362.12 0v1" stroke="#f4f2f4"/>
<path d="M364.12 0v1" stroke="#f3f2f4"/>
<path d="M366.12 0v1" stroke="#f5f4f6"/>
<path d="M368.12 0v1" stroke="#f6f5f6"/>
<path d="M370.12 0v1" stroke="#f8f6f8"/>
<path d="M372.12 0v1" stroke="#f7f6f7"/>
<path d="M374.12 0v1" stroke="#f5f4f6"/>
<path d="M376.12 0v1" stroke="#f8f7f8"/>
<path d="M378.12 0v1" stroke="#f8f7f9"/>
<path d="M380.12 0v1" stroke="#f8f7f9"/>
<path d="M382.12 0v1" stroke="#f7f6f7"/>
<path d="M384.12 0v1" stroke="#f4f3f5"/>
<path d="M386.12 0v1" stroke="#f9f8f9"/>
<path d="M388.12 0v1" stroke="#f4f3f5"/>
<path d="M390.12 0v1" stroke="#f5f3f5"/>
<path d="M392.12 0v1" stroke="#f4f2f4"/>
<path d="M394.12 0v1" stroke="#f8f7f8"/>
<path d="M396.12 0v1" stroke="#f7f6f8"/>
<path d="M398.12 0v1" stroke="#f8f7f8"/>
<path d="M400.12 0v1" stroke="#f5f4f5"/>
<path d="M402.12 0v1" stroke="#f5f3f5"/>
<path d="M404.12 0v1" stroke="#faf9fa"/>
<path d="M406.12 0v1" stroke="#f6f5f7"/>
<path d="M408.12 0v1" stroke="#f6f5f6"/>
<path d="M410.12 0v1" stroke="#f4f3f4"/>
<path d="M412.12 0v1" stroke="#f9f9fa"/>
<path d="M414.12 0v1" stroke="#faf9fa"/>
<path d="M416.12 0v1" stroke="#f7f6f7"/>
<path d="M418.12 0v1" stroke="#f5f4f6"/>
<path d="M420.12 0v1" stroke="#f3f2f4"/>
<path d="M422.12 0v1" stroke="#f6f5f6"/>
<path d="M424.12 0v1" stroke="#f7f7f8"/>
<path d="M426.12 0v1" stroke="#f8f8f8"/>
<path d="M428.12 0v1" stroke="#f7f7f8"/>
<path d="M430.12 0v1" stroke="#f6f6f6"/>
<path d="M432.12 0v1" stroke="#f3f2f3"/>
<path d="M434.12 0v1" stroke="#f6f5f6"/>
<path d="M436.12 0v1" stroke="#f7f6f7"/>
<path d="M438.12 0v1" stroke="#f5f5f6"/>
<path d="M440.12 0v1" stroke="#f6f5f6"/>
<path d="M442.12 0v1" stroke="#f8f7f8"/>
<path d="M444.12 0v1" stroke="#f7f6f7"/>
<path d="M446.12 0v1" stroke="#f8f8f9"/>
<path d="M448.12 0v1" stroke="#f4f3f4"/>
<path d="M450.12 0v1" stroke="#f7f7f8"/>
<path d="M452.12 0v1" stroke="#f5f5f5"/>
<path d="M454.12 0v1" stroke="#f8f8f8"/>
<path d="M456.12 0v1" stroke="#f7f7f7"/>
<path d="M458.12 0v1" stroke="#f5f4f5"/>
<path d="M460.12 0v1" stroke="#f8f8f8"/>
<path d="M462.12 0v1" stroke="#faf9fa"/>
<path d="M464.12 0v1" stroke="#f7f6f7"/>
<path d="M466.12 0v1" stroke="#faf9fa"/>
<path d="M468.12 0v1" stroke="#f6f6f6"/>
<path d="M470.12 0v1" stroke="#f7f6f7"/>
<path d="M472.12 0v1" stroke="#f7f7f7"/>
<path d="M474.12 0v1" stroke="#fafafa"/>
<path d="M476.12 0v1" stroke="#f5f5f5"/>
<path d="M478.12 0v1" stroke="#f9f9f9"/>
<path d="M480.12 0v1" stroke="#f6f6f6"/>
<path d="M482.12 0v1" stroke="#f7f7f7"/>
<path d="M484.12 0v1" stroke="#f6f6f6"/>
<path d="M486.12 0v1" stroke="#f4f4f4"/>
<path d="M488.12 0v1" stroke="#f7f7f7"/>
</g>
</g>
<line x1="288.6" y1="155.5" x2="288.6" y2="239.6" stroke="#9a9a9a" stroke-width="1.1"/>
<g clip-path="url(#hc1)">
<path d="M281.6 198.8 282.3 198.6 282.9 198.9 283.6 198.9 284.3 198.8 284.9 198.9 285.6 198.9 286.3 198.5 M308.4 188.6 L309.1 187.4 309.7 186.4 310.4 185.1 311.1 184.3 311.7 183.2 312.4 181.9 313.1 180.8 313.7 182.1 314.4 182.6 315.1 183.5 315.8 183.9 316.4 185.1 317.1 186.2 317.8 186.9 318.4 187.7 319.1 188.8 319.8 189.6 320.4 190.3 321.1 190.6 321.8 190.2 322.5 189.3 323.1 188.7 323.8 188.6 324.5 188.7 325.1 188.4 325.8 187.4 326.5 187.7 327.1 187.5 327.8 186.5 328.5 187.2 329.1 187.9 329.8 188.8 330.5 189.2 331.2 189.8 331.8 190.3 332.5 190.7 333.2 191.9 333.8 192.3 334.5 192.9 335.2 193.5 335.8 194.1 336.5 195.0 337.2 195.5 337.9 195.3 338.5 195.4 339.2 195.0 339.9 194.6 340.5 193.8 341.2 193.6 341.9 193.6 342.5 192.8 343.2 192.5 343.9 192.2 344.6 191.9 345.2 191.2 345.9 191.7 346.6 191.7 347.2 192.1 347.9 192.2 348.6 192.3 349.2 192.4 349.9 192.6 350.6 192.8 351.2 192.9 351.9 193.0 352.6 193.3 353.3 193.7 353.9 193.3 354.6 193.7 355.3 193.7 355.9 194.3 356.6 194.3 357.3 194.4 357.9 194.4 358.6 194.7 359.3 195.0 360.0 194.7 360.6 194.9 361.3 195.4 362.0 195.4 362.6 195.7 363.3 195.8 364.0 195.8 364.6 195.9 365.3 196.5 366.0 196.5 366.7 196.6 367.3 196.9 368.0 197.1 368.7 197.3 369.3 197.1 370.0 197.0 370.7 197.8 371.3 197.2 372.0 197.3 372.7 196.9 373.3 196.7 374.0 197.0 374.7 196.3 375.4 196.4 376.0 196.1 376.7 196.0 377.4 195.7 378.0 195.3 378.7 195.0 379.4 194.7 380.0 194.6 380.7 194.3 381.4 194.5 382.1 193.5 382.7 193.6 383.4 193.5 384.1 193.1 384.7 193.7 385.4 193.9 386.1 193.7 386.7 193.9 387.4 194.6 388.1 194.7 388.8 194.7 389.4 194.9 390.1 195.3 390.8 195.9 391.4 195.7 392.1 196.2 392.8 196.6 393.4 196.4 394.1 197.2 394.8 197.6 395.5 197.2 396.1 197.3 396.8 198.0 397.5 198.3 398.1 198.4 398.8 198.6 399.5 199.0 400.1 198.6 400.8 198.9 401.5 198.7 402.1 199.1 402.8 198.5 403.5 198.6 404.2 198.7 404.8 198.2 405.5 198.4 406.2 198.6 406.8 198.9 407.5 198.7 408.2 198.7 408.8 198.7 409.5 198.5 410.2 198.3 410.9 198.0 411.5 197.8 412.2 198.4 412.9 197.7 413.5 197.7 414.2 198.1 414.9 197.8 415.5 197.9 416.2 197.6 416.9 197.8 417.6 197.5 418.2 197.8 418.9 197.5 419.6 197.8 420.2 197.4 420.9 197.2 421.6 197.4 422.2 197.8 422.9 197.6 423.6 197.6 424.2 197.6 424.9 197.8 425.6 197.5 426.3 197.7 426.9 198.1 427.6 197.2 428.3 197.6 428.9 197.5 429.6 197.8 430.3 197.8 430.9 197.8 431.6 197.8 432.3 197.5 433.0 197.8 433.6 198.2 434.3 198.0 435.0 198.2 435.6 197.8 436.3 198.1 437.0 197.6 437.6 197.9 438.3 198.0 439.0 197.6 439.7 198.2 440.3 197.8 441.0 198.5 441.7 198.1 442.3 197.8 443.0 197.8 443.7 197.8 444.3 197.6 445.0 198.0 445.7 197.6 446.3 197.3 447.0 197.5 447.7 197.7 448.4 197.4 449.0 197.2 449.7 197.5 450.4 197.5 451.0 197.3 451.7 197.4 452.4 197.6 453.0 197.5 453.7 197.6 454.4 197.2 455.1 197.5 455.7 197.3 456.4 196.8 457.1 197.2 457.7 197.6 458.4 197.2 459.1 196.7 459.7 196.6 460.4 196.9 461.1 197.5 461.8 197.1 462.4 197.5 463.1 197.0 463.8 196.9 464.4 196.8 465.1 196.6 465.8 197.1 466.4 196.9 467.1 197.3 467.8 197.3 468.4 196.9 469.1 196.9 469.8 196.9 470.5 197.2 471.1 197.2 471.8 196.8 472.5 197.3 473.1 196.8 473.8 197.1 474.5 197.2 475.1 197.4 475.8 197.1 476.5 197.4 477.2 197.1 477.8 197.2 478.5 196.7 479.2 197.0 479.8 197.5 480.5 197.3 481.2 197.5 481.8 197.4 482.5 197.4 483.2 196.9 483.9 197.5 484.5 197.4 485.2 197.0 485.9 197.4 486.5 197.8 487.2 197.5" fill="none" stroke="#9c9c9c" stroke-width="2.3" stroke-linejoin="round"/>
<path d="M281.6 199.0 281.9 199.7 282.1 200.3 282.4 200.0 282.6 200.7 282.9 199.3 283.1 197.7 283.4 197.6 283.6 198.0 283.9 199.6 284.1 199.7 284.4 199.3 284.6 198.0 284.9 197.8 285.1 198.5 285.4 199.6 285.6 200.9 285.9 200.3 286.1 199.6 286.4 199.4 286.6 199.9 286.9 199.2 287.1 198.4 287.4 198.6 M307.9 189.3 L308.1 188.9 308.4 189.3 308.6 188.8 308.9 187.5 309.1 187.5 309.4 188.7 309.6 187.7 309.9 186.1 310.1 184.9 310.4 185.0 310.6 186.2 310.9 185.8 311.2 184.8 311.4 182.7 311.7 183.0 311.9 183.8 312.2 182.2 312.4 180.2 312.7 180.7 312.9 181.2 313.2 183.0 313.4 183.0 313.7 181.1 313.9 181.8 314.2 181.3 314.4 181.0 314.7 183.6 314.9 184.5 315.2 183.2 315.4 182.7 315.7 183.8 315.9 185.5 316.2 185.6 316.4 185.1 316.7 185.5 316.9 186.3 317.2 185.9 317.4 186.4 317.7 185.7 317.9 184.6 318.2 186.2 318.4 187.3 318.7 187.0 318.9 187.6 319.2 189.5 319.4 189.9 319.7 189.6 319.9 190.2 320.2 190.6 320.4 189.5 320.7 189.4 320.9 191.2 321.2 190.4 321.4 189.4 321.7 189.8 321.9 189.0 322.2 188.4 322.4 189.0 322.7 189.8 322.9 189.8 323.2 188.4 323.4 187.9 323.7 189.0 323.9 189.7 324.2 189.8 324.4 189.6 324.7 189.8 324.9 189.6 325.2 188.1 325.4 187.5 325.7 187.4 325.9 185.5 326.2 184.7 326.4 187.7 326.7 188.0 326.9 184.8 327.2 185.0 327.4 187.6 327.7 187.8 327.9 187.1 328.2 187.2 328.4 187.0 328.7 188.4 328.9 189.2 329.2 188.5 329.4 188.8 329.7 189.9 329.9 189.3 330.2 189.0 330.4 189.6 330.7 189.1 330.9 190.0 331.2 190.6 331.4 189.6 331.7 188.8 331.9 188.5 332.2 191.0 332.4 191.4 332.7 190.8 332.9 191.6 333.2 191.9 333.4 192.8 333.7 192.2 333.9 191.8 334.2 192.6 334.4 193.1 334.7 193.3 334.9 193.2 335.2 193.9 335.4 195.3 335.7 195.5 335.9 194.3 336.2 194.4 336.4 195.2 336.7 195.5 336.9 197.0 337.2 196.8 337.4 195.6 337.7 195.0 337.9 194.7 338.2 194.7 338.4 195.9 338.7 196.4 338.9 194.7 339.2 195.7 339.4 195.0 339.7 194.1 339.9 195.7 340.2 195.3 340.5 194.3 340.7 193.6 341.0 193.4 341.2 193.9 341.5 192.4 341.7 191.3 342.0 192.9 342.2 192.7 342.5 191.2 342.7 191.3 343.0 191.9 343.2 192.5 343.5 193.8 343.7 193.2 344.0 190.7 344.2 190.4 344.5 190.9 344.7 191.4 345.0 193.1 345.2 192.9 345.5 193.2 345.7 194.1 346.0 193.2 346.2 191.6 346.5 191.3 346.7 191.0 347.0 191.7 347.2 192.9 347.5 193.2 347.7 193.4 348.0 191.1 348.2 191.5 348.5 193.5 348.7 194.3 349.0 193.0 349.2 191.3 349.5 192.1 349.7 192.0 350.0 191.1 350.2 191.1 350.5 194.0 350.7 194.3 351.0 191.8 351.2 192.0 351.5 192.8 351.7 194.1 352.0 194.8 352.2 194.5 352.5 193.9 352.7 193.5 353.0 193.1 353.2 192.0 353.5 194.0 353.7 194.8 354.0 194.1 354.2 194.2 354.5 193.5 354.7 193.7 355.0 192.8 355.2 193.0 355.5 194.3 355.7 195.0 356.0 195.1 356.2 195.3 356.5 195.2 356.7 194.5 357.0 193.0 357.2 192.7 357.5 195.2 357.7 195.8 358.0 195.3 358.2 195.1 358.5 194.1 358.7 195.8 359.0 196.6 359.2 196.2 359.5 196.4 359.7 195.2 360.0 193.3 360.2 193.7 360.5 194.2 360.7 192.6 361.0 194.7 361.2 196.8 361.5 196.4 361.7 196.0 362.0 195.6 362.2 195.9 362.5 196.1 362.7 195.9 363.0 196.4 363.2 194.7 363.5 194.9 363.7 196.2 364.0 196.2 364.2 197.6 364.5 196.4 364.7 196.2 365.0 197.4 365.2 196.4 365.5 195.5 365.7 196.2 366.0 195.0 366.2 194.7 366.5 196.4 366.7 196.5 367.0 195.3 367.2 195.4 367.5 197.6 367.7 198.9 368.0 197.8 368.2 196.4 368.5 196.5 368.7 197.1 369.0 196.7 369.2 196.5 369.5 197.5 369.8 198.5 370.0 196.4 370.3 196.5 370.5 198.3 370.8 198.5 371.0 198.3 371.3 197.7 371.5 198.8 371.8 196.3 372.0 196.2 372.3 198.3 372.5 195.8 372.8 193.7 373.0 195.2 373.3 196.2 373.5 196.7 373.8 197.4 374.0 196.6 374.3 197.0 374.5 197.2 374.8 196.9 375.0 197.3 375.3 196.9 375.5 196.8 375.8 197.0 376.0 195.4 376.3 194.6 376.5 195.4 376.8 195.2 377.0 194.1 377.3 193.9 377.5 195.2 377.8 195.6 378.0 196.4 378.3 195.7 378.5 194.3 378.8 194.2 379.0 194.2 379.3 194.1 379.5 192.9 379.8 193.5 380.0 195.4 380.3 195.9 380.5 194.4 380.8 193.3 381.0 195.3 381.3 195.3 381.5 194.2 381.8 194.0 382.0 194.4 382.3 195.1 382.5 196.0 382.8 195.6 383.0 194.2 383.3 192.9 383.5 192.2 383.8 192.5 384.0 192.5 384.3 192.2 384.5 193.4 384.8 193.6 385.0 193.1 385.3 193.0 385.5 193.1 385.8 195.3 386.0 194.6 386.3 193.7 386.5 194.4 386.8 194.4 387.0 194.8 387.3 194.3 387.5 193.9 387.8 194.1 388.0 193.7 388.3 193.3 388.5 194.7 388.8 195.1 389.0 195.0 389.3 196.0 389.5 194.9 389.8 195.4 390.0 195.5 390.3 195.3 390.5 197.1 390.8 196.2 391.0 194.6 391.3 194.5 391.5 196.9 391.8 197.4 392.0 195.0 392.3 195.9 392.5 196.8 392.8 196.3 393.0 195.8 393.3 194.3 393.5 194.6 393.8 195.5 394.0 195.0 394.3 195.0 394.5 195.6 394.8 197.0 395.0 198.3 395.3 198.2 395.5 197.4 395.8 196.2 396.0 196.9 396.3 198.2 396.5 198.8 396.8 198.5 397.0 197.8 397.3 198.1 397.5 197.7 397.8 197.0 398.0 198.2 398.3 197.9 398.5 197.5 398.8 199.1 399.0 199.4 399.3 199.2 399.6 198.3 399.8 198.0 400.1 198.7 400.3 199.2 400.6 199.7 400.8 199.3 401.1 200.3 401.3 200.6 401.6 199.1 401.8 198.2 402.1 198.4 402.3 198.4 402.6 199.6 402.8 200.4 403.1 199.0 403.3 198.1 403.6 197.5 403.8 197.8 404.1 199.5 404.3 200.2 404.6 199.2 404.8 198.7 405.1 197.4 405.3 197.9 405.6 199.0 405.8 199.4 406.1 199.4 406.3 198.1 406.6 198.4 406.8 198.2 407.1 199.0 407.3 199.7 407.6 198.9 407.8 199.0 408.1 198.4 408.3 198.5 408.6 198.9 408.8 199.8 409.1 199.7 409.3 198.7 409.6 198.3 409.8 197.8 410.1 197.8 410.3 199.0 410.6 199.3 410.8 199.0 411.1 198.8 411.3 197.8 411.6 196.6 411.8 197.5 412.1 200.3 412.3 199.5 412.6 199.0 412.8 199.8 413.1 198.3 413.3 198.2 413.6 198.0 413.8 197.3 414.1 198.7 414.3 199.0 414.6 197.3 414.8 198.2 415.1 198.2 415.3 197.1 415.6 197.6 415.8 197.6 416.1 197.2 416.3 196.2 416.6 198.1 416.8 198.5 417.1 196.6 417.3 195.5 417.6 196.2 417.8 198.8 418.1 199.7 418.3 200.7 418.6 200.8 418.8 199.1 419.1 198.0 419.3 198.7 419.6 198.7 419.8 197.8 420.1 197.1 420.3 197.1 420.6 199.1 420.8 199.0 421.1 197.9 421.3 196.3 421.6 196.9 421.8 198.9 422.1 199.0 422.3 198.9 422.6 197.3 422.8 196.1 423.1 197.1 423.3 198.0 423.6 197.0 423.8 197.0 424.1 197.2 424.3 197.8 424.6 197.9 424.8 196.5 425.1 196.8 425.3 197.2 425.6 198.3 425.8 198.4 426.1 196.4 426.3 196.7 426.6 197.4 426.8 197.7 427.1 198.0 427.3 197.1 427.6 196.9 427.8 197.5 428.1 196.7 428.3 196.4 428.6 197.4 428.9 196.7 429.1 195.8 429.4 196.6 429.6 197.3 429.9 198.0 430.1 197.1 430.4 196.9 430.6 198.3 430.9 199.2 431.1 198.5 431.4 196.7 431.6 195.9 431.9 197.0 432.1 199.0 432.4 198.1 432.6 197.5 432.9 198.6 433.1 199.0 433.4 198.1 433.6 197.9 433.9 198.2 434.1 197.1 434.4 197.3 434.6 198.3 434.9 197.4 435.1 197.5 435.4 199.6 435.6 198.3 435.9 197.4 436.1 199.1 436.4 198.6 436.6 198.2 436.9 198.0 437.1 198.7 437.4 198.2 437.6 197.2 437.9 196.5 438.1 196.8 438.4 198.4 438.6 197.0 438.9 196.2 439.1 197.7 439.4 197.9 439.6 196.8 439.9 195.3 440.1 196.4 440.4 199.5 440.6 199.0 440.9 197.9 441.1 198.5 441.4 198.1 441.6 197.9 441.9 198.0 442.1 197.3 442.4 199.0 442.6 201.5 442.9 199.9 443.1 199.3 443.4 198.4 443.6 197.0 443.9 198.4 444.1 197.7 444.4 196.0 444.6 197.0 444.9 196.5 445.1 197.5 445.4 199.4 445.6 198.4 445.9 198.3 446.1 197.5 446.4 196.3 446.6 197.6 446.9 198.9 447.1 198.4 447.4 197.7 447.6 197.2 447.9 198.2 448.1 197.5 448.4 195.9 448.6 196.6 448.9 196.1 449.1 195.5 449.4 195.9 449.6 197.5 449.9 199.5 450.1 199.0 450.4 196.6 450.6 195.9 450.9 196.9 451.1 197.2 451.4 197.0 451.6 197.5 451.9 196.4 452.1 195.6 452.4 197.1 452.6 198.0 452.9 198.1 453.1 197.6 453.4 197.3 453.6 196.8 453.9 196.9 454.1 197.2 454.4 196.7 454.6 197.7 454.9 199.0 455.1 197.9 455.4 197.4 455.6 198.5 455.9 198.3 456.1 197.5 456.4 197.7 456.6 196.4 456.9 195.0 457.1 196.6 457.4 197.8 457.6 198.3 457.9 197.8 458.2 197.6 458.4 198.7 458.7 199.3 458.9 197.9 459.2 196.3 459.4 197.0 459.7 197.5 459.9 196.6 460.2 196.0 460.4 195.8 460.7 197.8 460.9 198.7 461.2 197.0 461.4 196.7 461.7 196.7 461.9 197.7 462.2 197.4 462.4 196.9 462.7 198.6 462.9 199.3 463.2 198.0 463.4 197.0 463.7 196.8 463.9 196.6 464.2 196.8 464.4 196.9 464.7 196.2 464.9 196.4 465.2 196.1 465.4 196.5 465.7 199.1 465.9 198.5 466.2 195.5 466.4 196.6 466.7 197.7 466.9 198.5 467.2 198.8 467.4 198.1 467.7 197.2 467.9 195.5 468.2 195.9 468.4 197.5 468.7 197.0 468.9 195.4 469.2 195.6 469.4 196.4 469.7 196.6 469.9 196.9 470.2 198.8 470.4 198.8 470.7 196.8 470.9 196.0 471.2 196.9 471.4 196.6 471.7 197.0 471.9 198.1 472.2 196.1 472.4 196.2 472.7 197.2 472.9 197.9 473.2 197.0 473.4 196.2 473.7 197.3 473.9 197.8 474.2 197.0 474.4 195.8 474.7 198.0 474.9 199.0 475.2 196.5 475.4 196.4 475.7 196.9 475.9 196.1 476.2 195.8 476.4 197.0 476.7 197.5 476.9 197.0 477.2 197.4 477.4 196.2 477.7 195.6 477.9 197.2 478.2 196.7 478.4 196.3 478.7 197.3 478.9 197.6 479.2 198.2 479.4 198.3 479.7 197.9 479.9 197.5 480.2 197.0 480.4 196.4 480.7 197.5 480.9 197.5 481.2 197.6 481.4 198.7 481.7 197.4 481.9 197.1 482.2 197.1 482.4 197.0 482.7 197.0 482.9 197.0 483.2 197.7 483.4 196.7 483.7 198.1 483.9 199.5 484.2 196.9 484.4 196.5 484.7 197.3 484.9 198.5 485.2 198.8 485.4 197.6 485.7 197.6 485.9 197.7 486.2 197.5 486.4 196.4 486.7 196.4 486.9 196.8 487.2 197.6" fill="none" stroke="#858585" stroke-width="0.75" stroke-linejoin="round"/>
<path d="M287.4 198.6 L287.6 198.9 287.9 198.9 288.1 198.2 288.4 196.5 288.6 194.9 288.9 193.5 289.1 192.1 289.4 190.8 289.6 189.1 289.9 187.3 290.1 185.7 290.4 184.1 290.6 182.4 290.9 180.7 291.1 179.0 291.4 177.5 291.6 175.8 291.9 173.9 292.1 172.2 292.4 170.6 292.6 168.8 292.9 167.2 293.1 165.4 293.4 163.4 293.6 161.7 293.9 160.3 294.1 158.6 294.4 156.9 294.6 156.5 294.9 157.0 295.1 157.7 295.4 158.5 295.6 159.2 295.9 159.7 296.1 160.4 296.4 161.1 296.6 161.7 296.9 162.1 297.1 162.8 297.4 163.3 297.6 163.7 297.9 164.4 298.1 165.2 298.4 166.0 298.6 166.4 298.9 166.8 299.1 167.6 299.4 168.4 299.6 169.1 299.9 169.8 300.1 170.6 300.4 171.2 300.6 171.7 300.9 172.2 301.1 172.7 301.4 173.5 301.6 174.3 301.9 175.0 302.1 175.6 302.4 176.3 302.6 176.9 302.9 177.3 303.1 177.8 303.4 178.7 303.6 179.4 303.9 179.9 304.1 180.6 304.4 181.3 304.6 181.8 304.9 182.5 305.1 183.3 305.4 183.7 305.6 184.4 305.9 185.2 306.1 185.6 306.4 186.3 306.6 186.7 306.9 187.3 307.1 188.2 307.4 188.9 307.6 189.4 307.9 189.3" fill="none" stroke="#999" stroke-width="0.7" stroke-linejoin="round"/>
</g>
<rect x="281.6" y="155.5" width="205.9" height="84.1" fill="none" stroke="#555" stroke-width="0.7"/>
<path d="M281.6 163.9 h2.2 M487.5 163.9 h-2.2" stroke="#555" stroke-width="0.6"/>
<text x="278.2" y="166.7" font-size="7.9" text-anchor="end" font-weight="normal" fill="#1a1a1a" stroke="#1a1a1a" stroke-width="0.2" >50</text>
<path d="M281.6 180.7 h2.2 M487.5 180.7 h-2.2" stroke="#555" stroke-width="0.6"/>
<text x="278.2" y="183.5" font-size="7.9" text-anchor="end" font-weight="normal" fill="#1a1a1a" stroke="#1a1a1a" stroke-width="0.2" >40</text>
<path d="M281.6 197.6 h2.2 M487.5 197.6 h-2.2" stroke="#555" stroke-width="0.6"/>
<text x="278.2" y="200.4" font-size="7.9" text-anchor="end" font-weight="normal" fill="#1a1a1a" stroke="#1a1a1a" stroke-width="0.2" >30</text>
<path d="M281.6 214.4 h2.2 M487.5 214.4 h-2.2" stroke="#555" stroke-width="0.6"/>
<text x="278.2" y="217.2" font-size="7.9" text-anchor="end" font-weight="normal" fill="#1a1a1a" stroke="#1a1a1a" stroke-width="0.2" >20</text>
<path d="M281.6 231.2 h2.2 M487.5 231.2 h-2.2" stroke="#555" stroke-width="0.6"/>
<text x="278.2" y="234.0" font-size="7.9" text-anchor="end" font-weight="normal" fill="#1a1a1a" stroke="#1a1a1a" stroke-width="0.2" >0</text>
<path d="M288.5 239.6 v-2.2 M288.5 155.5 v2.2" stroke="#555" stroke-width="0.6"/>
<text x="288.5" y="249.2" font-size="7.9" text-anchor="middle" font-weight="normal" fill="#1a1a1a" stroke="#1a1a1a" stroke-width="0.2" >0</text>
<path d="M339.6 239.6 v-2.2 M339.6 155.5 v2.2" stroke="#555" stroke-width="0.6"/>
<text x="339.6" y="249.2" font-size="7.9" text-anchor="middle" font-weight="normal" fill="#1a1a1a" stroke="#1a1a1a" stroke-width="0.2" >100</text>
<path d="M390.8 239.6 v-2.2 M390.8 155.5 v2.2" stroke="#555" stroke-width="0.6"/>
<text x="390.8" y="249.2" font-size="7.9" text-anchor="middle" font-weight="normal" fill="#1a1a1a" stroke="#1a1a1a" stroke-width="0.2" >200</text>
<path d="M441.9 239.6 v-2.2 M441.9 155.5 v2.2" stroke="#555" stroke-width="0.6"/>
<text x="441.9" y="249.2" font-size="7.9" text-anchor="middle" font-weight="normal" fill="#1a1a1a" stroke="#1a1a1a" stroke-width="0.2" >300</text>
<path d="M286.4 240.2 L288.5 237.0 L290.6 240.2 Z" fill="#111"/>
<text x="383.3" y="259.4" font-size="7.9" text-anchor="middle" font-weight="normal" fill="#1a1a1a" stroke="#1a1a1a" stroke-width="0.2" >Time (ms)</text>
<text x="0" y="0" font-size="7.9" text-anchor="middle" fill="#222" stroke="#222" stroke-width="0.2" transform="translate(263.2 197.6) rotate(-90)">Stimulus (µA)</text>
<text x="384.5" y="150.5" font-size="7.9" text-anchor="middle" font-weight="bold" fill="#111" stroke="#111" stroke-width="0" >0.5 ms</text>
<line x1="460.6" y1="162.5" x2="460.6" y2="182.4" stroke="#333" stroke-width="0.7"/>
<text x="465.6" y="171.9" font-size="7.9" text-anchor="start" font-weight="normal" fill="#111" stroke="#111" stroke-width="0.2" >1 mV</text>
<text x="455.5" y="214.6" font-size="7.9" text-anchor="start" font-weight="normal" fill="#999" stroke="#999" stroke-width="0.2" >50 µA</text>
<rect x="499.3" y="155.5" width="16.4" height="84.9" fill="url(#cb)" stroke="#444" stroke-width="0.6"/>
<path d="M515.7 160.2 h-1.8 M499.3 160.2 h1.8" stroke="#444" stroke-width="0.5"/>
<text x="517.2" y="163.0" font-size="7.9" text-anchor="start" font-weight="normal" fill="#1a1a1a" stroke="#1a1a1a" stroke-width="0.2" >2</text>
<path d="M515.7 180.5 h-1.8 M499.3 180.5 h1.8" stroke="#444" stroke-width="0.5"/>
<text x="517.2" y="183.3" font-size="7.9" text-anchor="start" font-weight="normal" fill="#1a1a1a" stroke="#1a1a1a" stroke-width="0.2" >1</text>
<path d="M515.7 200.4 h-1.8 M499.3 200.4 h1.8" stroke="#444" stroke-width="0.5"/>
<text x="517.2" y="203.2" font-size="7.9" text-anchor="start" font-weight="normal" fill="#1a1a1a" stroke="#1a1a1a" stroke-width="0.2" >0</text>
<path d="M515.7 220.2 h-1.8 M499.3 220.2 h1.8" stroke="#444" stroke-width="0.5"/>
<text x="517.2" y="223.0" font-size="7.9" text-anchor="start" font-weight="normal" fill="#1a1a1a" stroke="#1a1a1a" stroke-width="0.2" >−1</text>
<path d="M515.7 240.3 h-1.8 M499.3 240.3 h1.8" stroke="#444" stroke-width="0.5"/>
<text x="517.2" y="243.1" font-size="7.9" text-anchor="start" font-weight="normal" fill="#1a1a1a" stroke="#1a1a1a" stroke-width="0.2" >−2</text>
<text x="489.3" y="249.9" font-size="7.9" fill="#222" stroke="#222" stroke-width="0.2">Mean ΔV<tspan font-size="6.0" dy="2.8">m</tspan></text>
<rect x="281.6" y="284.6" width="7.4" height="83.5" fill="#f3f4f6"/>
<clipPath id="hc2"><rect x="281.6" y="284.6" width="205.9" height="83.5"/></clipPath><g clip-path="url(#hc2)">
<g transform="translate(0 284.60) scale(1 17.00)" stroke-width="2.25">
<path d="M290.12 0v1" stroke="#d7b189"/>
<path d="M292.12 0v1" stroke="#e9cfb0"/>
<path d="M294.12 0v1" stroke="#f2eae2"/>
<path d="M296.12 0v1" stroke="#b4b4cf"/>
<path d="M298.12 0v1" stroke="#5f639e"/>
<path d="M300.12 0v1" stroke="#323678"/>
<path d="M302.12 0v1" stroke="#2e3276"/>
<path d="M304.12 0v1" stroke="#303477"/>
<path d="M306.12 0v1" stroke="#666ca5"/>
<path d="M308.12 0v1" stroke="#c5c7dc"/>
<path d="M310.12 0v1" stroke="#f0e9d7"/>
<path d="M312.12 0v1" stroke="#f4d988"/>
<path d="M314.12 0v1" stroke="#f0c544"/>
<path d="M316.12 0v1" stroke="#f3c951"/>
<path d="M318.12 0v1" stroke="#f2c33b"/>
<path d="M320.12 0v1" stroke="#f2ce68"/>
<path d="M322.12 0v1" stroke="#f6ecd7"/>
<path d="M324.12 0v1" stroke="#c4c3d1"/>
<path d="M326.12 0v1" stroke="#999ec7"/>
<path d="M328.12 0v1" stroke="#8389b9"/>
<path d="M330.12 0v1" stroke="#6c74ad"/>
<path d="M332.12 0v1" stroke="#6870a7"/>
<path d="M334.12 0v1" stroke="#60679f"/>
<path d="M336.12 0v1" stroke="#5e649a"/>
<path d="M338.12 0v1" stroke="#7277a7"/>
<path d="M340.12 0v1" stroke="#8d91b8"/>
<path d="M342.12 0v1" stroke="#c0c2d6"/>
<path d="M344.12 0v1" stroke="#efeff3"/>
<path d="M346.12 0v1" stroke="#ebe0c1"/>
<path d="M348.12 0v1" stroke="#f4dc98"/>
<path d="M350.12 0v1" stroke="#f0ce64"/>
<path d="M352.12 0v1" stroke="#f0c02d"/>
<path d="M354.12 0v1" stroke="#f0c133"/>
<path d="M356.12 0v1" stroke="#f2c546"/>
<path d="M358.12 0v1" stroke="#f1c754"/>
<path d="M360.12 0v1" stroke="#f2c858"/>
<path d="M362.12 0v1" stroke="#f0bd3a"/>
<path d="M364.12 0v1" stroke="#f4d991"/>
<path d="M366.12 0v1" stroke="#f3e7c5"/>
<path d="M368.12 0v1" stroke="#f3eddc"/>
<path d="M370.12 0v1" stroke="#f0f0f2"/>
<path d="M372.12 0v1" stroke="#d9d9e1"/>
<path d="M374.12 0v1" stroke="#c5c5d3"/>
<path d="M376.12 0v1" stroke="#c1c1d0"/>
<path d="M378.12 0v1" stroke="#c3c3d3"/>
<path d="M380.12 0v1" stroke="#b9b9ca"/>
<path d="M382.12 0v1" stroke="#afafc4"/>
<path d="M384.12 0v1" stroke="#acacc2"/>
<path d="M386.12 0v1" stroke="#c1bfca"/>
<path d="M388.12 0v1" stroke="#cbc8c9"/>
<path d="M390.12 0v1" stroke="#ddd8cf"/>
<path d="M392.12 0v1" stroke="#eedba7"/>
<path d="M394.12 0v1" stroke="#f0d074"/>
<path d="M396.12 0v1" stroke="#edca63"/>
<path d="M398.12 0v1" stroke="#ebc75e"/>
<path d="M400.12 0v1" stroke="#f0d37c"/>
<path d="M402.12 0v1" stroke="#ebce78"/>
<path d="M404.12 0v1" stroke="#eee2c0"/>
<path d="M406.12 0v1" stroke="#f3eee2"/>
<path d="M408.12 0v1" stroke="#f2efe8"/>
<path d="M410.12 0v1" stroke="#f0ede5"/>
<path d="M412.12 0v1" stroke="#f2f0ed"/>
<path d="M414.12 0v1" stroke="#f1f0ee"/>
<path d="M416.12 0v1" stroke="#f0efef"/>
<path d="M418.12 0v1" stroke="#efeff1"/>
<path d="M420.12 0v1" stroke="#ededf0"/>
<path d="M422.12 0v1" stroke="#dadae0"/>
<path d="M424.12 0v1" stroke="#d2d2da"/>
<path d="M426.12 0v1" stroke="#d7d7dd"/>
<path d="M428.12 0v1" stroke="#d3d3d9"/>
<path d="M430.12 0v1" stroke="#e0e0e3"/>
<path d="M432.12 0v1" stroke="#e7dec7"/>
<path d="M434.12 0v1" stroke="#f2db9d"/>
<path d="M436.12 0v1" stroke="#f0d896"/>
<path d="M438.12 0v1" stroke="#f0dba0"/>
<path d="M440.12 0v1" stroke="#f2da98"/>
<path d="M442.12 0v1" stroke="#f0d68e"/>
<path d="M444.12 0v1" stroke="#f4d990"/>
<path d="M446.12 0v1" stroke="#f6ebcd"/>
<path d="M448.12 0v1" stroke="#f6f3ee"/>
<path d="M450.12 0v1" stroke="#f7f4ef"/>
<path d="M452.12 0v1" stroke="#f1eee7"/>
<path d="M454.12 0v1" stroke="#f6f3ed"/>
<path d="M456.12 0v1" stroke="#f6f4f0"/>
<path d="M458.12 0v1" stroke="#f6f3ee"/>
<path d="M460.12 0v1" stroke="#f6f3ee"/>
<path d="M462.12 0v1" stroke="#f6f4f1"/>
<path d="M464.12 0v1" stroke="#f4f1ed"/>
<path d="M466.12 0v1" stroke="#f7f5f2"/>
<path d="M468.12 0v1" stroke="#f3f0ec"/>
<path d="M470.12 0v1" stroke="#f4f2ee"/>
<path d="M472.12 0v1" stroke="#f5f2ef"/>
<path d="M474.12 0v1" stroke="#f4f3ef"/>
<path d="M476.12 0v1" stroke="#f5f4f1"/>
<path d="M478.12 0v1" stroke="#f8f6f4"/>
<path d="M480.12 0v1" stroke="#f6f4f1"/>
<path d="M482.12 0v1" stroke="#f4f2ef"/>
<path d="M484.12 0v1" stroke="#f5f3f0"/>
<path d="M486.12 0v1" stroke="#f5f4f1"/>
<path d="M488.12 0v1" stroke="#f5f4f2"/>
</g>
<g transform="translate(0 301.30) scale(1 17.00)" stroke-width="2.25">
<path d="M290.12 0v1" stroke="#ceb7a6"/>
<path d="M292.12 0v1" stroke="#c9cee2"/>
<path d="M294.12 0v1" stroke="#a6add0"/>
<path d="M296.12 0v1" stroke="#7d83b9"/>
<path d="M298.12 0v1" stroke="#5b5ea6"/>
<path d="M300.12 0v1" stroke="#585ba5"/>
<path d="M302.12 0v1" stroke="#5255a2"/>
<path d="M304.12 0v1" stroke="#6b6daf"/>
<path d="M306.12 0v1" stroke="#9599c7"/>
<path d="M308.12 0v1" stroke="#d5d5e4"/>
<path d="M310.12 0v1" stroke="#f5edd6"/>
<path d="M312.12 0v1" stroke="#f4da84"/>
<path d="M314.12 0v1" stroke="#f0cf64"/>
<path d="M316.12 0v1" stroke="#f1cf62"/>
<path d="M318.12 0v1" stroke="#f1c94e"/>
<path d="M320.12 0v1" stroke="#f1dea7"/>
<path d="M322.12 0v1" stroke="#e1dcd5"/>
<path d="M324.12 0v1" stroke="#cccfe1"/>
<path d="M326.12 0v1" stroke="#adb3d3"/>
<path d="M328.12 0v1" stroke="#868ebf"/>
<path d="M330.12 0v1" stroke="#828bbe"/>
<path d="M332.12 0v1" stroke="#8a92c1"/>
<path d="M334.12 0v1" stroke="#8088bc"/>
<path d="M336.12 0v1" stroke="#878fbf"/>
<path d="M338.12 0v1" stroke="#7a82b8"/>
<path d="M340.12 0v1" stroke="#999fc8"/>
<path d="M342.12 0v1" stroke="#bdc1da"/>
<path d="M344.12 0v1" stroke="#dadae2"/>
<path d="M346.12 0v1" stroke="#f1eee7"/>
<path d="M348.12 0v1" stroke="#f2e1a8"/>
<path d="M350.12 0v1" stroke="#f2d369"/>
<path d="M352.12 0v1" stroke="#f2cf57"/>
<path d="M354.12 0v1" stroke="#f2ce53"/>
<path d="M356.12 0v1" stroke="#f5d66e"/>
<path d="M358.12 0v1" stroke="#f3d56c"/>
<path d="M360.12 0v1" stroke="#f6d76f"/>
<path d="M362.12 0v1" stroke="#f5d25b"/>
<path d="M364.12 0v1" stroke="#f6d666"/>
<path d="M366.12 0v1" stroke="#f4e3ad"/>
<path d="M368.12 0v1" stroke="#f6f0e2"/>
<path d="M370.12 0v1" stroke="#e1ddd8"/>
<path d="M372.12 0v1" stroke="#d7d7e3"/>
<path d="M374.12 0v1" stroke="#dadae5"/>
<path d="M376.12 0v1" stroke="#dadae4"/>
<path d="M378.12 0v1" stroke="#dadae4"/>
<path d="M380.12 0v1" stroke="#d4d4df"/>
<path d="M382.12 0v1" stroke="#cdcdda"/>
<path d="M384.12 0v1" stroke="#cdcdda"/>
<path d="M386.12 0v1" stroke="#d0d0dc"/>
<path d="M388.12 0v1" stroke="#cdcdd9"/>
<path d="M390.12 0v1" stroke="#e0d4b8"/>
<path d="M392.12 0v1" stroke="#f6e1a4"/>
<path d="M394.12 0v1" stroke="#f4dc95"/>
<path d="M396.12 0v1" stroke="#f2d787"/>
<path d="M398.12 0v1" stroke="#f1d78a"/>
<path d="M400.12 0v1" stroke="#f4dd98"/>
<path d="M402.12 0v1" stroke="#f1d787"/>
<path d="M404.12 0v1" stroke="#f2dc99"/>
<path d="M406.12 0v1" stroke="#f1e0ae"/>
<path d="M408.12 0v1" stroke="#f4f1ed"/>
<path d="M410.12 0v1" stroke="#f4f1eb"/>
<path d="M412.12 0v1" stroke="#f4f2ed"/>
<path d="M414.12 0v1" stroke="#f3f1ec"/>
<path d="M416.12 0v1" stroke="#f2f0ea"/>
<path d="M418.12 0v1" stroke="#f5f3ef"/>
<path d="M420.12 0v1" stroke="#f5f3ef"/>
<path d="M422.12 0v1" stroke="#f4f2ed"/>
<path d="M424.12 0v1" stroke="#f1efeb"/>
<path d="M426.12 0v1" stroke="#f2f1ec"/>
<path d="M428.12 0v1" stroke="#f3f1ec"/>
<path d="M430.12 0v1" stroke="#f2f0ec"/>
<path d="M432.12 0v1" stroke="#f2f1ed"/>
<path d="M434.12 0v1" stroke="#f5eede"/>
<path d="M436.12 0v1" stroke="#f1dfb3"/>
<path d="M438.12 0v1" stroke="#f0deb1"/>
<path d="M440.12 0v1" stroke="#f4e3bc"/>
<path d="M442.12 0v1" stroke="#f1ddac"/>
<path d="M444.12 0v1" stroke="#f6e6bd"/>
<path d="M446.12 0v1" stroke="#f9f3e4"/>
<path d="M448.12 0v1" stroke="#f5f4f1"/>
<path d="M450.12 0v1" stroke="#f7f5f3"/>
<path d="M452.12 0v1" stroke="#f1efec"/>
<path d="M454.12 0v1" stroke="#f6f5f2"/>
<path d="M456.12 0v1" stroke="#f6f4f2"/>
<path d="M458.12 0v1" stroke="#f7f6f3"/>
<path d="M460.12 0v1" stroke="#f6f4f2"/>
<path d="M462.12 0v1" stroke="#f4f3f1"/>
<path d="M464.12 0v1" stroke="#f2f1ee"/>
<path d="M466.12 0v1" stroke="#f6f5f3"/>
<path d="M468.12 0v1" stroke="#f3f1ef"/>
<path d="M470.12 0v1" stroke="#f4f3f1"/>
<path d="M472.12 0v1" stroke="#f4f3f1"/>
<path d="M474.12 0v1" stroke="#f5f4f2"/>
<path d="M476.12 0v1" stroke="#f5f4f2"/>
<path d="M478.12 0v1" stroke="#f7f6f4"/>
<path d="M480.12 0v1" stroke="#f5f4f2"/>
<path d="M482.12 0v1" stroke="#f4f2f0"/>
<path d="M484.12 0v1" stroke="#f5f3f1"/>
<path d="M486.12 0v1" stroke="#f5f4f2"/>
<path d="M488.12 0v1" stroke="#f4f3f1"/>
</g>
<g transform="translate(0 318.00) scale(1 17.00)" stroke-width="2.25">
<path d="M290.12 0v1" stroke="#cfb8a7"/>
<path d="M292.12 0v1" stroke="#c6ccde"/>
<path d="M294.12 0v1" stroke="#a8b1cc"/>
<path d="M296.12 0v1" stroke="#bcc3d8"/>
<path d="M298.12 0v1" stroke="#afb8d2"/>
<path d="M300.12 0v1" stroke="#b3bcd5"/>
<path d="M302.12 0v1" stroke="#afb8d3"/>
<path d="M304.12 0v1" stroke="#d8dde8"/>
<path d="M306.12 0v1" stroke="#eaecef"/>
<path d="M308.12 0v1" stroke="#f4f3f1"/>
<path d="M310.12 0v1" stroke="#faf7f3"/>
<path d="M312.12 0v1" stroke="#f7f5ef"/>
<path d="M314.12 0v1" stroke="#f4f1ec"/>
<path d="M316.12 0v1" stroke="#f6f3ee"/>
<path d="M318.12 0v1" stroke="#f5f2ec"/>
<path d="M320.12 0v1" stroke="#f6f2ec"/>
<path d="M322.12 0v1" stroke="#f7f4ee"/>
<path d="M324.12 0v1" stroke="#f7f5f0"/>
<path d="M326.12 0v1" stroke="#f8f5f0"/>
<path d="M328.12 0v1" stroke="#f4f1ec"/>
<path d="M330.12 0v1" stroke="#f5f2ec"/>
<path d="M332.12 0v1" stroke="#f6f3ee"/>
<path d="M334.12 0v1" stroke="#f8f4ef"/>
<path d="M336.12 0v1" stroke="#f8f6f2"/>
<path d="M338.12 0v1" stroke="#f7f4ee"/>
<path d="M340.12 0v1" stroke="#f7f5ef"/>
<path d="M342.12 0v1" stroke="#f7f5f1"/>
<path d="M344.12 0v1" stroke="#f6f4f0"/>
<path d="M346.12 0v1" stroke="#f6f3ee"/>
<path d="M348.12 0v1" stroke="#f7f4ef"/>
<path d="M350.12 0v1" stroke="#f4f1ec"/>
<path d="M352.12 0v1" stroke="#f4f1ec"/>
<path d="M354.12 0v1" stroke="#f5f2ed"/>
<path d="M356.12 0v1" stroke="#f8f5f1"/>
<path d="M358.12 0v1" stroke="#f7f5f1"/>
<path d="M360.12 0v1" stroke="#f7f5f0"/>
<path d="M362.12 0v1" stroke="#f6f3ed"/>
<path d="M364.12 0v1" stroke="#faf7f3"/>
<path d="M366.12 0v1" stroke="#f6f4f0"/>
<path d="M368.12 0v1" stroke="#f7f4ef"/>
<path d="M370.12 0v1" stroke="#f7f5f0"/>
<path d="M372.12 0v1" stroke="#f7f5f0"/>
<path d="M374.12 0v1" stroke="#f8f6f2"/>
<path d="M376.12 0v1" stroke="#f6f4f1"/>
<path d="M378.12 0v1" stroke="#f8f6f1"/>
<path d="M380.12 0v1" stroke="#f6f4ef"/>
<path d="M382.12 0v1" stroke="#f6f4ef"/>
<path d="M384.12 0v1" stroke="#f7f4ef"/>
<path d="M386.12 0v1" stroke="#f7f5f0"/>
<path d="M388.12 0v1" stroke="#f7f5f0"/>
<path d="M390.12 0v1" stroke="#f8f5f0"/>
<path d="M392.12 0v1" stroke="#f9f7f2"/>
<path d="M394.12 0v1" stroke="#f8f6f1"/>
<path d="M396.12 0v1" stroke="#f5f2ed"/>
<path d="M398.12 0v1" stroke="#f3f0eb"/>
<path d="M400.12 0v1" stroke="#f7f5f0"/>
<path d="M402.12 0v1" stroke="#f5f2ee"/>
<path d="M404.12 0v1" stroke="#f5f2ee"/>
<path d="M406.12 0v1" stroke="#f7f4ef"/>
<path d="M408.12 0v1" stroke="#f5f2ee"/>
<path d="M410.12 0v1" stroke="#f6f3ee"/>
<path d="M412.12 0v1" stroke="#f8f5f2"/>
<path d="M414.12 0v1" stroke="#f7f5f2"/>
<path d="M416.12 0v1" stroke="#f7f4f0"/>
<path d="M418.12 0v1" stroke="#f7f5f1"/>
<path d="M420.12 0v1" stroke="#f9f6f3"/>
<path d="M422.12 0v1" stroke="#f8f5f1"/>
<path d="M424.12 0v1" stroke="#f5f3ef"/>
<path d="M426.12 0v1" stroke="#f7f5f2"/>
<path d="M428.12 0v1" stroke="#f8f5f0"/>
<path d="M430.12 0v1" stroke="#f7f5f2"/>
<path d="M432.12 0v1" stroke="#f7f5f2"/>
<path d="M434.12 0v1" stroke="#f7f4ef"/>
<path d="M436.12 0v1" stroke="#f5f2ee"/>
<path d="M438.12 0v1" stroke="#f5f3ef"/>
<path d="M440.12 0v1" stroke="#f6f3ef"/>
<path d="M442.12 0v1" stroke="#f4f1ed"/>
<path d="M444.12 0v1" stroke="#f9f6f3"/>
<path d="M446.12 0v1" stroke="#faf8f5"/>
<path d="M448.12 0v1" stroke="#f7f5f2"/>
<path d="M450.12 0v1" stroke="#f9f7f4"/>
<path d="M452.12 0v1" stroke="#f4f1ee"/>
<path d="M454.12 0v1" stroke="#f8f6f2"/>
<path d="M456.12 0v1" stroke="#f7f5f2"/>
<path d="M458.12 0v1" stroke="#f9f6f3"/>
<path d="M460.12 0v1" stroke="#f9f6f3"/>
<path d="M462.12 0v1" stroke="#f7f5f2"/>
<path d="M464.12 0v1" stroke="#f5f3ef"/>
<path d="M466.12 0v1" stroke="#f9f7f5"/>
<path d="M468.12 0v1" stroke="#f5f3ef"/>
<path d="M470.12 0v1" stroke="#f6f4f1"/>
<path d="M472.12 0v1" stroke="#f7f4f1"/>
<path d="M474.12 0v1" stroke="#f6f4f1"/>
<path d="M476.12 0v1" stroke="#f7f5f2"/>
<path d="M478.12 0v1" stroke="#f9f7f4"/>
<path d="M480.12 0v1" stroke="#f8f5f2"/>
<path d="M482.12 0v1" stroke="#f6f4f1"/>
<path d="M484.12 0v1" stroke="#f7f5f2"/>
<path d="M486.12 0v1" stroke="#f7f6f3"/>
<path d="M488.12 0v1" stroke="#f7f5f3"/>
</g>
<g transform="translate(0 334.70) scale(1 17.00)" stroke-width="2.25">
<path d="M290.12 0v1" stroke="#dbc4aa"/>
<path d="M292.12 0v1" stroke="#ecf1f7"/>
<path d="M294.12 0v1" stroke="#e7edf4"/>
<path d="M296.12 0v1" stroke="#ecf0f5"/>
<path d="M298.12 0v1" stroke="#eaeff5"/>
<path d="M300.12 0v1" stroke="#edf2f6"/>
<path d="M302.12 0v1" stroke="#e9eff5"/>
<path d="M304.12 0v1" stroke="#ecf0f5"/>
<path d="M306.12 0v1" stroke="#eff0ef"/>
<path d="M308.12 0v1" stroke="#f8f5f0"/>
<path d="M310.12 0v1" stroke="#faf8f4"/>
<path d="M312.12 0v1" stroke="#f8f5f1"/>
<path d="M314.12 0v1" stroke="#f4f1ec"/>
<path d="M316.12 0v1" stroke="#f7f4ef"/>
<path d="M318.12 0v1" stroke="#f6f2ec"/>
<path d="M320.12 0v1" stroke="#f6f3ed"/>
<path d="M322.12 0v1" stroke="#f7f3ee"/>
<path d="M324.12 0v1" stroke="#f8f6f2"/>
<path d="M326.12 0v1" stroke="#f8f5f0"/>
<path d="M328.12 0v1" stroke="#f5f2ed"/>
<path d="M330.12 0v1" stroke="#f6f3ee"/>
<path d="M332.12 0v1" stroke="#f6f4ef"/>
<path d="M334.12 0v1" stroke="#f8f5f0"/>
<path d="M336.12 0v1" stroke="#f9f6f2"/>
<path d="M338.12 0v1" stroke="#f8f5f0"/>
<path d="M340.12 0v1" stroke="#f9f6f1"/>
<path d="M342.12 0v1" stroke="#f7f5f1"/>
<path d="M344.12 0v1" stroke="#f7f4ef"/>
<path d="M346.12 0v1" stroke="#f7f4ef"/>
<path d="M348.12 0v1" stroke="#f7f4ef"/>
<path d="M350.12 0v1" stroke="#f5f2ed"/>
<path d="M352.12 0v1" stroke="#f4f1ea"/>
<path d="M354.12 0v1" stroke="#f5f2ec"/>
<path d="M356.12 0v1" stroke="#f8f6f2"/>
<path d="M358.12 0v1" stroke="#f6f4ef"/>
<path d="M360.12 0v1" stroke="#f8f5f0"/>
<path d="M362.12 0v1" stroke="#f8f5f0"/>
<path d="M364.12 0v1" stroke="#faf7f3"/>
<path d="M366.12 0v1" stroke="#f7f5f1"/>
<path d="M368.12 0v1" stroke="#f8f5f0"/>
<path d="M370.12 0v1" stroke="#f7f4ee"/>
<path d="M372.12 0v1" stroke="#f7f5f0"/>
<path d="M374.12 0v1" stroke="#f8f5f1"/>
<path d="M376.12 0v1" stroke="#f6f4f0"/>
<path d="M378.12 0v1" stroke="#faf7f3"/>
<path d="M380.12 0v1" stroke="#f7f5f0"/>
<path d="M382.12 0v1" stroke="#f7f4ef"/>
<path d="M384.12 0v1" stroke="#f7f4ef"/>
<path d="M386.12 0v1" stroke="#f8f5f0"/>
<path d="M388.12 0v1" stroke="#f7f4ee"/>
<path d="M390.12 0v1" stroke="#f8f5ef"/>
<path d="M392.12 0v1" stroke="#faf7f3"/>
<path d="M394.12 0v1" stroke="#f8f5f0"/>
<path d="M396.12 0v1" stroke="#f6f3ed"/>
<path d="M398.12 0v1" stroke="#f4f1eb"/>
<path d="M400.12 0v1" stroke="#f8f5f0"/>
<path d="M402.12 0v1" stroke="#f5f2ec"/>
<path d="M404.12 0v1" stroke="#f5f3ee"/>
<path d="M406.12 0v1" stroke="#f7f3ed"/>
<path d="M408.12 0v1" stroke="#f6f4f0"/>
<path d="M410.12 0v1" stroke="#f7f4ef"/>
<path d="M412.12 0v1" stroke="#f7f5f0"/>
<path d="M414.12 0v1" stroke="#f6f4ef"/>
<path d="M416.12 0v1" stroke="#f7f4ef"/>
<path d="M418.12 0v1" stroke="#f7f5f1"/>
<path d="M420.12 0v1" stroke="#f9f6f1"/>
<path d="M422.12 0v1" stroke="#f9f6f0"/>
<path d="M424.12 0v1" stroke="#f6f3ee"/>
<path d="M426.12 0v1" stroke="#f7f4ef"/>
<path d="M428.12 0v1" stroke="#f8f5f0"/>
<path d="M430.12 0v1" stroke="#f6f4ef"/>
<path d="M432.12 0v1" stroke="#f7f5f1"/>
<path d="M434.12 0v1" stroke="#f7f4ee"/>
<path d="M436.12 0v1" stroke="#f5f2ec"/>
<path d="M438.12 0v1" stroke="#f5f2ed"/>
<path d="M440.12 0v1" stroke="#f7f4ef"/>
<path d="M442.12 0v1" stroke="#f4f1eb"/>
<path d="M444.12 0v1" stroke="#f8f5ef"/>
<path d="M446.12 0v1" stroke="#faf8f3"/>
<path d="M448.12 0v1" stroke="#f8f5f0"/>
<path d="M450.12 0v1" stroke="#f8f5f0"/>
<path d="M452.12 0v1" stroke="#f4f0eb"/>
<path d="M454.12 0v1" stroke="#f9f6f1"/>
<path d="M456.12 0v1" stroke="#f8f5f1"/>
<path d="M458.12 0v1" stroke="#f9f6f0"/>
<path d="M460.12 0v1" stroke="#f9f6f1"/>
<path d="M462.12 0v1" stroke="#f7f4f0"/>
<path d="M464.12 0v1" stroke="#f5f1eb"/>
<path d="M466.12 0v1" stroke="#f8f6f1"/>
<path d="M468.12 0v1" stroke="#f5f2ec"/>
<path d="M470.12 0v1" stroke="#f6f3ef"/>
<path d="M472.12 0v1" stroke="#f6f3ee"/>
<path d="M474.12 0v1" stroke="#f7f4f0"/>
<path d="M476.12 0v1" stroke="#f8f6f2"/>
<path d="M478.12 0v1" stroke="#f9f7f2"/>
<path d="M480.12 0v1" stroke="#f8f5f0"/>
<path d="M482.12 0v1" stroke="#f6f3ed"/>
<path d="M484.12 0v1" stroke="#f7f3ed"/>
<path d="M486.12 0v1" stroke="#f7f5f0"/>
<path d="M488.12 0v1" stroke="#f7f4ef"/>
</g>
<g transform="translate(0 351.40) scale(1 17.00)" stroke-width="2.25">
<path d="M290.12 0v1" stroke="#f7f4f6"/>
<path d="M292.12 0v1" stroke="#f7f4f6"/>
<path d="M294.12 0v1" stroke="#f6f3f5"/>
<path d="M296.12 0v1" stroke="#f6f3f5"/>
<path d="M298.12 0v1" stroke="#f6f3f5"/>
<path d="M300.12 0v1" stroke="#f8f6f7"/>
<path d="M302.12 0v1" stroke="#f8f5f6"/>
<path d="M304.12 0v1" stroke="#f7f4f5"/>
<path d="M306.12 0v1" stroke="#f4f1f3"/>
<path d="M308.12 0v1" stroke="#f8f5f6"/>
<path d="M310.12 0v1" stroke="#f9f6f8"/>
<path d="M312.12 0v1" stroke="#f6f4f5"/>
<path d="M314.12 0v1" stroke="#f4f0f2"/>
<path d="M316.12 0v1" stroke="#f5f2f4"/>
<path d="M318.12 0v1" stroke="#f6f3f4"/>
<path d="M320.12 0v1" stroke="#f5f2f4"/>
<path d="M322.12 0v1" stroke="#f6f2f4"/>
<path d="M324.12 0v1" stroke="#f6f4f5"/>
<path d="M326.12 0v1" stroke="#f7f4f6"/>
<path d="M328.12 0v1" stroke="#f4f0f2"/>
<path d="M330.12 0v1" stroke="#f6f3f5"/>
<path d="M332.12 0v1" stroke="#f7f5f6"/>
<path d="M334.12 0v1" stroke="#f8f5f7"/>
<path d="M336.12 0v1" stroke="#f8f5f7"/>
<path d="M338.12 0v1" stroke="#f8f5f6"/>
<path d="M340.12 0v1" stroke="#f7f4f6"/>
<path d="M342.12 0v1" stroke="#f6f3f5"/>
<path d="M344.12 0v1" stroke="#f7f4f6"/>
<path d="M346.12 0v1" stroke="#f5f2f4"/>
<path d="M348.12 0v1" stroke="#f7f4f6"/>
<path d="M350.12 0v1" stroke="#f5f2f4"/>
<path d="M352.12 0v1" stroke="#f4f0f2"/>
<path d="M354.12 0v1" stroke="#f5f1f3"/>
<path d="M356.12 0v1" stroke="#f7f4f6"/>
<path d="M358.12 0v1" stroke="#f7f5f6"/>
<path d="M360.12 0v1" stroke="#f8f6f7"/>
<path d="M362.12 0v1" stroke="#f7f4f6"/>
<path d="M364.12 0v1" stroke="#f9f6f8"/>
<path d="M366.12 0v1" stroke="#f6f3f5"/>
<path d="M368.12 0v1" stroke="#f8f6f7"/>
<path d="M370.12 0v1" stroke="#f7f4f6"/>
<path d="M372.12 0v1" stroke="#f7f5f6"/>
<path d="M374.12 0v1" stroke="#f8f6f7"/>
<path d="M376.12 0v1" stroke="#f6f4f5"/>
<path d="M378.12 0v1" stroke="#f9f6f8"/>
<path d="M380.12 0v1" stroke="#f6f4f5"/>
<path d="M382.12 0v1" stroke="#f6f3f5"/>
<path d="M384.12 0v1" stroke="#f7f3f5"/>
<path d="M386.12 0v1" stroke="#f8f5f7"/>
<path d="M388.12 0v1" stroke="#f7f4f6"/>
<path d="M390.12 0v1" stroke="#f8f5f7"/>
<path d="M392.12 0v1" stroke="#f9f6f8"/>
<path d="M394.12 0v1" stroke="#f8f4f6"/>
<path d="M396.12 0v1" stroke="#f6f3f5"/>
<path d="M398.12 0v1" stroke="#f4f1f3"/>
<path d="M400.12 0v1" stroke="#f8f6f7"/>
<path d="M402.12 0v1" stroke="#f5f2f4"/>
<path d="M404.12 0v1" stroke="#f5f3f4"/>
<path d="M406.12 0v1" stroke="#f8f5f7"/>
<path d="M408.12 0v1" stroke="#f5f2f4"/>
<path d="M410.12 0v1" stroke="#f6f3f5"/>
<path d="M412.12 0v1" stroke="#f7f5f6"/>
<path d="M414.12 0v1" stroke="#f6f3f5"/>
<path d="M416.12 0v1" stroke="#f7f4f6"/>
<path d="M418.12 0v1" stroke="#f7f4f6"/>
<path d="M420.12 0v1" stroke="#f8f5f7"/>
<path d="M422.12 0v1" stroke="#f9f6f8"/>
<path d="M424.12 0v1" stroke="#f6f4f5"/>
<path d="M426.12 0v1" stroke="#f7f5f7"/>
<path d="M428.12 0v1" stroke="#f8f5f7"/>
<path d="M430.12 0v1" stroke="#f6f3f5"/>
<path d="M432.12 0v1" stroke="#f6f4f5"/>
<path d="M434.12 0v1" stroke="#f7f4f6"/>
<path d="M436.12 0v1" stroke="#f5f2f4"/>
<path d="M438.12 0v1" stroke="#f4f2f4"/>
<path d="M440.12 0v1" stroke="#f6f3f5"/>
<path d="M442.12 0v1" stroke="#f4f1f3"/>
<path d="M444.12 0v1" stroke="#f9f6f8"/>
<path d="M446.12 0v1" stroke="#f9f7f8"/>
<path d="M448.12 0v1" stroke="#f8f5f7"/>
<path d="M450.12 0v1" stroke="#f8f6f8"/>
<path d="M452.12 0v1" stroke="#f4f1f3"/>
<path d="M454.12 0v1" stroke="#f8f5f7"/>
<path d="M456.12 0v1" stroke="#f8f5f7"/>
<path d="M458.12 0v1" stroke="#f9f6f8"/>
<path d="M460.12 0v1" stroke="#f8f4f7"/>
<path d="M462.12 0v1" stroke="#f7f4f6"/>
<path d="M464.12 0v1" stroke="#f6f2f5"/>
<path d="M466.12 0v1" stroke="#f8f5f7"/>
<path d="M468.12 0v1" stroke="#f5f2f4"/>
<path d="M470.12 0v1" stroke="#f7f4f6"/>
<path d="M472.12 0v1" stroke="#f7f4f6"/>
<path d="M474.12 0v1" stroke="#f6f3f5"/>
<path d="M476.12 0v1" stroke="#f8f5f7"/>
<path d="M478.12 0v1" stroke="#faf7f9"/>
<path d="M480.12 0v1" stroke="#f7f4f6"/>
<path d="M482.12 0v1" stroke="#f6f2f5"/>
<path d="M484.12 0v1" stroke="#f7f4f6"/>
<path d="M486.12 0v1" stroke="#f7f4f6"/>
<path d="M488.12 0v1" stroke="#f7f5f6"/>
</g>
</g>
<line x1="288.6" y1="284.6" x2="288.6" y2="368.1" stroke="#9a9a9a" stroke-width="1.1"/>
<rect x="288.1" y="284.6" width="2.7" height="66.8" fill="#c48a60"/>
<g clip-path="url(#hc2)">
<path d="M281.6 331.0 282.3 331.8 282.9 329.6 283.6 330.2 284.3 330.6 284.9 330.0 285.6 329.6 M289.6 291.6 L290.3 290.4 291.0 294.7 291.6 300.0 292.3 305.7 293.0 309.5 293.7 314.5 294.3 319.5 295.0 325.5 295.7 330.0 296.3 335.2 297.0 341.0 297.7 347.9 298.3 355.0 299.0 358.7 299.7 362.6 300.4 364.4 301.0 365.6 301.7 365.9 302.4 364.6 303.0 362.3 303.7 360.7 304.4 358.2 305.0 355.2 305.7 349.6 306.4 345.9 307.0 342.1 307.7 337.1 308.4 333.9 309.1 330.4 309.7 327.7 310.4 323.7 311.1 322.0 311.7 319.3 312.4 316.2 313.1 315.0 313.7 313.1 314.4 311.1 315.1 311.0 315.8 311.0 316.4 310.8 317.1 311.0 317.8 312.7 318.4 313.8 319.1 315.0 319.8 316.1 320.4 317.5 321.1 318.4 321.8 319.7 322.5 321.1 323.1 324.1 323.8 324.7 324.5 327.0 325.1 329.5 325.8 330.8 326.5 334.9 327.1 335.9 327.8 337.0 328.5 338.6 329.1 340.8 329.8 343.3 330.5 344.7 331.2 347.8 331.8 349.9 332.5 350.2 333.2 352.2 333.8 354.0 334.5 353.8 335.2 356.1 335.8 356.4 336.5 355.7 337.2 357.5 337.9 356.9 338.5 357.7 339.2 356.5 339.9 354.9 340.5 354.2 341.2 353.8 341.9 350.2 342.5 347.0 343.2 343.9 343.9 339.7 344.6 335.7 345.2 332.6 345.9 329.1 346.6 325.5 347.2 323.8 347.9 320.8 348.6 317.6 349.2 316.6 349.9 314.9 350.6 314.1 351.2 315.0 351.9 313.4 352.6 313.3 353.3 311.5 353.9 312.3 354.6 311.1 355.3 312.1 355.9 312.8 356.6 312.0 357.3 313.5 357.9 313.1 358.6 313.2 359.3 314.7 360.0 314.6 360.6 315.6 361.3 315.2 362.0 315.5 362.6 316.0 363.3 316.9 364.0 318.7 364.6 319.4 365.3 321.2 366.0 321.4 366.7 324.2 367.3 326.2 368.0 327.1 368.7 328.8 369.3 329.7 370.0 330.8 370.7 332.6 371.3 332.5 372.0 335.2 372.7 336.6 373.3 337.7 374.0 339.1 374.7 339.4 375.4 340.3 376.0 340.9 376.7 343.0 377.4 343.1 378.0 342.8 378.7 342.8 379.4 342.1 380.0 342.0 380.7 340.5 381.4 338.9 382.1 337.8 382.7 336.1 383.4 335.9 384.1 334.4 384.7 332.5 385.4 331.4 386.1 330.7 386.7 330.1 387.4 327.5 388.1 326.7 388.8 324.5 389.4 323.3 390.1 322.3 390.8 319.6 391.4 318.6 392.1 317.8 392.8 317.4 393.4 315.5 394.1 316.0 394.8 315.2 395.5 315.4 396.1 314.8 396.8 316.1 397.5 316.2 398.1 317.0 398.8 317.5 399.5 317.3 400.1 318.5 400.8 319.1 401.5 320.3 402.1 321.7 402.8 321.8 403.5 322.1 404.2 323.3 404.8 324.5 405.5 323.6 406.2 325.0 406.8 326.1 407.5 327.4 408.2 327.5 408.8 327.9 409.5 328.8 410.2 329.5 410.9 330.3 411.5 330.7 412.2 331.3 412.9 330.6 413.5 331.4 414.2 331.1 414.9 330.9 415.5 330.3 416.2 331.0 416.9 331.8 417.6 332.0 418.2 331.1 418.9 333.2 419.6 331.4 420.2 331.5 420.9 332.6 421.6 332.1 422.2 332.3 422.9 332.1 423.6 330.3 424.2 330.7 424.9 330.1 425.6 329.1 426.3 328.3 426.9 328.2 427.6 327.2 428.3 326.0 428.9 325.3 429.6 324.0 430.3 323.5 430.9 322.4 431.6 321.8 432.3 321.3 433.0 321.3 433.6 318.6 434.3 319.8 435.0 318.5 435.6 318.1 436.3 317.6 437.0 316.1 437.6 315.9 438.3 314.9 439.0 314.3 439.7 314.0 440.3 312.5 441.0 312.0 441.7 312.0 442.3 310.7 443.0 310.6 443.7 311.6 444.3 310.4 445.0 309.9 445.7 311.7 446.3 311.6 447.0 311.4 447.7 312.6 448.4 313.7 449.0 315.1 449.7 316.0 450.4 316.5 451.0 318.7 451.7 320.1 452.4 321.0 453.0 321.9 453.7 322.4 454.4 322.9 455.1 323.8 455.7 324.9 456.4 325.5 457.1 325.3 457.7 326.3 458.4 326.7 459.1 326.6 459.7 326.8 460.4 327.9 461.1 327.7 461.8 327.7 462.4 326.6 463.1 326.3 463.8 327.9 464.4 325.3 465.1 325.8 465.8 324.7 466.4 324.7 467.1 323.9 467.8 323.3 468.4 323.3 469.1 322.2 469.8 321.9 470.5 322.3 471.1 321.5 471.8 321.1 472.5 319.2 473.1 320.5 473.8 320.3 474.5 319.6 475.1 318.5 475.8 317.0 476.5 317.4 477.2 318.1 477.8 318.4 478.5 317.5 479.2 317.8 479.8 317.2 480.5 316.5 481.2 317.5 481.8 316.8 482.5 317.6 483.2 317.1 483.9 315.9 484.5 316.4 485.2 315.6 485.9 315.2 486.5 316.4 487.2 314.8" fill="none" stroke="#9c9c9c" stroke-width="2.6" stroke-linejoin="round"/>
<path d="M281.6 333.5 281.9 328.6 282.1 327.2 282.4 332.2 282.6 332.7 282.9 333.2 283.1 333.9 283.4 333.3 283.6 329.5 283.9 330.2 284.1 331.6 284.4 330.0 284.6 328.7 284.9 330.3 285.1 331.6 285.4 329.4 285.6 327.4 285.9 325.1 286.1 328.0 286.4 330.2 286.6 329.3 286.9 329.9 M288.9 296.3 L289.1 296.8 289.4 295.0 289.6 291.5 289.9 289.2 290.1 289.2 290.4 292.7 290.6 295.8 290.9 295.1 291.1 293.4 291.4 296.8 291.6 298.5 291.9 298.6 292.1 301.7 292.4 305.5 292.6 308.7 292.9 310.0 293.1 311.8 293.4 311.8 293.6 314.0 293.9 319.2 294.1 320.1 294.4 320.7 294.6 322.5 294.9 325.1 295.1 328.3 295.4 330.0 295.6 331.5 295.9 334.7 296.1 335.6 296.4 334.5 296.6 336.2 296.9 339.8 297.1 342.0 297.4 342.5 297.6 347.3 297.9 352.9 298.1 355.2 298.4 351.5 298.6 351.1 298.9 355.2 299.1 355.9 299.4 358.0 299.6 363.7 299.9 364.8 300.1 361.5 300.4 363.8 300.6 365.7 300.9 365.3 301.1 364.4 301.4 364.4 301.6 366.2 301.9 363.0 302.1 359.4 302.4 363.7 302.6 367.1 302.9 363.9 303.1 360.3 303.4 360.0 303.6 359.0 303.9 357.9 304.1 361.6 304.4 361.3 304.6 359.2 304.9 357.1 305.1 354.2 305.4 355.1 305.6 350.6 305.9 346.2 306.1 346.4 306.4 345.8 306.6 347.1 306.9 346.3 307.1 340.0 307.4 337.0 307.6 336.5 307.9 334.0 308.1 337.2 308.4 335.5 308.6 331.3 308.9 330.5 309.1 330.1 309.4 330.5 309.6 328.1 309.9 326.3 310.1 326.8 310.4 324.4 310.6 320.4 310.9 319.3 311.2 321.6 311.4 322.0 311.7 317.3 311.9 316.2 312.2 320.9 312.4 320.5 312.7 317.1 312.9 317.2 313.2 315.0 313.4 312.5 313.7 311.3 313.9 311.2 314.2 307.8 314.4 312.0 314.7 316.7 314.9 312.5 315.2 310.6 315.4 309.1 315.7 311.0 315.9 312.1 316.2 311.4 316.4 309.7 316.7 309.7 316.9 315.4 317.2 314.6 317.4 313.0 317.7 313.8 317.9 314.6 318.2 316.6 318.4 315.3 318.7 313.1 318.9 313.8 319.2 315.2 319.4 314.1 319.7 315.2 319.9 317.2 320.2 315.5 320.4 315.1 320.7 321.6 320.9 323.6 321.2 319.6 321.4 322.9 321.7 322.6 321.9 315.3 322.2 313.6 322.4 315.8 322.7 319.9 322.9 324.6 323.2 321.4 323.4 322.4 323.7 324.6 323.9 324.0 324.2 327.4 324.4 328.5 324.7 328.5 324.9 328.8 325.2 327.8 325.4 328.7 325.7 332.9 325.9 334.7 326.2 338.0 326.4 339.0 326.7 336.7 326.9 338.4 327.2 338.3 327.4 334.3 327.7 331.1 327.9 335.9 328.2 341.1 328.4 341.1 328.7 340.5 328.9 340.4 329.2 344.7 329.4 345.5 329.7 341.5 329.9 341.1 330.2 345.9 330.4 345.6 330.7 340.1 330.9 338.9 331.2 341.6 331.4 347.2 331.7 350.2 331.9 348.4 332.2 346.9 332.4 348.5 332.7 350.9 332.9 350.7 333.2 351.1 333.4 351.2 333.7 354.9 333.9 352.8 334.2 350.5 334.4 353.1 334.7 354.4 334.9 356.1 335.2 355.9 335.4 357.5 335.7 357.6 335.9 358.7 336.2 356.4 336.4 356.6 336.7 358.7 336.9 357.9 337.2 360.8 337.4 362.1 337.7 362.7 337.9 357.3 338.2 352.5 338.4 357.4 338.7 356.9 338.9 354.8 339.2 359.0 339.4 360.3 339.7 355.7 339.9 354.6 340.2 356.8 340.5 355.7 340.7 354.0 341.0 353.7 341.2 350.9 341.5 350.1 341.7 350.0 342.0 349.3 342.2 350.2 342.5 346.8 342.7 345.7 343.0 346.2 343.2 343.7 343.5 342.7 343.7 340.8 344.0 337.8 344.2 337.1 344.5 336.2 344.7 336.8 345.0 331.9 345.2 328.4 345.5 327.7 345.7 326.1 346.0 328.4 346.2 328.0 346.5 327.9 346.7 327.2 347.0 320.1 347.2 316.7 347.5 322.5 347.7 325.8 348.0 322.6 348.2 316.8 348.5 319.3 348.7 317.8 349.0 314.3 349.2 317.1 349.5 316.6 349.7 314.4 350.0 312.9 350.2 316.1 350.5 315.6 350.7 311.3 351.0 311.7 351.2 313.7 351.5 313.2 351.7 311.5 352.0 312.3 352.2 313.2 352.5 310.3 352.7 310.6 353.0 312.4 353.2 312.2 353.5 309.4 353.7 308.0 354.0 311.4 354.2 314.2 354.5 314.0 354.7 312.9 355.0 313.5 355.2 314.9 355.5 316.6 355.7 315.9 356.0 312.3 356.2 312.4 356.5 310.3 356.7 309.7 357.0 312.2 357.2 312.2 357.5 313.9 357.7 314.1 358.0 311.1 358.2 310.6 358.5 311.8 358.7 312.5 359.0 314.5 359.2 313.2 359.5 313.9 359.7 317.7 360.0 316.3 360.2 315.5 360.5 313.8 360.7 312.0 361.0 316.0 361.2 314.3 361.5 312.1 361.7 313.7 362.0 316.5 362.2 320.0 362.5 317.4 362.7 315.9 363.0 313.0 363.2 314.4 363.5 319.4 363.7 320.5 364.0 316.5 364.2 315.4 364.5 319.1 364.7 314.8 365.0 314.8 365.2 319.3 365.5 322.2 365.7 323.2 366.0 321.7 366.2 322.7 366.5 323.9 366.7 322.8 367.0 321.9 367.2 323.8 367.5 326.3 367.7 329.6 368.0 329.2 368.2 329.5 368.5 331.3 368.7 331.2 369.0 329.8 369.2 327.1 369.5 328.5 369.8 331.9 370.0 333.1 370.3 333.3 370.5 334.0 370.8 334.8 371.0 335.1 371.3 333.0 371.5 334.0 371.8 335.4 372.0 337.9 372.3 337.9 372.5 335.8 372.8 336.0 373.0 338.2 373.3 340.5 373.5 340.2 373.8 337.2 374.0 334.2 374.3 337.1 374.5 341.0 374.8 343.4 375.0 339.7 375.3 337.5 375.5 338.0 375.8 337.0 376.0 339.7 376.3 343.0 376.5 342.7 376.8 340.3 377.0 340.8 377.3 344.1 377.5 348.5 377.8 344.2 378.0 339.9 378.3 341.7 378.5 343.9 378.8 345.2 379.0 345.6 379.3 343.1 379.5 340.5 379.8 341.1 380.0 339.0 380.3 339.2 380.5 338.7 380.8 342.0 381.0 344.1 381.3 338.6 381.5 336.5 381.8 340.4 382.0 340.1 382.3 338.0 382.5 339.1 382.8 339.3 383.0 338.8 383.3 336.2 383.5 333.7 383.8 330.7 384.0 331.1 384.3 333.6 384.5 332.6 384.8 331.6 385.0 329.8 385.3 333.0 385.5 333.7 385.8 328.2 386.0 327.6 386.3 328.6 386.5 330.2 386.8 326.2 387.0 325.3 387.3 327.7 387.5 326.1 387.8 328.1 388.0 329.1 388.3 325.9 388.5 323.9 388.8 327.4 389.0 329.2 389.3 327.1 389.5 324.4 389.8 324.0 390.0 324.0 390.3 321.1 390.5 318.4 390.8 319.5 391.0 321.3 391.3 321.9 391.5 320.0 391.8 319.9 392.0 319.7 392.3 319.0 392.5 320.1 392.8 316.8 393.0 314.1 393.3 314.6 393.5 315.4 393.8 316.9 394.0 316.0 394.3 312.0 394.5 313.0 394.8 318.4 395.0 321.0 395.3 316.9 395.5 313.9 395.8 315.5 396.0 315.0 396.3 314.2 396.5 314.9 396.8 313.8 397.0 313.4 397.3 314.5 397.5 316.0 397.8 315.1 398.0 315.1 398.3 315.6 398.5 314.4 398.8 314.4 399.0 322.4 399.3 326.4 399.6 322.4 399.8 322.0 400.1 319.7 400.3 318.8 400.6 319.9 400.8 320.8 401.1 321.5 401.3 323.5 401.6 318.1 401.8 315.1 402.1 321.1 402.3 321.6 402.6 320.5 402.8 323.7 403.1 324.5 403.3 325.2 403.6 325.1 403.8 322.9 404.1 321.6 404.3 318.3 404.6 319.6 404.8 323.2 405.1 323.6 405.3 321.7 405.6 323.6 405.8 326.1 406.1 325.4 406.3 324.4 406.6 327.3 406.8 331.2 407.1 329.4 407.3 327.1 407.6 327.4 407.8 330.5 408.1 334.9 408.3 332.5 408.6 327.6 408.8 325.0 409.1 330.3 409.3 331.7 409.6 328.9 409.8 331.6 410.1 332.6 410.3 330.6 410.6 326.1 410.8 327.8 411.1 331.2 411.3 332.9 411.6 329.7 411.8 327.2 412.1 329.5 412.3 328.2 412.6 328.4 412.8 331.9 413.1 332.2 413.3 328.7 413.6 329.3 413.8 333.1 414.1 333.4 414.3 333.4 414.6 329.9 414.8 329.5 415.1 333.1 415.3 331.8 415.6 330.8 415.8 330.3 416.1 332.4 416.3 333.2 416.6 329.7 416.8 330.5 417.1 332.3 417.3 333.1 417.6 331.6 417.8 329.5 418.1 331.5 418.3 336.1 418.6 336.3 418.8 330.6 419.1 330.1 419.3 331.1 419.6 327.9 419.8 328.0 420.1 330.1 420.3 331.8 420.6 334.9 420.8 336.0 421.1 335.2 421.3 332.7 421.6 331.6 421.8 332.2 422.1 334.1 422.3 333.0 422.6 329.8 422.8 333.1 423.1 334.7 423.3 331.5 423.6 330.6 423.8 331.4 424.1 331.2 424.3 332.0 424.6 332.1 424.8 330.3 425.1 328.6 425.3 325.9 425.6 325.8 425.8 330.0 426.1 330.8 426.3 327.7 426.6 326.6 426.8 326.0 427.1 326.5 427.3 330.7 427.6 332.8 427.8 331.2 428.1 329.3 428.3 326.7 428.6 323.1 428.9 323.2 429.1 324.1 429.4 325.1 429.6 325.7 429.9 323.1 430.1 323.3 430.4 328.5 430.6 326.1 430.9 322.9 431.1 325.0 431.4 322.7 431.6 320.3 431.9 320.2 432.1 321.5 432.4 322.4 432.6 322.9 432.9 322.0 433.1 319.5 433.4 319.3 433.6 319.4 433.9 317.0 434.1 319.0 434.4 319.4 434.6 315.8 434.9 316.7 435.1 315.3 435.4 314.8 435.6 318.4 435.9 317.6 436.1 317.0 436.4 320.8 436.6 322.5 436.9 320.3 437.1 318.7 437.4 316.1 437.6 314.7 437.9 314.8 438.1 314.8 438.4 315.2 438.6 313.6 438.9 315.8 439.1 315.2 439.4 313.0 439.6 316.0 439.9 315.2 440.1 312.2 440.4 312.1 440.6 316.1 440.9 316.8 441.1 313.1 441.4 312.8 441.6 312.8 441.9 308.7 442.1 309.2 442.4 313.7 442.6 315.0 442.9 313.1 443.1 308.9 443.4 310.8 443.6 312.7 443.9 311.9 444.1 313.9 444.4 313.2 444.6 311.2 444.9 309.6 445.1 309.0 445.4 310.1 445.6 310.0 445.9 310.6 446.1 308.4 446.4 306.3 446.6 309.6 446.9 310.4 447.1 309.9 447.4 309.6 447.6 311.9 447.9 316.8 448.1 314.5 448.4 314.2 448.6 314.0 448.9 312.9 449.1 312.5 449.4 313.6 449.6 317.3 449.9 317.2 450.1 319.6 450.4 320.8 450.6 319.2 450.9 317.4 451.1 317.9 451.4 318.4 451.6 318.0 451.9 321.7 452.1 324.0 452.4 322.4 452.6 322.3 452.9 319.8 453.1 319.3 453.4 319.2 453.6 318.2 453.9 321.8 454.1 323.7 454.4 324.5 454.6 324.5 454.9 323.7 455.1 323.7 455.4 326.1 455.6 328.4 455.9 324.1 456.1 322.5 456.4 327.1 456.6 326.7 456.9 325.3 457.1 324.9 457.4 322.9 457.6 324.2 457.9 325.7 458.2 325.3 458.4 323.8 458.7 322.4 458.9 324.6 459.2 325.8 459.4 327.0 459.7 326.1 459.9 326.4 460.2 329.1 460.4 328.1 460.7 328.3 460.9 328.0 461.2 326.6 461.4 326.7 461.7 324.9 461.9 324.8 462.2 328.0 462.4 325.5 462.7 325.2 462.9 326.6 463.2 324.9 463.4 325.9 463.7 326.7 463.9 328.6 464.2 327.9 464.4 328.3 464.7 328.4 464.9 326.3 465.2 327.1 465.4 325.1 465.7 322.1 465.9 323.1 466.2 325.8 466.4 326.9 466.7 325.0 466.9 326.2 467.2 326.4 467.4 322.4 467.7 324.2 467.9 327.1 468.2 323.5 468.4 322.7 468.7 322.0 468.9 320.6 469.2 326.1 469.4 327.9 469.7 325.2 469.9 324.0 470.2 321.4 470.4 320.8 470.7 322.6 470.9 320.3 471.2 319.7 471.4 322.1 471.7 321.9 471.9 321.6 472.2 320.8 472.4 318.2 472.7 318.5 472.9 317.1 473.2 315.8 473.4 320.5 473.7 324.3 473.9 323.2 474.2 316.4 474.4 317.8 474.7 322.4 474.9 319.8 475.2 320.1 475.4 321.1 475.7 317.9 475.9 314.9 476.2 318.4 476.4 316.7 476.7 315.9 476.9 319.9 477.2 320.5 477.4 322.6 477.7 323.1 477.9 322.7 478.2 321.8 478.4 320.1 478.7 320.4 478.9 319.5 479.2 316.2 479.4 316.0 479.7 314.9 479.9 314.0 480.2 319.8 480.4 321.4 480.7 317.7 480.9 315.9 481.2 313.2 481.4 313.3 481.7 314.8 481.9 315.5 482.2 316.8 482.4 316.6 482.7 313.4 482.9 315.7 483.2 319.4 483.4 317.0 483.7 315.7 483.9 316.3 484.2 318.8 484.4 319.0 484.7 315.1 484.9 312.1 485.2 310.1 485.4 312.2 485.7 317.0 485.9 318.7 486.2 317.7 486.4 317.0 486.7 315.3 486.9 314.8 487.2 316.0" fill="none" stroke="#858585" stroke-width="0.75" stroke-linejoin="round"/>
<path d="M286.9 329.9 L287.1 327.3 287.4 327.1 287.6 325.5 287.9 319.3 288.1 310.2 288.4 302.4 288.6 298.8 288.9 296.3" fill="none" stroke="#999" stroke-width="0.7" stroke-linejoin="round"/>
</g>
<rect x="281.6" y="284.6" width="205.9" height="83.5" fill="none" stroke="#555" stroke-width="0.7"/>
<path d="M281.6 293.0 h2.2 M487.5 293.0 h-2.2" stroke="#555" stroke-width="0.6"/>
<text x="278.2" y="295.8" font-size="7.9" text-anchor="end" font-weight="normal" fill="#1a1a1a" stroke="#1a1a1a" stroke-width="0.2" >75</text>
<path d="M281.6 309.7 h2.2 M487.5 309.7 h-2.2" stroke="#555" stroke-width="0.6"/>
<text x="278.2" y="312.5" font-size="7.9" text-anchor="end" font-weight="normal" fill="#1a1a1a" stroke="#1a1a1a" stroke-width="0.2" >55</text>
<path d="M281.6 326.4 h2.2 M487.5 326.4 h-2.2" stroke="#555" stroke-width="0.6"/>
<text x="278.2" y="329.2" font-size="7.9" text-anchor="end" font-weight="normal" fill="#1a1a1a" stroke="#1a1a1a" stroke-width="0.2" >35</text>
<path d="M281.6 343.1 h2.2 M487.5 343.1 h-2.2" stroke="#555" stroke-width="0.6"/>
<text x="278.2" y="345.9" font-size="7.9" text-anchor="end" font-weight="normal" fill="#1a1a1a" stroke="#1a1a1a" stroke-width="0.2" >25</text>
<path d="M281.6 359.8 h2.2 M487.5 359.8 h-2.2" stroke="#555" stroke-width="0.6"/>
<text x="278.2" y="362.6" font-size="7.9" text-anchor="end" font-weight="normal" fill="#1a1a1a" stroke="#1a1a1a" stroke-width="0.2" >0</text>
<path d="M288.5 368.1 v-2.2 M288.5 284.6 v2.2" stroke="#555" stroke-width="0.6"/>
<text x="288.5" y="377.7" font-size="7.9" text-anchor="middle" font-weight="normal" fill="#1a1a1a" stroke="#1a1a1a" stroke-width="0.2" >0</text>
<path d="M339.6 368.1 v-2.2 M339.6 284.6 v2.2" stroke="#555" stroke-width="0.6"/>
<text x="339.6" y="377.7" font-size="7.9" text-anchor="middle" font-weight="normal" fill="#1a1a1a" stroke="#1a1a1a" stroke-width="0.2" >100</text>
<path d="M390.8 368.1 v-2.2 M390.8 284.6 v2.2" stroke="#555" stroke-width="0.6"/>
<text x="390.8" y="377.7" font-size="7.9" text-anchor="middle" font-weight="normal" fill="#1a1a1a" stroke="#1a1a1a" stroke-width="0.2" >200</text>
<path d="M441.9 368.1 v-2.2 M441.9 284.6 v2.2" stroke="#555" stroke-width="0.6"/>
<text x="441.9" y="377.7" font-size="7.9" text-anchor="middle" font-weight="normal" fill="#1a1a1a" stroke="#1a1a1a" stroke-width="0.2" >300</text>
<path d="M286.4 368.7 L288.5 365.5 L290.6 368.7 Z" fill="#111"/>
<text x="383.3" y="387.9" font-size="7.9" text-anchor="middle" font-weight="normal" fill="#1a1a1a" stroke="#1a1a1a" stroke-width="0.2" >Time (ms)</text>
<text x="0" y="0" font-size="7.9" text-anchor="middle" fill="#222" stroke="#222" stroke-width="0.2" transform="translate(263.2 326.4) rotate(-90)">Stimulus (µA)</text>
<text x="384.5" y="279.6" font-size="7.9" text-anchor="middle" font-weight="bold" fill="#111" stroke="#111" stroke-width="0" >0.5 ms</text>
<line x1="460.6" y1="291.4" x2="460.6" y2="336.9" stroke="#333" stroke-width="0.7"/>
<text x="465.6" y="300.2" font-size="7.9" text-anchor="start" font-weight="normal" fill="#111" stroke="#111" stroke-width="0.2" >1 mV</text>
<text x="455.5" y="343.2" font-size="7.9" text-anchor="start" font-weight="normal" fill="#999" stroke="#999" stroke-width="0.2" >75 µA</text>
<rect x="499.3" y="284.6" width="16.4" height="84.3" fill="url(#cb)" stroke="#444" stroke-width="0.6"/>
<path d="M515.7 304.9 h-1.8 M499.3 304.9 h1.8" stroke="#444" stroke-width="0.5"/>
<text x="517.2" y="307.7" font-size="7.9" text-anchor="start" font-weight="normal" fill="#1a1a1a" stroke="#1a1a1a" stroke-width="0.2" >0.5</text>
<path d="M515.7 329.2 h-1.8 M499.3 329.2 h1.8" stroke="#444" stroke-width="0.5"/>
<text x="517.2" y="332.0" font-size="7.9" text-anchor="start" font-weight="normal" fill="#1a1a1a" stroke="#1a1a1a" stroke-width="0.2" >0</text>
<path d="M515.7 354.0 h-1.8 M499.3 354.0 h1.8" stroke="#444" stroke-width="0.5"/>
<text x="517.2" y="356.8" font-size="7.9" text-anchor="start" font-weight="normal" fill="#1a1a1a" stroke="#1a1a1a" stroke-width="0.2" >−0.5</text>
<text x="489.3" y="378.4" font-size="7.9" fill="#222" stroke="#222" stroke-width="0.2">Mean ΔV<tspan font-size="6.0" dy="2.8">m</tspan></text>
<rect x="281.6" y="414.2" width="7.4" height="83.0" fill="#f3f4f6"/>
<clipPath id="hc3"><rect x="281.6" y="414.2" width="205.9" height="83.0"/></clipPath><g clip-path="url(#hc3)">
<g transform="translate(0 414.20) scale(1 16.90)" stroke-width="2.25">
<path d="M290.12 0v1" stroke="#f3b63e"/>
<path d="M292.12 0v1" stroke="#f1b948"/>
<path d="M294.12 0v1" stroke="#f2b944"/>
<path d="M296.12 0v1" stroke="#f1b437"/>
<path d="M298.12 0v1" stroke="#f1b12a"/>
<path d="M300.12 0v1" stroke="#f6c765"/>
<path d="M302.12 0v1" stroke="#f7ce7b"/>
<path d="M304.12 0v1" stroke="#f4cc78"/>
<path d="M306.12 0v1" stroke="#f5d184"/>
<path d="M308.12 0v1" stroke="#f7dda5"/>
<path d="M310.12 0v1" stroke="#f8e1b3"/>
<path d="M312.12 0v1" stroke="#f9ecd2"/>
<path d="M314.12 0v1" stroke="#faf1e0"/>
<path d="M316.12 0v1" stroke="#f8ead1"/>
<path d="M318.12 0v1" stroke="#f9f0de"/>
<path d="M320.12 0v1" stroke="#f6ead3"/>
<path d="M322.12 0v1" stroke="#f4d694"/>
<path d="M324.12 0v1" stroke="#f4cd75"/>
<path d="M326.12 0v1" stroke="#f0b93d"/>
<path d="M328.12 0v1" stroke="#f3bc44"/>
<path d="M330.12 0v1" stroke="#f2c055"/>
<path d="M332.12 0v1" stroke="#f6ca6d"/>
<path d="M334.12 0v1" stroke="#f1ba45"/>
<path d="M336.12 0v1" stroke="#f4bf4e"/>
<path d="M338.12 0v1" stroke="#f3c462"/>
<path d="M340.12 0v1" stroke="#f3bc49"/>
<path d="M342.12 0v1" stroke="#f3cb7b"/>
<path d="M344.12 0v1" stroke="#f3cb7f"/>
<path d="M346.12 0v1" stroke="#f4d8a5"/>
<path d="M348.12 0v1" stroke="#f6e1bb"/>
<path d="M350.12 0v1" stroke="#f8e5c3"/>
<path d="M352.12 0v1" stroke="#faecd3"/>
<path d="M354.12 0v1" stroke="#f6e6ca"/>
<path d="M356.12 0v1" stroke="#fae8c8"/>
<path d="M358.12 0v1" stroke="#f5e0bb"/>
<path d="M360.12 0v1" stroke="#fae4be"/>
<path d="M362.12 0v1" stroke="#f6d8a0"/>
<path d="M364.12 0v1" stroke="#f6cf8a"/>
<path d="M366.12 0v1" stroke="#f5cc85"/>
<path d="M368.12 0v1" stroke="#f6c46e"/>
<path d="M370.12 0v1" stroke="#f6cd87"/>
<path d="M372.12 0v1" stroke="#f4bf68"/>
<path d="M374.12 0v1" stroke="#f6d299"/>
<path d="M376.12 0v1" stroke="#f6d298"/>
<path d="M378.12 0v1" stroke="#f6d29a"/>
<path d="M380.12 0v1" stroke="#f6c67d"/>
<path d="M382.12 0v1" stroke="#f7daac"/>
<path d="M384.12 0v1" stroke="#f8e3c2"/>
<path d="M386.12 0v1" stroke="#fae9cd"/>
<path d="M388.12 0v1" stroke="#f7e6c9"/>
<path d="M390.12 0v1" stroke="#f7e6cb"/>
<path d="M392.12 0v1" stroke="#fae2bd"/>
<path d="M394.12 0v1" stroke="#f9e7ca"/>
<path d="M396.12 0v1" stroke="#f8ddb1"/>
<path d="M398.12 0v1" stroke="#f8e7cc"/>
<path d="M400.12 0v1" stroke="#f7e2c2"/>
<path d="M402.12 0v1" stroke="#fcf2e3"/>
<path d="M404.12 0v1" stroke="#fae9cd"/>
<path d="M406.12 0v1" stroke="#fbf1e1"/>
<path d="M408.12 0v1" stroke="#fbf1e2"/>
<path d="M410.12 0v1" stroke="#faedda"/>
<path d="M412.12 0v1" stroke="#faecd7"/>
<path d="M414.12 0v1" stroke="#f9f0e2"/>
<path d="M416.12 0v1" stroke="#fbedd8"/>
<path d="M418.12 0v1" stroke="#faebd4"/>
<path d="M420.12 0v1" stroke="#fcf3e5"/>
<path d="M422.12 0v1" stroke="#fcf3e7"/>
<path d="M424.12 0v1" stroke="#faf0e0"/>
<path d="M426.12 0v1" stroke="#f9f4ec"/>
<path d="M428.12 0v1" stroke="#f9f1e5"/>
<path d="M430.12 0v1" stroke="#fcf5ec"/>
<path d="M432.12 0v1" stroke="#f8f2e8"/>
<path d="M434.12 0v1" stroke="#f9f4ec"/>
<path d="M436.12 0v1" stroke="#f9f3eb"/>
<path d="M438.12 0v1" stroke="#faf5ee"/>
<path d="M440.12 0v1" stroke="#fdf8f2"/>
<path d="M442.12 0v1" stroke="#fcf6ef"/>
<path d="M444.12 0v1" stroke="#fcf7ef"/>
<path d="M446.12 0v1" stroke="#fbf7f1"/>
<path d="M448.12 0v1" stroke="#f9f3eb"/>
<path d="M450.12 0v1" stroke="#fbf5ec"/>
<path d="M452.12 0v1" stroke="#fbf7f2"/>
<path d="M454.12 0v1" stroke="#fcf6ee"/>
<path d="M456.12 0v1" stroke="#faf4eb"/>
<path d="M458.12 0v1" stroke="#fdf8f1"/>
<path d="M460.12 0v1" stroke="#fcf6ed"/>
<path d="M462.12 0v1" stroke="#f9f3eb"/>
<path d="M464.12 0v1" stroke="#f8f3eb"/>
<path d="M466.12 0v1" stroke="#faf6f1"/>
<path d="M468.12 0v1" stroke="#faf5ee"/>
<path d="M470.12 0v1" stroke="#fbf5ee"/>
<path d="M472.12 0v1" stroke="#fcf6ee"/>
<path d="M474.12 0v1" stroke="#f9f5ef"/>
<path d="M476.12 0v1" stroke="#faf6f1"/>
<path d="M478.12 0v1" stroke="#f9f4ec"/>
<path d="M480.12 0v1" stroke="#fcf7f1"/>
<path d="M482.12 0v1" stroke="#faf5ed"/>
<path d="M484.12 0v1" stroke="#fcf8f3"/>
<path d="M486.12 0v1" stroke="#fbf7f2"/>
<path d="M488.12 0v1" stroke="#faf5ef"/>
</g>
<g transform="translate(0 430.80) scale(1 16.90)" stroke-width="2.25">
<path d="M290.12 0v1" stroke="#e26a25"/>
<path d="M292.12 0v1" stroke="#e5782a"/>
<path d="M294.12 0v1" stroke="#eda035"/>
<path d="M296.12 0v1" stroke="#f0b02f"/>
<path d="M298.12 0v1" stroke="#f1b43a"/>
<path d="M300.12 0v1" stroke="#f4bc4c"/>
<path d="M302.12 0v1" stroke="#f4c156"/>
<path d="M304.12 0v1" stroke="#f2ba47"/>
<path d="M306.12 0v1" stroke="#f2be57"/>
<path d="M308.12 0v1" stroke="#f4cb7f"/>
<path d="M310.12 0v1" stroke="#f7daa4"/>
<path d="M312.12 0v1" stroke="#f5dcad"/>
<path d="M314.12 0v1" stroke="#f6e4c1"/>
<path d="M316.12 0v1" stroke="#f4daa8"/>
<path d="M318.12 0v1" stroke="#f5dbab"/>
<path d="M320.12 0v1" stroke="#f3d7a5"/>
<path d="M322.12 0v1" stroke="#f4d38c"/>
<path d="M324.12 0v1" stroke="#f3c761"/>
<path d="M326.12 0v1" stroke="#f0b837"/>
<path d="M328.12 0v1" stroke="#f3bf47"/>
<path d="M330.12 0v1" stroke="#f2c359"/>
<path d="M332.12 0v1" stroke="#f5c965"/>
<path d="M334.12 0v1" stroke="#f1bb43"/>
<path d="M336.12 0v1" stroke="#f4c151"/>
<path d="M338.12 0v1" stroke="#f3c562"/>
<path d="M340.12 0v1" stroke="#f3bf4c"/>
<path d="M342.12 0v1" stroke="#f2c159"/>
<path d="M344.12 0v1" stroke="#f4ce83"/>
<path d="M346.12 0v1" stroke="#f3d295"/>
<path d="M348.12 0v1" stroke="#f5dcb0"/>
<path d="M350.12 0v1" stroke="#f6e0b7"/>
<path d="M352.12 0v1" stroke="#faf1de"/>
<path d="M354.12 0v1" stroke="#f6e8cb"/>
<path d="M356.12 0v1" stroke="#f8e3b9"/>
<path d="M358.12 0v1" stroke="#f5e0b7"/>
<path d="M360.12 0v1" stroke="#f9e3b8"/>
<path d="M362.12 0v1" stroke="#f8e2bb"/>
<path d="M364.12 0v1" stroke="#f5cc89"/>
<path d="M366.12 0v1" stroke="#f5cf92"/>
<path d="M368.12 0v1" stroke="#f6c77c"/>
<path d="M370.12 0v1" stroke="#f6d194"/>
<path d="M372.12 0v1" stroke="#f4c476"/>
<path d="M374.12 0v1" stroke="#f6d9aa"/>
<path d="M376.12 0v1" stroke="#f7daa9"/>
<path d="M378.12 0v1" stroke="#f6daab"/>
<path d="M380.12 0v1" stroke="#f6cd89"/>
<path d="M382.12 0v1" stroke="#f6d7a3"/>
<path d="M384.12 0v1" stroke="#f7e1bd"/>
<path d="M386.12 0v1" stroke="#faedda"/>
<path d="M388.12 0v1" stroke="#f8eddc"/>
<path d="M390.12 0v1" stroke="#f9f0e2"/>
<path d="M392.12 0v1" stroke="#fbecd5"/>
<path d="M394.12 0v1" stroke="#faefde"/>
<path d="M396.12 0v1" stroke="#faebd4"/>
<path d="M398.12 0v1" stroke="#faf3e7"/>
<path d="M400.12 0v1" stroke="#f7e8d1"/>
<path d="M402.12 0v1" stroke="#fcf4e7"/>
<path d="M404.12 0v1" stroke="#faedd8"/>
<path d="M406.12 0v1" stroke="#fbf4e8"/>
<path d="M408.12 0v1" stroke="#fbf3e7"/>
<path d="M410.12 0v1" stroke="#faf0e0"/>
<path d="M412.12 0v1" stroke="#faefdd"/>
<path d="M414.12 0v1" stroke="#f9f2e7"/>
<path d="M416.12 0v1" stroke="#fbf0de"/>
<path d="M418.12 0v1" stroke="#faeeda"/>
<path d="M420.12 0v1" stroke="#fcf6ea"/>
<path d="M422.12 0v1" stroke="#fcf6ec"/>
<path d="M424.12 0v1" stroke="#fbf1e2"/>
<path d="M426.12 0v1" stroke="#f9f3e9"/>
<path d="M428.12 0v1" stroke="#f9f1e3"/>
<path d="M430.12 0v1" stroke="#fbf3e5"/>
<path d="M432.12 0v1" stroke="#f8efdf"/>
<path d="M434.12 0v1" stroke="#f9f3e7"/>
<path d="M436.12 0v1" stroke="#f9f2e6"/>
<path d="M438.12 0v1" stroke="#faf4eb"/>
<path d="M440.12 0v1" stroke="#fdf7ee"/>
<path d="M442.12 0v1" stroke="#fcf7ef"/>
<path d="M444.12 0v1" stroke="#fcf6eb"/>
<path d="M446.12 0v1" stroke="#faf6ee"/>
<path d="M448.12 0v1" stroke="#f9f0e3"/>
<path d="M450.12 0v1" stroke="#fbf2e4"/>
<path d="M452.12 0v1" stroke="#fbf5ed"/>
<path d="M454.12 0v1" stroke="#fcf5e9"/>
<path d="M456.12 0v1" stroke="#faf3e7"/>
<path d="M458.12 0v1" stroke="#fdf8f0"/>
<path d="M460.12 0v1" stroke="#fcf5eb"/>
<path d="M462.12 0v1" stroke="#f9f2e7"/>
<path d="M464.12 0v1" stroke="#f8f2e9"/>
<path d="M466.12 0v1" stroke="#faf6ef"/>
<path d="M468.12 0v1" stroke="#f9f3e9"/>
<path d="M470.12 0v1" stroke="#fbf5ec"/>
<path d="M472.12 0v1" stroke="#fcf5eb"/>
<path d="M474.12 0v1" stroke="#f9f4ee"/>
<path d="M476.12 0v1" stroke="#faf5ef"/>
<path d="M478.12 0v1" stroke="#faf5ee"/>
<path d="M480.12 0v1" stroke="#fcf8f2"/>
<path d="M482.12 0v1" stroke="#faf5ee"/>
<path d="M484.12 0v1" stroke="#fcf8f3"/>
<path d="M486.12 0v1" stroke="#fbf7f1"/>
<path d="M488.12 0v1" stroke="#faf6f1"/>
</g>
<g transform="translate(0 447.40) scale(1 16.90)" stroke-width="2.25">
<path d="M290.12 0v1" stroke="#f5cc95"/>
<path d="M292.12 0v1" stroke="#f3cd99"/>
<path d="M294.12 0v1" stroke="#f5cf9c"/>
<path d="M296.12 0v1" stroke="#f2c17e"/>
<path d="M298.12 0v1" stroke="#f2c17c"/>
<path d="M300.12 0v1" stroke="#f8d7a8"/>
<path d="M302.12 0v1" stroke="#f5cc91"/>
<path d="M304.12 0v1" stroke="#f4ca8f"/>
<path d="M306.12 0v1" stroke="#f5d29c"/>
<path d="M308.12 0v1" stroke="#f6deb1"/>
<path d="M310.12 0v1" stroke="#f6dcad"/>
<path d="M312.12 0v1" stroke="#f5deb4"/>
<path d="M314.12 0v1" stroke="#f5deb3"/>
<path d="M316.12 0v1" stroke="#f5ddb1"/>
<path d="M318.12 0v1" stroke="#f6e3c1"/>
<path d="M320.12 0v1" stroke="#f5e5c9"/>
<path d="M322.12 0v1" stroke="#f5dfb8"/>
<path d="M324.12 0v1" stroke="#f5daa9"/>
<path d="M326.12 0v1" stroke="#f2ce8f"/>
<path d="M328.12 0v1" stroke="#f4d091"/>
<path d="M330.12 0v1" stroke="#f4d6a1"/>
<path d="M332.12 0v1" stroke="#f7dbaa"/>
<path d="M334.12 0v1" stroke="#f2cc8a"/>
<path d="M336.12 0v1" stroke="#f6d7a0"/>
<path d="M338.12 0v1" stroke="#f4d9aa"/>
<path d="M340.12 0v1" stroke="#f5d59d"/>
<path d="M342.12 0v1" stroke="#f4d8a8"/>
<path d="M344.12 0v1" stroke="#f5dbad"/>
<path d="M346.12 0v1" stroke="#f4dbaf"/>
<path d="M348.12 0v1" stroke="#f5e2c1"/>
<path d="M350.12 0v1" stroke="#f9eedb"/>
<path d="M352.12 0v1" stroke="#fbf1e1"/>
<path d="M354.12 0v1" stroke="#f7ebd8"/>
<path d="M356.12 0v1" stroke="#fbf2e2"/>
<path d="M358.12 0v1" stroke="#f6ecdb"/>
<path d="M360.12 0v1" stroke="#faf0de"/>
<path d="M362.12 0v1" stroke="#f8f0e0"/>
<path d="M364.12 0v1" stroke="#f8efde"/>
<path d="M366.12 0v1" stroke="#f8f0e1"/>
<path d="M368.12 0v1" stroke="#f9f0dd"/>
<path d="M370.12 0v1" stroke="#f9f1e2"/>
<path d="M372.12 0v1" stroke="#f8efde"/>
<path d="M374.12 0v1" stroke="#f8f2e5"/>
<path d="M376.12 0v1" stroke="#f8f1e3"/>
<path d="M378.12 0v1" stroke="#f9f4e9"/>
<path d="M380.12 0v1" stroke="#f9f0df"/>
<path d="M382.12 0v1" stroke="#f8efdd"/>
<path d="M384.12 0v1" stroke="#f7efde"/>
<path d="M386.12 0v1" stroke="#f9f2e4"/>
<path d="M388.12 0v1" stroke="#f8f2e6"/>
<path d="M390.12 0v1" stroke="#f8f3e9"/>
<path d="M392.12 0v1" stroke="#faf2e2"/>
<path d="M394.12 0v1" stroke="#f9f1e2"/>
<path d="M396.12 0v1" stroke="#f8efdc"/>
<path d="M398.12 0v1" stroke="#faf5ed"/>
<path d="M400.12 0v1" stroke="#f6eedd"/>
<path d="M402.12 0v1" stroke="#faf4e9"/>
<path d="M404.12 0v1" stroke="#f9f1e2"/>
<path d="M406.12 0v1" stroke="#faf5eb"/>
<path d="M408.12 0v1" stroke="#f9f3e7"/>
<path d="M410.12 0v1" stroke="#faf4ea"/>
<path d="M412.12 0v1" stroke="#f9f2e5"/>
<path d="M414.12 0v1" stroke="#f9f4ec"/>
<path d="M416.12 0v1" stroke="#f9f1e3"/>
<path d="M418.12 0v1" stroke="#f8f0e2"/>
<path d="M420.12 0v1" stroke="#fcf8f0"/>
<path d="M422.12 0v1" stroke="#fbf7ef"/>
<path d="M424.12 0v1" stroke="#f9f3e7"/>
<path d="M426.12 0v1" stroke="#f8f3ea"/>
<path d="M428.12 0v1" stroke="#f7f1e4"/>
<path d="M430.12 0v1" stroke="#faf4e9"/>
<path d="M432.12 0v1" stroke="#f6f0e3"/>
<path d="M434.12 0v1" stroke="#f8f2e8"/>
<path d="M436.12 0v1" stroke="#f7f2e7"/>
<path d="M438.12 0v1" stroke="#f9f5ed"/>
<path d="M440.12 0v1" stroke="#fcf7f0"/>
<path d="M442.12 0v1" stroke="#fbf7ef"/>
<path d="M444.12 0v1" stroke="#fbf5ea"/>
<path d="M446.12 0v1" stroke="#faf6f0"/>
<path d="M448.12 0v1" stroke="#f7f2e7"/>
<path d="M450.12 0v1" stroke="#faf4ea"/>
<path d="M452.12 0v1" stroke="#faf6ee"/>
<path d="M454.12 0v1" stroke="#fbf5eb"/>
<path d="M456.12 0v1" stroke="#f9f3e8"/>
<path d="M458.12 0v1" stroke="#fcf9f2"/>
<path d="M460.12 0v1" stroke="#faf4e9"/>
<path d="M462.12 0v1" stroke="#f8f3e9"/>
<path d="M464.12 0v1" stroke="#f7f2e8"/>
<path d="M466.12 0v1" stroke="#f8f4ec"/>
<path d="M468.12 0v1" stroke="#f9f4ec"/>
<path d="M470.12 0v1" stroke="#f9f4eb"/>
<path d="M472.12 0v1" stroke="#fbf7ef"/>
<path d="M474.12 0v1" stroke="#f8f4ec"/>
<path d="M476.12 0v1" stroke="#faf7f2"/>
<path d="M478.12 0v1" stroke="#f9f5ee"/>
<path d="M480.12 0v1" stroke="#fcf8f3"/>
<path d="M482.12 0v1" stroke="#f9f4ec"/>
<path d="M484.12 0v1" stroke="#fbf8f3"/>
<path d="M486.12 0v1" stroke="#faf6f0"/>
<path d="M488.12 0v1" stroke="#f9f5f0"/>
</g>
<g transform="translate(0 464.00) scale(1 16.90)" stroke-width="2.25">
<path d="M290.12 0v1" stroke="#f6c85a"/>
<path d="M292.12 0v1" stroke="#f4cf73"/>
<path d="M294.12 0v1" stroke="#f5cd68"/>
<path d="M296.12 0v1" stroke="#f3c44b"/>
<path d="M298.12 0v1" stroke="#f4ca5c"/>
<path d="M300.12 0v1" stroke="#f8d577"/>
<path d="M302.12 0v1" stroke="#f8e09d"/>
<path d="M304.12 0v1" stroke="#f7e5b4"/>
<path d="M306.12 0v1" stroke="#f6e3ae"/>
<path d="M308.12 0v1" stroke="#f8ebc7"/>
<path d="M310.12 0v1" stroke="#f9eac2"/>
<path d="M312.12 0v1" stroke="#f7e8c0"/>
<path d="M314.12 0v1" stroke="#f9efd4"/>
<path d="M316.12 0v1" stroke="#f8edcd"/>
<path d="M318.12 0v1" stroke="#f9f2df"/>
<path d="M320.12 0v1" stroke="#f8f3e3"/>
<path d="M322.12 0v1" stroke="#f7e9bb"/>
<path d="M324.12 0v1" stroke="#f7e4a7"/>
<path d="M326.12 0v1" stroke="#f3d572"/>
<path d="M328.12 0v1" stroke="#f7df90"/>
<path d="M330.12 0v1" stroke="#f5df96"/>
<path d="M332.12 0v1" stroke="#f9e8b1"/>
<path d="M334.12 0v1" stroke="#f5dc89"/>
<path d="M336.12 0v1" stroke="#f7de8d"/>
<path d="M338.12 0v1" stroke="#f5de94"/>
<path d="M340.12 0v1" stroke="#f7e093"/>
<path d="M342.12 0v1" stroke="#f5e099"/>
<path d="M344.12 0v1" stroke="#f5e19c"/>
<path d="M346.12 0v1" stroke="#f5e5af"/>
<path d="M348.12 0v1" stroke="#f8edcc"/>
<path d="M350.12 0v1" stroke="#faf3e0"/>
<path d="M352.12 0v1" stroke="#fbf5e4"/>
<path d="M354.12 0v1" stroke="#f8f2e2"/>
<path d="M356.12 0v1" stroke="#fcf7e7"/>
<path d="M358.12 0v1" stroke="#f8f1de"/>
<path d="M360.12 0v1" stroke="#fcf8ea"/>
<path d="M362.12 0v1" stroke="#faf5e6"/>
<path d="M364.12 0v1" stroke="#faf4e3"/>
<path d="M366.12 0v1" stroke="#faf5e7"/>
<path d="M368.12 0v1" stroke="#fbf5e2"/>
<path d="M370.12 0v1" stroke="#fbf4e3"/>
<path d="M372.12 0v1" stroke="#f9f3e0"/>
<path d="M374.12 0v1" stroke="#faf5ea"/>
<path d="M376.12 0v1" stroke="#faf5e6"/>
<path d="M378.12 0v1" stroke="#faf4e5"/>
<path d="M380.12 0v1" stroke="#faf3dd"/>
<path d="M382.12 0v1" stroke="#fbf5e5"/>
<path d="M384.12 0v1" stroke="#faf4e6"/>
<path d="M386.12 0v1" stroke="#fbf5e6"/>
<path d="M388.12 0v1" stroke="#f9f5e9"/>
<path d="M390.12 0v1" stroke="#f9f5e9"/>
<path d="M392.12 0v1" stroke="#fcf6e5"/>
<path d="M394.12 0v1" stroke="#fbf6e9"/>
<path d="M396.12 0v1" stroke="#fbf4e1"/>
<path d="M398.12 0v1" stroke="#faf6ec"/>
<path d="M400.12 0v1" stroke="#f8f2e1"/>
<path d="M402.12 0v1" stroke="#fcf8ee"/>
<path d="M404.12 0v1" stroke="#fbf4e2"/>
<path d="M406.12 0v1" stroke="#fbf6e9"/>
<path d="M408.12 0v1" stroke="#fbf5e8"/>
<path d="M410.12 0v1" stroke="#fbf5e8"/>
<path d="M412.12 0v1" stroke="#faf5e7"/>
<path d="M414.12 0v1" stroke="#f9f5ea"/>
<path d="M416.12 0v1" stroke="#fbf6e9"/>
<path d="M418.12 0v1" stroke="#faf4e3"/>
<path d="M420.12 0v1" stroke="#fcf9ef"/>
<path d="M422.12 0v1" stroke="#fbf7eb"/>
<path d="M424.12 0v1" stroke="#faf5e6"/>
<path d="M426.12 0v1" stroke="#f9f6ef"/>
<path d="M428.12 0v1" stroke="#f9f4e7"/>
<path d="M430.12 0v1" stroke="#fcf7eb"/>
<path d="M432.12 0v1" stroke="#f9f3e7"/>
<path d="M434.12 0v1" stroke="#f9f5ea"/>
<path d="M436.12 0v1" stroke="#f9f6ed"/>
<path d="M438.12 0v1" stroke="#faf7ee"/>
<path d="M440.12 0v1" stroke="#fdf9ef"/>
<path d="M442.12 0v1" stroke="#fcf8ef"/>
<path d="M444.12 0v1" stroke="#fdf8ed"/>
<path d="M446.12 0v1" stroke="#fbf8f1"/>
<path d="M448.12 0v1" stroke="#f9f4e9"/>
<path d="M450.12 0v1" stroke="#fcf7eb"/>
<path d="M452.12 0v1" stroke="#fbf7ee"/>
<path d="M454.12 0v1" stroke="#fdf9ef"/>
<path d="M456.12 0v1" stroke="#fbf6ea"/>
<path d="M458.12 0v1" stroke="#fefaf3"/>
<path d="M460.12 0v1" stroke="#fcf8ed"/>
<path d="M462.12 0v1" stroke="#faf6ed"/>
<path d="M464.12 0v1" stroke="#f9f4e8"/>
<path d="M466.12 0v1" stroke="#faf6ee"/>
<path d="M468.12 0v1" stroke="#faf6ec"/>
<path d="M470.12 0v1" stroke="#fbf6ec"/>
<path d="M472.12 0v1" stroke="#fcf7ec"/>
<path d="M474.12 0v1" stroke="#f9f5ed"/>
<path d="M476.12 0v1" stroke="#fbf8f2"/>
<path d="M478.12 0v1" stroke="#faf6ed"/>
<path d="M480.12 0v1" stroke="#fcf8f0"/>
<path d="M482.12 0v1" stroke="#fbf6ed"/>
<path d="M484.12 0v1" stroke="#fcf8f1"/>
<path d="M486.12 0v1" stroke="#fcf8f0"/>
<path d="M488.12 0v1" stroke="#fbf7f1"/>
</g>
<g transform="translate(0 480.60) scale(1 16.90)" stroke-width="2.25">
<path d="M290.12 0v1" stroke="#fbf8f9"/>
<path d="M292.12 0v1" stroke="#f9f6f7"/>
<path d="M294.12 0v1" stroke="#faf7f8"/>
<path d="M296.12 0v1" stroke="#f8f4f5"/>
<path d="M298.12 0v1" stroke="#f8f3f5"/>
<path d="M300.12 0v1" stroke="#fcf9fa"/>
<path d="M302.12 0v1" stroke="#faf6f8"/>
<path d="M304.12 0v1" stroke="#f8f4f6"/>
<path d="M306.12 0v1" stroke="#f8f4f6"/>
<path d="M308.12 0v1" stroke="#f9f5f6"/>
<path d="M310.12 0v1" stroke="#f9f6f7"/>
<path d="M312.12 0v1" stroke="#f8f4f6"/>
<path d="M314.12 0v1" stroke="#f9f7f8"/>
<path d="M316.12 0v1" stroke="#f7f2f4"/>
<path d="M318.12 0v1" stroke="#f8f4f6"/>
<path d="M320.12 0v1" stroke="#f8f5f6"/>
<path d="M322.12 0v1" stroke="#f9f6f7"/>
<path d="M324.12 0v1" stroke="#f9f7f8"/>
<path d="M326.12 0v1" stroke="#f7f3f4"/>
<path d="M328.12 0v1" stroke="#faf6f7"/>
<path d="M330.12 0v1" stroke="#f8f5f6"/>
<path d="M332.12 0v1" stroke="#faf8f9"/>
<path d="M334.12 0v1" stroke="#f7f3f4"/>
<path d="M336.12 0v1" stroke="#faf6f8"/>
<path d="M338.12 0v1" stroke="#f8f4f5"/>
<path d="M340.12 0v1" stroke="#f9f6f7"/>
<path d="M342.12 0v1" stroke="#f7f4f5"/>
<path d="M344.12 0v1" stroke="#f9f6f7"/>
<path d="M346.12 0v1" stroke="#f7f5f5"/>
<path d="M348.12 0v1" stroke="#f8f5f6"/>
<path d="M350.12 0v1" stroke="#f9f5f6"/>
<path d="M352.12 0v1" stroke="#faf7f8"/>
<path d="M354.12 0v1" stroke="#f7f4f5"/>
<path d="M356.12 0v1" stroke="#faf6f8"/>
<path d="M358.12 0v1" stroke="#f6f2f3"/>
<path d="M360.12 0v1" stroke="#faf7f8"/>
<path d="M362.12 0v1" stroke="#f9f6f7"/>
<path d="M364.12 0v1" stroke="#f8f4f5"/>
<path d="M366.12 0v1" stroke="#f8f6f6"/>
<path d="M368.12 0v1" stroke="#faf6f7"/>
<path d="M370.12 0v1" stroke="#f9f6f7"/>
<path d="M372.12 0v1" stroke="#f8f4f5"/>
<path d="M374.12 0v1" stroke="#f9f6f7"/>
<path d="M376.12 0v1" stroke="#f9f6f7"/>
<path d="M378.12 0v1" stroke="#f8f6f6"/>
<path d="M380.12 0v1" stroke="#f8f4f5"/>
<path d="M382.12 0v1" stroke="#f9f6f7"/>
<path d="M384.12 0v1" stroke="#f8f5f6"/>
<path d="M386.12 0v1" stroke="#f9f6f7"/>
<path d="M388.12 0v1" stroke="#f8f5f6"/>
<path d="M390.12 0v1" stroke="#f8f5f6"/>
<path d="M392.12 0v1" stroke="#faf7f7"/>
<path d="M394.12 0v1" stroke="#f9f5f6"/>
<path d="M396.12 0v1" stroke="#f9f4f5"/>
<path d="M398.12 0v1" stroke="#f9f7f8"/>
<path d="M400.12 0v1" stroke="#f6f2f3"/>
<path d="M402.12 0v1" stroke="#faf7f8"/>
<path d="M404.12 0v1" stroke="#f9f5f5"/>
<path d="M406.12 0v1" stroke="#faf8f8"/>
<path d="M408.12 0v1" stroke="#f9f7f7"/>
<path d="M410.12 0v1" stroke="#f9f5f6"/>
<path d="M412.12 0v1" stroke="#f9f5f6"/>
<path d="M414.12 0v1" stroke="#f8f5f5"/>
<path d="M416.12 0v1" stroke="#f9f5f6"/>
<path d="M418.12 0v1" stroke="#f8f5f5"/>
<path d="M420.12 0v1" stroke="#fbf9f9"/>
<path d="M422.12 0v1" stroke="#faf8f8"/>
<path d="M424.12 0v1" stroke="#f9f5f6"/>
<path d="M426.12 0v1" stroke="#f8f6f6"/>
<path d="M428.12 0v1" stroke="#f8f5f5"/>
<path d="M430.12 0v1" stroke="#f9f6f6"/>
<path d="M432.12 0v1" stroke="#f6f2f3"/>
<path d="M434.12 0v1" stroke="#f8f5f5"/>
<path d="M436.12 0v1" stroke="#f7f4f4"/>
<path d="M438.12 0v1" stroke="#f9f7f7"/>
<path d="M440.12 0v1" stroke="#fbf8f9"/>
<path d="M442.12 0v1" stroke="#faf8f8"/>
<path d="M444.12 0v1" stroke="#fbf8f9"/>
<path d="M446.12 0v1" stroke="#f9f6f7"/>
<path d="M448.12 0v1" stroke="#f7f3f3"/>
<path d="M450.12 0v1" stroke="#f9f5f5"/>
<path d="M452.12 0v1" stroke="#faf7f7"/>
<path d="M454.12 0v1" stroke="#faf7f7"/>
<path d="M456.12 0v1" stroke="#f8f4f4"/>
<path d="M458.12 0v1" stroke="#fbf9f9"/>
<path d="M460.12 0v1" stroke="#faf7f7"/>
<path d="M462.12 0v1" stroke="#f8f4f4"/>
<path d="M464.12 0v1" stroke="#f6f3f3"/>
<path d="M466.12 0v1" stroke="#f8f6f6"/>
<path d="M468.12 0v1" stroke="#f8f5f5"/>
<path d="M470.12 0v1" stroke="#f9f5f5"/>
<path d="M472.12 0v1" stroke="#fbf7f7"/>
<path d="M474.12 0v1" stroke="#f7f4f4"/>
<path d="M476.12 0v1" stroke="#f9f7f7"/>
<path d="M478.12 0v1" stroke="#f8f5f5"/>
<path d="M480.12 0v1" stroke="#fbf8f8"/>
<path d="M482.12 0v1" stroke="#f8f5f5"/>
<path d="M484.12 0v1" stroke="#faf7f7"/>
<path d="M486.12 0v1" stroke="#faf7f7"/>
<path d="M488.12 0v1" stroke="#f9f6f6"/>
</g>
</g>
<line x1="288.6" y1="414.2" x2="288.6" y2="497.2" stroke="#9a9a9a" stroke-width="1.1"/>
<g clip-path="url(#hc3)">
<path d="M281.6 456.8 282.3 456.9 282.9 456.4 283.6 457.3 284.3 457.6 284.9 457.6 285.6 456.5 M289.6 432.5 L290.3 435.6 291.0 437.1 291.6 438.7 292.3 439.0 293.0 440.0 293.7 440.3 294.3 440.4 295.0 440.5 295.7 441.2 296.3 442.3 297.0 442.5 297.7 442.5 298.3 443.2 299.0 443.2 299.7 443.1 300.4 444.9 301.0 444.7 301.7 444.5 302.4 444.6 303.0 446.4 303.7 446.6 304.4 447.3 305.0 448.4 305.7 449.4 306.4 448.8 307.0 449.9 307.7 450.0 308.4 449.8 309.1 451.5 309.7 451.5 310.4 451.9 311.1 452.5 311.7 452.7 312.4 454.3 313.1 455.3 313.7 455.1 314.4 454.7 315.1 454.5 315.8 455.7 316.4 455.2 317.1 455.5 317.8 455.6 318.4 454.7 319.1 454.2 319.8 453.3 320.4 452.3 321.1 452.1 321.8 450.8 322.5 450.6 323.1 449.1 323.8 448.7 324.5 448.0 325.1 446.9 325.8 447.5 326.5 446.8 327.1 447.0 327.8 446.5 328.5 445.0 329.1 445.3 329.8 444.7 330.5 445.1 331.2 444.3 331.8 444.4 332.5 444.2 333.2 444.5 333.8 444.7 334.5 444.9 335.2 445.5 335.8 445.5 336.5 446.1 337.2 446.2 337.9 447.0 338.5 448.1 339.2 447.8 339.9 448.6 340.5 448.7 341.2 449.6 341.9 450.3 342.5 450.4 343.2 450.4 343.9 451.2 344.6 451.1 345.2 451.8 345.9 451.6 346.6 451.9 347.2 453.8 347.9 452.9 348.6 453.6 349.2 453.5 349.9 454.0 350.6 453.3 351.2 454.0 351.9 454.5 352.6 455.5 353.3 455.3 353.9 454.7 354.6 455.3 355.3 455.7 355.9 455.1 356.6 455.8 357.3 456.6 357.9 455.8 358.6 455.1 359.3 454.6 360.0 454.7 360.6 454.1 361.3 455.0 362.0 453.2 362.6 453.1 363.3 452.3 364.0 451.4 364.6 451.3 365.3 451.2 366.0 451.1 366.7 451.1 367.3 449.1 368.0 449.0 368.7 449.3 369.3 448.0 370.0 447.3 370.7 447.5 371.3 446.8 372.0 446.2 372.7 445.6 373.3 445.8 374.0 445.4 374.7 445.3 375.4 445.6 376.0 445.3 376.7 445.8 377.4 446.1 378.0 446.5 378.7 447.2 379.4 446.8 380.0 447.5 380.7 447.2 381.4 448.2 382.1 447.8 382.7 448.9 383.4 448.6 384.1 448.9 384.7 449.3 385.4 449.9 386.1 449.2 386.7 450.4 387.4 450.8 388.1 450.8 388.8 450.6 389.4 451.9 390.1 451.2 390.8 451.9 391.4 451.1 392.1 451.5 392.8 452.3 393.4 452.8 394.1 453.4 394.8 453.6 395.5 453.8 396.1 454.2 396.8 453.9 397.5 453.4 398.1 454.1 398.8 454.1 399.5 454.1 400.1 454.3 400.8 455.0 401.5 454.2 402.1 454.5 402.8 454.3 403.5 454.8 404.2 454.4 404.8 454.3 405.5 454.0 406.2 454.6 406.8 453.4 407.5 453.4 408.2 452.8 408.8 452.9 409.5 452.3 410.2 453.3 410.9 452.0 411.5 452.4 412.2 451.7 412.9 451.8 413.5 451.8 414.2 452.0 414.9 451.2 415.5 450.4 416.2 452.8 416.9 451.7 417.6 451.8 418.2 451.6 418.9 451.9 419.6 451.6 420.2 451.7 420.9 453.0 421.6 453.0 422.2 452.4 422.9 452.9 423.6 452.9 424.2 452.9 424.9 454.1 425.6 453.4 426.3 454.6 426.9 453.8 427.6 454.1 428.3 453.8 428.9 454.0 429.6 455.0 430.3 454.2 430.9 455.2 431.6 455.8 432.3 455.4 433.0 456.0 433.6 455.7 434.3 456.0 435.0 457.0 435.6 456.3 436.3 456.5 437.0 457.0 437.6 456.6 438.3 457.4 439.0 457.3 439.7 457.9 440.3 456.8 441.0 457.2 441.7 457.0 442.3 457.4 443.0 456.8 443.7 456.5 444.3 456.8 445.0 456.0 445.7 457.3 446.3 457.0 447.0 455.0 447.7 456.1 448.4 456.9 449.0 456.9 449.7 456.7 450.4 456.3 451.0 455.5 451.7 455.6 452.4 456.0 453.0 456.4 453.7 456.1 454.4 455.6 455.1 455.6 455.7 455.7 456.4 455.2 457.1 454.9 457.7 455.7 458.4 455.7 459.1 455.3 459.7 455.3 460.4 455.0 461.1 456.2 461.8 455.1 462.4 455.8 463.1 455.9 463.8 455.6 464.4 455.8 465.1 455.7 465.8 455.3 466.4 455.6 467.1 455.5 467.8 456.1 468.4 455.1 469.1 455.7 469.8 455.3 470.5 455.7 471.1 455.3 471.8 455.4 472.5 454.8 473.1 455.5 473.8 455.3 474.5 455.8 475.1 455.2 475.8 455.1 476.5 455.7 477.2 456.4 477.8 455.6 478.5 455.3 479.2 456.2 479.8 455.9 480.5 455.2 481.2 455.8 481.8 455.9 482.5 455.8 483.2 456.2 483.9 456.3 484.5 457.4 485.2 456.4 485.9 456.2 486.5 457.1 487.2 456.4" fill="none" stroke="#9c9c9c" stroke-width="2.8" stroke-linejoin="round"/>
<path d="M281.6 457.9 281.9 456.6 282.1 453.6 282.4 451.0 282.6 452.7 282.9 458.2 283.1 458.7 283.4 457.7 283.6 459.0 283.9 457.2 284.1 459.3 284.4 459.4 284.6 456.3 284.9 461.1 285.1 460.5 285.4 457.0 285.6 456.5 285.9 456.8 286.1 454.6 286.4 453.3 286.6 458.4 286.9 459.5 M289.1 430.5 L289.4 432.3 289.6 431.1 289.9 432.3 290.1 433.6 290.4 436.1 290.6 438.2 290.9 438.5 291.1 437.4 291.4 438.7 291.6 440.1 291.9 440.0 292.1 441.8 292.4 438.8 292.6 438.3 292.9 439.2 293.1 439.5 293.4 442.3 293.6 442.9 293.9 442.6 294.1 440.3 294.4 439.3 294.6 441.5 294.9 442.9 295.1 441.8 295.4 441.2 295.6 442.8 295.9 440.1 296.1 438.3 296.4 441.1 296.6 441.1 296.9 439.0 297.1 441.9 297.4 444.0 297.6 442.6 297.9 442.5 298.1 442.4 298.4 441.7 298.6 441.8 298.9 443.1 299.1 445.6 299.4 444.6 299.6 442.9 299.9 443.4 300.1 442.0 300.4 442.7 300.6 445.7 300.9 444.4 301.1 444.5 301.4 445.1 301.6 445.7 301.9 448.2 302.1 446.4 302.4 442.3 302.6 442.5 302.9 443.5 303.1 442.4 303.4 444.2 303.6 447.9 303.9 448.3 304.1 446.4 304.4 444.3 304.6 444.0 304.9 444.8 305.1 446.6 305.4 447.9 305.6 447.4 305.9 448.3 306.1 448.3 306.4 449.8 306.6 450.9 306.9 449.4 307.1 449.2 307.4 450.6 307.6 452.4 307.9 452.0 308.1 452.3 308.4 451.5 308.6 449.5 308.9 448.5 309.1 450.1 309.4 450.8 309.6 448.6 309.9 451.2 310.1 452.1 310.4 450.2 310.6 452.3 310.9 453.3 311.2 453.4 311.4 453.3 311.7 453.3 311.9 455.5 312.2 454.8 312.4 455.9 312.7 455.5 312.9 453.0 313.2 453.8 313.4 455.6 313.7 455.3 313.9 453.5 314.2 454.4 314.4 456.8 314.7 456.0 314.9 452.8 315.2 453.3 315.4 455.9 315.7 455.4 315.9 454.8 316.2 453.1 316.4 453.0 316.7 455.7 316.9 456.5 317.2 456.7 317.4 456.8 317.7 455.0 317.9 454.7 318.2 453.7 318.4 451.8 318.7 455.3 318.9 457.0 319.2 452.8 319.4 452.2 319.7 453.8 319.9 451.7 320.2 452.2 320.4 453.1 320.7 454.3 320.9 451.9 321.2 449.2 321.4 450.5 321.7 448.3 321.9 449.7 322.2 454.2 322.4 451.5 322.7 449.4 322.9 449.5 323.2 449.1 323.4 448.3 323.7 448.8 323.9 447.9 324.2 448.4 324.4 450.2 324.7 451.5 324.9 448.6 325.2 445.1 325.4 445.5 325.7 445.2 325.9 447.3 326.2 446.1 326.4 443.5 326.7 442.2 326.9 444.3 327.2 448.1 327.4 449.2 327.7 447.4 327.9 444.4 328.2 443.7 328.4 442.9 328.7 441.1 328.9 444.4 329.2 446.0 329.4 444.9 329.7 444.8 329.9 446.0 330.2 448.2 330.4 445.3 330.7 442.9 330.9 443.0 331.2 445.1 331.4 447.6 331.7 445.5 331.9 446.9 332.2 447.3 332.4 442.6 332.7 439.9 332.9 441.4 333.2 444.6 333.4 444.1 333.7 444.2 333.9 446.7 334.2 446.2 334.4 445.9 334.7 448.3 334.9 448.0 335.2 445.1 335.4 445.2 335.7 446.8 335.9 449.3 336.2 448.2 336.4 443.4 336.7 444.6 336.9 447.3 337.2 446.5 337.4 447.0 337.7 448.2 337.9 449.2 338.2 447.9 338.4 445.5 338.7 446.8 338.9 447.2 339.2 449.1 339.4 450.7 339.7 449.2 339.9 450.6 340.2 451.5 340.5 450.9 340.7 451.5 341.0 450.1 341.2 449.0 341.5 449.3 341.7 448.2 342.0 447.8 342.2 450.5 342.5 451.5 342.7 449.3 343.0 452.1 343.2 452.1 343.5 449.9 343.7 452.4 344.0 453.4 344.2 451.4 344.5 449.9 344.7 450.9 345.0 452.6 345.2 453.5 345.5 452.6 345.7 453.0 346.0 455.2 346.2 455.5 346.5 454.2 346.7 452.2 347.0 452.1 347.2 451.8 347.5 452.3 347.7 454.3 348.0 452.0 348.2 450.4 348.5 451.6 348.7 453.4 349.0 452.9 349.2 452.5 349.5 452.9 349.7 452.8 350.0 453.0 350.2 454.2 350.5 456.3 350.7 456.9 351.0 454.5 351.2 456.0 351.5 458.4 351.7 456.0 352.0 455.9 352.2 455.6 352.5 453.3 352.7 453.2 353.0 456.4 353.2 457.6 353.5 456.0 353.7 455.9 354.0 455.1 354.2 455.7 354.5 457.2 354.7 459.2 355.0 457.2 355.2 456.7 355.5 458.7 355.7 454.4 356.0 454.8 356.2 459.3 356.5 459.4 356.7 457.6 357.0 456.4 357.2 453.4 357.5 453.6 357.7 456.4 358.0 454.7 358.2 454.6 358.5 454.9 358.7 457.6 359.0 456.7 359.2 452.4 359.5 451.0 359.7 451.6 360.0 454.4 360.2 454.8 360.5 453.7 360.7 454.7 361.0 455.7 361.2 455.9 361.5 455.3 361.7 451.2 362.0 451.0 362.2 451.8 362.5 452.9 362.7 453.3 363.0 451.7 363.2 452.3 363.5 450.4 363.7 449.8 364.0 452.8 364.2 452.4 364.5 450.8 364.7 451.6 365.0 450.8 365.2 450.0 365.5 451.3 365.7 451.1 366.0 450.4 366.2 450.6 366.5 449.0 366.7 447.3 367.0 451.1 367.2 454.5 367.5 451.5 367.7 450.7 368.0 452.2 368.2 452.0 368.5 449.9 368.7 446.5 369.0 445.1 369.2 446.5 369.5 449.7 369.8 451.9 370.0 449.6 370.3 446.9 370.5 448.6 370.8 451.6 371.0 448.6 371.3 446.4 371.5 447.6 371.8 446.4 372.0 445.6 372.3 445.5 372.5 445.7 372.8 444.0 373.0 443.9 373.3 446.9 373.5 447.8 373.8 447.7 374.0 447.1 374.3 446.2 374.5 448.3 374.8 447.8 375.0 445.5 375.3 447.4 375.5 447.2 375.8 443.9 376.0 443.1 376.3 444.3 376.5 444.9 376.8 445.0 377.0 446.6 377.3 448.2 377.5 447.6 377.8 446.3 378.0 447.1 378.3 449.0 378.5 450.7 378.8 448.7 379.0 445.8 379.3 448.6 379.5 447.5 379.8 446.1 380.0 448.0 380.3 447.9 380.5 446.5 380.8 446.6 381.0 446.0 381.3 447.7 381.5 449.2 381.8 447.9 382.0 448.7 382.3 448.9 382.5 449.2 382.8 449.6 383.0 449.1 383.3 448.7 383.5 447.8 383.8 446.5 384.0 446.9 384.3 447.0 384.5 446.4 384.8 447.0 385.0 449.8 385.3 451.2 385.5 449.9 385.8 449.9 386.0 451.0 386.3 454.2 386.5 451.7 386.8 448.6 387.0 449.1 387.3 450.5 387.5 452.1 387.8 451.1 388.0 451.8 388.3 452.2 388.5 448.2 388.8 445.8 389.0 449.9 389.3 449.8 389.5 450.5 389.8 453.9 390.0 451.6 390.3 449.5 390.5 452.1 390.8 455.2 391.0 455.8 391.3 454.5 391.5 452.1 391.8 451.2 392.0 452.6 392.3 451.9 392.5 452.4 392.8 452.8 393.0 451.8 393.3 455.1 393.5 455.5 393.8 455.3 394.0 455.1 394.3 452.6 394.5 451.5 394.8 450.9 395.0 454.7 395.3 455.6 395.5 450.9 395.8 452.9 396.0 454.4 396.3 452.0 396.5 453.2 396.8 451.3 397.0 453.5 397.3 457.7 397.5 455.3 397.8 454.1 398.0 454.2 398.3 453.0 398.5 453.1 398.8 452.0 399.0 451.9 399.3 453.1 399.6 456.2 399.8 455.0 400.1 454.2 400.3 457.1 400.6 455.6 400.8 453.9 401.1 456.1 401.3 458.9 401.6 456.4 401.8 454.3 402.1 454.6 402.3 457.3 402.6 455.8 402.8 453.5 403.1 456.2 403.3 454.2 403.6 452.6 403.8 455.9 404.1 455.4 404.3 453.7 404.6 452.2 404.8 452.8 405.1 453.2 405.3 452.1 405.6 454.1 405.8 453.8 406.1 454.4 406.3 456.0 406.6 455.4 406.8 455.7 407.1 454.7 407.3 450.5 407.6 451.8 407.8 455.6 408.1 453.7 408.3 451.5 408.6 453.5 408.8 453.9 409.1 451.8 409.3 451.7 409.6 455.2 409.8 454.8 410.1 448.2 410.3 448.8 410.6 450.8 410.8 448.5 411.1 449.9 411.3 451.4 411.6 452.3 411.8 452.4 412.1 452.8 412.3 454.4 412.6 452.8 412.8 452.5 413.1 454.8 413.3 454.6 413.6 450.3 413.8 449.5 414.1 451.6 414.3 453.1 414.6 452.7 414.8 452.5 415.1 452.5 415.3 451.1 415.6 450.9 415.8 450.9 416.1 451.1 416.3 451.5 416.6 450.7 416.8 448.9 417.1 449.8 417.3 451.4 417.6 451.0 417.8 451.4 418.1 452.4 418.3 454.1 418.6 451.8 418.8 452.2 419.1 451.1 419.3 446.2 419.6 449.7 419.8 450.8 420.1 450.1 420.3 450.8 420.6 449.5 420.8 448.3 421.1 449.6 421.3 451.9 421.6 453.3 421.8 453.1 422.1 451.9 422.3 453.3 422.6 451.0 422.8 449.5 423.1 454.1 423.3 456.2 423.6 456.2 423.8 456.0 424.1 455.8 424.3 454.3 424.6 450.1 424.8 449.3 425.1 452.0 425.3 454.8 425.6 454.6 425.8 452.2 426.1 453.7 426.3 452.9 426.6 452.2 426.8 454.2 427.1 453.8 427.3 453.1 427.6 451.2 427.8 449.7 428.1 451.8 428.3 455.0 428.6 454.7 428.9 452.0 429.1 451.8 429.4 453.9 429.6 453.2 429.9 452.6 430.1 454.1 430.4 454.0 430.6 453.6 430.9 453.7 431.1 456.6 431.4 456.2 431.6 453.8 431.9 450.9 432.1 452.2 432.4 454.9 432.6 454.8 432.9 455.9 433.1 454.4 433.4 453.5 433.6 452.9 433.9 456.4 434.1 459.5 434.4 458.1 434.6 458.5 434.9 459.3 435.1 458.9 435.4 458.5 435.6 460.7 435.9 457.2 436.1 454.3 436.4 455.8 436.6 455.6 436.9 453.2 437.1 451.8 437.4 456.2 437.6 456.0 437.9 455.7 438.1 456.3 438.4 455.4 438.6 454.5 438.9 453.9 439.1 453.9 439.4 455.5 439.6 455.2 439.9 454.9 440.1 456.5 440.4 455.8 440.6 458.5 440.9 458.4 441.1 455.6 441.4 456.0 441.6 457.8 441.9 457.0 442.1 458.3 442.4 459.3 442.6 456.6 442.9 455.5 443.1 455.7 443.4 457.3 443.6 458.9 443.9 458.2 444.1 456.1 444.4 455.9 444.6 453.9 444.9 455.4 445.1 459.2 445.4 457.5 445.6 457.3 445.9 456.3 446.1 457.7 446.4 458.9 446.6 455.9 446.9 458.9 447.1 458.3 447.4 456.2 447.6 456.4 447.9 455.1 448.1 455.9 448.4 455.8 448.6 458.1 448.9 460.3 449.1 457.6 449.4 459.3 449.6 460.0 449.9 456.5 450.1 457.1 450.4 455.9 450.6 457.1 450.9 457.3 451.1 453.8 451.4 456.4 451.6 456.8 451.9 455.0 452.1 454.5 452.4 454.2 452.6 455.9 452.9 453.3 453.1 453.0 453.4 455.0 453.6 456.9 453.9 460.6 454.1 459.4 454.4 457.5 454.6 458.2 454.9 458.8 455.1 455.5 455.4 452.3 455.6 453.5 455.9 453.3 456.1 453.5 456.4 455.4 456.6 454.8 456.9 455.3 457.1 458.2 457.4 457.6 457.6 456.3 457.9 456.2 458.2 455.5 458.4 454.8 458.7 453.5 458.9 454.9 459.2 457.8 459.4 457.0 459.7 455.7 459.9 453.9 460.2 453.5 460.4 455.6 460.7 455.8 460.9 455.5 461.2 454.3 461.4 452.5 461.7 453.5 461.9 457.1 462.2 457.0 462.4 453.0 462.7 452.7 462.9 454.4 463.2 456.8 463.4 458.5 463.7 455.9 463.9 453.1 464.2 453.8 464.4 455.1 464.7 454.2 464.9 455.4 465.2 456.1 465.4 455.2 465.7 455.5 465.9 455.9 466.2 456.0 466.4 455.6 466.7 457.4 466.9 457.3 467.2 457.6 467.4 455.7 467.7 453.5 467.9 453.8 468.2 452.2 468.4 453.5 468.7 457.8 468.9 458.2 469.2 457.0 469.4 454.2 469.7 453.2 469.9 454.2 470.2 454.1 470.4 457.0 470.7 456.0 470.9 456.1 471.2 455.7 471.4 454.4 471.7 454.6 471.9 454.5 472.2 455.1 472.4 452.2 472.7 451.9 472.9 454.1 473.2 456.7 473.4 454.1 473.7 452.0 473.9 456.3 474.2 458.7 474.4 459.3 474.7 456.8 474.9 457.0 475.2 456.9 475.4 454.7 475.7 454.5 475.9 454.2 476.2 456.7 476.4 455.0 476.7 451.0 476.9 454.4 477.2 457.0 477.4 456.9 477.7 455.9 477.9 455.7 478.2 455.7 478.4 454.2 478.7 453.9 478.9 454.8 479.2 455.5 479.4 454.8 479.7 456.8 479.9 457.9 480.2 455.4 480.4 453.1 480.7 453.5 480.9 453.1 481.2 452.1 481.4 452.7 481.7 452.8 481.9 454.5 482.2 451.5 482.4 453.2 482.7 458.0 482.9 455.5 483.2 454.2 483.4 455.7 483.7 456.4 483.9 457.8 484.2 457.8 484.4 454.3 484.7 452.7 484.9 453.8 485.2 457.1 485.4 455.7 485.7 456.0 485.9 458.8 486.2 456.8 486.4 457.4 486.7 455.6 486.9 451.1 487.2 453.8" fill="none" stroke="#858585" stroke-width="0.75" stroke-linejoin="round"/>
<path d="M286.9 459.5 L287.1 457.0 287.4 457.0 287.6 456.6 287.9 452.0 288.1 444.9 288.4 436.9 288.6 431.3 288.9 430.0 289.1 430.5" fill="none" stroke="#999" stroke-width="0.7" stroke-linejoin="round"/>
</g>
<rect x="281.6" y="414.2" width="205.9" height="83.0" fill="none" stroke="#555" stroke-width="0.7"/>
<path d="M281.6 422.5 h2.2 M487.5 422.5 h-2.2" stroke="#555" stroke-width="0.6"/>
<text x="278.2" y="425.3" font-size="7.9" text-anchor="end" font-weight="normal" fill="#1a1a1a" stroke="#1a1a1a" stroke-width="0.2" >70</text>
<path d="M281.6 439.1 h2.2 M487.5 439.1 h-2.2" stroke="#555" stroke-width="0.6"/>
<text x="278.2" y="441.9" font-size="7.9" text-anchor="end" font-weight="normal" fill="#1a1a1a" stroke="#1a1a1a" stroke-width="0.2" >60</text>
<path d="M281.6 455.7 h2.2 M487.5 455.7 h-2.2" stroke="#555" stroke-width="0.6"/>
<text x="278.2" y="458.5" font-size="7.9" text-anchor="end" font-weight="normal" fill="#1a1a1a" stroke="#1a1a1a" stroke-width="0.2" >50</text>
<path d="M281.6 472.3 h2.2 M487.5 472.3 h-2.2" stroke="#555" stroke-width="0.6"/>
<text x="278.2" y="475.1" font-size="7.9" text-anchor="end" font-weight="normal" fill="#1a1a1a" stroke="#1a1a1a" stroke-width="0.2" >40</text>
<path d="M281.6 488.9 h2.2 M487.5 488.9 h-2.2" stroke="#555" stroke-width="0.6"/>
<text x="278.2" y="491.7" font-size="7.9" text-anchor="end" font-weight="normal" fill="#1a1a1a" stroke="#1a1a1a" stroke-width="0.2" >0</text>
<path d="M288.5 497.2 v-2.2 M288.5 414.2 v2.2" stroke="#555" stroke-width="0.6"/>
<text x="288.5" y="506.8" font-size="7.9" text-anchor="middle" font-weight="normal" fill="#1a1a1a" stroke="#1a1a1a" stroke-width="0.2" >0</text>
<path d="M339.6 497.2 v-2.2 M339.6 414.2 v2.2" stroke="#555" stroke-width="0.6"/>
<text x="339.6" y="506.8" font-size="7.9" text-anchor="middle" font-weight="normal" fill="#1a1a1a" stroke="#1a1a1a" stroke-width="0.2" >100</text>
<path d="M390.8 497.2 v-2.2 M390.8 414.2 v2.2" stroke="#555" stroke-width="0.6"/>
<text x="390.8" y="506.8" font-size="7.9" text-anchor="middle" font-weight="normal" fill="#1a1a1a" stroke="#1a1a1a" stroke-width="0.2" >200</text>
<path d="M441.9 497.2 v-2.2 M441.9 414.2 v2.2" stroke="#555" stroke-width="0.6"/>
<text x="441.9" y="506.8" font-size="7.9" text-anchor="middle" font-weight="normal" fill="#1a1a1a" stroke="#1a1a1a" stroke-width="0.2" >300</text>
<path d="M286.4 497.8 L288.5 494.6 L290.6 497.8 Z" fill="#111"/>
<text x="383.3" y="517.0" font-size="7.9" text-anchor="middle" font-weight="normal" fill="#1a1a1a" stroke="#1a1a1a" stroke-width="0.2" >Time (ms)</text>
<text x="0" y="0" font-size="7.9" text-anchor="middle" fill="#222" stroke="#222" stroke-width="0.2" transform="translate(263.2 455.7) rotate(-90)">Stimulus (µA)</text>
<text x="384.5" y="409.2" font-size="7.9" text-anchor="middle" font-weight="bold" fill="#111" stroke="#111" stroke-width="0" >0.5 ms</text>
<line x1="460.6" y1="421.0" x2="460.6" y2="436.2" stroke="#333" stroke-width="0.7"/>
<text x="465.6" y="429.2" font-size="7.9" text-anchor="start" font-weight="normal" fill="#111" stroke="#111" stroke-width="0.2" >1 mV</text>
<text x="455.5" y="470.5" font-size="7.9" text-anchor="start" font-weight="normal" fill="#999" stroke="#999" stroke-width="0.2" >70 µA</text>
<rect x="499.3" y="414.2" width="16.4" height="83.8" fill="url(#cb)" stroke="#444" stroke-width="0.6"/>
<path d="M515.7 426.2 h-1.8 M499.3 426.2 h1.8" stroke="#444" stroke-width="0.5"/>
<text x="517.2" y="429.0" font-size="7.9" text-anchor="start" font-weight="normal" fill="#1a1a1a" stroke="#1a1a1a" stroke-width="0.2" >2</text>
<path d="M515.7 441.6 h-1.8 M499.3 441.6 h1.8" stroke="#444" stroke-width="0.5"/>
<text x="517.2" y="444.4" font-size="7.9" text-anchor="start" font-weight="normal" fill="#1a1a1a" stroke="#1a1a1a" stroke-width="0.2" >1</text>
<path d="M515.7 456.8 h-1.8 M499.3 456.8 h1.8" stroke="#444" stroke-width="0.5"/>
<text x="517.2" y="459.6" font-size="7.9" text-anchor="start" font-weight="normal" fill="#1a1a1a" stroke="#1a1a1a" stroke-width="0.2" >0</text>
<path d="M515.7 472.4 h-1.8 M499.3 472.4 h1.8" stroke="#444" stroke-width="0.5"/>
<text x="517.2" y="475.2" font-size="7.9" text-anchor="start" font-weight="normal" fill="#1a1a1a" stroke="#1a1a1a" stroke-width="0.2" >−1</text>
<path d="M515.7 488.0 h-1.8 M499.3 488.0 h1.8" stroke="#444" stroke-width="0.5"/>
<text x="517.2" y="490.8" font-size="7.9" text-anchor="start" font-weight="normal" fill="#1a1a1a" stroke="#1a1a1a" stroke-width="0.2" >−2</text>
<text x="489.3" y="507.5" font-size="7.9" fill="#222" stroke="#222" stroke-width="0.2">Mean ΔV<tspan font-size="6.0" dy="2.8">m</tspan></text>
<rect x="281.6" y="543.3" width="7.4" height="83.8" fill="#f3f4f6"/>
<clipPath id="hc4"><rect x="281.6" y="543.3" width="205.9" height="83.8"/></clipPath><g clip-path="url(#hc4)">
<g transform="translate(0 543.30) scale(1 17.06)" stroke-width="2.25">
<path d="M290.12 0v1" stroke="#fbf8f4"/>
<path d="M292.12 0v1" stroke="#e47830"/>
<path d="M294.12 0v1" stroke="#e57231"/>
<path d="M296.12 0v1" stroke="#e36a2f"/>
<path d="M298.12 0v1" stroke="#e1612c"/>
<path d="M300.12 0v1" stroke="#dc5426"/>
<path d="M302.12 0v1" stroke="#d94822"/>
<path d="M304.12 0v1" stroke="#d94924"/>
<path d="M306.12 0v1" stroke="#db4821"/>
<path d="M308.12 0v1" stroke="#db4922"/>
<path d="M310.12 0v1" stroke="#dd502a"/>
<path d="M312.12 0v1" stroke="#da4c25"/>
<path d="M314.12 0v1" stroke="#dc4920"/>
<path d="M316.12 0v1" stroke="#d84921"/>
<path d="M318.12 0v1" stroke="#db4e26"/>
<path d="M320.12 0v1" stroke="#db4c24"/>
<path d="M322.12 0v1" stroke="#da4e26"/>
<path d="M324.12 0v1" stroke="#db5029"/>
<path d="M326.12 0v1" stroke="#db4b21"/>
<path d="M328.12 0v1" stroke="#dd4e24"/>
<path d="M330.12 0v1" stroke="#dc5027"/>
<path d="M332.12 0v1" stroke="#de572a"/>
<path d="M334.12 0v1" stroke="#dd5626"/>
<path d="M336.12 0v1" stroke="#e1602c"/>
<path d="M338.12 0v1" stroke="#e05d24"/>
<path d="M340.12 0v1" stroke="#e3682a"/>
<path d="M342.12 0v1" stroke="#e26e2c"/>
<path d="M344.12 0v1" stroke="#e5762e"/>
<path d="M346.12 0v1" stroke="#e87c2b"/>
<path d="M348.12 0v1" stroke="#ea832d"/>
<path d="M350.12 0v1" stroke="#e9882c"/>
<path d="M352.12 0v1" stroke="#eb892c"/>
<path d="M354.12 0v1" stroke="#e98b2f"/>
<path d="M356.12 0v1" stroke="#eb8e30"/>
<path d="M358.12 0v1" stroke="#eb8c2b"/>
<path d="M360.12 0v1" stroke="#eb8e2c"/>
<path d="M362.12 0v1" stroke="#eb8e2b"/>
<path d="M364.12 0v1" stroke="#ec8e29"/>
<path d="M366.12 0v1" stroke="#ef9531"/>
<path d="M368.12 0v1" stroke="#ed9735"/>
<path d="M370.12 0v1" stroke="#ec942e"/>
<path d="M372.12 0v1" stroke="#f0972f"/>
<path d="M374.12 0v1" stroke="#ee972d"/>
<path d="M376.12 0v1" stroke="#f0972a"/>
<path d="M378.12 0v1" stroke="#f09a30"/>
<path d="M380.12 0v1" stroke="#f19d31"/>
<path d="M382.12 0v1" stroke="#ee9a2c"/>
<path d="M384.12 0v1" stroke="#f19c2d"/>
<path d="M386.12 0v1" stroke="#ee9a2b"/>
<path d="M388.12 0v1" stroke="#ef9e32"/>
<path d="M390.12 0v1" stroke="#f09e2e"/>
<path d="M392.12 0v1" stroke="#f09c28"/>
<path d="M394.12 0v1" stroke="#f3a12e"/>
<path d="M396.12 0v1" stroke="#f29d25"/>
<path d="M398.12 0v1" stroke="#f3a22f"/>
<path d="M400.12 0v1" stroke="#f2a029"/>
<path d="M402.12 0v1" stroke="#f2a22d"/>
<path d="M404.12 0v1" stroke="#f4a839"/>
<path d="M406.12 0v1" stroke="#f09f29"/>
<path d="M408.12 0v1" stroke="#f4a32d"/>
<path d="M410.12 0v1" stroke="#f3a839"/>
<path d="M412.12 0v1" stroke="#f1a331"/>
<path d="M414.12 0v1" stroke="#f0a332"/>
<path d="M416.12 0v1" stroke="#f1a12a"/>
<path d="M418.12 0v1" stroke="#f2a129"/>
<path d="M420.12 0v1" stroke="#f1a432"/>
<path d="M422.12 0v1" stroke="#f1a433"/>
<path d="M424.12 0v1" stroke="#f5a732"/>
<path d="M426.12 0v1" stroke="#f4a42d"/>
<path d="M428.12 0v1" stroke="#f3a229"/>
<path d="M430.12 0v1" stroke="#f4a630"/>
<path d="M432.12 0v1" stroke="#f3a733"/>
<path d="M434.12 0v1" stroke="#f2a939"/>
<path d="M436.12 0v1" stroke="#f5ab3a"/>
<path d="M438.12 0v1" stroke="#f5a935"/>
<path d="M440.12 0v1" stroke="#f5a934"/>
<path d="M442.12 0v1" stroke="#f5ac3c"/>
<path d="M444.12 0v1" stroke="#f5ab37"/>
<path d="M446.12 0v1" stroke="#f3ad40"/>
<path d="M448.12 0v1" stroke="#f2a834"/>
<path d="M450.12 0v1" stroke="#f5ae3e"/>
<path d="M452.12 0v1" stroke="#f2ad40"/>
<path d="M454.12 0v1" stroke="#f1a62e"/>
<path d="M456.12 0v1" stroke="#f3ae3d"/>
<path d="M458.12 0v1" stroke="#f5b954"/>
<path d="M460.12 0v1" stroke="#f6c165"/>
<path d="M462.12 0v1" stroke="#f6c167"/>
<path d="M464.12 0v1" stroke="#f7c267"/>
<path d="M466.12 0v1" stroke="#f6c064"/>
<path d="M468.12 0v1" stroke="#f5c36d"/>
<path d="M470.12 0v1" stroke="#f4bb58"/>
<path d="M472.12 0v1" stroke="#f7c161"/>
<path d="M474.12 0v1" stroke="#f7c46c"/>
<path d="M476.12 0v1" stroke="#f8c56c"/>
<path d="M478.12 0v1" stroke="#f7c368"/>
<path d="M480.12 0v1" stroke="#f6c46d"/>
<path d="M482.12 0v1" stroke="#f4be5e"/>
<path d="M484.12 0v1" stroke="#f5c26a"/>
<path d="M486.12 0v1" stroke="#f8c56c"/>
<path d="M488.12 0v1" stroke="#f5c36a"/>
</g>
<g transform="translate(0 560.06) scale(1 17.06)" stroke-width="2.25">
<path d="M290.12 0v1" stroke="#fbf9f5"/>
<path d="M292.12 0v1" stroke="#ec902d"/>
<path d="M294.12 0v1" stroke="#ef9331"/>
<path d="M296.12 0v1" stroke="#ee912f"/>
<path d="M298.12 0v1" stroke="#ef912f"/>
<path d="M300.12 0v1" stroke="#ec8c28"/>
<path d="M302.12 0v1" stroke="#ec8c29"/>
<path d="M304.12 0v1" stroke="#ec8e2d"/>
<path d="M306.12 0v1" stroke="#ee8e2b"/>
<path d="M308.12 0v1" stroke="#ee8d29"/>
<path d="M310.12 0v1" stroke="#ee9031"/>
<path d="M312.12 0v1" stroke="#eb8c2b"/>
<path d="M314.12 0v1" stroke="#ee8d2b"/>
<path d="M316.12 0v1" stroke="#ea8929"/>
<path d="M318.12 0v1" stroke="#ed8c2c"/>
<path d="M320.12 0v1" stroke="#ec8b2c"/>
<path d="M322.12 0v1" stroke="#eb8a2b"/>
<path d="M324.12 0v1" stroke="#eb8b2d"/>
<path d="M326.12 0v1" stroke="#ec8827"/>
<path d="M328.12 0v1" stroke="#ee8b2b"/>
<path d="M330.12 0v1" stroke="#eb8727"/>
<path d="M332.12 0v1" stroke="#ec882a"/>
<path d="M334.12 0v1" stroke="#ea8426"/>
<path d="M336.12 0v1" stroke="#ec872b"/>
<path d="M338.12 0v1" stroke="#e98125"/>
<path d="M340.12 0v1" stroke="#ea8126"/>
<path d="M342.12 0v1" stroke="#e68029"/>
<path d="M344.12 0v1" stroke="#e87f28"/>
<path d="M346.12 0v1" stroke="#e97f26"/>
<path d="M348.12 0v1" stroke="#e98026"/>
<path d="M350.12 0v1" stroke="#e77f23"/>
<path d="M352.12 0v1" stroke="#e98327"/>
<path d="M354.12 0v1" stroke="#e7852a"/>
<path d="M356.12 0v1" stroke="#e98729"/>
<path d="M358.12 0v1" stroke="#e98726"/>
<path d="M360.12 0v1" stroke="#eb8f2f"/>
<path d="M362.12 0v1" stroke="#ec9636"/>
<path d="M364.12 0v1" stroke="#ef9a35"/>
<path d="M366.12 0v1" stroke="#f3a543"/>
<path d="M368.12 0v1" stroke="#f0aa4f"/>
<path d="M370.12 0v1" stroke="#f0a646"/>
<path d="M372.12 0v1" stroke="#f4ae52"/>
<path d="M374.12 0v1" stroke="#f2ab4d"/>
<path d="M376.12 0v1" stroke="#f3aa47"/>
<path d="M378.12 0v1" stroke="#f3b35b"/>
<path d="M380.12 0v1" stroke="#f4b761"/>
<path d="M382.12 0v1" stroke="#f2b35b"/>
<path d="M384.12 0v1" stroke="#f4b55b"/>
<path d="M386.12 0v1" stroke="#f2ba6a"/>
<path d="M388.12 0v1" stroke="#f4c889"/>
<path d="M390.12 0v1" stroke="#f6d099"/>
<path d="M392.12 0v1" stroke="#f5d19c"/>
<path d="M394.12 0v1" stroke="#f9d9ab"/>
<path d="M396.12 0v1" stroke="#f9d9aa"/>
<path d="M398.12 0v1" stroke="#f9e1bc"/>
<path d="M400.12 0v1" stroke="#f8dcb2"/>
<path d="M402.12 0v1" stroke="#f9e2be"/>
<path d="M404.12 0v1" stroke="#fbe6c7"/>
<path d="M406.12 0v1" stroke="#f7ddb6"/>
<path d="M408.12 0v1" stroke="#fae1bb"/>
<path d="M410.12 0v1" stroke="#fae7ca"/>
<path d="M412.12 0v1" stroke="#f7e3c2"/>
<path d="M414.12 0v1" stroke="#f7e1c0"/>
<path d="M416.12 0v1" stroke="#f8dfb8"/>
<path d="M418.12 0v1" stroke="#f9e0b9"/>
<path d="M420.12 0v1" stroke="#f8e4c4"/>
<path d="M422.12 0v1" stroke="#f7e3c5"/>
<path d="M424.12 0v1" stroke="#fbe2bb"/>
<path d="M426.12 0v1" stroke="#fae2bc"/>
<path d="M428.12 0v1" stroke="#f9e0ba"/>
<path d="M430.12 0v1" stroke="#fbe4c2"/>
<path d="M432.12 0v1" stroke="#fae5c4"/>
<path d="M434.12 0v1" stroke="#f8e5c7"/>
<path d="M436.12 0v1" stroke="#fcebd0"/>
<path d="M438.12 0v1" stroke="#fbe9cd"/>
<path d="M440.12 0v1" stroke="#fbe7c8"/>
<path d="M442.12 0v1" stroke="#fcedd7"/>
<path d="M444.12 0v1" stroke="#fceed9"/>
<path d="M446.12 0v1" stroke="#faecd8"/>
<path d="M448.12 0v1" stroke="#f8e9d2"/>
<path d="M450.12 0v1" stroke="#fceeda"/>
<path d="M452.12 0v1" stroke="#f8ead4"/>
<path d="M454.12 0v1" stroke="#f8e8d0"/>
<path d="M456.12 0v1" stroke="#f9ebd4"/>
<path d="M458.12 0v1" stroke="#faeeda"/>
<path d="M460.12 0v1" stroke="#fbefdc"/>
<path d="M462.12 0v1" stroke="#faeedb"/>
<path d="M464.12 0v1" stroke="#fcf1e0"/>
<path d="M466.12 0v1" stroke="#faeeda"/>
<path d="M468.12 0v1" stroke="#f9eddb"/>
<path d="M470.12 0v1" stroke="#f9ecd8"/>
<path d="M472.12 0v1" stroke="#fcf1e0"/>
<path d="M474.12 0v1" stroke="#fbf0de"/>
<path d="M476.12 0v1" stroke="#fcf0dd"/>
<path d="M478.12 0v1" stroke="#fcf0dd"/>
<path d="M480.12 0v1" stroke="#faefde"/>
<path d="M482.12 0v1" stroke="#faefde"/>
<path d="M484.12 0v1" stroke="#f9eede"/>
<path d="M486.12 0v1" stroke="#fdf3e4"/>
<path d="M488.12 0v1" stroke="#f9eede"/>
</g>
<g transform="translate(0 576.82) scale(1 17.06)" stroke-width="2.25">
<path d="M290.12 0v1" stroke="#fcf9f5"/>
<path d="M292.12 0v1" stroke="#f8f4ed"/>
<path d="M294.12 0v1" stroke="#f9dfb9"/>
<path d="M296.12 0v1" stroke="#f9dcb3"/>
<path d="M298.12 0v1" stroke="#f9deb6"/>
<path d="M300.12 0v1" stroke="#f6d6a8"/>
<path d="M302.12 0v1" stroke="#f7daaf"/>
<path d="M304.12 0v1" stroke="#f7dab1"/>
<path d="M306.12 0v1" stroke="#f9dbb0"/>
<path d="M308.12 0v1" stroke="#f9d8a9"/>
<path d="M310.12 0v1" stroke="#fae2bf"/>
<path d="M312.12 0v1" stroke="#f7dbb3"/>
<path d="M314.12 0v1" stroke="#f9daad"/>
<path d="M316.12 0v1" stroke="#f5d4a4"/>
<path d="M318.12 0v1" stroke="#f8ddb6"/>
<path d="M320.12 0v1" stroke="#f7dab0"/>
<path d="M322.12 0v1" stroke="#f6dab2"/>
<path d="M324.12 0v1" stroke="#f6dab2"/>
<path d="M326.12 0v1" stroke="#f8d9ad"/>
<path d="M328.12 0v1" stroke="#faddb6"/>
<path d="M330.12 0v1" stroke="#f7d7aa"/>
<path d="M332.12 0v1" stroke="#f8dbb3"/>
<path d="M334.12 0v1" stroke="#f7d7aa"/>
<path d="M336.12 0v1" stroke="#fadeb8"/>
<path d="M338.12 0v1" stroke="#f8d6a7"/>
<path d="M340.12 0v1" stroke="#f9ddb5"/>
<path d="M342.12 0v1" stroke="#f7dfbd"/>
<path d="M344.12 0v1" stroke="#f8dcb4"/>
<path d="M346.12 0v1" stroke="#fadeb6"/>
<path d="M348.12 0v1" stroke="#faddb5"/>
<path d="M350.12 0v1" stroke="#f7dbb3"/>
<path d="M352.12 0v1" stroke="#f9daaf"/>
<path d="M354.12 0v1" stroke="#f7e0bf"/>
<path d="M356.12 0v1" stroke="#f9e2c2"/>
<path d="M358.12 0v1" stroke="#f8dcb5"/>
<path d="M360.12 0v1" stroke="#f8ddb7"/>
<path d="M362.12 0v1" stroke="#f7dcb6"/>
<path d="M364.12 0v1" stroke="#f8dbb2"/>
<path d="M366.12 0v1" stroke="#fbe4c3"/>
<path d="M368.12 0v1" stroke="#f8e2c4"/>
<path d="M370.12 0v1" stroke="#f8e3c7"/>
<path d="M372.12 0v1" stroke="#fbe4c4"/>
<path d="M374.12 0v1" stroke="#f9e4c7"/>
<path d="M376.12 0v1" stroke="#fadeb6"/>
<path d="M378.12 0v1" stroke="#fae4c7"/>
<path d="M380.12 0v1" stroke="#fae3c2"/>
<path d="M382.12 0v1" stroke="#f8e1c1"/>
<path d="M384.12 0v1" stroke="#fae5c7"/>
<path d="M386.12 0v1" stroke="#f7e2c4"/>
<path d="M388.12 0v1" stroke="#f8e6cd"/>
<path d="M390.12 0v1" stroke="#f9e5c9"/>
<path d="M392.12 0v1" stroke="#f9e2c3"/>
<path d="M394.12 0v1" stroke="#fcedd7"/>
<path d="M396.12 0v1" stroke="#fce9d0"/>
<path d="M398.12 0v1" stroke="#fceedc"/>
<path d="M400.12 0v1" stroke="#fbebd5"/>
<path d="M402.12 0v1" stroke="#fbecd8"/>
<path d="M404.12 0v1" stroke="#fcf1e1"/>
<path d="M406.12 0v1" stroke="#f9ead5"/>
<path d="M408.12 0v1" stroke="#fcecd5"/>
<path d="M410.12 0v1" stroke="#fcefdd"/>
<path d="M412.12 0v1" stroke="#f9eddd"/>
<path d="M414.12 0v1" stroke="#f9eddc"/>
<path d="M416.12 0v1" stroke="#faecd8"/>
<path d="M418.12 0v1" stroke="#fbecd7"/>
<path d="M420.12 0v1" stroke="#faeedd"/>
<path d="M422.12 0v1" stroke="#f9ecda"/>
<path d="M424.12 0v1" stroke="#fdeeda"/>
<path d="M426.12 0v1" stroke="#fceedb"/>
<path d="M428.12 0v1" stroke="#fbecd8"/>
<path d="M430.12 0v1" stroke="#fcefdd"/>
<path d="M432.12 0v1" stroke="#fbeedc"/>
<path d="M434.12 0v1" stroke="#f9eddd"/>
<path d="M436.12 0v1" stroke="#fdf1e1"/>
<path d="M438.12 0v1" stroke="#fdf2e3"/>
<path d="M440.12 0v1" stroke="#fdf0df"/>
<path d="M442.12 0v1" stroke="#fdf1e1"/>
<path d="M444.12 0v1" stroke="#fdf1e2"/>
<path d="M446.12 0v1" stroke="#faefe0"/>
<path d="M448.12 0v1" stroke="#f9eddd"/>
<path d="M450.12 0v1" stroke="#fcefde"/>
<path d="M452.12 0v1" stroke="#f9edde"/>
<path d="M454.12 0v1" stroke="#f8ebd9"/>
<path d="M456.12 0v1" stroke="#faeddb"/>
<path d="M458.12 0v1" stroke="#fbf1e3"/>
<path d="M460.12 0v1" stroke="#fbf1e4"/>
<path d="M462.12 0v1" stroke="#fbf1e4"/>
<path d="M464.12 0v1" stroke="#fdf3e7"/>
<path d="M466.12 0v1" stroke="#fbf0e2"/>
<path d="M468.12 0v1" stroke="#faf0e4"/>
<path d="M470.12 0v1" stroke="#faeedf"/>
<path d="M472.12 0v1" stroke="#fdf3e7"/>
<path d="M474.12 0v1" stroke="#fcf3e7"/>
<path d="M476.12 0v1" stroke="#fdf4e8"/>
<path d="M478.12 0v1" stroke="#fdf4e8"/>
<path d="M480.12 0v1" stroke="#fbf2e8"/>
<path d="M482.12 0v1" stroke="#faf0e3"/>
<path d="M484.12 0v1" stroke="#faf0e4"/>
<path d="M486.12 0v1" stroke="#fdf4e8"/>
<path d="M488.12 0v1" stroke="#faf1e6"/>
</g>
<g transform="translate(0 593.58) scale(1 17.06)" stroke-width="2.25">
<path d="M290.12 0v1" stroke="#fafafb"/>
<path d="M292.12 0v1" stroke="#f8f8f9"/>
<path d="M294.12 0v1" stroke="#fbfbfc"/>
<path d="M296.12 0v1" stroke="#fbfbfc"/>
<path d="M298.12 0v1" stroke="#fbfbfc"/>
<path d="M300.12 0v1" stroke="#f8f8f9"/>
<path d="M302.12 0v1" stroke="#f9f9fa"/>
<path d="M304.12 0v1" stroke="#f8f8f9"/>
<path d="M306.12 0v1" stroke="#fbfbfb"/>
<path d="M308.12 0v1" stroke="#fbfbfc"/>
<path d="M310.12 0v1" stroke="#fbfbfc"/>
<path d="M312.12 0v1" stroke="#f8f8f9"/>
<path d="M314.12 0v1" stroke="#fcfcfc"/>
<path d="M316.12 0v1" stroke="#f7f7f8"/>
<path d="M318.12 0v1" stroke="#fafafb"/>
<path d="M320.12 0v1" stroke="#f9f9fa"/>
<path d="M322.12 0v1" stroke="#f8f8f8"/>
<path d="M324.12 0v1" stroke="#f9f9f9"/>
<path d="M326.12 0v1" stroke="#f9f9fa"/>
<path d="M328.12 0v1" stroke="#fbfbfc"/>
<path d="M330.12 0v1" stroke="#f9f9fa"/>
<path d="M332.12 0v1" stroke="#fafafb"/>
<path d="M334.12 0v1" stroke="#f8f8f9"/>
<path d="M336.12 0v1" stroke="#fbfbfc"/>
<path d="M338.12 0v1" stroke="#fafafb"/>
<path d="M340.12 0v1" stroke="#fbfbfc"/>
<path d="M342.12 0v1" stroke="#f8f8f8"/>
<path d="M344.12 0v1" stroke="#fafafa"/>
<path d="M346.12 0v1" stroke="#fbfbfc"/>
<path d="M348.12 0v1" stroke="#fbfbfc"/>
<path d="M350.12 0v1" stroke="#f8f8f9"/>
<path d="M352.12 0v1" stroke="#fafafb"/>
<path d="M354.12 0v1" stroke="#f8f8f9"/>
<path d="M356.12 0v1" stroke="#fafafb"/>
<path d="M358.12 0v1" stroke="#f9f9fa"/>
<path d="M360.12 0v1" stroke="#f9f9fa"/>
<path d="M362.12 0v1" stroke="#f8f8f9"/>
<path d="M364.12 0v1" stroke="#f9f9fa"/>
<path d="M366.12 0v1" stroke="#fcfcfd"/>
<path d="M368.12 0v1" stroke="#f8f8f9"/>
<path d="M370.12 0v1" stroke="#f8f8f9"/>
<path d="M372.12 0v1" stroke="#fbfbfc"/>
<path d="M374.12 0v1" stroke="#f9f9fa"/>
<path d="M376.12 0v1" stroke="#fafafb"/>
<path d="M378.12 0v1" stroke="#f9f9fa"/>
<path d="M380.12 0v1" stroke="#fafafb"/>
<path d="M382.12 0v1" stroke="#f7f7f9"/>
<path d="M384.12 0v1" stroke="#fafafb"/>
<path d="M386.12 0v1" stroke="#f7f7f8"/>
<path d="M388.12 0v1" stroke="#f7f7f8"/>
<path d="M390.12 0v1" stroke="#f9f9fa"/>
<path d="M392.12 0v1" stroke="#f8f8f9"/>
<path d="M394.12 0v1" stroke="#fbfbfc"/>
<path d="M396.12 0v1" stroke="#fafafb"/>
<path d="M398.12 0v1" stroke="#fafafb"/>
<path d="M400.12 0v1" stroke="#f9f9fa"/>
<path d="M402.12 0v1" stroke="#f9f9fa"/>
<path d="M404.12 0v1" stroke="#fbfbfc"/>
<path d="M406.12 0v1" stroke="#f7f7f8"/>
<path d="M408.12 0v1" stroke="#fafafb"/>
<path d="M410.12 0v1" stroke="#fafafb"/>
<path d="M412.12 0v1" stroke="#f8f8f9"/>
<path d="M414.12 0v1" stroke="#f7f7f8"/>
<path d="M416.12 0v1" stroke="#f8f8f9"/>
<path d="M418.12 0v1" stroke="#f9f9fa"/>
<path d="M420.12 0v1" stroke="#f8f8f9"/>
<path d="M422.12 0v1" stroke="#f7f7f8"/>
<path d="M424.12 0v1" stroke="#fbfbfc"/>
<path d="M426.12 0v1" stroke="#fafafb"/>
<path d="M428.12 0v1" stroke="#f9f9fa"/>
<path d="M430.12 0v1" stroke="#fafafb"/>
<path d="M432.12 0v1" stroke="#f9f9fb"/>
<path d="M434.12 0v1" stroke="#f8f8f9"/>
<path d="M436.12 0v1" stroke="#fbfbfc"/>
<path d="M438.12 0v1" stroke="#fbfbfc"/>
<path d="M440.12 0v1" stroke="#fbfbfc"/>
<path d="M442.12 0v1" stroke="#fbfbfc"/>
<path d="M444.12 0v1" stroke="#fbfbfc"/>
<path d="M446.12 0v1" stroke="#f8f8f9"/>
<path d="M448.12 0v1" stroke="#f7f7f9"/>
<path d="M450.12 0v1" stroke="#fafafb"/>
<path d="M452.12 0v1" stroke="#f7f7f8"/>
<path d="M454.12 0v1" stroke="#f6f6f7"/>
<path d="M456.12 0v1" stroke="#f7f7f9"/>
<path d="M458.12 0v1" stroke="#f8f8fa"/>
<path d="M460.12 0v1" stroke="#f9f9fa"/>
<path d="M462.12 0v1" stroke="#f8f8fa"/>
<path d="M464.12 0v1" stroke="#fafafc"/>
<path d="M466.12 0v1" stroke="#f8f8fa"/>
<path d="M468.12 0v1" stroke="#f7f7f8"/>
<path d="M470.12 0v1" stroke="#f7f7f8"/>
<path d="M472.12 0v1" stroke="#fafafc"/>
<path d="M474.12 0v1" stroke="#f9f9fb"/>
<path d="M476.12 0v1" stroke="#fbfbfc"/>
<path d="M478.12 0v1" stroke="#fafafb"/>
<path d="M480.12 0v1" stroke="#f9f9fa"/>
<path d="M482.12 0v1" stroke="#f7f7f9"/>
<path d="M484.12 0v1" stroke="#f7f7f9"/>
<path d="M486.12 0v1" stroke="#fbfbfc"/>
<path d="M488.12 0v1" stroke="#f7f7f9"/>
</g>
<g transform="translate(0 610.34) scale(1 17.06)" stroke-width="2.25">
<path d="M290.12 0v1" stroke="#fafafb"/>
<path d="M292.12 0v1" stroke="#f8f8f9"/>
<path d="M294.12 0v1" stroke="#fbfbfb"/>
<path d="M296.12 0v1" stroke="#fbfbfc"/>
<path d="M298.12 0v1" stroke="#fbfbfc"/>
<path d="M300.12 0v1" stroke="#f8f8f9"/>
<path d="M302.12 0v1" stroke="#f9f9fa"/>
<path d="M304.12 0v1" stroke="#f9f9fa"/>
<path d="M306.12 0v1" stroke="#fbfbfb"/>
<path d="M308.12 0v1" stroke="#fbfbfc"/>
<path d="M310.12 0v1" stroke="#fcfcfc"/>
<path d="M312.12 0v1" stroke="#f8f8f9"/>
<path d="M314.12 0v1" stroke="#fcfcfc"/>
<path d="M316.12 0v1" stroke="#f7f7f8"/>
<path d="M318.12 0v1" stroke="#fafafb"/>
<path d="M320.12 0v1" stroke="#f9f9fa"/>
<path d="M322.12 0v1" stroke="#f8f8f9"/>
<path d="M324.12 0v1" stroke="#f9f9f9"/>
<path d="M326.12 0v1" stroke="#fafafb"/>
<path d="M328.12 0v1" stroke="#fbfbfc"/>
<path d="M330.12 0v1" stroke="#fafafa"/>
<path d="M332.12 0v1" stroke="#fbfbfb"/>
<path d="M334.12 0v1" stroke="#f9f9f9"/>
<path d="M336.12 0v1" stroke="#fcfcfc"/>
<path d="M338.12 0v1" stroke="#fafafb"/>
<path d="M340.12 0v1" stroke="#fbfbfc"/>
<path d="M342.12 0v1" stroke="#f8f8f9"/>
<path d="M344.12 0v1" stroke="#fafafb"/>
<path d="M346.12 0v1" stroke="#fcfcfd"/>
<path d="M348.12 0v1" stroke="#fcfcfc"/>
<path d="M350.12 0v1" stroke="#f9f9f9"/>
<path d="M352.12 0v1" stroke="#fbfbfb"/>
<path d="M354.12 0v1" stroke="#f8f8f9"/>
<path d="M356.12 0v1" stroke="#fafafb"/>
<path d="M358.12 0v1" stroke="#f9f9fa"/>
<path d="M360.12 0v1" stroke="#f9f9fa"/>
<path d="M362.12 0v1" stroke="#f8f8f9"/>
<path d="M364.12 0v1" stroke="#f9f9fa"/>
<path d="M366.12 0v1" stroke="#fcfcfd"/>
<path d="M368.12 0v1" stroke="#f9f9fa"/>
<path d="M370.12 0v1" stroke="#f9f9f9"/>
<path d="M372.12 0v1" stroke="#fcfcfc"/>
<path d="M374.12 0v1" stroke="#f9f9fa"/>
<path d="M376.12 0v1" stroke="#fbfbfc"/>
<path d="M378.12 0v1" stroke="#fafafb"/>
<path d="M380.12 0v1" stroke="#fafafb"/>
<path d="M382.12 0v1" stroke="#f8f8f9"/>
<path d="M384.12 0v1" stroke="#fbfbfb"/>
<path d="M386.12 0v1" stroke="#f8f8f9"/>
<path d="M388.12 0v1" stroke="#f8f8f9"/>
<path d="M390.12 0v1" stroke="#f9f9fa"/>
<path d="M392.12 0v1" stroke="#f9f9f9"/>
<path d="M394.12 0v1" stroke="#fbfbfc"/>
<path d="M396.12 0v1" stroke="#fbfbfc"/>
<path d="M398.12 0v1" stroke="#fbfbfc"/>
<path d="M400.12 0v1" stroke="#fafafa"/>
<path d="M402.12 0v1" stroke="#fafafb"/>
<path d="M404.12 0v1" stroke="#fbfbfc"/>
<path d="M406.12 0v1" stroke="#f8f8f9"/>
<path d="M408.12 0v1" stroke="#fbfbfc"/>
<path d="M410.12 0v1" stroke="#fbfbfc"/>
<path d="M412.12 0v1" stroke="#f9f9f9"/>
<path d="M414.12 0v1" stroke="#f8f8f9"/>
<path d="M416.12 0v1" stroke="#f9f9fa"/>
<path d="M418.12 0v1" stroke="#fafafb"/>
<path d="M420.12 0v1" stroke="#f9f9fa"/>
<path d="M422.12 0v1" stroke="#f8f8f9"/>
<path d="M424.12 0v1" stroke="#fcfcfd"/>
<path d="M426.12 0v1" stroke="#fbfbfc"/>
<path d="M428.12 0v1" stroke="#fafafb"/>
<path d="M430.12 0v1" stroke="#fcfcfc"/>
<path d="M432.12 0v1" stroke="#fafafb"/>
<path d="M434.12 0v1" stroke="#f9f9f9"/>
<path d="M436.12 0v1" stroke="#fcfcfd"/>
<path d="M438.12 0v1" stroke="#fcfcfc"/>
<path d="M440.12 0v1" stroke="#fbfbfc"/>
<path d="M442.12 0v1" stroke="#fbfbfc"/>
<path d="M444.12 0v1" stroke="#fcfcfc"/>
<path d="M446.12 0v1" stroke="#f9f9fa"/>
<path d="M448.12 0v1" stroke="#f8f8f9"/>
<path d="M450.12 0v1" stroke="#fbfbfc"/>
<path d="M452.12 0v1" stroke="#f8f8f9"/>
<path d="M454.12 0v1" stroke="#f7f7f8"/>
<path d="M456.12 0v1" stroke="#f9f9fa"/>
<path d="M458.12 0v1" stroke="#fafafa"/>
<path d="M460.12 0v1" stroke="#fafafb"/>
<path d="M462.12 0v1" stroke="#f9f9fa"/>
<path d="M464.12 0v1" stroke="#fbfbfc"/>
<path d="M466.12 0v1" stroke="#fafafb"/>
<path d="M468.12 0v1" stroke="#f8f8f9"/>
<path d="M470.12 0v1" stroke="#f8f8f9"/>
<path d="M472.12 0v1" stroke="#fcfcfc"/>
<path d="M474.12 0v1" stroke="#fbfbfc"/>
<path d="M476.12 0v1" stroke="#fcfcfd"/>
<path d="M478.12 0v1" stroke="#fbfbfc"/>
<path d="M480.12 0v1" stroke="#fafafa"/>
<path d="M482.12 0v1" stroke="#f9f9fa"/>
<path d="M484.12 0v1" stroke="#f9f9f9"/>
<path d="M486.12 0v1" stroke="#fcfcfc"/>
<path d="M488.12 0v1" stroke="#f9f9fa"/>
</g>
</g>
<line x1="288.6" y1="543.3" x2="288.6" y2="627.1" stroke="#9a9a9a" stroke-width="1.1"/>
<g clip-path="url(#hc4)">
<path d="M281.6 600.6 282.3 600.4 282.9 600.2 283.6 599.5 284.3 599.4 284.9 599.3 285.6 599.4 M297.0 556.0 L297.7 553.6 298.3 551.2 299.0 548.6 299.7 546.5 300.4 545.1 301.0 544.3 301.7 543.9 302.4 544.5 303.0 544.7 303.7 544.4 304.4 544.9 305.0 545.2 305.7 545.7 306.4 546.2 307.0 546.8 307.7 548.2 308.4 549.0 309.1 550.2 309.7 551.4 310.4 551.8 311.1 552.5 311.7 553.3 312.4 553.9 313.1 554.6 313.7 554.9 314.4 555.3 315.1 555.4 315.8 555.6 316.4 555.8 317.1 556.0 317.8 556.0 318.4 556.4 319.1 556.9 319.8 556.4 320.4 556.7 321.1 556.6 321.8 556.6 322.5 556.5 323.1 557.2 323.8 557.2 324.5 557.2 325.1 557.7 325.8 558.1 326.5 558.0 327.1 558.3 327.8 558.7 328.5 559.4 329.1 560.3 329.8 560.3 330.5 561.2 331.2 561.3 331.8 561.9 332.5 562.7 333.2 563.4 333.8 564.4 334.5 565.5 335.2 566.2 335.8 566.8 336.5 567.7 337.2 568.6 337.9 569.4 338.5 570.2 339.2 571.4 339.9 571.7 340.5 572.8 341.2 573.2 341.9 574.0 342.5 574.4 343.2 575.4 343.9 576.0 344.6 576.6 345.2 577.0 345.9 577.8 346.6 578.0 347.2 578.5 347.9 579.3 348.6 579.7 349.2 580.0 349.9 580.5 350.6 581.1 351.2 581.0 351.9 581.6 352.6 582.1 353.3 582.0 353.9 582.7 354.6 583.3 355.3 583.2 355.9 583.6 356.6 583.6 357.3 584.0 357.9 584.1 358.6 584.1 359.3 584.0 360.0 583.4 360.6 583.4 361.3 582.9 362.0 582.1 362.6 581.6 363.3 580.8 364.0 580.2 364.6 579.6 365.3 579.0 366.0 578.4 366.7 577.6 367.3 577.3 368.0 576.9 368.7 576.6 369.3 576.3 370.0 575.9 370.7 575.7 371.3 575.3 372.0 575.4 372.7 574.8 373.3 574.6 374.0 574.5 374.7 574.2 375.4 574.0 376.0 574.0 376.7 574.2 377.4 573.5 378.0 573.4 378.7 573.1 379.4 573.0 380.0 572.6 380.7 571.9 381.4 571.7 382.1 571.7 382.7 571.2 383.4 570.5 384.1 570.3 384.7 570.3 385.4 570.2 386.1 570.4 386.7 570.5 387.4 570.5 388.1 570.9 388.8 571.2 389.4 571.4 390.1 571.2 390.8 572.2 391.4 572.3 392.1 572.6 392.8 573.0 393.4 573.2 394.1 573.6 394.8 574.0 395.5 574.5 396.1 574.8 396.8 574.7 397.5 575.3 398.1 575.5 398.8 575.6 399.5 575.9 400.1 576.1 400.8 576.2 401.5 576.4 402.1 576.5 402.8 576.8 403.5 576.8 404.2 577.0 404.8 577.4 405.5 577.5 406.2 577.5 406.8 577.7 407.5 577.8 408.2 577.8 408.8 578.1 409.5 578.0 410.2 578.2 410.9 578.0 411.5 578.1 412.2 578.2 412.9 578.0 413.5 578.4 414.2 578.5 414.9 578.5 415.5 578.4 416.2 578.5 416.9 578.2 417.6 578.3 418.2 578.2 418.9 578.5 419.6 578.5 420.2 578.5 420.9 578.4 421.6 578.8 422.2 578.9 422.9 578.9 423.6 578.5 424.2 578.9 424.9 578.8 425.6 578.9 426.3 579.1 426.9 578.8 427.6 579.1 428.3 579.1 428.9 579.2 429.6 579.3 430.3 579.3 430.9 579.6 431.6 579.7 432.3 580.1 433.0 580.5 433.6 580.4 434.3 580.5 435.0 581.4 435.6 581.2 436.3 581.7 437.0 581.9 437.6 582.7 438.3 583.3 439.0 583.1 439.7 583.6 440.3 583.9 441.0 584.3 441.7 584.8 442.3 585.2 443.0 585.1 443.7 585.4 444.3 585.4 445.0 585.3 445.7 585.4 446.3 585.2 447.0 585.3 447.7 585.4 448.4 584.9 449.0 584.8 449.7 584.9 450.4 584.3 451.0 584.3 451.7 584.1 452.4 583.5 453.0 583.3 453.7 582.8 454.4 582.9 455.1 582.4 455.7 581.9 456.4 582.1 457.1 581.4 457.7 580.9 458.4 580.7 459.1 580.4 459.7 580.2 460.4 579.9 461.1 579.9 461.8 579.3 462.4 579.6 463.1 579.3 463.8 579.5 464.4 579.2 465.1 579.5 465.8 579.3 466.4 579.4 467.1 579.8 467.8 579.7 468.4 579.5 469.1 579.6 469.8 579.8 470.5 579.7 471.1 580.0 471.8 580.4 472.5 580.3 473.1 580.5 473.8 580.5 474.5 580.5 475.1 581.0 475.8 580.9 476.5 581.0 477.2 581.3 477.8 581.4 478.5 581.3 479.2 581.8 479.8 581.7 480.5 582.1 481.2 582.1 481.8 582.6 482.5 582.8 483.2 583.2 483.9 583.6 484.5 584.1 485.2 584.4 485.9 584.8 486.5 585.2 487.2 585.6" fill="none" stroke="#9c9c9c" stroke-width="1.9" stroke-linejoin="round"/>
<path d="M281.6 600.1 281.9 599.5 282.1 600.2 282.4 600.2 282.6 600.2 282.9 600.7 283.1 599.6 283.4 599.6 283.6 599.9 283.9 600.4 284.1 601.0 284.4 599.6 284.6 599.3 284.9 599.6 285.1 599.7 285.4 600.2 285.6 600.3 285.9 600.4 286.1 600.4 286.4 599.5 286.6 598.5 286.9 597.8 M288.9 614.1 L289.1 612.8 289.4 612.5 289.6 611.2 M296.4 558.7 L296.6 557.3 296.9 556.6 297.1 556.1 297.4 555.5 297.6 553.6 297.9 552.7 298.1 553.0 298.4 551.8 298.6 549.3 298.9 548.0 299.1 547.9 299.4 546.6 299.6 546.0 299.9 545.5 300.1 545.4 300.4 545.9 300.6 545.0 300.9 543.8 301.1 543.8 301.4 543.9 301.6 543.5 301.9 544.3 302.1 544.3 302.4 543.1 302.6 543.9 302.9 545.5 303.1 546.0 303.4 545.6 303.6 545.9 303.9 545.4 304.1 545.6 304.4 546.9 304.6 545.8 304.9 545.1 305.1 544.7 305.4 544.2 305.6 545.2 305.9 545.3 306.1 545.3 306.4 546.3 306.6 546.5 306.9 547.1 307.1 548.4 307.4 548.4 307.6 548.4 307.9 549.5 308.1 549.3 308.4 548.7 308.6 548.2 308.9 549.1 309.1 551.1 309.4 551.4 309.6 552.2 309.9 553.1 310.1 552.8 310.4 552.3 310.6 551.8 310.9 552.1 311.2 553.1 311.4 553.3 311.7 553.2 311.9 553.3 312.2 554.0 312.4 553.6 312.7 553.3 312.9 554.3 313.2 555.0 313.4 555.5 313.7 555.1 313.9 554.6 314.2 554.3 314.4 555.2 314.7 556.2 314.9 555.8 315.2 555.2 315.4 554.7 315.7 555.7 315.9 556.3 316.2 556.0 316.4 556.9 316.7 556.0 316.9 554.8 317.2 555.8 317.4 556.5 317.7 555.9 317.9 555.6 318.2 555.9 318.4 555.7 318.7 556.2 318.9 556.6 319.2 557.1 319.4 557.3 319.7 557.5 319.9 556.8 320.2 556.4 320.4 556.1 320.7 555.1 320.9 555.2 321.2 556.4 321.4 557.2 321.7 556.1 321.9 556.7 322.2 558.0 322.4 557.3 322.7 556.8 322.9 556.9 323.2 556.5 323.4 557.7 323.7 558.1 323.9 556.9 324.2 557.1 324.4 556.9 324.7 556.7 324.9 557.2 325.2 557.2 325.4 556.6 325.7 556.9 325.9 557.9 326.2 557.9 326.4 557.1 326.7 557.9 326.9 557.9 327.2 557.8 327.4 558.9 327.7 559.4 327.9 559.1 328.2 559.9 328.4 559.8 328.7 559.0 328.9 558.5 329.2 559.0 329.4 560.4 329.7 560.2 329.9 561.0 330.2 562.1 330.4 561.8 330.7 560.9 330.9 560.8 331.2 561.8 331.4 560.9 331.7 561.0 331.9 562.1 332.2 561.5 332.4 562.1 332.7 564.2 332.9 564.6 333.2 563.5 333.4 563.3 333.7 564.6 333.9 564.6 334.2 564.5 334.4 565.2 334.7 565.5 334.9 566.6 335.2 566.1 335.4 566.1 335.7 567.3 335.9 567.0 336.2 566.4 336.4 566.9 336.7 567.9 336.9 566.6 337.2 566.5 337.4 567.6 337.7 568.1 337.9 568.7 338.2 569.1 338.4 570.5 338.7 571.7 338.9 571.2 339.2 571.7 339.4 573.0 339.7 572.9 339.9 571.5 340.2 571.7 340.5 573.3 340.7 572.9 341.0 572.5 341.2 573.7 341.5 574.5 341.7 574.7 342.0 574.5 342.2 574.3 342.5 574.1 342.7 574.9 343.0 575.8 343.2 575.3 343.5 574.8 343.7 575.9 344.0 576.9 344.2 576.2 344.5 575.1 344.7 575.8 345.0 577.2 345.2 577.8 345.5 578.1 345.7 577.1 346.0 576.9 346.2 577.7 346.5 577.5 346.7 579.2 347.0 579.8 347.2 578.8 347.5 578.8 347.7 579.2 348.0 580.2 348.2 579.9 348.5 579.5 348.7 579.6 349.0 579.2 349.2 579.5 349.5 580.4 349.7 580.6 350.0 580.5 350.2 579.7 350.5 580.1 350.7 581.3 351.0 582.0 351.2 581.7 351.5 580.4 351.7 579.9 352.0 580.4 352.2 581.5 352.5 582.1 352.7 581.5 353.0 581.2 353.2 582.6 353.5 583.0 353.7 582.5 354.0 582.4 354.2 581.9 354.5 581.5 354.7 582.2 355.0 583.6 355.2 584.5 355.5 583.9 355.7 583.7 356.0 584.1 356.2 584.4 356.5 584.0 356.7 583.6 357.0 584.4 357.2 583.7 357.5 583.3 357.7 584.0 358.0 584.3 358.2 584.4 358.5 584.5 358.7 584.7 359.0 585.1 359.2 584.7 359.5 585.0 359.7 584.5 360.0 583.2 360.2 583.5 360.5 583.0 360.7 582.0 361.0 581.6 361.2 582.7 361.5 582.8 361.7 581.4 362.0 582.4 362.2 583.1 362.5 582.0 362.7 581.1 363.0 580.9 363.2 580.9 363.5 580.7 363.7 580.7 364.0 580.2 364.2 580.0 364.5 579.5 364.7 578.9 365.0 578.7 365.2 578.9 365.5 579.4 365.7 579.3 366.0 577.8 366.2 578.0 366.5 578.7 366.7 577.5 367.0 577.4 367.2 577.2 367.5 577.7 367.7 577.6 368.0 577.0 368.2 577.2 368.5 577.6 368.7 576.5 369.0 575.2 369.2 574.6 369.5 574.2 369.8 575.2 370.0 576.0 370.3 575.8 370.5 575.8 370.8 575.9 371.0 576.2 371.3 576.8 371.5 575.7 371.8 575.6 372.0 576.4 372.3 575.2 372.5 574.7 372.8 574.8 373.0 573.8 373.3 574.0 373.5 573.9 373.8 573.9 374.0 574.1 374.3 573.8 374.5 574.7 374.8 574.8 375.0 574.0 375.3 573.9 375.5 574.6 375.8 574.9 376.0 574.1 376.3 574.1 376.5 574.3 376.8 573.4 377.0 574.0 377.3 574.5 377.5 574.2 377.8 573.8 378.0 572.5 378.3 572.6 378.5 573.7 378.8 573.3 379.0 573.7 379.3 573.7 379.5 573.6 379.8 574.0 380.0 572.7 380.3 571.6 380.5 571.6 380.8 571.9 381.0 572.2 381.3 571.8 381.5 570.9 381.8 572.1 382.0 572.5 382.3 571.4 382.5 572.2 382.8 572.0 383.0 569.9 383.3 569.9 383.5 570.7 383.8 570.8 384.0 570.2 384.3 569.7 384.5 570.9 384.8 571.4 385.0 571.5 385.3 571.2 385.5 570.7 385.8 570.3 386.0 569.8 386.3 570.3 386.5 571.5 386.8 571.4 387.0 570.3 387.3 569.4 387.5 569.6 387.8 571.1 388.0 571.5 388.3 570.4 388.5 570.2 388.8 571.2 389.0 571.1 389.3 570.6 389.5 570.8 389.8 570.7 390.0 572.0 390.3 572.2 390.5 571.5 390.8 572.6 391.0 572.6 391.3 572.0 391.5 572.1 391.8 572.4 392.0 572.6 392.3 572.5 392.5 572.5 392.8 573.0 393.0 574.1 393.3 574.0 393.5 573.7 393.8 574.0 394.0 573.2 394.3 572.9 394.5 573.7 394.8 573.7 395.0 573.9 395.3 574.5 395.5 575.2 395.8 574.9 396.0 574.7 396.3 576.0 396.5 576.0 396.8 575.1 397.0 575.0 397.3 575.4 397.5 575.2 397.8 575.7 398.0 575.8 398.3 575.5 398.5 576.2 398.8 576.1 399.0 575.5 399.3 575.7 399.6 575.7 399.8 574.6 400.1 574.6 400.3 575.8 400.6 575.5 400.8 574.8 401.1 575.6 401.3 576.3 401.6 576.4 401.8 577.0 402.1 577.5 402.3 577.7 402.6 577.4 402.8 577.9 403.1 577.4 403.3 577.3 403.6 578.1 403.8 576.8 404.1 575.7 404.3 576.7 404.6 578.1 404.8 578.0 405.1 576.6 405.3 576.0 405.6 576.8 405.8 577.7 406.1 577.3 406.3 577.4 406.6 577.6 406.8 578.0 407.1 577.6 407.3 576.8 407.6 578.1 407.8 578.1 408.1 577.1 408.3 577.3 408.6 578.7 408.8 579.0 409.1 578.8 409.3 578.2 409.6 577.5 409.8 578.3 410.1 578.5 410.3 578.0 410.6 576.8 410.8 577.3 411.1 578.8 411.3 578.8 411.6 577.6 411.8 576.7 412.1 577.3 412.3 577.5 412.6 578.3 412.8 578.3 413.1 577.6 413.3 577.6 413.6 577.0 413.8 578.0 414.1 578.9 414.3 578.1 414.6 578.1 414.8 577.4 415.1 578.1 415.3 578.7 415.6 577.0 415.8 577.0 416.1 578.1 416.3 578.6 416.6 578.8 416.8 579.2 417.1 578.9 417.3 579.0 417.6 578.2 417.8 577.9 418.1 579.0 418.3 579.0 418.6 578.7 418.8 578.3 419.1 578.1 419.3 577.5 419.6 577.6 419.8 578.9 420.1 579.9 420.3 579.1 420.6 578.2 420.8 578.2 421.1 578.4 421.3 578.6 421.6 578.9 421.8 579.6 422.1 578.5 422.3 577.3 422.6 578.0 422.8 578.5 423.1 579.0 423.3 579.9 423.6 579.2 423.8 578.7 424.1 579.1 424.3 578.9 424.6 579.1 424.8 579.5 425.1 579.4 425.3 578.5 425.6 578.7 425.8 579.4 426.1 578.5 426.3 578.5 426.6 579.2 426.8 578.9 427.1 579.0 427.3 580.0 427.6 579.2 427.8 578.4 428.1 578.4 428.3 578.3 428.6 579.7 428.9 578.8 429.1 578.9 429.4 580.1 429.6 579.5 429.9 579.2 430.1 579.3 430.4 579.5 430.6 579.5 430.9 580.0 431.1 580.5 431.4 579.6 431.6 579.8 431.9 581.2 432.1 581.6 432.4 580.9 432.6 579.5 432.9 579.2 433.1 580.0 433.4 580.3 433.6 579.8 433.9 580.2 434.1 581.5 434.4 580.7 434.6 580.0 434.9 580.3 435.1 580.8 435.4 582.0 435.6 581.1 435.9 581.4 436.1 583.1 436.4 581.8 436.6 582.3 436.9 583.6 437.1 583.2 437.4 583.0 437.6 582.4 437.9 582.6 438.1 582.8 438.4 582.7 438.6 583.8 438.9 583.7 439.1 583.0 439.4 583.6 439.6 584.5 439.9 584.9 440.1 584.4 440.4 584.8 440.6 585.8 440.9 585.1 441.1 584.7 441.4 584.1 441.6 583.8 441.9 584.3 442.1 584.5 442.4 584.8 442.6 583.7 442.9 584.4 443.1 585.1 443.4 585.4 443.6 586.7 443.9 586.4 444.1 585.7 444.4 585.6 444.6 585.0 444.9 584.9 445.1 586.1 445.4 586.4 445.6 585.4 445.9 585.8 446.1 586.6 446.4 585.4 446.6 585.3 446.9 585.3 447.1 584.8 447.4 585.2 447.6 586.3 447.9 587.4 448.1 585.7 448.4 584.4 448.6 585.0 448.9 585.3 449.1 585.5 449.4 584.8 449.6 584.7 449.9 584.5 450.1 583.9 450.4 584.4 450.6 584.8 450.9 584.1 451.1 584.2 451.4 584.2 451.6 583.4 451.9 583.4 452.1 584.0 452.4 583.6 452.6 583.9 452.9 584.0 453.1 583.3 453.4 583.7 453.6 583.4 453.9 582.6 454.1 582.4 454.4 583.0 454.6 583.6 454.9 583.3 455.1 582.4 455.4 581.5 455.6 581.3 455.9 581.4 456.1 581.7 456.4 581.8 456.6 581.2 456.9 581.4 457.1 581.3 457.4 580.9 457.6 580.8 457.9 581.1 458.2 581.6 458.4 581.1 458.7 581.3 458.9 581.6 459.2 580.3 459.4 579.9 459.7 579.9 459.9 579.4 460.2 579.6 460.4 579.1 460.7 578.7 460.9 579.3 461.2 579.9 461.4 580.0 461.7 579.9 461.9 579.4 462.2 579.2 462.4 579.2 462.7 579.0 462.9 579.1 463.2 579.0 463.4 578.5 463.7 578.2 463.9 578.7 464.2 579.1 464.4 578.9 464.7 579.3 464.9 579.0 465.2 579.1 465.4 579.5 465.7 579.4 465.9 578.5 466.2 579.0 466.4 580.2 466.7 580.0 466.9 580.6 467.2 579.8 467.4 580.0 467.7 580.4 467.9 579.9 468.2 580.6 468.4 579.7 468.7 579.3 468.9 579.6 469.2 579.7 469.4 579.3 469.7 579.9 469.9 580.9 470.2 580.0 470.4 579.4 470.7 580.2 470.9 580.4 471.2 580.2 471.4 579.9 471.7 579.8 471.9 579.5 472.2 579.5 472.4 579.9 472.7 579.3 472.9 580.3 473.2 581.1 473.4 580.4 473.7 579.8 473.9 580.6 474.2 580.3 474.4 579.7 474.7 580.1 474.9 580.3 475.2 580.6 475.4 580.6 475.7 580.1 475.9 580.4 476.2 581.2 476.4 580.9 476.7 581.6 476.9 581.6 477.2 580.9 477.4 582.1 477.7 582.0 477.9 581.1 478.2 580.6 478.4 580.7 478.7 581.3 478.9 581.5 479.2 581.3 479.4 581.8 479.7 582.7 479.9 582.6 480.2 582.3 480.4 581.1 480.7 581.6 480.9 582.5 481.2 582.2 481.4 583.1 481.7 583.6 481.9 583.0 482.2 583.2 482.4 583.4 482.7 583.5 482.9 583.8 483.2 583.8 483.4 583.3 483.7 583.0 483.9 583.5 484.2 584.2 484.4 584.6 484.7 584.1 484.9 583.2 485.2 583.0 485.4 584.5 485.7 585.6 485.9 585.1 486.2 584.8 486.4 586.0 486.7 586.6 486.9 586.1 487.2 585.6" fill="none" stroke="#858585" stroke-width="0.75" stroke-linejoin="round"/>
<path d="M286.9 597.8 L287.1 599.2 287.4 599.4 287.6 599.9 287.9 603.2 288.1 608.2 288.4 612.7 288.6 614.5 288.9 614.1 M289.6 611.2 L289.9 610.5 290.1 609.2 290.4 607.6 290.6 606.1 290.9 604.6 291.1 602.7 291.4 600.6 291.6 598.4 291.9 596.2 292.1 594.1 292.4 592.0 292.6 589.6 292.9 587.4 293.1 585.2 293.4 582.8 293.6 580.5 293.9 578.0 294.1 575.7 294.4 573.6 294.6 571.2 294.9 569.2 295.1 567.3 295.4 565.4 295.6 563.6 295.9 561.7 296.1 560.1 296.4 558.7" fill="none" stroke="#999" stroke-width="0.7" stroke-linejoin="round"/>
</g>
<rect x="281.6" y="543.3" width="205.9" height="83.8" fill="none" stroke="#555" stroke-width="0.7"/>
<path d="M281.6 551.7 h2.2 M487.5 551.7 h-2.2" stroke="#555" stroke-width="0.6"/>
<text x="278.2" y="554.5" font-size="7.9" text-anchor="end" font-weight="normal" fill="#1a1a1a" stroke="#1a1a1a" stroke-width="0.2" >50</text>
<path d="M281.6 568.4 h2.2 M487.5 568.4 h-2.2" stroke="#555" stroke-width="0.6"/>
<text x="278.2" y="571.2" font-size="7.9" text-anchor="end" font-weight="normal" fill="#1a1a1a" stroke="#1a1a1a" stroke-width="0.2" >30</text>
<path d="M281.6 585.2 h2.2 M487.5 585.2 h-2.2" stroke="#555" stroke-width="0.6"/>
<text x="278.2" y="588.0" font-size="7.9" text-anchor="end" font-weight="normal" fill="#1a1a1a" stroke="#1a1a1a" stroke-width="0.2" >20</text>
<path d="M281.6 602.0 h2.2 M487.5 602.0 h-2.2" stroke="#555" stroke-width="0.6"/>
<text x="278.2" y="604.8" font-size="7.9" text-anchor="end" font-weight="normal" fill="#1a1a1a" stroke="#1a1a1a" stroke-width="0.2" >10</text>
<path d="M281.6 618.7 h2.2 M487.5 618.7 h-2.2" stroke="#555" stroke-width="0.6"/>
<text x="278.2" y="621.5" font-size="7.9" text-anchor="end" font-weight="normal" fill="#1a1a1a" stroke="#1a1a1a" stroke-width="0.2" >0</text>
<path d="M288.5 627.1 v-2.2 M288.5 543.3 v2.2" stroke="#555" stroke-width="0.6"/>
<text x="288.5" y="636.7" font-size="7.9" text-anchor="middle" font-weight="normal" fill="#1a1a1a" stroke="#1a1a1a" stroke-width="0.2" >0</text>
<path d="M339.6 627.1 v-2.2 M339.6 543.3 v2.2" stroke="#555" stroke-width="0.6"/>
<text x="339.6" y="636.7" font-size="7.9" text-anchor="middle" font-weight="normal" fill="#1a1a1a" stroke="#1a1a1a" stroke-width="0.2" >100</text>
<path d="M390.8 627.1 v-2.2 M390.8 543.3 v2.2" stroke="#555" stroke-width="0.6"/>
<text x="390.8" y="636.7" font-size="7.9" text-anchor="middle" font-weight="normal" fill="#1a1a1a" stroke="#1a1a1a" stroke-width="0.2" >200</text>
<path d="M441.9 627.1 v-2.2 M441.9 543.3 v2.2" stroke="#555" stroke-width="0.6"/>
<text x="441.9" y="636.7" font-size="7.9" text-anchor="middle" font-weight="normal" fill="#1a1a1a" stroke="#1a1a1a" stroke-width="0.2" >300</text>
<path d="M286.4 627.7 L288.5 624.5 L290.6 627.7 Z" fill="#111"/>
<text x="383.3" y="646.9" font-size="7.9" text-anchor="middle" font-weight="normal" fill="#1a1a1a" stroke="#1a1a1a" stroke-width="0.2" >Time (ms)</text>
<text x="0" y="0" font-size="7.9" text-anchor="middle" fill="#222" stroke="#222" stroke-width="0.2" transform="translate(263.2 585.2) rotate(-90)">Stimulus (µA)</text>
<text x="384.5" y="538.3" font-size="7.9" text-anchor="middle" font-weight="bold" fill="#111" stroke="#111" stroke-width="0" >0.5 ms</text>
<line x1="460.6" y1="551.5" x2="460.6" y2="559.2" stroke="#333" stroke-width="0.7"/>
<text x="465.6" y="562.2" font-size="7.9" text-anchor="start" font-weight="normal" fill="#111" stroke="#111" stroke-width="0.2" >1 mV</text>
<text x="455.5" y="609.4" font-size="7.9" text-anchor="start" font-weight="normal" fill="#999" stroke="#999" stroke-width="0.2" >50 µA</text>
<rect x="499.3" y="543.3" width="16.4" height="84.6" fill="url(#cb)" stroke="#444" stroke-width="0.6"/>
<path d="M515.7 558.0 h-1.8 M499.3 558.0 h1.8" stroke="#444" stroke-width="0.5"/>
<text x="517.2" y="560.8" font-size="7.9" text-anchor="start" font-weight="normal" fill="#1a1a1a" stroke="#1a1a1a" stroke-width="0.2" >5</text>
<path d="M515.7 586.0 h-1.8 M499.3 586.0 h1.8" stroke="#444" stroke-width="0.5"/>
<text x="517.2" y="588.8" font-size="7.9" text-anchor="start" font-weight="normal" fill="#1a1a1a" stroke="#1a1a1a" stroke-width="0.2" >0</text>
<path d="M515.7 613.6 h-1.8 M499.3 613.6 h1.8" stroke="#444" stroke-width="0.5"/>
<text x="517.2" y="616.4" font-size="7.9" text-anchor="start" font-weight="normal" fill="#1a1a1a" stroke="#1a1a1a" stroke-width="0.2" >−5</text>
<text x="489.3" y="637.4" font-size="7.9" fill="#222" stroke="#222" stroke-width="0.2">Mean ΔV<tspan font-size="6.0" dy="2.8">m</tspan></text>
<rect x="281.6" y="671.0" width="7.4" height="82.9" fill="#f3f4f6"/>
<clipPath id="hc5"><rect x="281.6" y="671.0" width="205.9" height="82.9"/></clipPath><g clip-path="url(#hc5)">
<g transform="translate(0 671.00) scale(1 16.88)" stroke-width="2.25">
<path d="M290.12 0v1" stroke="#db841b"/>
<path d="M292.12 0v1" stroke="#ec971d"/>
<path d="M294.12 0v1" stroke="#eea936"/>
<path d="M296.12 0v1" stroke="#eeab27"/>
<path d="M298.12 0v1" stroke="#f1b843"/>
<path d="M300.12 0v1" stroke="#f2c665"/>
<path d="M302.12 0v1" stroke="#f0c35d"/>
<path d="M304.12 0v1" stroke="#f2cf7f"/>
<path d="M306.12 0v1" stroke="#f4d488"/>
<path d="M308.12 0v1" stroke="#f7dea1"/>
<path d="M310.12 0v1" stroke="#f5dfa4"/>
<path d="M312.12 0v1" stroke="#f2dc9f"/>
<path d="M314.12 0v1" stroke="#f9eabf"/>
<path d="M316.12 0v1" stroke="#f6e7bc"/>
<path d="M318.12 0v1" stroke="#f8eac1"/>
<path d="M320.12 0v1" stroke="#f4e1ab"/>
<path d="M322.12 0v1" stroke="#f6e6b7"/>
<path d="M324.12 0v1" stroke="#f4e4b4"/>
<path d="M326.12 0v1" stroke="#f4e1a9"/>
<path d="M328.12 0v1" stroke="#f6dd99"/>
<path d="M330.12 0v1" stroke="#f7e0a0"/>
<path d="M332.12 0v1" stroke="#f6e0a4"/>
<path d="M334.12 0v1" stroke="#f3d991"/>
<path d="M336.12 0v1" stroke="#f6e1aa"/>
<path d="M338.12 0v1" stroke="#f6e1a8"/>
<path d="M340.12 0v1" stroke="#f8e7b8"/>
<path d="M342.12 0v1" stroke="#f2d991"/>
<path d="M344.12 0v1" stroke="#f4de9f"/>
<path d="M346.12 0v1" stroke="#f9e8bc"/>
<path d="M348.12 0v1" stroke="#f8e7bf"/>
<path d="M350.12 0v1" stroke="#faf4e7"/>
<path d="M352.12 0v1" stroke="#fcf4e1"/>
<path d="M354.12 0v1" stroke="#f9f2e1"/>
<path d="M356.12 0v1" stroke="#faf3e4"/>
<path d="M358.12 0v1" stroke="#f9f1e0"/>
<path d="M360.12 0v1" stroke="#fbf4e4"/>
<path d="M362.12 0v1" stroke="#f8f0e0"/>
<path d="M364.12 0v1" stroke="#fcf4e3"/>
<path d="M366.12 0v1" stroke="#f9f2e5"/>
<path d="M368.12 0v1" stroke="#fbf5e8"/>
<path d="M370.12 0v1" stroke="#f8f1e0"/>
<path d="M372.12 0v1" stroke="#f8f1e3"/>
<path d="M374.12 0v1" stroke="#faf2df"/>
<path d="M376.12 0v1" stroke="#f9f0dc"/>
<path d="M378.12 0v1" stroke="#f8eeda"/>
<path d="M380.12 0v1" stroke="#fbf5e8"/>
<path d="M382.12 0v1" stroke="#fbf4e5"/>
<path d="M384.12 0v1" stroke="#fcf4e5"/>
<path d="M386.12 0v1" stroke="#fcf5e5"/>
<path d="M388.12 0v1" stroke="#fcf4e3"/>
<path d="M390.12 0v1" stroke="#faf2e3"/>
<path d="M392.12 0v1" stroke="#f7efdd"/>
<path d="M394.12 0v1" stroke="#faf6ec"/>
<path d="M396.12 0v1" stroke="#fbf3e0"/>
<path d="M398.12 0v1" stroke="#f9f3e6"/>
<path d="M400.12 0v1" stroke="#fbf4e5"/>
<path d="M402.12 0v1" stroke="#faf2e2"/>
<path d="M404.12 0v1" stroke="#faf4e8"/>
<path d="M406.12 0v1" stroke="#fbf2df"/>
<path d="M408.12 0v1" stroke="#faf2e2"/>
<path d="M410.12 0v1" stroke="#f9f0df"/>
<path d="M412.12 0v1" stroke="#fbf6ea"/>
<path d="M414.12 0v1" stroke="#fcf6ea"/>
<path d="M416.12 0v1" stroke="#f8efdc"/>
<path d="M418.12 0v1" stroke="#faf5e9"/>
<path d="M420.12 0v1" stroke="#faf2e4"/>
<path d="M422.12 0v1" stroke="#fbf6ed"/>
<path d="M424.12 0v1" stroke="#fcf6e8"/>
<path d="M426.12 0v1" stroke="#fbf5e7"/>
<path d="M428.12 0v1" stroke="#fbf4e4"/>
<path d="M430.12 0v1" stroke="#fcf6e9"/>
<path d="M432.12 0v1" stroke="#fcf6e9"/>
<path d="M434.12 0v1" stroke="#faf4e9"/>
<path d="M436.12 0v1" stroke="#fbf4e7"/>
<path d="M438.12 0v1" stroke="#f9f2e3"/>
<path d="M440.12 0v1" stroke="#fbf4e5"/>
<path d="M442.12 0v1" stroke="#f9f4e9"/>
<path d="M444.12 0v1" stroke="#fcf6eb"/>
<path d="M446.12 0v1" stroke="#faf5ea"/>
<path d="M448.12 0v1" stroke="#f9f1e1"/>
<path d="M450.12 0v1" stroke="#faf4e9"/>
<path d="M452.12 0v1" stroke="#fcf8ef"/>
<path d="M454.12 0v1" stroke="#faf1e0"/>
<path d="M456.12 0v1" stroke="#fcf5e7"/>
<path d="M458.12 0v1" stroke="#f8f3e7"/>
<path d="M460.12 0v1" stroke="#fcf6ea"/>
<path d="M462.12 0v1" stroke="#fdf7ec"/>
<path d="M464.12 0v1" stroke="#fbf7ed"/>
<path d="M466.12 0v1" stroke="#faf4e9"/>
<path d="M468.12 0v1" stroke="#fbf6eb"/>
<path d="M470.12 0v1" stroke="#faf3e6"/>
<path d="M472.12 0v1" stroke="#faf3e4"/>
<path d="M474.12 0v1" stroke="#f9f2e3"/>
<path d="M476.12 0v1" stroke="#f9f4e9"/>
<path d="M478.12 0v1" stroke="#f9f5ed"/>
<path d="M480.12 0v1" stroke="#fcf6e9"/>
<path d="M482.12 0v1" stroke="#f9f4e9"/>
<path d="M484.12 0v1" stroke="#faf4e8"/>
<path d="M486.12 0v1" stroke="#fcf5e8"/>
<path d="M488.12 0v1" stroke="#f9f3e8"/>
</g>
<g transform="translate(0 687.58) scale(1 16.88)" stroke-width="2.25">
<path d="M290.12 0v1" stroke="#ea8728"/>
<path d="M292.12 0v1" stroke="#ed8923"/>
<path d="M294.12 0v1" stroke="#ed9434"/>
<path d="M296.12 0v1" stroke="#ec932d"/>
<path d="M298.12 0v1" stroke="#f0a84a"/>
<path d="M300.12 0v1" stroke="#f3c579"/>
<path d="M302.12 0v1" stroke="#f1c06c"/>
<path d="M304.12 0v1" stroke="#f3cf90"/>
<path d="M306.12 0v1" stroke="#f6daa6"/>
<path d="M308.12 0v1" stroke="#fae7c3"/>
<path d="M310.12 0v1" stroke="#f7e2bc"/>
<path d="M312.12 0v1" stroke="#f5dfb7"/>
<path d="M314.12 0v1" stroke="#fbeed7"/>
<path d="M316.12 0v1" stroke="#f8ebd4"/>
<path d="M318.12 0v1" stroke="#faecd2"/>
<path d="M320.12 0v1" stroke="#f7e8cb"/>
<path d="M322.12 0v1" stroke="#f9edd5"/>
<path d="M324.12 0v1" stroke="#f8edd6"/>
<path d="M326.12 0v1" stroke="#f8ead0"/>
<path d="M328.12 0v1" stroke="#fbeed5"/>
<path d="M330.12 0v1" stroke="#fbefd8"/>
<path d="M332.12 0v1" stroke="#f8ebd0"/>
<path d="M334.12 0v1" stroke="#f7ebd0"/>
<path d="M336.12 0v1" stroke="#f8eed8"/>
<path d="M338.12 0v1" stroke="#f8eed7"/>
<path d="M340.12 0v1" stroke="#faf0dc"/>
<path d="M342.12 0v1" stroke="#f7ecd3"/>
<path d="M344.12 0v1" stroke="#f7eeda"/>
<path d="M346.12 0v1" stroke="#fbf3e3"/>
<path d="M348.12 0v1" stroke="#fbf3e5"/>
<path d="M350.12 0v1" stroke="#faf4ea"/>
<path d="M352.12 0v1" stroke="#fcf5e9"/>
<path d="M354.12 0v1" stroke="#faf4e9"/>
<path d="M356.12 0v1" stroke="#fbf6ed"/>
<path d="M358.12 0v1" stroke="#faf4e9"/>
<path d="M360.12 0v1" stroke="#fcf5ea"/>
<path d="M362.12 0v1" stroke="#f9f4ec"/>
<path d="M364.12 0v1" stroke="#fcf7ed"/>
<path d="M366.12 0v1" stroke="#f9f5ec"/>
<path d="M368.12 0v1" stroke="#fcf7ee"/>
<path d="M370.12 0v1" stroke="#f8f2e7"/>
<path d="M372.12 0v1" stroke="#f9f4eb"/>
<path d="M374.12 0v1" stroke="#fbf5eb"/>
<path d="M376.12 0v1" stroke="#fbf5ea"/>
<path d="M378.12 0v1" stroke="#f9f3e8"/>
<path d="M380.12 0v1" stroke="#fbf7ef"/>
<path d="M382.12 0v1" stroke="#fcf7ee"/>
<path d="M384.12 0v1" stroke="#fcf8f1"/>
<path d="M386.12 0v1" stroke="#fcf7ed"/>
<path d="M388.12 0v1" stroke="#fdf7ed"/>
<path d="M390.12 0v1" stroke="#faf5ec"/>
<path d="M392.12 0v1" stroke="#f8f3e9"/>
<path d="M394.12 0v1" stroke="#faf6ef"/>
<path d="M396.12 0v1" stroke="#fcf7ec"/>
<path d="M398.12 0v1" stroke="#f9f3e9"/>
<path d="M400.12 0v1" stroke="#fbf6eb"/>
<path d="M402.12 0v1" stroke="#fbf5ea"/>
<path d="M404.12 0v1" stroke="#faf6ed"/>
<path d="M406.12 0v1" stroke="#fbf4e7"/>
<path d="M408.12 0v1" stroke="#fbf6ed"/>
<path d="M410.12 0v1" stroke="#f9f3e9"/>
<path d="M412.12 0v1" stroke="#fbf7ee"/>
<path d="M414.12 0v1" stroke="#fdf7ee"/>
<path d="M416.12 0v1" stroke="#f9f3e8"/>
<path d="M418.12 0v1" stroke="#fbf7f1"/>
<path d="M420.12 0v1" stroke="#faf3e7"/>
<path d="M422.12 0v1" stroke="#fbf7f0"/>
<path d="M424.12 0v1" stroke="#fdf8f0"/>
<path d="M426.12 0v1" stroke="#fcf7ed"/>
<path d="M428.12 0v1" stroke="#fcf6eb"/>
<path d="M430.12 0v1" stroke="#fcf7ed"/>
<path d="M432.12 0v1" stroke="#fcf7ee"/>
<path d="M434.12 0v1" stroke="#faf7f1"/>
<path d="M436.12 0v1" stroke="#fbf5eb"/>
<path d="M438.12 0v1" stroke="#faf3e7"/>
<path d="M440.12 0v1" stroke="#fcf7ed"/>
<path d="M442.12 0v1" stroke="#f9f5ed"/>
<path d="M444.12 0v1" stroke="#fdf8f1"/>
<path d="M446.12 0v1" stroke="#faf5ec"/>
<path d="M448.12 0v1" stroke="#f9f4ea"/>
<path d="M450.12 0v1" stroke="#faf6ee"/>
<path d="M452.12 0v1" stroke="#fcf8f0"/>
<path d="M454.12 0v1" stroke="#faf4e9"/>
<path d="M456.12 0v1" stroke="#fcf6eb"/>
<path d="M458.12 0v1" stroke="#f8f3ea"/>
<path d="M460.12 0v1" stroke="#fcf7ef"/>
<path d="M462.12 0v1" stroke="#fcf6eb"/>
<path d="M464.12 0v1" stroke="#fbf6ee"/>
<path d="M466.12 0v1" stroke="#faf4e9"/>
<path d="M468.12 0v1" stroke="#fbf6ee"/>
<path d="M470.12 0v1" stroke="#faf4ea"/>
<path d="M472.12 0v1" stroke="#fbf5e9"/>
<path d="M474.12 0v1" stroke="#f9f4e9"/>
<path d="M476.12 0v1" stroke="#faf6ef"/>
<path d="M478.12 0v1" stroke="#f9f5ee"/>
<path d="M480.12 0v1" stroke="#fcf5ea"/>
<path d="M482.12 0v1" stroke="#f9f4ea"/>
<path d="M484.12 0v1" stroke="#fbf6ec"/>
<path d="M486.12 0v1" stroke="#fcf7ec"/>
<path d="M488.12 0v1" stroke="#f9f5ee"/>
</g>
<g transform="translate(0 704.16) scale(1 16.88)" stroke-width="2.25">
<path d="M290.12 0v1" stroke="#f1dfbf"/>
<path d="M292.12 0v1" stroke="#f3dfbb"/>
<path d="M294.12 0v1" stroke="#f5e8d0"/>
<path d="M296.12 0v1" stroke="#f2e0c0"/>
<path d="M298.12 0v1" stroke="#f3e0be"/>
<path d="M300.12 0v1" stroke="#f4e3c6"/>
<path d="M302.12 0v1" stroke="#efd8af"/>
<path d="M304.12 0v1" stroke="#f2e2c4"/>
<path d="M306.12 0v1" stroke="#f8ecd8"/>
<path d="M308.12 0v1" stroke="#fcf4e9"/>
<path d="M310.12 0v1" stroke="#faf3e9"/>
<path d="M312.12 0v1" stroke="#f8eee0"/>
<path d="M314.12 0v1" stroke="#fcf5ea"/>
<path d="M316.12 0v1" stroke="#f9f2e9"/>
<path d="M318.12 0v1" stroke="#fbf4e9"/>
<path d="M320.12 0v1" stroke="#f9f2e9"/>
<path d="M322.12 0v1" stroke="#faf3e8"/>
<path d="M324.12 0v1" stroke="#f9f3e9"/>
<path d="M326.12 0v1" stroke="#f9f1e5"/>
<path d="M328.12 0v1" stroke="#fbf2e5"/>
<path d="M330.12 0v1" stroke="#fbf3e7"/>
<path d="M332.12 0v1" stroke="#faf3e8"/>
<path d="M334.12 0v1" stroke="#f8f0e3"/>
<path d="M336.12 0v1" stroke="#faf4eb"/>
<path d="M338.12 0v1" stroke="#faf3ea"/>
<path d="M340.12 0v1" stroke="#fbf5ed"/>
<path d="M342.12 0v1" stroke="#f7efe2"/>
<path d="M344.12 0v1" stroke="#f8f0e5"/>
<path d="M346.12 0v1" stroke="#fcf6ed"/>
<path d="M348.12 0v1" stroke="#fbf3e9"/>
<path d="M350.12 0v1" stroke="#faf3e9"/>
<path d="M352.12 0v1" stroke="#fcf5ea"/>
<path d="M354.12 0v1" stroke="#f9f2e7"/>
<path d="M356.12 0v1" stroke="#faf2e7"/>
<path d="M358.12 0v1" stroke="#f9f1e6"/>
<path d="M360.12 0v1" stroke="#fbf3e7"/>
<path d="M362.12 0v1" stroke="#f8f2e9"/>
<path d="M364.12 0v1" stroke="#fcf4e8"/>
<path d="M366.12 0v1" stroke="#f9f3ea"/>
<path d="M368.12 0v1" stroke="#fbf5ec"/>
<path d="M370.12 0v1" stroke="#f8f1e7"/>
<path d="M372.12 0v1" stroke="#f8f3ea"/>
<path d="M374.12 0v1" stroke="#fbf3e8"/>
<path d="M376.12 0v1" stroke="#faf1e5"/>
<path d="M378.12 0v1" stroke="#f8f0e4"/>
<path d="M380.12 0v1" stroke="#fbf6ee"/>
<path d="M382.12 0v1" stroke="#fcf7f0"/>
<path d="M384.12 0v1" stroke="#fcf5eb"/>
<path d="M386.12 0v1" stroke="#fcf5eb"/>
<path d="M388.12 0v1" stroke="#fdf6ed"/>
<path d="M390.12 0v1" stroke="#faf3ea"/>
<path d="M392.12 0v1" stroke="#f8f0e5"/>
<path d="M394.12 0v1" stroke="#faf6ef"/>
<path d="M396.12 0v1" stroke="#fcf4e8"/>
<path d="M398.12 0v1" stroke="#f9f3ea"/>
<path d="M400.12 0v1" stroke="#fcf6ee"/>
<path d="M402.12 0v1" stroke="#fbf4ea"/>
<path d="M404.12 0v1" stroke="#faf5ed"/>
<path d="M406.12 0v1" stroke="#fbf4ea"/>
<path d="M408.12 0v1" stroke="#fbf5ec"/>
<path d="M410.12 0v1" stroke="#f9f1e6"/>
<path d="M412.12 0v1" stroke="#fcf7f1"/>
<path d="M414.12 0v1" stroke="#fdf9f2"/>
<path d="M416.12 0v1" stroke="#f8f1e6"/>
<path d="M418.12 0v1" stroke="#faf6ee"/>
<path d="M420.12 0v1" stroke="#faf3ea"/>
<path d="M422.12 0v1" stroke="#fbf7f1"/>
<path d="M424.12 0v1" stroke="#fdf8f0"/>
<path d="M426.12 0v1" stroke="#fcf6ee"/>
<path d="M428.12 0v1" stroke="#fbf4ea"/>
<path d="M430.12 0v1" stroke="#fcf7ee"/>
<path d="M432.12 0v1" stroke="#fcf7ef"/>
<path d="M434.12 0v1" stroke="#faf5ed"/>
<path d="M436.12 0v1" stroke="#fbf5ec"/>
<path d="M438.12 0v1" stroke="#faf3e9"/>
<path d="M440.12 0v1" stroke="#fbf6ed"/>
<path d="M442.12 0v1" stroke="#f9f4ec"/>
<path d="M444.12 0v1" stroke="#fcf7f0"/>
<path d="M446.12 0v1" stroke="#faf5ed"/>
<path d="M448.12 0v1" stroke="#f9f2e9"/>
<path d="M450.12 0v1" stroke="#faf6f0"/>
<path d="M452.12 0v1" stroke="#fcf8f1"/>
<path d="M454.12 0v1" stroke="#faf3e8"/>
<path d="M456.12 0v1" stroke="#fcf6ec"/>
<path d="M458.12 0v1" stroke="#f8f2e9"/>
<path d="M460.12 0v1" stroke="#fcf7f0"/>
<path d="M462.12 0v1" stroke="#fcf6ed"/>
<path d="M464.12 0v1" stroke="#fcf8f2"/>
<path d="M466.12 0v1" stroke="#faf4eb"/>
<path d="M468.12 0v1" stroke="#fbf6ef"/>
<path d="M470.12 0v1" stroke="#faf4eb"/>
<path d="M472.12 0v1" stroke="#fbf4ea"/>
<path d="M474.12 0v1" stroke="#f9f3e9"/>
<path d="M476.12 0v1" stroke="#faf5ee"/>
<path d="M478.12 0v1" stroke="#f9f5f0"/>
<path d="M480.12 0v1" stroke="#fcf6ec"/>
<path d="M482.12 0v1" stroke="#f9f4ed"/>
<path d="M484.12 0v1" stroke="#faf4eb"/>
<path d="M486.12 0v1" stroke="#fcf6ee"/>
<path d="M488.12 0v1" stroke="#f9f5ee"/>
</g>
<g transform="translate(0 720.74) scale(1 16.88)" stroke-width="2.25">
<path d="M290.12 0v1" stroke="#f4e7bf"/>
<path d="M292.12 0v1" stroke="#f5e4b0"/>
<path d="M294.12 0v1" stroke="#f7eed0"/>
<path d="M296.12 0v1" stroke="#f4e3af"/>
<path d="M298.12 0v1" stroke="#f5e5b4"/>
<path d="M300.12 0v1" stroke="#f5e6b6"/>
<path d="M302.12 0v1" stroke="#f3e2a6"/>
<path d="M304.12 0v1" stroke="#f4e5b0"/>
<path d="M306.12 0v1" stroke="#f7ecc4"/>
<path d="M308.12 0v1" stroke="#fcf6e2"/>
<path d="M310.12 0v1" stroke="#faf4e3"/>
<path d="M312.12 0v1" stroke="#f9f3e7"/>
<path d="M314.12 0v1" stroke="#fdfaf2"/>
<path d="M316.12 0v1" stroke="#f9f5ea"/>
<path d="M318.12 0v1" stroke="#fcf7ee"/>
<path d="M320.12 0v1" stroke="#faf5eb"/>
<path d="M322.12 0v1" stroke="#fbf6ed"/>
<path d="M324.12 0v1" stroke="#f9f4e8"/>
<path d="M326.12 0v1" stroke="#faf5eb"/>
<path d="M328.12 0v1" stroke="#fcf7eb"/>
<path d="M330.12 0v1" stroke="#fcf7ec"/>
<path d="M332.12 0v1" stroke="#fbf6ec"/>
<path d="M334.12 0v1" stroke="#f9f4e9"/>
<path d="M336.12 0v1" stroke="#faf5ec"/>
<path d="M338.12 0v1" stroke="#faf6ed"/>
<path d="M340.12 0v1" stroke="#fbf6ec"/>
<path d="M342.12 0v1" stroke="#f8f3e8"/>
<path d="M344.12 0v1" stroke="#f8f4e9"/>
<path d="M346.12 0v1" stroke="#fcf7ed"/>
<path d="M348.12 0v1" stroke="#fbf5e9"/>
<path d="M350.12 0v1" stroke="#faf6ec"/>
<path d="M352.12 0v1" stroke="#fcf7eb"/>
<path d="M354.12 0v1" stroke="#faf6ec"/>
<path d="M356.12 0v1" stroke="#fbf6ec"/>
<path d="M358.12 0v1" stroke="#faf5e9"/>
<path d="M360.12 0v1" stroke="#fcf6eb"/>
<path d="M362.12 0v1" stroke="#f9f5ec"/>
<path d="M364.12 0v1" stroke="#fcf7ed"/>
<path d="M366.12 0v1" stroke="#f9f4eb"/>
<path d="M368.12 0v1" stroke="#fcf7ee"/>
<path d="M370.12 0v1" stroke="#f9f4eb"/>
<path d="M372.12 0v1" stroke="#f9f5ed"/>
<path d="M374.12 0v1" stroke="#fbf7ed"/>
<path d="M376.12 0v1" stroke="#faf5e9"/>
<path d="M378.12 0v1" stroke="#f8f2e5"/>
<path d="M380.12 0v1" stroke="#fbf7ee"/>
<path d="M382.12 0v1" stroke="#fcf8f1"/>
<path d="M384.12 0v1" stroke="#fcf8f0"/>
<path d="M386.12 0v1" stroke="#fcf7eb"/>
<path d="M388.12 0v1" stroke="#fdf8ee"/>
<path d="M390.12 0v1" stroke="#faf6ed"/>
<path d="M392.12 0v1" stroke="#f8f3e9"/>
<path d="M394.12 0v1" stroke="#faf6ed"/>
<path d="M396.12 0v1" stroke="#fcf7ed"/>
<path d="M398.12 0v1" stroke="#f9f5ec"/>
<path d="M400.12 0v1" stroke="#fcf8f0"/>
<path d="M402.12 0v1" stroke="#fbf6ec"/>
<path d="M404.12 0v1" stroke="#faf6ef"/>
<path d="M406.12 0v1" stroke="#fbf6eb"/>
<path d="M408.12 0v1" stroke="#fbf7ee"/>
<path d="M410.12 0v1" stroke="#f9f3e8"/>
<path d="M412.12 0v1" stroke="#fcf8f1"/>
<path d="M414.12 0v1" stroke="#fdfaf3"/>
<path d="M416.12 0v1" stroke="#f9f3e8"/>
<path d="M418.12 0v1" stroke="#fbf8f2"/>
<path d="M420.12 0v1" stroke="#faf5ea"/>
<path d="M422.12 0v1" stroke="#faf7ef"/>
<path d="M424.12 0v1" stroke="#fdf9f0"/>
<path d="M426.12 0v1" stroke="#fcf9f2"/>
<path d="M428.12 0v1" stroke="#fbf5e9"/>
<path d="M430.12 0v1" stroke="#fdf9f1"/>
<path d="M432.12 0v1" stroke="#fcf9f1"/>
<path d="M434.12 0v1" stroke="#faf7f1"/>
<path d="M436.12 0v1" stroke="#fbf7f0"/>
<path d="M438.12 0v1" stroke="#faf5ec"/>
<path d="M440.12 0v1" stroke="#fbf6ec"/>
<path d="M442.12 0v1" stroke="#f9f6f0"/>
<path d="M444.12 0v1" stroke="#fcf8f0"/>
<path d="M446.12 0v1" stroke="#faf6ee"/>
<path d="M448.12 0v1" stroke="#f9f5eb"/>
<path d="M450.12 0v1" stroke="#faf6ed"/>
<path d="M452.12 0v1" stroke="#fdfaf4"/>
<path d="M454.12 0v1" stroke="#faf5eb"/>
<path d="M456.12 0v1" stroke="#fcf7ec"/>
<path d="M458.12 0v1" stroke="#f8f4eb"/>
<path d="M460.12 0v1" stroke="#fcf8f1"/>
<path d="M462.12 0v1" stroke="#fcf8ee"/>
<path d="M464.12 0v1" stroke="#fcf8f2"/>
<path d="M466.12 0v1" stroke="#faf5ea"/>
<path d="M468.12 0v1" stroke="#fbf8f2"/>
<path d="M470.12 0v1" stroke="#faf5eb"/>
<path d="M472.12 0v1" stroke="#fbf5ea"/>
<path d="M474.12 0v1" stroke="#faf5ec"/>
<path d="M476.12 0v1" stroke="#faf6ee"/>
<path d="M478.12 0v1" stroke="#f9f6f0"/>
<path d="M480.12 0v1" stroke="#fcf7ec"/>
<path d="M482.12 0v1" stroke="#f9f6ee"/>
<path d="M484.12 0v1" stroke="#fbf6ed"/>
<path d="M486.12 0v1" stroke="#fcf6eb"/>
<path d="M488.12 0v1" stroke="#f9f6ee"/>
</g>
<g transform="translate(0 737.32) scale(1 16.88)" stroke-width="2.25">
<path d="M290.12 0v1" stroke="#f4f1f5"/>
<path d="M292.12 0v1" stroke="#f5f2f7"/>
<path d="M294.12 0v1" stroke="#f8f5f8"/>
<path d="M296.12 0v1" stroke="#f6f3f7"/>
<path d="M298.12 0v1" stroke="#f8f5f8"/>
<path d="M300.12 0v1" stroke="#f7f5f7"/>
<path d="M302.12 0v1" stroke="#f5f2f5"/>
<path d="M304.12 0v1" stroke="#f6f3f6"/>
<path d="M306.12 0v1" stroke="#f8f5f8"/>
<path d="M308.12 0v1" stroke="#fbf8fa"/>
<path d="M310.12 0v1" stroke="#f8f5f8"/>
<path d="M312.12 0v1" stroke="#f6f3f6"/>
<path d="M314.12 0v1" stroke="#fbf9fb"/>
<path d="M316.12 0v1" stroke="#f8f5f7"/>
<path d="M318.12 0v1" stroke="#f9f7f9"/>
<path d="M320.12 0v1" stroke="#f7f4f6"/>
<path d="M322.12 0v1" stroke="#f9f6f8"/>
<path d="M324.12 0v1" stroke="#f6f3f5"/>
<path d="M326.12 0v1" stroke="#f8f5f7"/>
<path d="M328.12 0v1" stroke="#f9f5f7"/>
<path d="M330.12 0v1" stroke="#f9f5f7"/>
<path d="M332.12 0v1" stroke="#f8f5f6"/>
<path d="M334.12 0v1" stroke="#f6f3f5"/>
<path d="M336.12 0v1" stroke="#f8f6f7"/>
<path d="M338.12 0v1" stroke="#f8f6f7"/>
<path d="M340.12 0v1" stroke="#f9f6f8"/>
<path d="M342.12 0v1" stroke="#f5f2f3"/>
<path d="M344.12 0v1" stroke="#f6f3f5"/>
<path d="M346.12 0v1" stroke="#faf8f9"/>
<path d="M348.12 0v1" stroke="#f9f6f7"/>
<path d="M350.12 0v1" stroke="#f9f7f8"/>
<path d="M352.12 0v1" stroke="#faf7f9"/>
<path d="M354.12 0v1" stroke="#f7f4f5"/>
<path d="M356.12 0v1" stroke="#f9f7f8"/>
<path d="M358.12 0v1" stroke="#f8f5f6"/>
<path d="M360.12 0v1" stroke="#f9f6f7"/>
<path d="M362.12 0v1" stroke="#f6f3f4"/>
<path d="M364.12 0v1" stroke="#faf7f7"/>
<path d="M366.12 0v1" stroke="#f7f5f5"/>
<path d="M368.12 0v1" stroke="#faf8f8"/>
<path d="M370.12 0v1" stroke="#f7f4f4"/>
<path d="M372.12 0v1" stroke="#f7f4f5"/>
<path d="M374.12 0v1" stroke="#f9f6f6"/>
<path d="M376.12 0v1" stroke="#f8f5f6"/>
<path d="M378.12 0v1" stroke="#f7f3f4"/>
<path d="M380.12 0v1" stroke="#f9f6f6"/>
<path d="M382.12 0v1" stroke="#faf7f7"/>
<path d="M384.12 0v1" stroke="#fbf9f9"/>
<path d="M386.12 0v1" stroke="#faf7f7"/>
<path d="M388.12 0v1" stroke="#fbf8f8"/>
<path d="M390.12 0v1" stroke="#f9f6f6"/>
<path d="M392.12 0v1" stroke="#f6f3f2"/>
<path d="M394.12 0v1" stroke="#f9f7f7"/>
<path d="M396.12 0v1" stroke="#faf6f5"/>
<path d="M398.12 0v1" stroke="#f7f4f3"/>
<path d="M400.12 0v1" stroke="#f9f6f6"/>
<path d="M402.12 0v1" stroke="#f9f6f6"/>
<path d="M404.12 0v1" stroke="#f8f6f5"/>
<path d="M406.12 0v1" stroke="#f9f5f4"/>
<path d="M408.12 0v1" stroke="#f9f5f4"/>
<path d="M410.12 0v1" stroke="#f7f4f2"/>
<path d="M412.12 0v1" stroke="#faf7f7"/>
<path d="M414.12 0v1" stroke="#fcfaf9"/>
<path d="M416.12 0v1" stroke="#f7f3f2"/>
<path d="M418.12 0v1" stroke="#f9f7f6"/>
<path d="M420.12 0v1" stroke="#f8f5f4"/>
<path d="M422.12 0v1" stroke="#f9f7f6"/>
<path d="M424.12 0v1" stroke="#fbf9f7"/>
<path d="M426.12 0v1" stroke="#fbf9f8"/>
<path d="M428.12 0v1" stroke="#faf7f6"/>
<path d="M430.12 0v1" stroke="#fbf9f8"/>
<path d="M432.12 0v1" stroke="#fbf8f7"/>
<path d="M434.12 0v1" stroke="#f9f7f6"/>
<path d="M436.12 0v1" stroke="#faf8f6"/>
<path d="M438.12 0v1" stroke="#f8f5f3"/>
<path d="M440.12 0v1" stroke="#faf7f5"/>
<path d="M442.12 0v1" stroke="#f9f7f5"/>
<path d="M444.12 0v1" stroke="#fcfaf9"/>
<path d="M446.12 0v1" stroke="#f8f6f4"/>
<path d="M448.12 0v1" stroke="#f7f4f1"/>
<path d="M450.12 0v1" stroke="#f9f7f6"/>
<path d="M452.12 0v1" stroke="#fcfaf8"/>
<path d="M454.12 0v1" stroke="#f9f5f2"/>
<path d="M456.12 0v1" stroke="#fbf7f4"/>
<path d="M458.12 0v1" stroke="#f7f5f2"/>
<path d="M460.12 0v1" stroke="#fbf8f6"/>
<path d="M462.12 0v1" stroke="#fcf9f6"/>
<path d="M464.12 0v1" stroke="#fbf8f6"/>
<path d="M466.12 0v1" stroke="#f9f5f2"/>
<path d="M468.12 0v1" stroke="#faf8f5"/>
<path d="M470.12 0v1" stroke="#f9f6f3"/>
<path d="M472.12 0v1" stroke="#f9f6f2"/>
<path d="M474.12 0v1" stroke="#f8f5f1"/>
<path d="M476.12 0v1" stroke="#f9f7f4"/>
<path d="M478.12 0v1" stroke="#f8f6f3"/>
<path d="M480.12 0v1" stroke="#fbf8f3"/>
<path d="M482.12 0v1" stroke="#f8f5f1"/>
<path d="M484.12 0v1" stroke="#faf7f4"/>
<path d="M486.12 0v1" stroke="#fbf8f4"/>
<path d="M488.12 0v1" stroke="#f8f6f3"/>
</g>
</g>
<line x1="288.6" y1="671.0" x2="288.6" y2="753.9" stroke="#9a9a9a" stroke-width="1.1"/>
<g clip-path="url(#hc5)">
<path d="M281.6 713.6 282.3 713.4 282.9 713.6 283.6 713.5 284.3 713.5 284.9 713.4 285.6 714.1 M290.3 683.7 L291.0 683.9 291.6 685.3 292.3 688.3 293.0 691.0 293.7 693.8 294.3 695.9 295.0 696.2 295.7 697.1 296.3 698.2 297.0 699.2 297.7 699.9 298.3 700.0 299.0 700.5 299.7 701.1 300.4 702.0 301.0 701.8 301.7 703.5 302.4 703.2 303.0 703.8 303.7 704.9 304.4 704.5 305.0 705.3 305.7 705.7 306.4 706.8 307.0 707.0 307.7 708.0 308.4 708.2 309.1 709.3 309.7 709.1 310.4 709.1 311.1 709.6 311.7 708.8 312.4 710.0 313.1 709.5 313.7 709.4 314.4 709.3 315.1 709.6 315.8 709.1 316.4 708.9 317.1 708.7 317.8 708.9 318.4 709.2 319.1 708.2 319.8 708.8 320.4 708.4 321.1 708.4 321.8 708.7 322.5 708.3 323.1 707.7 323.8 707.9 324.5 707.4 325.1 707.9 325.8 707.5 326.5 708.4 327.1 708.1 327.8 707.1 328.5 708.5 329.1 707.9 329.8 708.0 330.5 708.7 331.2 709.2 331.8 709.3 332.5 708.6 333.2 708.5 333.8 709.5 334.5 709.3 335.2 709.0 335.8 710.1 336.5 709.6 337.2 709.8 337.9 709.5 338.5 710.0 339.2 710.1 339.9 710.2 340.5 710.0 341.2 710.1 341.9 710.5 342.5 710.3 343.2 710.5 343.9 710.6 344.6 710.6 345.2 710.8 345.9 710.7 346.6 711.1 347.2 710.8 347.9 710.3 348.6 710.6 349.2 710.7 349.9 710.6 350.6 711.1 351.2 710.1 351.9 710.9 352.6 710.9 353.3 710.3 353.9 710.3 354.6 711.6 355.3 710.9 355.9 710.9 356.6 710.5 357.3 711.2 357.9 710.7 358.6 710.8 359.3 711.1 360.0 711.4 360.6 711.0 361.3 710.6 362.0 711.1 362.6 710.6 363.3 711.5 364.0 711.1 364.6 710.9 365.3 711.0 366.0 711.2 366.7 711.6 367.3 711.8 368.0 711.7 368.7 711.0 369.3 711.3 370.0 711.8 370.7 711.5 371.3 711.8 372.0 711.3 372.7 711.2 373.3 711.8 374.0 712.0 374.7 712.4 375.4 712.0 376.0 712.2 376.7 712.7 377.4 712.5 378.0 712.2 378.7 712.0 379.4 712.6 380.0 712.2 380.7 713.0 381.4 712.7 382.1 712.8 382.7 713.2 383.4 712.8 384.1 713.0 384.7 712.7 385.4 713.0 386.1 713.1 386.7 713.1 387.4 713.6 388.1 713.1 388.8 713.5 389.4 713.1 390.1 713.4 390.8 712.7 391.4 713.8 392.1 713.7 392.8 713.7 393.4 713.5 394.1 713.6 394.8 713.6 395.5 713.7 396.1 714.2 396.8 713.3 397.5 714.9 398.1 714.2 398.8 713.8 399.5 714.6 400.1 713.5 400.8 713.8 401.5 713.1 402.1 714.1 402.8 713.4 403.5 713.5 404.2 713.7 404.8 712.9 405.5 713.3 406.2 713.2 406.8 713.6 407.5 713.3 408.2 712.2 408.8 713.0 409.5 712.2 410.2 712.4 410.9 712.5 411.5 713.3 412.2 711.8 412.9 712.3 413.5 712.1 414.2 712.5 414.9 712.5 415.5 712.2 416.2 712.0 416.9 712.7 417.6 712.4 418.2 713.0 418.9 713.2 419.6 713.3 420.2 712.9 420.9 712.9 421.6 713.1 422.2 713.5 422.9 713.8 423.6 714.0 424.2 714.1 424.9 714.5 425.6 714.4 426.3 714.9 426.9 715.1 427.6 715.3 428.3 714.6 428.9 715.3 429.6 714.8 430.3 715.1 430.9 715.7 431.6 715.7 432.3 715.3 433.0 716.1 433.6 716.2 434.3 715.5 435.0 715.5 435.6 715.1 436.3 715.6 437.0 716.0 437.6 715.8 438.3 715.8 439.0 715.5 439.7 715.4 440.3 715.0 441.0 715.1 441.7 715.2 442.3 714.8 443.0 714.8 443.7 714.7 444.3 715.0 445.0 714.6 445.7 714.9 446.3 714.5 447.0 714.4 447.7 714.5 448.4 714.5 449.0 714.5 449.7 713.8 450.4 714.2 451.0 714.1 451.7 713.8 452.4 714.2 453.0 714.2 453.7 713.4 454.4 713.8 455.1 713.8 455.7 713.0 456.4 712.6 457.1 713.1 457.7 712.7 458.4 712.5 459.1 713.3 459.7 712.6 460.4 711.9 461.1 712.1 461.8 712.0 462.4 712.0 463.1 711.8 463.8 711.0 464.4 711.7 465.1 711.7 465.8 711.9 466.4 711.7 467.1 711.6 467.8 712.7 468.4 711.9 469.1 712.1 469.8 711.6 470.5 711.8 471.1 711.0 471.8 711.7 472.5 711.8 473.1 711.5 473.8 711.9 474.5 712.4 475.1 711.7 475.8 711.8 476.5 712.0 477.2 711.8 477.8 712.3 478.5 712.1 479.2 711.6 479.8 712.4 480.5 712.0 481.2 712.6 481.8 712.2 482.5 712.7 483.2 712.3 483.9 713.0 484.5 712.9 485.2 713.2 485.9 713.3 486.5 713.2 487.2 713.2" fill="none" stroke="#9c9c9c" stroke-width="2.3" stroke-linejoin="round"/>
<path d="M281.6 712.8 281.9 713.5 282.1 715.2 282.4 715.6 282.6 716.4 282.9 715.1 283.1 713.9 283.4 714.0 283.6 712.1 283.9 711.8 284.1 713.3 284.4 713.2 284.6 712.9 284.9 714.8 285.1 715.6 285.4 715.1 285.6 714.9 285.9 714.2 286.1 712.0 286.4 713.1 286.6 713.5 286.9 712.7 M289.4 687.0 L289.6 685.6 289.9 686.7 290.1 683.5 290.4 681.2 290.6 683.7 290.9 684.9 291.1 686.0 291.4 686.4 291.6 686.4 291.9 686.9 292.1 687.7 292.4 688.9 292.6 690.8 292.9 692.0 293.1 692.8 293.4 695.1 293.6 696.4 293.9 695.0 294.1 694.3 294.4 695.8 294.6 695.7 294.9 693.6 295.1 693.7 295.4 696.3 295.6 697.5 295.9 696.9 296.1 698.2 296.4 697.8 296.6 699.6 296.9 700.9 297.1 698.7 297.4 700.9 297.6 700.4 297.9 698.2 298.1 699.5 298.4 699.3 298.6 699.3 298.9 701.0 299.1 701.7 299.4 701.3 299.6 702.3 299.9 704.4 300.1 705.2 300.4 701.5 300.6 701.5 300.9 704.5 301.1 703.7 301.4 702.2 301.6 701.5 301.9 702.4 302.1 701.7 302.4 703.3 302.6 705.7 302.9 704.6 303.1 703.0 303.4 704.5 303.6 706.2 303.9 706.1 304.1 705.3 304.4 706.7 304.6 707.2 304.9 707.0 305.1 705.4 305.4 704.0 305.6 706.3 305.9 703.7 306.1 703.3 306.4 704.8 306.6 704.3 306.9 705.0 307.1 705.5 307.4 706.8 307.6 708.6 307.9 708.8 308.1 707.7 308.4 707.2 308.6 709.8 308.9 710.1 309.1 708.6 309.4 708.5 309.6 709.2 309.9 710.7 310.1 711.1 310.4 710.7 310.6 710.6 310.9 710.0 311.2 709.9 311.4 709.1 311.7 708.6 311.9 710.4 312.2 709.3 312.4 709.2 312.7 710.5 312.9 708.5 313.2 706.5 313.4 706.1 313.7 706.7 313.9 708.6 314.2 709.8 314.4 710.7 314.7 712.6 314.9 710.9 315.2 706.7 315.4 705.7 315.7 705.7 315.9 706.4 316.2 707.8 316.4 709.7 316.7 708.7 316.9 707.2 317.2 708.4 317.4 708.5 317.7 708.1 317.9 710.3 318.2 710.6 318.4 708.5 318.7 709.4 318.9 709.5 319.2 710.5 319.4 709.1 319.7 707.1 319.9 707.8 320.2 707.8 320.4 709.2 320.7 708.6 320.9 705.8 321.2 706.4 321.4 707.3 321.7 707.8 321.9 709.0 322.2 710.4 322.4 710.7 322.7 707.8 322.9 707.6 323.2 709.4 323.4 709.1 323.7 708.0 323.9 707.7 324.2 707.3 324.4 706.6 324.7 708.2 324.9 709.5 325.2 706.9 325.4 707.6 325.7 709.0 325.9 708.1 326.2 708.3 326.4 709.2 326.7 706.9 326.9 705.7 327.2 708.5 327.4 708.4 327.7 706.2 327.9 705.2 328.2 707.0 328.4 709.7 328.7 707.6 328.9 705.7 329.2 707.9 329.4 708.7 329.7 709.0 329.9 710.0 330.2 710.2 330.4 707.7 330.7 706.7 330.9 707.1 331.2 707.5 331.4 710.1 331.7 711.1 331.9 712.0 332.2 712.4 332.4 711.3 332.7 711.0 332.9 709.3 333.2 708.2 333.4 709.5 333.7 710.5 333.9 710.5 334.2 709.0 334.4 707.4 334.7 707.3 334.9 710.1 335.2 711.2 335.4 710.3 335.7 710.4 335.9 709.5 336.2 709.3 336.4 709.2 336.7 709.5 336.9 710.7 337.2 709.5 337.4 708.8 337.7 709.8 337.9 709.4 338.2 710.3 338.4 712.4 338.7 710.4 338.9 709.1 339.2 711.5 339.4 712.2 339.7 709.6 339.9 709.3 340.2 710.5 340.5 709.6 340.7 710.7 341.0 710.2 341.2 709.7 341.5 711.6 341.7 710.7 342.0 708.9 342.2 711.6 342.5 711.7 342.7 710.9 343.0 711.2 343.2 710.1 343.5 710.3 343.7 710.3 344.0 710.9 344.2 709.7 344.5 709.4 344.7 711.4 345.0 710.8 345.2 707.7 345.5 708.7 345.7 710.1 346.0 710.2 346.2 710.6 346.5 709.5 346.7 709.6 347.0 710.8 347.2 711.3 347.5 709.7 347.7 708.1 348.0 708.1 348.2 710.6 348.5 712.0 348.7 710.0 349.0 709.5 349.2 711.7 349.5 710.9 349.7 709.2 350.0 711.0 350.2 712.1 350.5 712.0 350.7 710.4 351.0 709.8 351.2 708.4 351.5 708.0 351.7 709.7 352.0 709.5 352.2 711.3 352.5 711.7 352.7 710.3 353.0 711.2 353.2 713.2 353.5 711.7 353.7 710.6 354.0 711.2 354.2 709.0 354.5 708.7 354.7 710.5 355.0 710.9 355.2 710.1 355.5 710.4 355.7 710.5 356.0 710.3 356.2 709.5 356.5 710.4 356.7 709.2 357.0 708.8 357.2 710.3 357.5 710.9 357.7 710.5 358.0 707.5 358.2 709.1 358.5 712.4 358.7 710.1 359.0 709.5 359.2 711.6 359.5 710.3 359.7 710.6 360.0 710.7 360.2 711.1 360.5 713.1 360.7 711.8 361.0 710.3 361.2 710.8 361.5 709.3 361.7 708.6 362.0 710.4 362.2 713.3 362.5 714.4 362.7 712.5 363.0 710.5 363.2 710.7 363.5 711.6 363.7 710.0 364.0 709.6 364.2 709.6 364.5 709.4 364.7 707.6 365.0 709.4 365.2 712.1 365.5 709.7 365.7 709.6 366.0 709.0 366.2 709.5 366.5 712.4 366.7 712.9 367.0 711.3 367.2 710.9 367.5 711.3 367.7 711.1 368.0 710.4 368.2 710.9 368.5 711.7 368.7 711.2 369.0 711.2 369.2 710.6 369.5 708.6 369.8 707.9 370.0 710.0 370.3 711.1 370.5 710.8 370.8 710.8 371.0 710.5 371.3 711.4 371.5 710.4 371.8 709.6 372.0 712.4 372.3 715.0 372.5 713.7 372.8 712.1 373.0 711.4 373.3 710.1 373.5 711.5 373.8 713.8 374.0 713.5 374.3 712.8 374.5 711.7 374.8 712.4 375.0 713.4 375.3 711.6 375.5 712.4 375.8 712.3 376.0 710.3 376.3 711.2 376.5 711.2 376.8 710.1 377.0 711.7 377.3 712.9 377.5 711.9 377.8 712.4 378.0 713.0 378.3 713.2 378.5 713.8 378.8 713.9 379.0 712.1 379.3 712.1 379.5 713.2 379.8 712.9 380.0 712.9 380.3 713.2 380.5 713.0 380.8 711.8 381.0 712.6 381.3 712.7 381.5 711.0 381.8 711.2 382.0 712.0 382.3 711.9 382.5 712.0 382.8 711.7 383.0 711.2 383.3 714.7 383.5 714.5 383.8 712.1 384.0 713.2 384.3 712.2 384.5 711.6 384.8 711.2 385.0 710.5 385.3 713.2 385.5 713.4 385.8 710.9 386.0 712.9 386.3 712.5 386.5 712.9 386.8 714.2 387.0 714.3 387.3 713.5 387.5 711.6 387.8 713.2 388.0 713.5 388.3 712.1 388.5 713.4 388.8 714.0 389.0 712.3 389.3 712.4 389.5 713.7 389.8 713.5 390.0 715.3 390.3 716.1 390.5 713.8 390.8 713.5 391.0 714.5 391.3 713.8 391.5 712.7 391.8 713.2 392.0 713.2 392.3 712.9 392.5 710.4 392.8 710.1 393.0 712.8 393.3 714.4 393.5 713.7 393.8 712.7 394.0 713.3 394.3 713.4 394.5 715.5 394.8 716.9 395.0 716.8 395.3 714.4 395.5 711.9 395.8 713.5 396.0 713.3 396.3 713.6 396.5 717.9 396.8 715.9 397.0 713.6 397.3 714.9 397.5 714.4 397.8 714.1 398.0 711.9 398.3 711.6 398.5 712.4 398.8 711.6 399.0 712.3 399.3 713.8 399.6 713.0 399.8 713.3 400.1 714.4 400.3 714.3 400.6 714.6 400.8 713.5 401.1 715.4 401.3 716.5 401.6 715.1 401.8 714.3 402.1 713.3 402.3 714.4 402.6 713.6 402.8 713.0 403.1 715.3 403.3 714.7 403.6 713.4 403.8 712.5 404.1 712.5 404.3 713.9 404.6 713.7 404.8 713.9 405.1 713.5 405.3 712.8 405.6 714.1 405.8 715.2 406.1 714.4 406.3 715.2 406.6 714.8 406.8 713.0 407.1 713.7 407.3 716.0 407.6 715.0 407.8 712.5 408.1 712.5 408.3 712.2 408.6 711.3 408.8 712.4 409.1 714.5 409.3 714.4 409.6 713.7 409.8 712.8 410.1 713.0 410.3 713.6 410.6 712.4 410.8 712.3 411.1 711.9 411.3 711.4 411.6 711.6 411.8 712.6 412.1 712.7 412.3 712.3 412.6 711.7 412.8 711.4 413.1 713.4 413.3 713.1 413.6 711.7 413.8 711.1 414.1 712.0 414.3 712.6 414.6 712.0 414.8 710.7 415.1 709.7 415.3 710.7 415.6 711.2 415.8 711.9 416.1 713.3 416.3 713.2 416.6 712.0 416.8 711.6 417.1 712.7 417.3 711.5 417.6 711.8 417.8 714.0 418.1 712.8 418.3 712.2 418.6 712.8 418.8 713.9 419.1 714.5 419.3 712.8 419.6 709.2 419.8 711.9 420.1 715.7 420.3 713.4 420.6 711.1 420.8 711.1 421.1 711.6 421.3 713.5 421.6 715.4 421.8 712.4 422.1 712.3 422.3 713.6 422.6 713.4 422.8 713.3 423.1 711.1 423.3 710.3 423.6 712.2 423.8 714.6 424.1 716.1 424.3 716.6 424.6 715.3 424.8 714.3 425.1 715.0 425.3 714.7 425.6 715.3 425.8 715.1 426.1 714.3 426.3 714.9 426.6 715.0 426.8 716.4 427.1 716.5 427.3 715.8 427.6 715.9 427.8 715.4 428.1 716.5 428.3 716.0 428.6 714.6 428.9 715.9 429.1 716.5 429.4 715.8 429.6 715.2 429.9 713.9 430.1 714.3 430.4 715.1 430.6 716.0 430.9 716.9 431.1 713.7 431.4 713.6 431.6 716.5 431.9 716.2 432.1 715.7 432.4 716.2 432.6 716.4 432.9 715.1 433.1 714.9 433.4 717.1 433.6 715.6 433.9 714.8 434.1 713.9 434.4 713.9 434.6 717.2 434.9 717.7 435.1 715.2 435.4 716.3 435.6 717.9 435.9 717.0 436.1 715.8 436.4 713.9 436.6 714.2 436.9 715.2 437.1 716.2 437.4 714.8 437.6 714.5 437.9 716.6 438.1 717.3 438.4 716.1 438.6 714.6 438.9 716.3 439.1 717.1 439.4 715.2 439.6 714.9 439.9 714.9 440.1 715.0 440.4 715.0 440.6 715.1 440.9 715.4 441.1 714.6 441.4 713.9 441.6 714.3 441.9 715.5 442.1 716.0 442.4 715.1 442.6 714.9 442.9 717.2 443.1 715.6 443.4 713.9 443.6 714.1 443.9 714.4 444.1 715.9 444.4 715.8 444.6 715.0 444.9 714.0 445.1 712.7 445.4 712.7 445.6 713.9 445.9 713.2 446.1 713.0 446.4 715.4 446.6 715.7 446.9 713.6 447.1 712.0 447.4 712.6 447.6 713.3 447.9 714.4 448.1 714.6 448.4 712.6 448.6 713.3 448.9 713.1 449.1 713.3 449.4 715.1 449.6 716.0 449.9 715.5 450.1 714.1 450.4 715.3 450.6 718.0 450.9 717.2 451.1 713.3 451.4 712.8 451.6 714.2 451.9 714.1 452.1 714.8 452.4 715.6 452.6 714.0 452.9 713.3 453.1 713.1 453.4 713.0 453.6 715.5 453.9 715.3 454.1 713.4 454.4 714.6 454.6 714.5 454.9 712.3 455.1 712.8 455.4 712.7 455.6 712.1 455.9 712.6 456.1 711.5 456.4 713.7 456.6 714.2 456.9 713.5 457.1 713.6 457.4 713.0 457.6 714.1 457.9 715.2 458.2 714.2 458.4 711.7 458.7 712.2 458.9 712.5 459.2 710.7 459.4 711.6 459.7 712.7 459.9 711.3 460.2 711.0 460.4 712.0 460.7 710.8 460.9 710.4 461.2 711.2 461.4 711.4 461.7 711.0 461.9 712.7 462.2 713.2 462.4 710.5 462.7 710.0 462.9 711.3 463.2 712.3 463.4 709.9 463.7 710.0 463.9 711.5 464.2 710.2 464.4 710.7 464.7 711.4 464.9 711.0 465.2 711.9 465.4 711.1 465.7 711.3 465.9 711.1 466.2 708.7 466.4 709.0 466.7 711.2 466.9 711.9 467.2 710.2 467.4 711.4 467.7 714.2 467.9 712.3 468.2 712.1 468.4 712.9 468.7 711.9 468.9 713.6 469.2 714.0 469.4 710.1 469.7 709.4 469.9 710.2 470.2 709.9 470.4 711.1 470.7 711.1 470.9 712.4 471.2 712.5 471.4 711.4 471.7 711.2 471.9 712.0 472.2 713.3 472.4 715.5 472.7 714.2 472.9 711.4 473.2 711.4 473.4 710.9 473.7 711.7 473.9 711.8 474.2 710.2 474.4 711.4 474.7 714.0 474.9 713.5 475.2 712.8 475.4 712.9 475.7 711.4 475.9 711.6 476.2 712.5 476.4 711.4 476.7 712.4 476.9 713.3 477.2 713.2 477.4 713.5 477.7 712.1 477.9 711.2 478.2 712.0 478.4 712.6 478.7 711.7 478.9 712.0 479.2 711.8 479.4 711.8 479.7 713.1 479.9 710.4 480.2 708.5 480.4 711.0 480.7 712.6 480.9 713.6 481.2 713.6 481.4 712.1 481.7 712.2 481.9 711.7 482.2 712.3 482.4 714.8 482.7 714.8 482.9 712.8 483.2 714.4 483.4 714.2 483.7 711.1 483.9 712.9 484.2 714.4 484.4 713.1 484.7 711.8 484.9 712.6 485.2 713.3 485.4 713.1 485.7 712.4 485.9 711.1 486.2 713.2 486.4 715.2 486.7 713.5 486.9 714.1 487.2 713.9" fill="none" stroke="#858585" stroke-width="0.75" stroke-linejoin="round"/>
<path d="M286.9 712.7 L287.1 714.0 287.4 714.0 287.6 713.6 287.9 709.9 288.1 704.1 288.4 697.5 288.6 692.1 288.9 689.5 289.1 688.1 289.4 687.0" fill="none" stroke="#999" stroke-width="0.7" stroke-linejoin="round"/>
</g>
<line x1="350.5" y1="698.7" x2="350.5" y2="710" stroke="#999" stroke-width="0.6"/>
<rect x="281.6" y="671.0" width="205.9" height="82.9" fill="none" stroke="#555" stroke-width="0.7"/>
<path d="M281.6 679.3 h2.2 M487.5 679.3 h-2.2" stroke="#555" stroke-width="0.6"/>
<text x="278.2" y="682.1" font-size="7.9" text-anchor="end" font-weight="normal" fill="#1a1a1a" stroke="#1a1a1a" stroke-width="0.2" >60</text>
<path d="M281.6 695.9 h2.2 M487.5 695.9 h-2.2" stroke="#555" stroke-width="0.6"/>
<text x="278.2" y="698.7" font-size="7.9" text-anchor="end" font-weight="normal" fill="#1a1a1a" stroke="#1a1a1a" stroke-width="0.2" >50</text>
<path d="M281.6 712.5 h2.2 M487.5 712.5 h-2.2" stroke="#555" stroke-width="0.6"/>
<text x="278.2" y="715.2" font-size="7.9" text-anchor="end" font-weight="normal" fill="#1a1a1a" stroke="#1a1a1a" stroke-width="0.2" >40</text>
<path d="M281.6 729.0 h2.2 M487.5 729.0 h-2.2" stroke="#555" stroke-width="0.6"/>
<text x="278.2" y="731.8" font-size="7.9" text-anchor="end" font-weight="normal" fill="#1a1a1a" stroke="#1a1a1a" stroke-width="0.2" >30</text>
<path d="M281.6 745.6 h2.2 M487.5 745.6 h-2.2" stroke="#555" stroke-width="0.6"/>
<text x="278.2" y="748.4" font-size="7.9" text-anchor="end" font-weight="normal" fill="#1a1a1a" stroke="#1a1a1a" stroke-width="0.2" >0</text>
<path d="M288.5 753.9 v-2.2 M288.5 671.0 v2.2" stroke="#555" stroke-width="0.6"/>
<text x="288.5" y="763.5" font-size="7.9" text-anchor="middle" font-weight="normal" fill="#1a1a1a" stroke="#1a1a1a" stroke-width="0.2" >0</text>
<path d="M339.6 753.9 v-2.2 M339.6 671.0 v2.2" stroke="#555" stroke-width="0.6"/>
<text x="339.6" y="763.5" font-size="7.9" text-anchor="middle" font-weight="normal" fill="#1a1a1a" stroke="#1a1a1a" stroke-width="0.2" >100</text>
<path d="M390.8 753.9 v-2.2 M390.8 671.0 v2.2" stroke="#555" stroke-width="0.6"/>
<text x="390.8" y="763.5" font-size="7.9" text-anchor="middle" font-weight="normal" fill="#1a1a1a" stroke="#1a1a1a" stroke-width="0.2" >200</text>
<path d="M441.9 753.9 v-2.2 M441.9 671.0 v2.2" stroke="#555" stroke-width="0.6"/>
<text x="441.9" y="763.5" font-size="7.9" text-anchor="middle" font-weight="normal" fill="#1a1a1a" stroke="#1a1a1a" stroke-width="0.2" >300</text>
<path d="M286.4 754.5 L288.5 751.3 L290.6 754.5 Z" fill="#111"/>
<text x="383.3" y="773.7" font-size="7.9" text-anchor="middle" font-weight="normal" fill="#1a1a1a" stroke="#1a1a1a" stroke-width="0.2" >Time (ms)</text>
<text x="0" y="0" font-size="7.9" text-anchor="middle" fill="#222" stroke="#222" stroke-width="0.2" transform="translate(263.2 712.5) rotate(-90)">Stimulus (µA)</text>
<text x="384.5" y="666.0" font-size="7.9" text-anchor="middle" font-weight="bold" fill="#111" stroke="#111" stroke-width="0" >0.5 ms</text>
<line x1="460.6" y1="677.2" x2="460.6" y2="690.5" stroke="#333" stroke-width="0.7"/>
<text x="465.6" y="686.5" font-size="7.9" text-anchor="start" font-weight="normal" fill="#111" stroke="#111" stroke-width="0.2" >1 mV</text>
<text x="455.5" y="727.4" font-size="7.9" text-anchor="start" font-weight="normal" fill="#999" stroke="#999" stroke-width="0.2" >60 µA</text>
<rect x="499.3" y="671.0" width="16.4" height="83.7" fill="url(#cb)" stroke="#444" stroke-width="0.6"/>
<path d="M515.7 687.2 h-1.8 M499.3 687.2 h1.8" stroke="#444" stroke-width="0.5"/>
<text x="517.2" y="690.0" font-size="7.9" text-anchor="start" font-weight="normal" fill="#1a1a1a" stroke="#1a1a1a" stroke-width="0.2" >2</text>
<path d="M515.7 713.4 h-1.8 M499.3 713.4 h1.8" stroke="#444" stroke-width="0.5"/>
<text x="517.2" y="716.2" font-size="7.9" text-anchor="start" font-weight="normal" fill="#1a1a1a" stroke="#1a1a1a" stroke-width="0.2" >0</text>
<path d="M515.7 739.1 h-1.8 M499.3 739.1 h1.8" stroke="#444" stroke-width="0.5"/>
<text x="517.2" y="741.9" font-size="7.9" text-anchor="start" font-weight="normal" fill="#1a1a1a" stroke="#1a1a1a" stroke-width="0.2" >−2</text>
<text x="489.3" y="764.2" font-size="7.9" fill="#222" stroke="#222" stroke-width="0.2">Mean ΔV<tspan font-size="6.0" dy="2.8">m</tspan></text>
<rect x="281.6" y="800.3" width="7.4" height="82.8" fill="#f3f4f6"/>
<clipPath id="hc6"><rect x="281.6" y="800.3" width="205.9" height="82.8"/></clipPath><g clip-path="url(#hc6)">
<g transform="translate(0 800.30) scale(1 16.86)" stroke-width="2.25">
<path d="M290.12 0v1" stroke="#eeba64"/>
<path d="M292.12 0v1" stroke="#5969a3"/>
<path d="M294.12 0v1" stroke="#404f8a"/>
<path d="M296.12 0v1" stroke="#1b2969"/>
<path d="M298.12 0v1" stroke="#1a2868"/>
<path d="M300.12 0v1" stroke="#25326f"/>
<path d="M302.12 0v1" stroke="#1f2d6c"/>
<path d="M304.12 0v1" stroke="#3c4a85"/>
<path d="M306.12 0v1" stroke="#7282b5"/>
<path d="M308.12 0v1" stroke="#d3d7e5"/>
<path d="M310.12 0v1" stroke="#f1e2bd"/>
<path d="M312.12 0v1" stroke="#f3d282"/>
<path d="M314.12 0v1" stroke="#efba3e"/>
<path d="M316.12 0v1" stroke="#f3cc70"/>
<path d="M318.12 0v1" stroke="#f4ca6b"/>
<path d="M320.12 0v1" stroke="#f5cb68"/>
<path d="M322.12 0v1" stroke="#f4d389"/>
<path d="M324.12 0v1" stroke="#f8f2e7"/>
<path d="M326.12 0v1" stroke="#cacddf"/>
<path d="M328.12 0v1" stroke="#afb5d1"/>
<path d="M330.12 0v1" stroke="#a9b0ce"/>
<path d="M332.12 0v1" stroke="#9fa6c7"/>
<path d="M334.12 0v1" stroke="#979fc3"/>
<path d="M336.12 0v1" stroke="#9ca3c5"/>
<path d="M338.12 0v1" stroke="#b4bad3"/>
<path d="M340.12 0v1" stroke="#e3e6ef"/>
<path d="M342.12 0v1" stroke="#eaebf0"/>
<path d="M344.12 0v1" stroke="#f5f3f2"/>
<path d="M346.12 0v1" stroke="#f3deae"/>
<path d="M348.12 0v1" stroke="#f4dca2"/>
<path d="M350.12 0v1" stroke="#f4d68b"/>
<path d="M352.12 0v1" stroke="#f3c54f"/>
<path d="M354.12 0v1" stroke="#f4d17a"/>
<path d="M356.12 0v1" stroke="#f3ce70"/>
<path d="M358.12 0v1" stroke="#f3c85a"/>
<path d="M360.12 0v1" stroke="#f3c95d"/>
<path d="M362.12 0v1" stroke="#f1c453"/>
<path d="M364.12 0v1" stroke="#f6e2b1"/>
<path d="M366.12 0v1" stroke="#f9efd9"/>
<path d="M368.12 0v1" stroke="#f6f0e4"/>
<path d="M370.12 0v1" stroke="#f5f1eb"/>
<path d="M372.12 0v1" stroke="#f6f4f4"/>
<path d="M374.12 0v1" stroke="#eeeff5"/>
<path d="M376.12 0v1" stroke="#e1e4ee"/>
<path d="M378.12 0v1" stroke="#d1d5e8"/>
<path d="M380.12 0v1" stroke="#dde0ed"/>
<path d="M382.12 0v1" stroke="#dadded"/>
<path d="M384.12 0v1" stroke="#d9dcec"/>
<path d="M386.12 0v1" stroke="#e5e7f1"/>
<path d="M388.12 0v1" stroke="#e3e5f1"/>
<path d="M390.12 0v1" stroke="#dfe2ef"/>
<path d="M392.12 0v1" stroke="#efeff4"/>
<path d="M394.12 0v1" stroke="#f9f5ed"/>
<path d="M396.12 0v1" stroke="#f7e0b1"/>
<path d="M398.12 0v1" stroke="#f6da9f"/>
<path d="M400.12 0v1" stroke="#faeac9"/>
<path d="M402.12 0v1" stroke="#f5dba1"/>
<path d="M404.12 0v1" stroke="#f6e2b7"/>
<path d="M406.12 0v1" stroke="#f8e1af"/>
<path d="M408.12 0v1" stroke="#f6e0af"/>
<path d="M410.12 0v1" stroke="#f5dca5"/>
<path d="M412.12 0v1" stroke="#f7e3b5"/>
<path d="M414.12 0v1" stroke="#f7dda3"/>
<path d="M416.12 0v1" stroke="#f7efdc"/>
<path d="M418.12 0v1" stroke="#f9f6f1"/>
<path d="M420.12 0v1" stroke="#f7f3ed"/>
<path d="M422.12 0v1" stroke="#f7f4f1"/>
<path d="M424.12 0v1" stroke="#f9f7f2"/>
<path d="M426.12 0v1" stroke="#f7f3ed"/>
<path d="M428.12 0v1" stroke="#f6f3ed"/>
<path d="M430.12 0v1" stroke="#f8f4ef"/>
<path d="M432.12 0v1" stroke="#f9f6f2"/>
<path d="M434.12 0v1" stroke="#f8f4ef"/>
<path d="M436.12 0v1" stroke="#faf8f4"/>
<path d="M438.12 0v1" stroke="#f7f4f1"/>
<path d="M440.12 0v1" stroke="#faf7f3"/>
<path d="M442.12 0v1" stroke="#f6f3ee"/>
<path d="M444.12 0v1" stroke="#f8f1e6"/>
<path d="M446.12 0v1" stroke="#f8ecd4"/>
<path d="M448.12 0v1" stroke="#f6e8ce"/>
<path d="M450.12 0v1" stroke="#f7ead2"/>
<path d="M452.12 0v1" stroke="#fbf1de"/>
<path d="M454.12 0v1" stroke="#f9edd5"/>
<path d="M456.12 0v1" stroke="#f6e8cc"/>
<path d="M458.12 0v1" stroke="#f8edd9"/>
<path d="M460.12 0v1" stroke="#f9eeda"/>
<path d="M462.12 0v1" stroke="#faf0dd"/>
<path d="M464.12 0v1" stroke="#fcf3e1"/>
<path d="M466.12 0v1" stroke="#f7edd9"/>
<path d="M468.12 0v1" stroke="#f7ebd4"/>
<path d="M470.12 0v1" stroke="#f7ead1"/>
<path d="M472.12 0v1" stroke="#f9f2e6"/>
<path d="M474.12 0v1" stroke="#f8f4ed"/>
<path d="M476.12 0v1" stroke="#faf6ef"/>
<path d="M478.12 0v1" stroke="#fcf9f4"/>
<path d="M480.12 0v1" stroke="#fcf9f3"/>
<path d="M482.12 0v1" stroke="#f8f3ed"/>
<path d="M484.12 0v1" stroke="#faf7f2"/>
<path d="M486.12 0v1" stroke="#f8f4ed"/>
<path d="M488.12 0v1" stroke="#faf7f3"/>
</g>
<g transform="translate(0 816.86) scale(1 16.86)" stroke-width="2.25">
<path d="M290.12 0v1" stroke="#f6eddc"/>
<path d="M292.12 0v1" stroke="#cbd0e0"/>
<path d="M294.12 0v1" stroke="#bdc2d9"/>
<path d="M296.12 0v1" stroke="#a4accb"/>
<path d="M298.12 0v1" stroke="#949dc2"/>
<path d="M300.12 0v1" stroke="#afb6d2"/>
<path d="M302.12 0v1" stroke="#aab1d0"/>
<path d="M304.12 0v1" stroke="#c0c6dc"/>
<path d="M306.12 0v1" stroke="#d7dbe9"/>
<path d="M308.12 0v1" stroke="#f2f2f4"/>
<path d="M310.12 0v1" stroke="#f9f4ea"/>
<path d="M312.12 0v1" stroke="#faf2e1"/>
<path d="M314.12 0v1" stroke="#f7eaca"/>
<path d="M316.12 0v1" stroke="#faf1dc"/>
<path d="M318.12 0v1" stroke="#faf1da"/>
<path d="M320.12 0v1" stroke="#fcf3de"/>
<path d="M322.12 0v1" stroke="#faf0d6"/>
<path d="M324.12 0v1" stroke="#f7f3e9"/>
<path d="M326.12 0v1" stroke="#ecedf0"/>
<path d="M328.12 0v1" stroke="#e5e7f0"/>
<path d="M330.12 0v1" stroke="#edeff5"/>
<path d="M332.12 0v1" stroke="#e8eaf1"/>
<path d="M334.12 0v1" stroke="#e8eaf1"/>
<path d="M336.12 0v1" stroke="#e9ebf1"/>
<path d="M338.12 0v1" stroke="#eceef3"/>
<path d="M340.12 0v1" stroke="#eceef3"/>
<path d="M342.12 0v1" stroke="#f0f0f4"/>
<path d="M344.12 0v1" stroke="#f6f4f3"/>
<path d="M346.12 0v1" stroke="#f8f2e7"/>
<path d="M348.12 0v1" stroke="#f9f3e6"/>
<path d="M350.12 0v1" stroke="#faf1e0"/>
<path d="M352.12 0v1" stroke="#fbefd8"/>
<path d="M354.12 0v1" stroke="#faf2e2"/>
<path d="M356.12 0v1" stroke="#faf1e0"/>
<path d="M358.12 0v1" stroke="#fbf1dc"/>
<path d="M360.12 0v1" stroke="#faefda"/>
<path d="M362.12 0v1" stroke="#f8edd7"/>
<path d="M364.12 0v1" stroke="#faf2e2"/>
<path d="M366.12 0v1" stroke="#fbf4e7"/>
<path d="M368.12 0v1" stroke="#f9f7f4"/>
<path d="M370.12 0v1" stroke="#faf8f5"/>
<path d="M372.12 0v1" stroke="#fbf9f6"/>
<path d="M374.12 0v1" stroke="#faf8f5"/>
<path d="M376.12 0v1" stroke="#f9f7f5"/>
<path d="M378.12 0v1" stroke="#faf8f4"/>
<path d="M380.12 0v1" stroke="#faf8f6"/>
<path d="M382.12 0v1" stroke="#fcfaf7"/>
<path d="M384.12 0v1" stroke="#fbf9f6"/>
<path d="M386.12 0v1" stroke="#fbf9f8"/>
<path d="M388.12 0v1" stroke="#fcf9f6"/>
<path d="M390.12 0v1" stroke="#faf8f5"/>
<path d="M392.12 0v1" stroke="#f9f6f3"/>
<path d="M394.12 0v1" stroke="#fbf9f6"/>
<path d="M396.12 0v1" stroke="#faf8f5"/>
<path d="M398.12 0v1" stroke="#faf8f5"/>
<path d="M400.12 0v1" stroke="#fcfbf9"/>
<path d="M402.12 0v1" stroke="#f9f6f3"/>
<path d="M404.12 0v1" stroke="#faf8f5"/>
<path d="M406.12 0v1" stroke="#fbf9f6"/>
<path d="M408.12 0v1" stroke="#faf8f6"/>
<path d="M410.12 0v1" stroke="#f9f6f3"/>
<path d="M412.12 0v1" stroke="#faf8f6"/>
<path d="M414.12 0v1" stroke="#fbf8f5"/>
<path d="M416.12 0v1" stroke="#faf8f6"/>
<path d="M418.12 0v1" stroke="#fbf8f5"/>
<path d="M420.12 0v1" stroke="#f9f7f3"/>
<path d="M422.12 0v1" stroke="#f9f7f5"/>
<path d="M424.12 0v1" stroke="#fcfaf7"/>
<path d="M426.12 0v1" stroke="#f9f7f3"/>
<path d="M428.12 0v1" stroke="#f9f7f4"/>
<path d="M430.12 0v1" stroke="#fbf9f5"/>
<path d="M432.12 0v1" stroke="#fbf8f5"/>
<path d="M434.12 0v1" stroke="#fbf8f4"/>
<path d="M436.12 0v1" stroke="#fcfaf7"/>
<path d="M438.12 0v1" stroke="#f9f7f4"/>
<path d="M440.12 0v1" stroke="#fcf9f6"/>
<path d="M442.12 0v1" stroke="#f8f6f3"/>
<path d="M444.12 0v1" stroke="#f9f8f5"/>
<path d="M446.12 0v1" stroke="#f9f7f4"/>
<path d="M448.12 0v1" stroke="#f8f5f2"/>
<path d="M450.12 0v1" stroke="#f7f4f0"/>
<path d="M452.12 0v1" stroke="#fbf9f6"/>
<path d="M454.12 0v1" stroke="#faf8f5"/>
<path d="M456.12 0v1" stroke="#f7f4f0"/>
<path d="M458.12 0v1" stroke="#f8f6f3"/>
<path d="M460.12 0v1" stroke="#faf8f6"/>
<path d="M462.12 0v1" stroke="#fbf9f7"/>
<path d="M464.12 0v1" stroke="#fcfbf8"/>
<path d="M466.12 0v1" stroke="#f8f7f4"/>
<path d="M468.12 0v1" stroke="#f8f6f3"/>
<path d="M470.12 0v1" stroke="#f8f5f2"/>
<path d="M472.12 0v1" stroke="#f9f8f5"/>
<path d="M474.12 0v1" stroke="#f8f6f3"/>
<path d="M476.12 0v1" stroke="#fbf9f6"/>
<path d="M478.12 0v1" stroke="#fcfaf8"/>
<path d="M480.12 0v1" stroke="#fcf9f6"/>
<path d="M482.12 0v1" stroke="#f8f5f2"/>
<path d="M484.12 0v1" stroke="#fbf9f7"/>
<path d="M486.12 0v1" stroke="#f7f5f1"/>
<path d="M488.12 0v1" stroke="#faf8f5"/>
</g>
<g transform="translate(0 833.42) scale(1 16.86)" stroke-width="2.25">
<path d="M290.12 0v1" stroke="#ebe9e9"/>
<path d="M292.12 0v1" stroke="#d5dae6"/>
<path d="M294.12 0v1" stroke="#cdd3e1"/>
<path d="M296.12 0v1" stroke="#c5cddc"/>
<path d="M298.12 0v1" stroke="#c6cedd"/>
<path d="M300.12 0v1" stroke="#d5dbe5"/>
<path d="M302.12 0v1" stroke="#dadfe9"/>
<path d="M304.12 0v1" stroke="#f2f3f6"/>
<path d="M306.12 0v1" stroke="#f8f7f5"/>
<path d="M308.12 0v1" stroke="#faf7f4"/>
<path d="M310.12 0v1" stroke="#fcf9f5"/>
<path d="M312.12 0v1" stroke="#faf7f3"/>
<path d="M314.12 0v1" stroke="#f8f5f0"/>
<path d="M316.12 0v1" stroke="#faf8f3"/>
<path d="M318.12 0v1" stroke="#fbf9f5"/>
<path d="M320.12 0v1" stroke="#fdfbf8"/>
<path d="M322.12 0v1" stroke="#fbf7f2"/>
<path d="M324.12 0v1" stroke="#fbf8f4"/>
<path d="M326.12 0v1" stroke="#f9f6f2"/>
<path d="M328.12 0v1" stroke="#fbf8f4"/>
<path d="M330.12 0v1" stroke="#fcf9f6"/>
<path d="M332.12 0v1" stroke="#faf8f5"/>
<path d="M334.12 0v1" stroke="#fbf8f4"/>
<path d="M336.12 0v1" stroke="#f9f7f3"/>
<path d="M338.12 0v1" stroke="#faf8f5"/>
<path d="M340.12 0v1" stroke="#fbf8f5"/>
<path d="M342.12 0v1" stroke="#fcf9f4"/>
<path d="M344.12 0v1" stroke="#f9f7f3"/>
<path d="M346.12 0v1" stroke="#f9f6f0"/>
<path d="M348.12 0v1" stroke="#faf8f4"/>
<path d="M350.12 0v1" stroke="#f9f6f2"/>
<path d="M352.12 0v1" stroke="#fbf7f1"/>
<path d="M354.12 0v1" stroke="#faf8f3"/>
<path d="M356.12 0v1" stroke="#faf8f4"/>
<path d="M358.12 0v1" stroke="#fbf7f2"/>
<path d="M360.12 0v1" stroke="#fbf7f3"/>
<path d="M362.12 0v1" stroke="#f9f5f0"/>
<path d="M364.12 0v1" stroke="#faf7f3"/>
<path d="M366.12 0v1" stroke="#fbf8f2"/>
<path d="M368.12 0v1" stroke="#faf8f4"/>
<path d="M370.12 0v1" stroke="#faf7f3"/>
<path d="M372.12 0v1" stroke="#fcf9f4"/>
<path d="M374.12 0v1" stroke="#fbf8f4"/>
<path d="M376.12 0v1" stroke="#f9f7f3"/>
<path d="M378.12 0v1" stroke="#fbf8f3"/>
<path d="M380.12 0v1" stroke="#faf8f6"/>
<path d="M382.12 0v1" stroke="#fcf9f4"/>
<path d="M384.12 0v1" stroke="#fcf8f3"/>
<path d="M386.12 0v1" stroke="#fbf9f5"/>
<path d="M388.12 0v1" stroke="#fdfaf6"/>
<path d="M390.12 0v1" stroke="#fbf8f3"/>
<path d="M392.12 0v1" stroke="#f9f6f1"/>
<path d="M394.12 0v1" stroke="#fcfaf7"/>
<path d="M396.12 0v1" stroke="#fbf7f2"/>
<path d="M398.12 0v1" stroke="#fbf7f1"/>
<path d="M400.12 0v1" stroke="#fcfaf7"/>
<path d="M402.12 0v1" stroke="#faf6f1"/>
<path d="M404.12 0v1" stroke="#faf7f3"/>
<path d="M406.12 0v1" stroke="#fcf8f4"/>
<path d="M408.12 0v1" stroke="#faf8f4"/>
<path d="M410.12 0v1" stroke="#f9f6f1"/>
<path d="M412.12 0v1" stroke="#fcf9f6"/>
<path d="M414.12 0v1" stroke="#fbf8f3"/>
<path d="M416.12 0v1" stroke="#faf7f3"/>
<path d="M418.12 0v1" stroke="#fcf9f4"/>
<path d="M420.12 0v1" stroke="#fbf7f2"/>
<path d="M422.12 0v1" stroke="#f9f7f4"/>
<path d="M424.12 0v1" stroke="#fdfaf6"/>
<path d="M426.12 0v1" stroke="#faf7f1"/>
<path d="M428.12 0v1" stroke="#faf7f3"/>
<path d="M430.12 0v1" stroke="#fcf9f4"/>
<path d="M432.12 0v1" stroke="#fcf9f5"/>
<path d="M434.12 0v1" stroke="#fcf9f5"/>
<path d="M436.12 0v1" stroke="#fdfaf7"/>
<path d="M438.12 0v1" stroke="#f9f6f2"/>
<path d="M440.12 0v1" stroke="#fcf9f5"/>
<path d="M442.12 0v1" stroke="#f9f6f2"/>
<path d="M444.12 0v1" stroke="#f9f6f2"/>
<path d="M446.12 0v1" stroke="#faf8f4"/>
<path d="M448.12 0v1" stroke="#f8f4ef"/>
<path d="M450.12 0v1" stroke="#f8f4ef"/>
<path d="M452.12 0v1" stroke="#fcfaf6"/>
<path d="M454.12 0v1" stroke="#fbf9f5"/>
<path d="M456.12 0v1" stroke="#f8f5f0"/>
<path d="M458.12 0v1" stroke="#f9f6f2"/>
<path d="M460.12 0v1" stroke="#faf8f3"/>
<path d="M462.12 0v1" stroke="#fbf9f5"/>
<path d="M464.12 0v1" stroke="#fdfbf8"/>
<path d="M466.12 0v1" stroke="#f9f6f2"/>
<path d="M468.12 0v1" stroke="#f9f6f1"/>
<path d="M470.12 0v1" stroke="#f9f5f0"/>
<path d="M472.12 0v1" stroke="#faf7f3"/>
<path d="M474.12 0v1" stroke="#f9f5f0"/>
<path d="M476.12 0v1" stroke="#fcf9f4"/>
<path d="M478.12 0v1" stroke="#fdfbf8"/>
<path d="M480.12 0v1" stroke="#fcfaf5"/>
<path d="M482.12 0v1" stroke="#f9f5f0"/>
<path d="M484.12 0v1" stroke="#fbf9f6"/>
<path d="M486.12 0v1" stroke="#f8f4ef"/>
<path d="M488.12 0v1" stroke="#fbf9f6"/>
</g>
<g transform="translate(0 849.98) scale(1 16.86)" stroke-width="2.25">
<path d="M290.12 0v1" stroke="#fcfaf8"/>
<path d="M292.12 0v1" stroke="#faf8f7"/>
<path d="M294.12 0v1" stroke="#fbfaf8"/>
<path d="M296.12 0v1" stroke="#faf8f6"/>
<path d="M298.12 0v1" stroke="#fbfaf7"/>
<path d="M300.12 0v1" stroke="#faf9f7"/>
<path d="M302.12 0v1" stroke="#fcfbf8"/>
<path d="M304.12 0v1" stroke="#fcfbf9"/>
<path d="M306.12 0v1" stroke="#fcfbf9"/>
<path d="M308.12 0v1" stroke="#fbfaf8"/>
<path d="M310.12 0v1" stroke="#fcfaf8"/>
<path d="M312.12 0v1" stroke="#fbfaf8"/>
<path d="M314.12 0v1" stroke="#f9f7f4"/>
<path d="M316.12 0v1" stroke="#fbfaf7"/>
<path d="M318.12 0v1" stroke="#fbfaf8"/>
<path d="M320.12 0v1" stroke="#fdfcfa"/>
<path d="M322.12 0v1" stroke="#fcfaf8"/>
<path d="M324.12 0v1" stroke="#fbfaf7"/>
<path d="M326.12 0v1" stroke="#f9f8f5"/>
<path d="M328.12 0v1" stroke="#fbfaf7"/>
<path d="M330.12 0v1" stroke="#fdfbfa"/>
<path d="M332.12 0v1" stroke="#fbfaf8"/>
<path d="M334.12 0v1" stroke="#fbf9f7"/>
<path d="M336.12 0v1" stroke="#f9f8f5"/>
<path d="M338.12 0v1" stroke="#faf9f7"/>
<path d="M340.12 0v1" stroke="#fbfaf7"/>
<path d="M342.12 0v1" stroke="#fdfbf8"/>
<path d="M344.12 0v1" stroke="#faf8f6"/>
<path d="M346.12 0v1" stroke="#fbf9f6"/>
<path d="M348.12 0v1" stroke="#faf9f7"/>
<path d="M350.12 0v1" stroke="#faf9f6"/>
<path d="M352.12 0v1" stroke="#fcfbf7"/>
<path d="M354.12 0v1" stroke="#fbfaf7"/>
<path d="M356.12 0v1" stroke="#fbf9f7"/>
<path d="M358.12 0v1" stroke="#fbf9f6"/>
<path d="M360.12 0v1" stroke="#fbf9f6"/>
<path d="M362.12 0v1" stroke="#faf8f4"/>
<path d="M364.12 0v1" stroke="#fbfaf7"/>
<path d="M366.12 0v1" stroke="#fcfaf6"/>
<path d="M368.12 0v1" stroke="#faf9f6"/>
<path d="M370.12 0v1" stroke="#fbf9f6"/>
<path d="M372.12 0v1" stroke="#fdfbf8"/>
<path d="M374.12 0v1" stroke="#fcfaf7"/>
<path d="M376.12 0v1" stroke="#f9f8f5"/>
<path d="M378.12 0v1" stroke="#fcfaf6"/>
<path d="M380.12 0v1" stroke="#fbf9f7"/>
<path d="M382.12 0v1" stroke="#fdfbf8"/>
<path d="M384.12 0v1" stroke="#fdfbf7"/>
<path d="M386.12 0v1" stroke="#fcfaf8"/>
<path d="M388.12 0v1" stroke="#fdfcf9"/>
<path d="M390.12 0v1" stroke="#fcfbf8"/>
<path d="M392.12 0v1" stroke="#faf8f4"/>
<path d="M394.12 0v1" stroke="#fdfbf8"/>
<path d="M396.12 0v1" stroke="#fbf9f5"/>
<path d="M398.12 0v1" stroke="#fcf9f5"/>
<path d="M400.12 0v1" stroke="#fdfcf9"/>
<path d="M402.12 0v1" stroke="#fbf9f4"/>
<path d="M404.12 0v1" stroke="#fbf9f6"/>
<path d="M406.12 0v1" stroke="#fdfbf8"/>
<path d="M408.12 0v1" stroke="#fbf9f6"/>
<path d="M410.12 0v1" stroke="#faf9f5"/>
<path d="M412.12 0v1" stroke="#fcfbf8"/>
<path d="M414.12 0v1" stroke="#fcfaf7"/>
<path d="M416.12 0v1" stroke="#faf8f5"/>
<path d="M418.12 0v1" stroke="#fdfbf8"/>
<path d="M420.12 0v1" stroke="#fbf9f4"/>
<path d="M422.12 0v1" stroke="#faf8f5"/>
<path d="M424.12 0v1" stroke="#fdfcf8"/>
<path d="M426.12 0v1" stroke="#fbf8f4"/>
<path d="M428.12 0v1" stroke="#fbf9f5"/>
<path d="M430.12 0v1" stroke="#fdfaf6"/>
<path d="M432.12 0v1" stroke="#fdfbf7"/>
<path d="M434.12 0v1" stroke="#fdfbf7"/>
<path d="M436.12 0v1" stroke="#fdfbf8"/>
<path d="M438.12 0v1" stroke="#faf8f4"/>
<path d="M440.12 0v1" stroke="#fdfbf8"/>
<path d="M442.12 0v1" stroke="#f9f7f3"/>
<path d="M444.12 0v1" stroke="#faf8f5"/>
<path d="M446.12 0v1" stroke="#fbf9f5"/>
<path d="M448.12 0v1" stroke="#f9f6f2"/>
<path d="M450.12 0v1" stroke="#f9f6f1"/>
<path d="M452.12 0v1" stroke="#fdfbf8"/>
<path d="M454.12 0v1" stroke="#fcfaf6"/>
<path d="M456.12 0v1" stroke="#f9f7f2"/>
<path d="M458.12 0v1" stroke="#faf8f5"/>
<path d="M460.12 0v1" stroke="#fbfaf6"/>
<path d="M462.12 0v1" stroke="#fcf9f5"/>
<path d="M464.12 0v1" stroke="#fefcf8"/>
<path d="M466.12 0v1" stroke="#f9f8f4"/>
<path d="M468.12 0v1" stroke="#f9f8f4"/>
<path d="M470.12 0v1" stroke="#faf7f2"/>
<path d="M472.12 0v1" stroke="#fbf9f6"/>
<path d="M474.12 0v1" stroke="#faf7f2"/>
<path d="M476.12 0v1" stroke="#fcfaf5"/>
<path d="M478.12 0v1" stroke="#fdfcf9"/>
<path d="M480.12 0v1" stroke="#fdfbf7"/>
<path d="M482.12 0v1" stroke="#f9f7f3"/>
<path d="M484.12 0v1" stroke="#fbf9f6"/>
<path d="M486.12 0v1" stroke="#f9f6f1"/>
<path d="M488.12 0v1" stroke="#fbf9f5"/>
</g>
<g transform="translate(0 866.54) scale(1 16.86)" stroke-width="2.25">
<path d="M290.12 0v1" stroke="#fcfaf7"/>
<path d="M292.12 0v1" stroke="#faf9f7"/>
<path d="M294.12 0v1" stroke="#fbfaf8"/>
<path d="M296.12 0v1" stroke="#faf8f6"/>
<path d="M298.12 0v1" stroke="#fbf9f6"/>
<path d="M300.12 0v1" stroke="#faf9f8"/>
<path d="M302.12 0v1" stroke="#fcfbf9"/>
<path d="M304.12 0v1" stroke="#fcfbf9"/>
<path d="M306.12 0v1" stroke="#fcfbf9"/>
<path d="M308.12 0v1" stroke="#fbf9f8"/>
<path d="M310.12 0v1" stroke="#fcfbf8"/>
<path d="M312.12 0v1" stroke="#fbfaf8"/>
<path d="M314.12 0v1" stroke="#f9f7f4"/>
<path d="M316.12 0v1" stroke="#fbfaf8"/>
<path d="M318.12 0v1" stroke="#fbfaf8"/>
<path d="M320.12 0v1" stroke="#fdfcfa"/>
<path d="M322.12 0v1" stroke="#fbf9f6"/>
<path d="M324.12 0v1" stroke="#fbf9f7"/>
<path d="M326.12 0v1" stroke="#f9f8f5"/>
<path d="M328.12 0v1" stroke="#fbfaf7"/>
<path d="M330.12 0v1" stroke="#fcfbf9"/>
<path d="M332.12 0v1" stroke="#fbfaf8"/>
<path d="M334.12 0v1" stroke="#fbfaf7"/>
<path d="M336.12 0v1" stroke="#f9f8f5"/>
<path d="M338.12 0v1" stroke="#faf9f6"/>
<path d="M340.12 0v1" stroke="#fbfaf8"/>
<path d="M342.12 0v1" stroke="#fdfbf8"/>
<path d="M344.12 0v1" stroke="#faf8f5"/>
<path d="M346.12 0v1" stroke="#faf8f5"/>
<path d="M348.12 0v1" stroke="#faf9f7"/>
<path d="M350.12 0v1" stroke="#faf9f6"/>
<path d="M352.12 0v1" stroke="#fcfaf6"/>
<path d="M354.12 0v1" stroke="#fbfaf7"/>
<path d="M356.12 0v1" stroke="#fbf9f6"/>
<path d="M358.12 0v1" stroke="#fcfaf6"/>
<path d="M360.12 0v1" stroke="#fbf9f5"/>
<path d="M362.12 0v1" stroke="#faf8f4"/>
<path d="M364.12 0v1" stroke="#fbf9f6"/>
<path d="M366.12 0v1" stroke="#fcfbf7"/>
<path d="M368.12 0v1" stroke="#faf9f6"/>
<path d="M370.12 0v1" stroke="#fbf9f6"/>
<path d="M372.12 0v1" stroke="#fdfbf7"/>
<path d="M374.12 0v1" stroke="#fbf9f5"/>
<path d="M376.12 0v1" stroke="#f9f8f5"/>
<path d="M378.12 0v1" stroke="#fbf9f6"/>
<path d="M380.12 0v1" stroke="#fbfaf7"/>
<path d="M382.12 0v1" stroke="#fdfbf7"/>
<path d="M384.12 0v1" stroke="#fdfaf7"/>
<path d="M386.12 0v1" stroke="#fbfaf7"/>
<path d="M388.12 0v1" stroke="#fdfcf9"/>
<path d="M390.12 0v1" stroke="#fcfaf6"/>
<path d="M392.12 0v1" stroke="#faf8f5"/>
<path d="M394.12 0v1" stroke="#fdfbf8"/>
<path d="M396.12 0v1" stroke="#fbf9f4"/>
<path d="M398.12 0v1" stroke="#fcf9f5"/>
<path d="M400.12 0v1" stroke="#fdfbf8"/>
<path d="M402.12 0v1" stroke="#fbf8f4"/>
<path d="M404.12 0v1" stroke="#fbf9f6"/>
<path d="M406.12 0v1" stroke="#fcfaf7"/>
<path d="M408.12 0v1" stroke="#fbf9f6"/>
<path d="M410.12 0v1" stroke="#faf8f4"/>
<path d="M412.12 0v1" stroke="#fcfaf7"/>
<path d="M414.12 0v1" stroke="#fcfaf6"/>
<path d="M416.12 0v1" stroke="#faf8f5"/>
<path d="M418.12 0v1" stroke="#fdfbf7"/>
<path d="M420.12 0v1" stroke="#fcf9f5"/>
<path d="M422.12 0v1" stroke="#faf8f6"/>
<path d="M424.12 0v1" stroke="#fdfcf8"/>
<path d="M426.12 0v1" stroke="#fbf8f4"/>
<path d="M428.12 0v1" stroke="#fbf8f4"/>
<path d="M430.12 0v1" stroke="#fdfaf6"/>
<path d="M432.12 0v1" stroke="#fdfbf8"/>
<path d="M434.12 0v1" stroke="#fdfbf7"/>
<path d="M436.12 0v1" stroke="#fdfbf8"/>
<path d="M438.12 0v1" stroke="#faf9f6"/>
<path d="M440.12 0v1" stroke="#fdfbf7"/>
<path d="M442.12 0v1" stroke="#faf8f4"/>
<path d="M444.12 0v1" stroke="#faf8f4"/>
<path d="M446.12 0v1" stroke="#fbf9f5"/>
<path d="M448.12 0v1" stroke="#f9f7f3"/>
<path d="M450.12 0v1" stroke="#f9f6f2"/>
<path d="M452.12 0v1" stroke="#fdfbf7"/>
<path d="M454.12 0v1" stroke="#fcf9f4"/>
<path d="M456.12 0v1" stroke="#f9f6f0"/>
<path d="M458.12 0v1" stroke="#faf8f4"/>
<path d="M460.12 0v1" stroke="#fbf9f5"/>
<path d="M462.12 0v1" stroke="#fcfaf6"/>
<path d="M464.12 0v1" stroke="#fefcf9"/>
<path d="M466.12 0v1" stroke="#f9f7f4"/>
<path d="M468.12 0v1" stroke="#f9f7f3"/>
<path d="M470.12 0v1" stroke="#faf7f2"/>
<path d="M472.12 0v1" stroke="#fbf9f6"/>
<path d="M474.12 0v1" stroke="#faf7f3"/>
<path d="M476.12 0v1" stroke="#fcfaf4"/>
<path d="M478.12 0v1" stroke="#fdfbf8"/>
<path d="M480.12 0v1" stroke="#fdfbf7"/>
<path d="M482.12 0v1" stroke="#f9f7f2"/>
<path d="M484.12 0v1" stroke="#fcfaf6"/>
<path d="M486.12 0v1" stroke="#f9f6f1"/>
<path d="M488.12 0v1" stroke="#fbf9f6"/>
</g>
</g>
<line x1="288.6" y1="800.3" x2="288.6" y2="883.1" stroke="#9a9a9a" stroke-width="1.1"/>
<g clip-path="url(#hc6)">
<path d="M281.6 843.0 281.9 843.2 282.1 842.4 282.4 841.6 282.6 841.0 282.9 841.6 283.1 842.1 283.4 841.7 283.6 842.0 283.9 842.4 284.1 841.4 284.4 841.8 284.6 842.0 284.9 842.4 285.1 843.7 285.4 842.6 285.6 842.9 285.9 843.2 286.1 842.8 286.4 842.9 286.6 843.1 286.9 843.5 287.1 842.6 287.4 841.8 M289.1 832.7 L289.4 832.0 289.6 832.9 289.9 831.9 290.1 830.5 290.4 830.4 290.6 830.2 M296.6 871.3 L296.9 872.1 297.1 872.6 297.4 874.4 297.6 875.7 297.9 876.6 298.1 877.2 298.4 877.6 298.6 878.0 298.9 879.5 299.1 880.0 299.4 880.4 299.6 880.6 299.9 881.7 300.1 881.7 300.4 881.3 300.6 881.9 300.9 881.3 301.1 881.9 301.4 881.7 301.6 882.9 301.9 883.3 302.1 881.6 302.4 881.8 302.6 882.6 302.9 881.5 303.1 881.1 303.4 881.4 303.6 881.1 303.9 881.0 304.1 880.1 304.4 879.0 304.6 878.9 304.9 878.4 M310.1 838.4 L310.4 838.0 310.6 836.6 310.9 834.8 311.2 834.7 311.4 835.6 311.7 834.4 311.9 834.5 312.2 835.1 312.4 834.8 312.7 834.4 312.9 834.2 313.2 834.2 313.4 834.5 313.7 834.8 313.9 833.6 314.2 833.7 314.4 834.4 314.7 834.3 314.9 833.7 315.2 834.4 315.4 834.8 315.7 835.1 315.9 835.3 316.2 834.7 316.4 835.1 316.7 835.3 316.9 836.8 317.2 836.7 317.4 836.6 317.7 837.3 317.9 836.1 318.2 836.6 318.4 837.5 318.7 837.5 318.9 836.7 319.2 836.7 319.4 837.4 319.7 837.4 319.9 837.8 320.2 838.2 320.4 839.4 320.7 839.9 320.9 838.6 321.2 839.4 321.4 840.7 321.7 840.5 321.9 839.9 322.2 840.5 322.4 841.5 322.7 842.1 322.9 843.0 323.2 843.3 323.4 843.3 323.7 842.4 323.9 843.4 324.2 844.8 324.4 844.5 324.7 844.4 324.9 844.5 325.2 844.3 325.4 844.5 325.7 845.8 325.9 847.5 326.2 848.2 326.4 848.6 326.7 848.3 326.9 848.5 327.2 849.2 327.4 849.7 327.7 850.8 327.9 850.4 328.2 850.2 328.4 851.0 328.7 850.7 328.9 849.2 329.2 850.1 329.4 852.4 329.7 851.2 329.9 850.3 330.2 850.8 330.4 850.6 330.7 850.8 330.9 851.5 331.2 851.8 331.4 851.3 331.7 851.1 331.9 851.6 332.2 852.0 332.4 851.5 332.7 851.7 332.9 851.2 333.2 851.3 333.4 851.2 333.7 851.1 333.9 851.7 334.2 851.6 334.4 851.5 334.7 851.3 334.9 851.6 335.2 851.8 335.4 851.1 335.7 850.9 335.9 850.6 336.2 850.5 336.4 850.5 336.7 849.5 336.9 850.2 337.2 850.7 337.4 849.4 337.7 849.6 337.9 848.7 338.2 848.1 338.4 849.1 338.7 848.9 338.9 848.5 339.2 848.1 339.4 847.5 339.7 847.4 339.9 847.3 340.2 846.4 340.5 846.1 340.7 846.4 341.0 845.6 341.2 844.7 341.5 844.7 341.7 845.1 342.0 845.2 342.2 843.9 342.5 842.7 342.7 842.5 343.0 842.6 343.2 842.4 343.5 842.1 343.7 842.5 344.0 842.1 344.2 841.5 344.5 841.3 344.7 840.5 345.0 840.1 345.2 840.1 345.5 839.7 345.7 840.3 346.0 840.6 346.2 838.4 346.5 837.5 346.7 838.6 347.0 838.7 347.2 838.2 347.5 837.8 347.7 837.8 348.0 837.6 348.2 837.9 348.5 837.9 348.7 837.1 349.0 836.8 349.2 836.9 349.5 836.4 349.7 836.0 350.0 836.6 350.2 837.3 350.5 835.7 350.7 836.3 351.0 837.0 351.2 836.1 351.5 835.6 351.7 835.5 352.0 836.1 352.2 835.7 352.5 835.4 352.7 835.3 353.0 835.8 353.2 835.5 353.5 835.0 353.7 835.2 354.0 834.5 354.2 834.8 354.5 835.6 354.7 835.3 355.0 834.7 355.2 834.8 355.5 835.4 355.7 835.6 356.0 835.8 356.2 835.2 356.5 835.8 356.7 836.8 357.0 836.7 357.2 836.6 357.5 837.0 357.7 837.2 358.0 837.1 358.2 837.0 358.5 836.6 358.7 836.9 359.0 836.5 359.2 836.2 359.5 836.8 359.7 836.7 360.0 835.5 360.2 835.6 360.5 836.5 360.7 837.3 361.0 836.9 361.2 836.2 361.5 838.0 361.7 837.3 362.0 836.5 362.2 837.5 362.5 836.9 362.7 837.3 363.0 837.8 363.2 836.6 363.5 836.9 363.7 837.6 364.0 838.6 364.2 839.3 364.5 838.4 364.7 838.6 365.0 840.2 365.2 839.5 365.5 838.2 365.7 838.9 366.0 839.5 366.2 839.8 366.5 839.2 366.7 839.3 367.0 839.6 367.2 839.3 367.5 840.5 367.7 840.7 368.0 840.7 368.2 841.1 368.5 841.0 368.7 841.5 369.0 841.9 369.2 842.4 369.5 841.9 369.8 842.6 370.0 843.4 370.3 843.3 370.5 843.7 370.8 843.2 371.0 842.9 371.3 843.4 371.5 843.8 371.8 844.8 372.0 845.7 372.3 846.8 372.5 847.0 372.8 846.3 373.0 845.6 373.3 844.6 373.5 844.8 373.8 845.2 374.0 844.9 374.3 845.1 374.5 846.0 374.8 846.2 375.0 846.6 375.3 847.0 375.5 846.9 375.8 847.4 376.0 847.2 376.3 846.7 376.5 847.6 376.8 848.1 377.0 846.7 377.3 846.4 377.5 847.9 377.8 848.1 378.0 847.9 378.3 847.0 378.5 846.6 378.8 846.3 379.0 846.5 379.3 846.8 379.5 847.2 379.8 847.4 380.0 846.7 380.3 847.2 380.5 847.1 380.8 846.1 381.0 846.5 381.3 846.9 381.5 847.7 381.8 847.8 382.0 846.6 382.3 846.5 382.5 847.2 382.8 848.0 383.0 847.4 383.3 847.1 383.5 846.3 383.8 845.3 384.0 846.3 384.3 846.3 384.5 845.4 384.8 845.0 385.0 844.9 385.3 845.7 385.5 845.8 385.8 844.8 386.0 845.1 386.3 845.9 386.5 844.1 386.8 843.4 387.0 844.4 387.3 844.6 387.5 844.8 387.8 845.5 388.0 845.3 388.3 844.6 388.5 845.2 388.8 846.0 389.0 845.1 389.3 845.0 389.5 844.2 389.8 844.1 390.0 845.1 390.3 843.9 390.5 843.3 390.8 843.7 391.0 844.5 391.3 844.8 391.5 844.2 391.8 843.5 392.0 843.3 392.3 842.8 392.5 842.4 392.8 842.5 393.0 842.4 393.3 842.9 393.5 842.8 393.8 841.6 394.0 842.2 394.3 842.9 394.5 842.4 394.8 842.0 395.0 841.5 395.3 841.6 395.5 842.3 395.8 841.7 396.0 841.3 396.3 841.8 396.5 841.5 396.8 841.2 397.0 839.9 397.3 840.5 397.5 841.0 397.8 840.7 398.0 841.1 398.3 840.0 398.5 839.3 398.8 839.9 399.0 840.3 399.3 840.7 399.6 840.7 399.8 840.2 400.1 840.4 400.3 840.5 400.6 839.7 400.8 839.4 401.1 838.8 401.3 839.0 401.6 839.7 401.8 839.8 402.1 840.7 402.3 840.7 402.6 839.8 402.8 839.0 403.1 838.7 403.3 839.4 403.6 839.8 403.8 839.7 404.1 839.6 404.3 839.3 404.6 839.7 404.8 840.7 405.1 839.7 405.3 838.5 405.6 838.8 405.8 839.6 406.1 839.6 406.3 839.7 406.6 840.5 406.8 841.0 407.1 841.2 407.3 840.1 407.6 838.7 407.8 839.7 408.1 840.4 408.3 839.8 408.6 839.8 408.8 839.9 409.1 840.8 409.3 840.4 409.6 839.6 409.8 840.9 410.1 841.9 410.3 840.7 410.6 839.6 410.8 840.6 411.1 842.0 411.3 842.9 411.6 842.9 411.8 842.3 412.1 841.9 412.3 841.7 412.6 841.7 412.8 842.3 413.1 842.7 413.3 842.7 413.6 842.8 413.8 841.9 414.1 841.7 414.3 842.8 414.6 843.0 414.8 841.7 415.1 842.1 415.3 842.7 415.6 842.9 415.8 843.0 416.1 842.0 416.3 842.6 416.6 842.5 416.8 842.7 417.1 843.1 417.3 842.8 417.6 842.4 417.8 842.2 418.1 842.7 418.3 843.5 418.6 843.4 418.8 842.6 419.1 842.6 419.3 842.8 419.6 843.3 419.8 843.9 420.1 844.2 420.3 842.9 420.6 843.5 420.8 844.4 421.1 844.1 421.3 843.9 421.6 843.7 421.8 843.9 422.1 843.4 422.3 843.4 422.6 843.2 422.8 843.5 423.1 844.1 423.3 844.3 423.6 844.7 423.8 844.9 424.1 844.5 424.3 844.6 424.6 844.5 424.8 844.5 425.1 844.3 425.3 843.0 425.6 842.7 425.8 843.2 426.1 843.3 426.3 843.7 426.6 844.0 426.8 844.3 427.1 843.8 427.3 843.3 427.6 844.1 427.8 844.6 428.1 844.9 428.3 844.5 428.6 845.0 428.9 844.7 429.1 842.9 429.4 843.1 429.6 843.1 429.9 843.6 430.1 844.2 430.4 843.1 430.6 843.2 430.9 844.4 431.1 844.0 431.4 843.4 431.6 843.3 431.9 843.1 432.1 842.8 432.4 843.0 432.6 843.1 432.9 843.3 433.1 844.3 433.4 844.6 433.6 844.1 433.9 844.3 434.1 844.4 434.4 843.6 434.6 843.5 434.9 844.0 435.1 843.7 435.4 843.6 435.6 843.3 435.9 843.2 436.1 843.9 436.4 843.7 436.6 843.3 436.9 843.3 437.1 843.0 437.4 842.6 437.6 843.2 437.9 844.0 438.1 844.1 438.4 843.6 438.6 843.4 438.9 843.1 439.1 842.9 439.4 842.9 439.6 842.2 439.9 842.6 440.1 843.0 440.4 842.7 440.6 842.5 440.9 843.3 441.1 843.9 441.4 842.7 441.6 842.8 441.9 843.2 442.1 842.5 442.4 842.0 442.6 842.8 442.9 843.0 443.1 842.7 443.4 842.6 443.6 842.6 443.9 843.1 444.1 843.1 444.4 843.0 444.6 843.3 444.9 843.4 445.1 842.6 445.4 843.0 445.6 843.1 445.9 842.0 446.1 842.2 446.4 842.8 446.6 843.0 446.9 842.1 447.1 841.6 447.4 842.6 447.6 842.9 447.9 842.5 448.1 841.6 448.4 841.5 448.6 842.4 448.9 841.8 449.1 840.8 449.4 841.4 449.6 842.6 449.9 841.8 450.1 841.3 450.4 842.5 450.6 843.4 450.9 842.8 451.1 840.9 451.4 840.9 451.6 842.4 451.9 843.5 452.1 843.6 452.4 842.7 452.6 842.0 452.9 841.0 453.1 840.7 453.4 840.9 453.6 841.0 453.9 841.7 454.1 842.0 454.4 840.7 454.6 840.5 454.9 842.0 455.1 842.5 455.4 842.6 455.6 841.7 455.9 841.1 456.1 841.5 456.4 840.7 456.6 840.5 456.9 840.2 457.1 839.7 457.4 840.6 457.6 841.3 457.9 841.0 458.2 841.6 458.4 841.7 458.7 841.3 458.9 840.9 459.2 840.1 459.4 840.4 459.7 840.7 459.9 840.7 460.2 841.0 460.4 841.9 460.7 841.5 460.9 840.0 461.2 840.7 461.4 841.9 461.7 842.5 461.9 841.4 462.2 840.8 462.4 840.4 462.7 840.1 462.9 840.5 463.2 840.2 463.4 840.0 463.7 840.9 463.9 842.1 464.2 841.7 464.4 840.8 464.7 841.4 464.9 842.3 465.2 841.4 465.4 841.4 465.7 841.8 465.9 841.6 466.2 841.7 466.4 841.8 466.7 841.4 466.9 840.4 467.2 839.9 467.4 840.8 467.7 841.1 467.9 841.0 468.2 840.3 468.4 840.0 468.7 840.7 468.9 841.6 469.2 841.7 469.4 840.6 469.7 840.8 469.9 841.7 470.2 842.9 470.4 841.7 470.7 841.3 470.9 841.0 471.2 840.8 471.4 842.5 471.7 842.4 471.9 840.6 472.2 839.6 472.4 841.6 472.7 842.3 472.9 841.9 473.2 841.8 473.4 841.4 473.7 841.5 473.9 841.1 474.2 841.4 474.4 842.9 474.7 841.9 474.9 840.3 475.2 840.4 475.4 840.5 475.7 841.0 475.9 841.7 476.2 841.9 476.4 841.8 476.7 840.9 476.9 840.8 477.2 840.9 477.4 840.9 477.7 841.7 477.9 841.8 478.2 842.2 478.4 842.2 478.7 842.1 478.9 843.5 479.2 843.4 479.4 841.3 479.7 840.3 479.9 841.0 480.2 842.0 480.4 841.9 480.7 841.8 480.9 841.8 481.2 841.4 481.4 841.6 481.7 842.7 481.9 843.3 482.2 841.7 482.4 841.2 482.7 842.7 482.9 842.8 483.2 843.2 483.4 843.3 483.7 842.3 483.9 842.1 484.2 841.9 484.4 842.0 484.7 842.4 484.9 843.1 485.2 842.7 485.4 842.4 485.7 842.0 485.9 841.8 486.2 842.7 486.4 842.7 486.7 842.0 486.9 842.4 487.2 843.3" fill="none" stroke="#858585" stroke-width="1.1" stroke-linejoin="round"/>
<path d="M287.4 841.8 L287.6 842.4 287.9 841.4 288.1 839.4 288.4 837.4 288.6 835.4 288.9 833.5 289.1 832.7 M290.6 830.2 L290.9 830.5 291.1 831.5 291.4 833.1 291.6 835.3 291.9 837.3 292.1 839.4 292.4 841.5 292.6 843.3 292.9 845.1 293.1 846.8 293.4 848.6 293.6 850.7 293.9 852.5 294.1 854.2 294.4 856.1 294.6 857.9 294.9 859.5 295.1 861.3 295.4 863.2 295.6 865.1 295.9 866.7 296.1 868.2 296.4 869.7 296.6 871.3 M304.9 878.4 L305.1 876.6 305.4 875.2 305.6 873.7 305.9 872.1 306.1 870.6 306.4 868.9 306.6 867.0 306.9 865.1 307.1 862.8 307.4 860.2 307.6 857.8 307.9 855.3 308.1 852.9 308.4 850.9 308.6 849.0 308.9 847.0 309.1 844.9 309.4 843.0 309.6 841.4 309.9 839.8 310.1 838.4" fill="none" stroke="#999" stroke-width="0.7" stroke-linejoin="round"/>
</g>
<rect x="281.6" y="800.3" width="205.9" height="82.8" fill="none" stroke="#555" stroke-width="0.7"/>
<path d="M281.6 808.6 h2.2 M487.5 808.6 h-2.2" stroke="#555" stroke-width="0.6"/>
<text x="278.2" y="811.4" font-size="7.9" text-anchor="end" font-weight="normal" fill="#1a1a1a" stroke="#1a1a1a" stroke-width="0.2" >40</text>
<path d="M281.6 825.1 h2.2 M487.5 825.1 h-2.2" stroke="#555" stroke-width="0.6"/>
<text x="278.2" y="827.9" font-size="7.9" text-anchor="end" font-weight="normal" fill="#1a1a1a" stroke="#1a1a1a" stroke-width="0.2" >30</text>
<path d="M281.6 841.7 h2.2 M487.5 841.7 h-2.2" stroke="#555" stroke-width="0.6"/>
<text x="278.2" y="844.5" font-size="7.9" text-anchor="end" font-weight="normal" fill="#1a1a1a" stroke="#1a1a1a" stroke-width="0.2" >20</text>
<path d="M281.6 858.3 h2.2 M487.5 858.3 h-2.2" stroke="#555" stroke-width="0.6"/>
<text x="278.2" y="861.1" font-size="7.9" text-anchor="end" font-weight="normal" fill="#1a1a1a" stroke="#1a1a1a" stroke-width="0.2" >10</text>
<path d="M281.6 874.8 h2.2 M487.5 874.8 h-2.2" stroke="#555" stroke-width="0.6"/>
<text x="278.2" y="877.6" font-size="7.9" text-anchor="end" font-weight="normal" fill="#1a1a1a" stroke="#1a1a1a" stroke-width="0.2" >0</text>
<path d="M288.5 883.1 v-2.2 M288.5 800.3 v2.2" stroke="#555" stroke-width="0.6"/>
<text x="288.5" y="892.7" font-size="7.9" text-anchor="middle" font-weight="normal" fill="#1a1a1a" stroke="#1a1a1a" stroke-width="0.2" >0</text>
<path d="M339.6 883.1 v-2.2 M339.6 800.3 v2.2" stroke="#555" stroke-width="0.6"/>
<text x="339.6" y="892.7" font-size="7.9" text-anchor="middle" font-weight="normal" fill="#1a1a1a" stroke="#1a1a1a" stroke-width="0.2" >100</text>
<path d="M390.8 883.1 v-2.2 M390.8 800.3 v2.2" stroke="#555" stroke-width="0.6"/>
<text x="390.8" y="892.7" font-size="7.9" text-anchor="middle" font-weight="normal" fill="#1a1a1a" stroke="#1a1a1a" stroke-width="0.2" >200</text>
<path d="M441.9 883.1 v-2.2 M441.9 800.3 v2.2" stroke="#555" stroke-width="0.6"/>
<text x="441.9" y="892.7" font-size="7.9" text-anchor="middle" font-weight="normal" fill="#1a1a1a" stroke="#1a1a1a" stroke-width="0.2" >300</text>
<path d="M286.4 883.7 L288.5 880.5 L290.6 883.7 Z" fill="#111"/>
<text x="383.3" y="902.9" font-size="7.9" text-anchor="middle" font-weight="normal" fill="#1a1a1a" stroke="#1a1a1a" stroke-width="0.2" >Time (ms)</text>
<text x="0" y="0" font-size="7.9" text-anchor="middle" fill="#222" stroke="#222" stroke-width="0.2" transform="translate(263.2 841.7) rotate(-90)">Stimulus (µA)</text>
<text x="384.5" y="795.3" font-size="7.9" text-anchor="middle" font-weight="bold" fill="#111" stroke="#111" stroke-width="0" >0.5 ms</text>
<line x1="460.6" y1="806.5" x2="460.6" y2="814.2" stroke="#333" stroke-width="0.7"/>
<text x="465.6" y="815.4" font-size="7.9" text-anchor="start" font-weight="normal" fill="#111" stroke="#111" stroke-width="0.2" >1 mV</text>
<text x="455.5" y="855.5" font-size="7.9" text-anchor="start" font-weight="normal" fill="#999" stroke="#999" stroke-width="0.2" >40 µA</text>
<rect x="499.3" y="800.3" width="16.4" height="83.6" fill="url(#cb)" stroke="#444" stroke-width="0.6"/>
<path d="M515.7 805.6 h-1.8 M499.3 805.6 h1.8" stroke="#444" stroke-width="0.5"/>
<text x="517.2" y="808.4" font-size="7.9" text-anchor="start" font-weight="normal" fill="#1a1a1a" stroke="#1a1a1a" stroke-width="0.2" >5</text>
<path d="M515.7 842.2 h-1.8 M499.3 842.2 h1.8" stroke="#444" stroke-width="0.5"/>
<text x="517.2" y="845.0" font-size="7.9" text-anchor="start" font-weight="normal" fill="#1a1a1a" stroke="#1a1a1a" stroke-width="0.2" >0</text>
<path d="M515.7 880.8 h-1.8 M499.3 880.8 h1.8" stroke="#444" stroke-width="0.5"/>
<text x="517.2" y="883.6" font-size="7.9" text-anchor="start" font-weight="normal" fill="#1a1a1a" stroke="#1a1a1a" stroke-width="0.2" >−5</text>
<text x="489.3" y="893.4" font-size="7.9" fill="#222" stroke="#222" stroke-width="0.2">Mean ΔV<tspan font-size="6.0" dy="2.8">m</tspan></text>
<path d="M579.2 21.5 V109.8 H680.7" fill="none" stroke="#444" stroke-width="0.7"/>
<path d="M579.2 109.8 h1.8" stroke="#444" stroke-width="0.6"/>
<text x="576.6" y="112.6" font-size="7.9" text-anchor="end" font-weight="normal" fill="#1a1a1a" stroke="#1a1a1a" stroke-width="0.2" >0.05</text>
<path d="M579.2 87.7 h1.8" stroke="#444" stroke-width="0.6"/>
<text x="576.6" y="90.5" font-size="7.9" text-anchor="end" font-weight="normal" fill="#1a1a1a" stroke="#1a1a1a" stroke-width="0.2" >0.1</text>
<path d="M579.2 65.7 h1.8" stroke="#444" stroke-width="0.6"/>
<text x="576.6" y="68.5" font-size="7.9" text-anchor="end" font-weight="normal" fill="#1a1a1a" stroke="#1a1a1a" stroke-width="0.2" >0.15</text>
<path d="M579.2 43.6 h1.8" stroke="#444" stroke-width="0.6"/>
<text x="576.6" y="46.4" font-size="7.9" text-anchor="end" font-weight="normal" fill="#1a1a1a" stroke="#1a1a1a" stroke-width="0.2" >0.2</text>
<path d="M579.2 21.5 h1.8" stroke="#444" stroke-width="0.6"/>
<text x="576.6" y="24.3" font-size="7.9" text-anchor="end" font-weight="normal" fill="#1a1a1a" stroke="#1a1a1a" stroke-width="0.2" >0.25</text>
<path d="M579.2 109.8 v-1.8" stroke="#444" stroke-width="0.6"/>
<text x="579.2" y="119.5" font-size="7.9" text-anchor="middle" font-weight="normal" fill="#1a1a1a" stroke="#1a1a1a" stroke-width="0.2" >0</text>
<path d="M610.8 109.8 v-1.8" stroke="#444" stroke-width="0.6"/>
<text x="610.8" y="119.5" font-size="7.9" text-anchor="middle" font-weight="normal" fill="#1a1a1a" stroke="#1a1a1a" stroke-width="0.2" >10</text>
<path d="M642.4 109.8 v-1.8" stroke="#444" stroke-width="0.6"/>
<text x="642.4" y="119.5" font-size="7.9" text-anchor="middle" font-weight="normal" fill="#1a1a1a" stroke="#1a1a1a" stroke-width="0.2" >20</text>
<path d="M674.1 109.8 v-1.8" stroke="#444" stroke-width="0.6"/>
<text x="674.1" y="119.5" font-size="7.9" text-anchor="middle" font-weight="normal" fill="#1a1a1a" stroke="#1a1a1a" stroke-width="0.2" >30</text>
<text x="626.3" y="129.3" font-size="7.9" text-anchor="middle" font-weight="normal" fill="#1a1a1a" stroke="#1a1a1a" stroke-width="0.2" >Stimulus charge (nC)</text>
<text x="627.9" y="16.3" font-size="7.9" text-anchor="middle" font-weight="normal" fill="#1a1a1a" stroke="#1a1a1a" stroke-width="0.2" >n = 3</text>
<text x="0" y="0" font-size="7.8" fill="#1a1a1a" stroke="#1a1a1a" stroke-width="0.2" transform="translate(548.4 81.9) rotate(-90)">s<tspan font-size="6.0" dy="4.2">mean ΔV</tspan><tspan font-size="4.5" dy="1.8">m</tspan></text>
<polyline points="579.2,99.2 610.8,79.3 626.6,70.5 642.4,54.2 674.1,33.9" fill="none" stroke="#34479e" stroke-width="0.75"/>
<circle cx="579.2" cy="99.2" r="1.4" fill="#34479e"/>
<circle cx="610.8" cy="79.3" r="1.4" fill="#34479e"/>
<circle cx="626.6" cy="70.5" r="1.4" fill="#34479e"/>
<path d="M642.4 62.1 V46.2 M641.5 62.1 h1.8 M641.5 46.2 h1.8" stroke="#34479e" stroke-width="0.6"/>
<circle cx="642.4" cy="54.2" r="1.4" fill="#34479e"/>
<path d="M674.1 47.1 V20.6 M673.2 47.1 h1.8 M673.2 20.6 h1.8" stroke="#34479e" stroke-width="0.6"/>
<circle cx="674.1" cy="33.9" r="1.4" fill="#34479e"/>
<polyline points="579.2,99.2 595.0,92.6 610.8,86.8 642.4,66.5 658.2,51.1" fill="none" stroke="#5cbf5c" stroke-width="0.75"/>
<path d="M577.3 100.6 L579.2 97.3 L581.1 100.6 Z" fill="none" stroke="#5cbf5c" stroke-width="0.9"/>
<path d="M593.1 94.0 L595.0 90.7 L596.9 94.0 Z" fill="none" stroke="#5cbf5c" stroke-width="0.9"/>
<path d="M608.9 88.2 L610.8 84.9 L612.7 88.2 Z" fill="none" stroke="#5cbf5c" stroke-width="0.9"/>
<path d="M642.4 74.5 V58.6 M641.5 74.5 h1.8 M641.5 58.6 h1.8" stroke="#5cbf5c" stroke-width="0.6"/>
<path d="M640.5 67.9 L642.4 64.6 L644.3 67.9 Z" fill="none" stroke="#5cbf5c" stroke-width="0.9"/>
<path d="M658.2 59.9 V42.3 M657.3 59.9 h1.8 M657.3 42.3 h1.8" stroke="#5cbf5c" stroke-width="0.6"/>
<path d="M656.3 52.5 L658.2 49.2 L660.1 52.5 Z" fill="none" stroke="#5cbf5c" stroke-width="0.9"/>
<polyline points="579.2,99.2 595.0,96.6 610.8,93.5 642.4,84.4 658.2,63.4" fill="none" stroke="#e03a3a" stroke-width="0.75"/>
<circle cx="579.2" cy="99.2" r="1.9" fill="none" stroke="#e03a3a" stroke-width="0.9"/>
<path d="M595.0 98.3 V94.8 M594.1 98.3 h1.8 M594.1 94.8 h1.8" stroke="#e03a3a" stroke-width="0.6"/>
<circle cx="595.0" cy="96.6" r="1.9" fill="none" stroke="#e03a3a" stroke-width="0.9"/>
<path d="M610.8 96.1 V90.8 M609.9 96.1 h1.8 M609.9 90.8 h1.8" stroke="#e03a3a" stroke-width="0.6"/>
<circle cx="610.8" cy="93.5" r="1.9" fill="none" stroke="#e03a3a" stroke-width="0.9"/>
<path d="M642.4 87.5 V81.3 M641.5 87.5 h1.8 M641.5 81.3 h1.8" stroke="#e03a3a" stroke-width="0.6"/>
<circle cx="642.4" cy="84.4" r="1.9" fill="none" stroke="#e03a3a" stroke-width="0.9"/>
<path d="M658.2 68.7 V58.1 M657.3 68.7 h1.8 M657.3 58.1 h1.8" stroke="#e03a3a" stroke-width="0.6"/>
<circle cx="658.2" cy="63.4" r="1.9" fill="none" stroke="#e03a3a" stroke-width="0.9"/>
<line x1="587.7" y1="31.1" x2="610.7" y2="31.1" stroke="#34479e" stroke-width="0.75"/>
<circle cx="599.3" cy="31.1" r="1.4" fill="#34479e"/>
<text x="614.2" y="33.9" font-size="7.9" text-anchor="start" font-weight="normal" fill="#1a1a1a" stroke="#1a1a1a" stroke-width="0.2" >0.5</text>
<line x1="587.7" y1="41.4" x2="610.7" y2="41.4" stroke="#5cbf5c" stroke-width="0.75"/>
<path d="M597.4 42.8 L599.3 39.5 L601.2 42.8 Z" fill="none" stroke="#5cbf5c" stroke-width="0.9"/>
<text x="614.2" y="44.2" font-size="7.9" text-anchor="start" font-weight="normal" fill="#1a1a1a" stroke="#1a1a1a" stroke-width="0.2" >0.2</text>
<line x1="587.7" y1="51.4" x2="610.7" y2="51.4" stroke="#e03a3a" stroke-width="0.75"/>
<circle cx="599.3" cy="51.4" r="2.2" fill="none" stroke="#e03a3a" stroke-width="0.9"/>
<text x="614.2" y="54.2" font-size="7.9" text-anchor="start" font-weight="normal" fill="#1a1a1a" stroke="#1a1a1a" stroke-width="0.2" >0.1</text>
<path d="M574.9 149.9 V237.9 H680.7" fill="none" stroke="#444" stroke-width="0.7"/>
<path d="M574.9 237.9 h1.8" stroke="#444" stroke-width="0.6"/>
<text x="572.3" y="240.7" font-size="7.9" text-anchor="end" font-weight="normal" fill="#1a1a1a" stroke="#1a1a1a" stroke-width="0.2" >0</text>
<path d="M574.9 208.6 h1.8" stroke="#444" stroke-width="0.6"/>
<text x="572.3" y="211.4" font-size="7.9" text-anchor="end" font-weight="normal" fill="#1a1a1a" stroke="#1a1a1a" stroke-width="0.2" >0.5</text>
<path d="M574.9 179.2 h1.8" stroke="#444" stroke-width="0.6"/>
<text x="572.3" y="182.0" font-size="7.9" text-anchor="end" font-weight="normal" fill="#1a1a1a" stroke="#1a1a1a" stroke-width="0.2" >1</text>
<path d="M574.9 149.9 h1.8" stroke="#444" stroke-width="0.6"/>
<text x="572.3" y="152.7" font-size="7.9" text-anchor="end" font-weight="normal" fill="#1a1a1a" stroke="#1a1a1a" stroke-width="0.2" >1.5</text>
<path d="M574.9 237.9 v-1.8" stroke="#444" stroke-width="0.6"/>
<text x="574.9" y="247.6" font-size="7.9" text-anchor="middle" font-weight="normal" fill="#1a1a1a" stroke="#1a1a1a" stroke-width="0.2" >0</text>
<path d="M614.1 237.9 v-1.8" stroke="#444" stroke-width="0.6"/>
<text x="614.1" y="247.6" font-size="7.9" text-anchor="middle" font-weight="normal" fill="#1a1a1a" stroke="#1a1a1a" stroke-width="0.2" >10</text>
<path d="M653.3 237.9 v-1.8" stroke="#444" stroke-width="0.6"/>
<text x="653.3" y="247.6" font-size="7.9" text-anchor="middle" font-weight="normal" fill="#1a1a1a" stroke="#1a1a1a" stroke-width="0.2" >20</text>
<text x="626.3" y="257.4" font-size="7.9" text-anchor="middle" font-weight="normal" fill="#1a1a1a" stroke="#1a1a1a" stroke-width="0.2" >Stimulus charge (nC)</text>
<text x="627.9" y="144.7" font-size="7.9" text-anchor="middle" font-weight="normal" fill="#1a1a1a" stroke="#1a1a1a" stroke-width="0.2" >n = 3</text>
<text x="0" y="0" font-size="7.8" fill="#1a1a1a" stroke="#1a1a1a" stroke-width="0.2" transform="translate(548.4 210.1) rotate(-90)">s<tspan font-size="6.0" dy="4.2">mean ΔV</tspan><tspan font-size="4.5" dy="1.8">m</tspan></text>
<polyline points="574.9,235.0 614.1,229.1 633.7,220.3 653.3,210.3 672.9,188.0" fill="none" stroke="#34479e" stroke-width="0.75"/>
<circle cx="574.9" cy="235.0" r="1.4" fill="#34479e"/>
<path d="M614.1 232.0 V226.2 M613.2 232.0 h1.8 M613.2 226.2 h1.8" stroke="#34479e" stroke-width="0.6"/>
<circle cx="614.1" cy="229.1" r="1.4" fill="#34479e"/>
<path d="M633.7 226.2 V214.4 M632.8 226.2 h1.8 M632.8 214.4 h1.8" stroke="#34479e" stroke-width="0.6"/>
<circle cx="633.7" cy="220.3" r="1.4" fill="#34479e"/>
<path d="M653.3 218.0 V202.7 M652.4 218.0 h1.8 M652.4 202.7 h1.8" stroke="#34479e" stroke-width="0.6"/>
<circle cx="653.3" cy="210.3" r="1.4" fill="#34479e"/>
<path d="M672.9 200.9 V175.1 M672.0 200.9 h1.8 M672.0 175.1 h1.8" stroke="#34479e" stroke-width="0.6"/>
<circle cx="672.9" cy="188.0" r="1.4" fill="#34479e"/>
<polyline points="574.9,235.0 594.5,233.2 614.1,232.0 633.7,227.3 653.3,222.1" fill="none" stroke="#5cbf5c" stroke-width="0.75"/>
<path d="M573.0 236.4 L574.9 233.1 L576.8 236.4 Z" fill="none" stroke="#5cbf5c" stroke-width="0.9"/>
<path d="M592.6 234.6 L594.5 231.3 L596.4 234.6 Z" fill="none" stroke="#5cbf5c" stroke-width="0.9"/>
<path d="M614.1 233.2 V230.9 M613.2 233.2 h1.8 M613.2 230.9 h1.8" stroke="#5cbf5c" stroke-width="0.6"/>
<path d="M612.2 233.4 L614.1 230.1 L616.0 233.4 Z" fill="none" stroke="#5cbf5c" stroke-width="0.9"/>
<path d="M633.7 229.1 V225.6 M632.8 229.1 h1.8 M632.8 225.6 h1.8" stroke="#5cbf5c" stroke-width="0.6"/>
<path d="M631.8 228.7 L633.7 225.4 L635.6 228.7 Z" fill="none" stroke="#5cbf5c" stroke-width="0.9"/>
<path d="M653.3 226.8 V217.4 M652.4 226.8 h1.8 M652.4 217.4 h1.8" stroke="#5cbf5c" stroke-width="0.6"/>
<path d="M651.4 223.5 L653.3 220.2 L655.2 223.5 Z" fill="none" stroke="#5cbf5c" stroke-width="0.9"/>
<polyline points="574.9,235.6 594.5,235.0 614.1,234.4 633.7,233.2 653.3,232.0" fill="none" stroke="#e03a3a" stroke-width="0.75"/>
<circle cx="574.9" cy="235.6" r="1.9" fill="none" stroke="#e03a3a" stroke-width="0.9"/>
<circle cx="594.5" cy="235.0" r="1.9" fill="none" stroke="#e03a3a" stroke-width="0.9"/>
<path d="M614.1 235.0 V233.8 M613.2 235.0 h1.8 M613.2 233.8 h1.8" stroke="#e03a3a" stroke-width="0.6"/>
<circle cx="614.1" cy="234.4" r="1.9" fill="none" stroke="#e03a3a" stroke-width="0.9"/>
<path d="M633.7 233.8 V232.6 M632.8 233.8 h1.8 M632.8 232.6 h1.8" stroke="#e03a3a" stroke-width="0.6"/>
<circle cx="633.7" cy="233.2" r="1.9" fill="none" stroke="#e03a3a" stroke-width="0.9"/>
<path d="M653.3 233.2 V230.9 M652.4 233.2 h1.8 M652.4 230.9 h1.8" stroke="#e03a3a" stroke-width="0.6"/>
<circle cx="653.3" cy="232.0" r="1.9" fill="none" stroke="#e03a3a" stroke-width="0.9"/>
<line x1="583.4" y1="159.5" x2="606.4" y2="159.5" stroke="#34479e" stroke-width="0.75"/>
<circle cx="595.0" cy="159.5" r="1.4" fill="#34479e"/>
<text x="609.9" y="162.3" font-size="7.9" text-anchor="start" font-weight="normal" fill="#1a1a1a" stroke="#1a1a1a" stroke-width="0.2" >0.5</text>
<line x1="583.4" y1="169.8" x2="606.4" y2="169.8" stroke="#5cbf5c" stroke-width="0.75"/>
<path d="M593.1 171.2 L595.0 167.9 L596.9 171.2 Z" fill="none" stroke="#5cbf5c" stroke-width="0.9"/>
<text x="609.9" y="172.6" font-size="7.9" text-anchor="start" font-weight="normal" fill="#1a1a1a" stroke="#1a1a1a" stroke-width="0.2" >0.2</text>
<line x1="583.4" y1="179.8" x2="606.4" y2="179.8" stroke="#e03a3a" stroke-width="0.75"/>
<circle cx="595.0" cy="179.8" r="2.2" fill="none" stroke="#e03a3a" stroke-width="0.9"/>
<text x="609.9" y="182.6" font-size="7.9" text-anchor="start" font-weight="normal" fill="#1a1a1a" stroke="#1a1a1a" stroke-width="0.2" >0.1</text>
<path d="M574.9 278.6 V366.8 H680.7" fill="none" stroke="#444" stroke-width="0.7"/>
<path d="M574.9 366.8 h1.8" stroke="#444" stroke-width="0.6"/>
<text x="572.3" y="369.6" font-size="7.9" text-anchor="end" font-weight="normal" fill="#1a1a1a" stroke="#1a1a1a" stroke-width="0.2" >0</text>
<path d="M574.9 349.2 h1.8" stroke="#444" stroke-width="0.6"/>
<text x="572.3" y="352.0" font-size="7.9" text-anchor="end" font-weight="normal" fill="#1a1a1a" stroke="#1a1a1a" stroke-width="0.2" >0.1</text>
<path d="M574.9 331.5 h1.8" stroke="#444" stroke-width="0.6"/>
<text x="572.3" y="334.3" font-size="7.9" text-anchor="end" font-weight="normal" fill="#1a1a1a" stroke="#1a1a1a" stroke-width="0.2" >0.2</text>
<path d="M574.9 313.9 h1.8" stroke="#444" stroke-width="0.6"/>
<text x="572.3" y="316.7" font-size="7.9" text-anchor="end" font-weight="normal" fill="#1a1a1a" stroke="#1a1a1a" stroke-width="0.2" >0.3</text>
<path d="M574.9 296.2 h1.8" stroke="#444" stroke-width="0.6"/>
<text x="572.3" y="299.0" font-size="7.9" text-anchor="end" font-weight="normal" fill="#1a1a1a" stroke="#1a1a1a" stroke-width="0.2" >0.4</text>
<path d="M574.9 278.6 h1.8" stroke="#444" stroke-width="0.6"/>
<text x="572.3" y="281.4" font-size="7.9" text-anchor="end" font-weight="normal" fill="#1a1a1a" stroke="#1a1a1a" stroke-width="0.2" >0.5</text>
<path d="M574.9 366.8 v-1.8" stroke="#444" stroke-width="0.6"/>
<text x="574.9" y="376.5" font-size="7.9" text-anchor="middle" font-weight="normal" fill="#1a1a1a" stroke="#1a1a1a" stroke-width="0.2" >0</text>
<path d="M614.1 366.8 v-1.8" stroke="#444" stroke-width="0.6"/>
<text x="614.1" y="376.5" font-size="7.9" text-anchor="middle" font-weight="normal" fill="#1a1a1a" stroke="#1a1a1a" stroke-width="0.2" >10</text>
<path d="M653.3 366.8 v-1.8" stroke="#444" stroke-width="0.6"/>
<text x="653.3" y="376.5" font-size="7.9" text-anchor="middle" font-weight="normal" fill="#1a1a1a" stroke="#1a1a1a" stroke-width="0.2" >20</text>
<text x="626.3" y="386.3" font-size="7.9" text-anchor="middle" font-weight="normal" fill="#1a1a1a" stroke="#1a1a1a" stroke-width="0.2" >Stimulus charge (nC)</text>
<text x="627.9" y="273.4" font-size="7.9" text-anchor="middle" font-weight="normal" fill="#1a1a1a" stroke="#1a1a1a" stroke-width="0.2" >n = 3</text>
<text x="0" y="0" font-size="7.8" fill="#1a1a1a" stroke="#1a1a1a" stroke-width="0.2" transform="translate(548.4 338.9) rotate(-90)">s<tspan font-size="6.0" dy="4.2">mean ΔV</tspan><tspan font-size="4.5" dy="1.8">m</tspan></text>
<polyline points="574.9,356.2 594.5,354.5 614.1,352.7 633.7,344.8 653.3,331.5 672.9,300.7" fill="none" stroke="#34479e" stroke-width="0.75"/>
<circle cx="574.9" cy="356.2" r="1.4" fill="#34479e"/>
<circle cx="594.5" cy="354.5" r="1.4" fill="#34479e"/>
<circle cx="614.1" cy="352.7" r="1.4" fill="#34479e"/>
<path d="M633.7 346.5 V343.0 M632.8 346.5 h1.8 M632.8 343.0 h1.8" stroke="#34479e" stroke-width="0.6"/>
<circle cx="633.7" cy="344.8" r="1.4" fill="#34479e"/>
<path d="M653.3 339.5 V323.6 M652.4 339.5 h1.8 M652.4 323.6 h1.8" stroke="#34479e" stroke-width="0.6"/>
<circle cx="653.3" cy="331.5" r="1.4" fill="#34479e"/>
<path d="M672.9 316.5 V284.8 M672.0 316.5 h1.8 M672.0 284.8 h1.8" stroke="#34479e" stroke-width="0.6"/>
<circle cx="672.9" cy="300.7" r="1.4" fill="#34479e"/>
<polyline points="574.9,356.2 594.5,354.5 614.1,351.8 633.7,338.6 653.3,330.6" fill="none" stroke="#5cbf5c" stroke-width="0.75"/>
<path d="M573.0 357.6 L574.9 354.3 L576.8 357.6 Z" fill="none" stroke="#5cbf5c" stroke-width="0.9"/>
<path d="M592.6 355.9 L594.5 352.6 L596.4 355.9 Z" fill="none" stroke="#5cbf5c" stroke-width="0.9"/>
<path d="M612.2 353.2 L614.1 349.9 L616.0 353.2 Z" fill="none" stroke="#5cbf5c" stroke-width="0.9"/>
<path d="M633.7 340.3 V336.8 M632.8 340.3 h1.8 M632.8 336.8 h1.8" stroke="#5cbf5c" stroke-width="0.6"/>
<path d="M631.8 340.0 L633.7 336.7 L635.6 340.0 Z" fill="none" stroke="#5cbf5c" stroke-width="0.9"/>
<path d="M653.3 334.2 V327.1 M652.4 334.2 h1.8 M652.4 327.1 h1.8" stroke="#5cbf5c" stroke-width="0.6"/>
<path d="M651.4 332.0 L653.3 328.7 L655.2 332.0 Z" fill="none" stroke="#5cbf5c" stroke-width="0.9"/>
<polyline points="574.9,356.2 594.5,354.5 614.1,352.7 633.7,348.3 653.3,343.0" fill="none" stroke="#e03a3a" stroke-width="0.75"/>
<circle cx="574.9" cy="356.2" r="1.9" fill="none" stroke="#e03a3a" stroke-width="0.9"/>
<circle cx="594.5" cy="354.5" r="1.9" fill="none" stroke="#e03a3a" stroke-width="0.9"/>
<circle cx="614.1" cy="352.7" r="1.9" fill="none" stroke="#e03a3a" stroke-width="0.9"/>
<path d="M633.7 349.2 V347.4 M632.8 349.2 h1.8 M632.8 347.4 h1.8" stroke="#e03a3a" stroke-width="0.6"/>
<circle cx="633.7" cy="348.3" r="1.9" fill="none" stroke="#e03a3a" stroke-width="0.9"/>
<path d="M653.3 344.8 V341.2 M652.4 344.8 h1.8 M652.4 341.2 h1.8" stroke="#e03a3a" stroke-width="0.6"/>
<circle cx="653.3" cy="343.0" r="1.9" fill="none" stroke="#e03a3a" stroke-width="0.9"/>
<line x1="583.4" y1="288.2" x2="606.4" y2="288.2" stroke="#34479e" stroke-width="0.75"/>
<circle cx="595.0" cy="288.2" r="1.4" fill="#34479e"/>
<text x="609.9" y="291.0" font-size="7.9" text-anchor="start" font-weight="normal" fill="#1a1a1a" stroke="#1a1a1a" stroke-width="0.2" >0.5</text>
<line x1="583.4" y1="298.5" x2="606.4" y2="298.5" stroke="#5cbf5c" stroke-width="0.75"/>
<path d="M593.1 299.9 L595.0 296.6 L596.9 299.9 Z" fill="none" stroke="#5cbf5c" stroke-width="0.9"/>
<text x="609.9" y="301.3" font-size="7.9" text-anchor="start" font-weight="normal" fill="#1a1a1a" stroke="#1a1a1a" stroke-width="0.2" >0.2</text>
<line x1="583.4" y1="308.5" x2="606.4" y2="308.5" stroke="#e03a3a" stroke-width="0.75"/>
<circle cx="595.0" cy="308.5" r="2.2" fill="none" stroke="#e03a3a" stroke-width="0.9"/>
<text x="609.9" y="311.3" font-size="7.9" text-anchor="start" font-weight="normal" fill="#1a1a1a" stroke="#1a1a1a" stroke-width="0.2" >0.1</text>
<path d="M574.9 407.7 V496.2 H680.7" fill="none" stroke="#444" stroke-width="0.7"/>
<path d="M574.9 496.2 h1.8" stroke="#444" stroke-width="0.6"/>
<text x="572.3" y="499.0" font-size="7.9" text-anchor="end" font-weight="normal" fill="#1a1a1a" stroke="#1a1a1a" stroke-width="0.2" >0</text>
<path d="M574.9 466.7 h1.8" stroke="#444" stroke-width="0.6"/>
<text x="572.3" y="469.5" font-size="7.9" text-anchor="end" font-weight="normal" fill="#1a1a1a" stroke="#1a1a1a" stroke-width="0.2" >0.5</text>
<path d="M574.9 437.2 h1.8" stroke="#444" stroke-width="0.6"/>
<text x="572.3" y="440.0" font-size="7.9" text-anchor="end" font-weight="normal" fill="#1a1a1a" stroke="#1a1a1a" stroke-width="0.2" >1</text>
<path d="M574.9 407.7 h1.8" stroke="#444" stroke-width="0.6"/>
<text x="572.3" y="410.5" font-size="7.9" text-anchor="end" font-weight="normal" fill="#1a1a1a" stroke="#1a1a1a" stroke-width="0.2" >1.5</text>
<path d="M574.9 496.2 v-1.8" stroke="#444" stroke-width="0.6"/>
<text x="574.9" y="505.9" font-size="7.9" text-anchor="middle" font-weight="normal" fill="#1a1a1a" stroke="#1a1a1a" stroke-width="0.2" >0</text>
<path d="M607.7 496.2 v-1.8" stroke="#444" stroke-width="0.6"/>
<text x="607.7" y="505.9" font-size="7.9" text-anchor="middle" font-weight="normal" fill="#1a1a1a" stroke="#1a1a1a" stroke-width="0.2" >10</text>
<path d="M640.4 496.2 v-1.8" stroke="#444" stroke-width="0.6"/>
<text x="640.4" y="505.9" font-size="7.9" text-anchor="middle" font-weight="normal" fill="#1a1a1a" stroke="#1a1a1a" stroke-width="0.2" >20</text>
<path d="M673.2 496.2 v-1.8" stroke="#444" stroke-width="0.6"/>
<text x="673.2" y="505.9" font-size="7.9" text-anchor="middle" font-weight="normal" fill="#1a1a1a" stroke="#1a1a1a" stroke-width="0.2" >30</text>
<text x="626.3" y="515.7" font-size="7.9" text-anchor="middle" font-weight="normal" fill="#1a1a1a" stroke="#1a1a1a" stroke-width="0.2" >Stimulus charge (nC)</text>
<text x="627.9" y="402.5" font-size="7.9" text-anchor="middle" font-weight="normal" fill="#1a1a1a" stroke="#1a1a1a" stroke-width="0.2" >n = 4</text>
<text x="0" y="0" font-size="7.8" fill="#1a1a1a" stroke="#1a1a1a" stroke-width="0.2" transform="translate(548.4 468.1) rotate(-90)">s<tspan font-size="6.0" dy="4.2">mean ΔV</tspan><tspan font-size="4.5" dy="1.8">m</tspan></text>
<polyline points="574.9,493.2 607.7,483.2 640.4,460.8 656.8,454.9 673.2,441.9" fill="none" stroke="#34479e" stroke-width="0.75"/>
<circle cx="574.9" cy="493.2" r="1.4" fill="#34479e"/>
<path d="M607.7 486.2 V480.3 M606.8 486.2 h1.8 M606.8 480.3 h1.8" stroke="#34479e" stroke-width="0.6"/>
<circle cx="607.7" cy="483.2" r="1.4" fill="#34479e"/>
<path d="M640.4 471.4 V450.2 M639.5 471.4 h1.8 M639.5 450.2 h1.8" stroke="#34479e" stroke-width="0.6"/>
<circle cx="640.4" cy="460.8" r="1.4" fill="#34479e"/>
<path d="M656.8 466.7 V443.1 M655.9 466.7 h1.8 M655.9 443.1 h1.8" stroke="#34479e" stroke-width="0.6"/>
<circle cx="656.8" cy="454.9" r="1.4" fill="#34479e"/>
<path d="M673.2 453.7 V430.1 M672.3 453.7 h1.8 M672.3 430.1 h1.8" stroke="#34479e" stroke-width="0.6"/>
<circle cx="673.2" cy="441.9" r="1.4" fill="#34479e"/>
<polyline points="574.9,493.2 607.7,492.1 624.0,490.3 640.4,479.1 656.8,475.0" fill="none" stroke="#5cbf5c" stroke-width="0.75"/>
<path d="M573.0 494.6 L574.9 491.4 L576.8 494.6 Z" fill="none" stroke="#5cbf5c" stroke-width="0.9"/>
<path d="M605.8 493.5 L607.7 490.2 L609.6 493.5 Z" fill="none" stroke="#5cbf5c" stroke-width="0.9"/>
<path d="M624.0 491.5 V489.1 M623.1 491.5 h1.8 M623.1 489.1 h1.8" stroke="#5cbf5c" stroke-width="0.6"/>
<path d="M622.1 491.7 L624.0 488.4 L625.9 491.7 Z" fill="none" stroke="#5cbf5c" stroke-width="0.9"/>
<path d="M640.4 486.8 V471.4 M639.5 486.8 h1.8 M639.5 471.4 h1.8" stroke="#5cbf5c" stroke-width="0.6"/>
<path d="M638.5 480.5 L640.4 477.2 L642.3 480.5 Z" fill="none" stroke="#5cbf5c" stroke-width="0.9"/>
<path d="M656.8 485.6 V464.3 M655.9 485.6 h1.8 M655.9 464.3 h1.8" stroke="#5cbf5c" stroke-width="0.6"/>
<path d="M654.9 476.4 L656.8 473.1 L658.7 476.4 Z" fill="none" stroke="#5cbf5c" stroke-width="0.9"/>
<polyline points="574.9,493.2 607.7,492.1 640.4,491.5 656.8,485.6 673.2,480.9" fill="none" stroke="#e03a3a" stroke-width="0.75"/>
<circle cx="574.9" cy="493.2" r="1.9" fill="none" stroke="#e03a3a" stroke-width="0.9"/>
<path d="M607.7 493.2 V490.9 M606.8 493.2 h1.8 M606.8 490.9 h1.8" stroke="#e03a3a" stroke-width="0.6"/>
<circle cx="607.7" cy="492.1" r="1.9" fill="none" stroke="#e03a3a" stroke-width="0.9"/>
<path d="M640.4 492.7 V490.3 M639.5 492.7 h1.8 M639.5 490.3 h1.8" stroke="#e03a3a" stroke-width="0.6"/>
<circle cx="640.4" cy="491.5" r="1.9" fill="none" stroke="#e03a3a" stroke-width="0.9"/>
<path d="M656.8 489.7 V481.4 M655.9 489.7 h1.8 M655.9 481.4 h1.8" stroke="#e03a3a" stroke-width="0.6"/>
<circle cx="656.8" cy="485.6" r="1.9" fill="none" stroke="#e03a3a" stroke-width="0.9"/>
<path d="M673.2 487.3 V474.4 M672.3 487.3 h1.8 M672.3 474.4 h1.8" stroke="#e03a3a" stroke-width="0.6"/>
<circle cx="673.2" cy="480.9" r="1.9" fill="none" stroke="#e03a3a" stroke-width="0.9"/>
<line x1="583.4" y1="417.3" x2="606.4" y2="417.3" stroke="#34479e" stroke-width="0.75"/>
<circle cx="595.0" cy="417.3" r="1.4" fill="#34479e"/>
<text x="609.9" y="420.1" font-size="7.9" text-anchor="start" font-weight="normal" fill="#1a1a1a" stroke="#1a1a1a" stroke-width="0.2" >0.5</text>
<line x1="583.4" y1="427.6" x2="606.4" y2="427.6" stroke="#5cbf5c" stroke-width="0.75"/>
<path d="M593.1 429.0 L595.0 425.7 L596.9 429.0 Z" fill="none" stroke="#5cbf5c" stroke-width="0.9"/>
<text x="609.9" y="430.4" font-size="7.9" text-anchor="start" font-weight="normal" fill="#1a1a1a" stroke="#1a1a1a" stroke-width="0.2" >0.2</text>
<line x1="583.4" y1="437.6" x2="606.4" y2="437.6" stroke="#e03a3a" stroke-width="0.75"/>
<circle cx="595.0" cy="437.6" r="2.2" fill="none" stroke="#e03a3a" stroke-width="0.9"/>
<text x="609.9" y="440.4" font-size="7.9" text-anchor="start" font-weight="normal" fill="#1a1a1a" stroke="#1a1a1a" stroke-width="0.2" >0.1</text>
<path d="M574.9 537.1 V625.1 H680.7" fill="none" stroke="#444" stroke-width="0.7"/>
<path d="M574.9 625.1 h1.8" stroke="#444" stroke-width="0.6"/>
<text x="572.3" y="627.9" font-size="7.9" text-anchor="end" font-weight="normal" fill="#1a1a1a" stroke="#1a1a1a" stroke-width="0.2" >0</text>
<path d="M574.9 603.1 h1.8" stroke="#444" stroke-width="0.6"/>
<text x="572.3" y="605.9" font-size="7.9" text-anchor="end" font-weight="normal" fill="#1a1a1a" stroke="#1a1a1a" stroke-width="0.2" >0.5</text>
<path d="M574.9 581.1 h1.8" stroke="#444" stroke-width="0.6"/>
<text x="572.3" y="583.9" font-size="7.9" text-anchor="end" font-weight="normal" fill="#1a1a1a" stroke="#1a1a1a" stroke-width="0.2" >1</text>
<path d="M574.9 559.1 h1.8" stroke="#444" stroke-width="0.6"/>
<text x="572.3" y="561.9" font-size="7.9" text-anchor="end" font-weight="normal" fill="#1a1a1a" stroke="#1a1a1a" stroke-width="0.2" >1.5</text>
<path d="M574.9 537.1 h1.8" stroke="#444" stroke-width="0.6"/>
<text x="572.3" y="539.9" font-size="7.9" text-anchor="end" font-weight="normal" fill="#1a1a1a" stroke="#1a1a1a" stroke-width="0.2" >2</text>
<path d="M574.9 625.1 v-1.8" stroke="#444" stroke-width="0.6"/>
<text x="574.9" y="634.8" font-size="7.9" text-anchor="middle" font-weight="normal" fill="#1a1a1a" stroke="#1a1a1a" stroke-width="0.2" >0</text>
<path d="M614.1 625.1 v-1.8" stroke="#444" stroke-width="0.6"/>
<text x="614.1" y="634.8" font-size="7.9" text-anchor="middle" font-weight="normal" fill="#1a1a1a" stroke="#1a1a1a" stroke-width="0.2" >10</text>
<path d="M653.3 625.1 v-1.8" stroke="#444" stroke-width="0.6"/>
<text x="653.3" y="634.8" font-size="7.9" text-anchor="middle" font-weight="normal" fill="#1a1a1a" stroke="#1a1a1a" stroke-width="0.2" >20</text>
<text x="626.3" y="644.6" font-size="7.9" text-anchor="middle" font-weight="normal" fill="#1a1a1a" stroke="#1a1a1a" stroke-width="0.2" >Stimulus charge (nC)</text>
<text x="627.9" y="531.9" font-size="7.9" text-anchor="middle" font-weight="normal" fill="#1a1a1a" stroke="#1a1a1a" stroke-width="0.2" >n = 2</text>
<text x="0" y="0" font-size="7.8" fill="#1a1a1a" stroke="#1a1a1a" stroke-width="0.2" transform="translate(548.4 597.3) rotate(-90)">s<tspan font-size="6.0" dy="4.2">mean ΔV</tspan><tspan font-size="4.5" dy="1.8">m</tspan></text>
<polyline points="574.9,620.7 614.1,607.5 633.7,570.1 653.3,548.1 672.9,545.9" fill="none" stroke="#34479e" stroke-width="0.75"/>
<circle cx="574.9" cy="620.7" r="1.4" fill="#34479e"/>
<path d="M614.1 609.7 V605.3 M613.2 609.7 h1.8 M613.2 605.3 h1.8" stroke="#34479e" stroke-width="0.6"/>
<circle cx="614.1" cy="607.5" r="1.4" fill="#34479e"/>
<path d="M633.7 581.1 V559.1 M632.8 581.1 h1.8 M632.8 559.1 h1.8" stroke="#34479e" stroke-width="0.6"/>
<circle cx="633.7" cy="570.1" r="1.4" fill="#34479e"/>
<path d="M653.3 554.7 V541.5 M652.4 554.7 h1.8 M652.4 541.5 h1.8" stroke="#34479e" stroke-width="0.6"/>
<circle cx="653.3" cy="548.1" r="1.4" fill="#34479e"/>
<path d="M672.9 550.3 V541.5 M672.0 550.3 h1.8 M672.0 541.5 h1.8" stroke="#34479e" stroke-width="0.6"/>
<circle cx="672.9" cy="545.9" r="1.4" fill="#34479e"/>
<polyline points="574.9,620.7 594.5,620.7 614.1,615.4 633.7,567.9 653.3,552.5" fill="none" stroke="#5cbf5c" stroke-width="0.75"/>
<path d="M573.0 622.1 L574.9 618.8 L576.8 622.1 Z" fill="none" stroke="#5cbf5c" stroke-width="0.9"/>
<path d="M592.6 622.1 L594.5 618.8 L596.4 622.1 Z" fill="none" stroke="#5cbf5c" stroke-width="0.9"/>
<path d="M614.1 617.6 V613.2 M613.2 617.6 h1.8 M613.2 613.2 h1.8" stroke="#5cbf5c" stroke-width="0.6"/>
<path d="M612.2 616.8 L614.1 613.5 L616.0 616.8 Z" fill="none" stroke="#5cbf5c" stroke-width="0.9"/>
<path d="M633.7 576.7 V559.1 M632.8 576.7 h1.8 M632.8 559.1 h1.8" stroke="#5cbf5c" stroke-width="0.6"/>
<path d="M631.8 569.3 L633.7 566.0 L635.6 569.3 Z" fill="none" stroke="#5cbf5c" stroke-width="0.9"/>
<path d="M653.3 556.9 V548.1 M652.4 556.9 h1.8 M652.4 548.1 h1.8" stroke="#5cbf5c" stroke-width="0.6"/>
<path d="M651.4 553.9 L653.3 550.6 L655.2 553.9 Z" fill="none" stroke="#5cbf5c" stroke-width="0.9"/>
<polyline points="574.9,620.7 594.5,620.7 614.1,619.8 633.7,608.8 653.3,564.4" fill="none" stroke="#e03a3a" stroke-width="0.75"/>
<circle cx="574.9" cy="620.7" r="1.9" fill="none" stroke="#e03a3a" stroke-width="0.9"/>
<circle cx="594.5" cy="620.7" r="1.9" fill="none" stroke="#e03a3a" stroke-width="0.9"/>
<circle cx="614.1" cy="619.8" r="1.9" fill="none" stroke="#e03a3a" stroke-width="0.9"/>
<path d="M633.7 616.3 V601.3 M632.8 616.3 h1.8 M632.8 601.3 h1.8" stroke="#e03a3a" stroke-width="0.6"/>
<circle cx="633.7" cy="608.8" r="1.9" fill="none" stroke="#e03a3a" stroke-width="0.9"/>
<path d="M653.3 576.3 V552.5 M652.4 576.3 h1.8 M652.4 552.5 h1.8" stroke="#e03a3a" stroke-width="0.6"/>
<circle cx="653.3" cy="564.4" r="1.9" fill="none" stroke="#e03a3a" stroke-width="0.9"/>
<line x1="583.4" y1="546.7" x2="606.4" y2="546.7" stroke="#34479e" stroke-width="0.75"/>
<circle cx="595.0" cy="546.7" r="1.4" fill="#34479e"/>
<text x="609.9" y="549.5" font-size="7.9" text-anchor="start" font-weight="normal" fill="#1a1a1a" stroke="#1a1a1a" stroke-width="0.2" >0.5</text>
<line x1="583.4" y1="557.0" x2="606.4" y2="557.0" stroke="#5cbf5c" stroke-width="0.75"/>
<path d="M593.1 558.4 L595.0 555.1 L596.9 558.4 Z" fill="none" stroke="#5cbf5c" stroke-width="0.9"/>
<text x="609.9" y="559.8" font-size="7.9" text-anchor="start" font-weight="normal" fill="#1a1a1a" stroke="#1a1a1a" stroke-width="0.2" >0.2</text>
<line x1="583.4" y1="567.0" x2="606.4" y2="567.0" stroke="#e03a3a" stroke-width="0.75"/>
<circle cx="595.0" cy="567.0" r="2.2" fill="none" stroke="#e03a3a" stroke-width="0.9"/>
<text x="609.9" y="569.8" font-size="7.9" text-anchor="start" font-weight="normal" fill="#1a1a1a" stroke="#1a1a1a" stroke-width="0.2" >0.1</text>
<path d="M574.9 662.1 V753.8 H680.7" fill="none" stroke="#444" stroke-width="0.7"/>
<path d="M574.9 753.8 h1.8" stroke="#444" stroke-width="0.6"/>
<text x="572.3" y="756.6" font-size="7.9" text-anchor="end" font-weight="normal" fill="#1a1a1a" stroke="#1a1a1a" stroke-width="0.2" >0</text>
<path d="M574.9 735.5 h1.8" stroke="#444" stroke-width="0.6"/>
<text x="572.3" y="738.3" font-size="7.9" text-anchor="end" font-weight="normal" fill="#1a1a1a" stroke="#1a1a1a" stroke-width="0.2" >0.1</text>
<path d="M574.9 717.1 h1.8" stroke="#444" stroke-width="0.6"/>
<text x="572.3" y="719.9" font-size="7.9" text-anchor="end" font-weight="normal" fill="#1a1a1a" stroke="#1a1a1a" stroke-width="0.2" >0.2</text>
<path d="M574.9 698.8 h1.8" stroke="#444" stroke-width="0.6"/>
<text x="572.3" y="701.6" font-size="7.9" text-anchor="end" font-weight="normal" fill="#1a1a1a" stroke="#1a1a1a" stroke-width="0.2" >0.3</text>
<path d="M574.9 680.4 h1.8" stroke="#444" stroke-width="0.6"/>
<text x="572.3" y="683.2" font-size="7.9" text-anchor="end" font-weight="normal" fill="#1a1a1a" stroke="#1a1a1a" stroke-width="0.2" >0.4</text>
<path d="M574.9 662.1 h1.8" stroke="#444" stroke-width="0.6"/>
<text x="572.3" y="664.9" font-size="7.9" text-anchor="end" font-weight="normal" fill="#1a1a1a" stroke="#1a1a1a" stroke-width="0.2" >0.5</text>
<path d="M574.9 753.8 v-1.8" stroke="#444" stroke-width="0.6"/>
<text x="574.9" y="763.5" font-size="7.9" text-anchor="middle" font-weight="normal" fill="#1a1a1a" stroke="#1a1a1a" stroke-width="0.2" >0</text>
<path d="M610.1 753.8 v-1.8" stroke="#444" stroke-width="0.6"/>
<text x="610.1" y="763.5" font-size="7.9" text-anchor="middle" font-weight="normal" fill="#1a1a1a" stroke="#1a1a1a" stroke-width="0.2" >10</text>
<path d="M645.3 753.8 v-1.8" stroke="#444" stroke-width="0.6"/>
<text x="645.3" y="763.5" font-size="7.9" text-anchor="middle" font-weight="normal" fill="#1a1a1a" stroke="#1a1a1a" stroke-width="0.2" >20</text>
<path d="M680.5 753.8 v-1.8" stroke="#444" stroke-width="0.6"/>
<text x="680.5" y="763.5" font-size="7.9" text-anchor="middle" font-weight="normal" fill="#1a1a1a" stroke="#1a1a1a" stroke-width="0.2" >30</text>
<text x="626.3" y="773.3" font-size="7.9" text-anchor="middle" font-weight="normal" fill="#1a1a1a" stroke="#1a1a1a" stroke-width="0.2" >Stimulus charge (nC)</text>
<text x="0" y="0" font-size="7.8" fill="#1a1a1a" stroke="#1a1a1a" stroke-width="0.2" transform="translate(548.4 724.2) rotate(-90)">s<tspan font-size="6.0" dy="4.2">mean ΔV</tspan><tspan font-size="4.5" dy="1.8">m</tspan></text>
<polyline points="574.9,740.0 627.7,724.8 645.3,719.5 662.9,694.7 680.5,668.0" fill="none" stroke="#34479e" stroke-width="0.75"/>
<circle cx="574.9" cy="740.0" r="1.4" fill="#34479e"/>
<circle cx="627.7" cy="724.8" r="1.4" fill="#34479e"/>
<circle cx="645.3" cy="719.5" r="1.4" fill="#34479e"/>
<circle cx="662.9" cy="694.7" r="1.4" fill="#34479e"/>
<circle cx="680.5" cy="668.0" r="1.4" fill="#34479e"/>
<polyline points="574.9,740.0 659.4,721.2 666.4,705.2 673.4,696.0 680.5,681.4" fill="none" stroke="#5cbf5c" stroke-width="0.75"/>
<path d="M573.0 741.4 L574.9 738.1 L576.8 741.4 Z" fill="none" stroke="#5cbf5c" stroke-width="0.9"/>
<path d="M657.5 722.6 L659.4 719.3 L661.3 722.6 Z" fill="none" stroke="#5cbf5c" stroke-width="0.9"/>
<path d="M664.5 706.6 L666.4 703.3 L668.3 706.6 Z" fill="none" stroke="#5cbf5c" stroke-width="0.9"/>
<path d="M671.5 697.4 L673.4 694.1 L675.3 697.4 Z" fill="none" stroke="#5cbf5c" stroke-width="0.9"/>
<path d="M678.6 682.8 L680.5 679.5 L682.4 682.8 Z" fill="none" stroke="#5cbf5c" stroke-width="0.9"/>
<polyline points="574.9,740.6 645.3,737.7 662.9,729.0 671.7,729.0 680.5,723.5" fill="none" stroke="#e03a3a" stroke-width="0.75"/>
<circle cx="574.9" cy="740.6" r="1.9" fill="none" stroke="#e03a3a" stroke-width="0.9"/>
<circle cx="645.3" cy="737.7" r="1.9" fill="none" stroke="#e03a3a" stroke-width="0.9"/>
<circle cx="662.9" cy="729.0" r="1.9" fill="none" stroke="#e03a3a" stroke-width="0.9"/>
<circle cx="671.7" cy="729.0" r="1.9" fill="none" stroke="#e03a3a" stroke-width="0.9"/>
<circle cx="680.5" cy="723.5" r="1.9" fill="none" stroke="#e03a3a" stroke-width="0.9"/>
<line x1="583.4" y1="671.7" x2="606.4" y2="671.7" stroke="#34479e" stroke-width="0.75"/>
<circle cx="595.0" cy="671.7" r="1.4" fill="#34479e"/>
<text x="609.9" y="674.5" font-size="7.9" text-anchor="start" font-weight="normal" fill="#1a1a1a" stroke="#1a1a1a" stroke-width="0.2" >0.5</text>
<line x1="583.4" y1="682.0" x2="606.4" y2="682.0" stroke="#5cbf5c" stroke-width="0.75"/>
<path d="M593.1 683.4 L595.0 680.1 L596.9 683.4 Z" fill="none" stroke="#5cbf5c" stroke-width="0.9"/>
<text x="609.9" y="684.8" font-size="7.9" text-anchor="start" font-weight="normal" fill="#1a1a1a" stroke="#1a1a1a" stroke-width="0.2" >0.2</text>
<line x1="583.4" y1="692.0" x2="606.4" y2="692.0" stroke="#e03a3a" stroke-width="0.75"/>
<circle cx="595.0" cy="692.0" r="2.2" fill="none" stroke="#e03a3a" stroke-width="0.9"/>
<text x="609.9" y="694.8" font-size="7.9" text-anchor="start" font-weight="normal" fill="#1a1a1a" stroke="#1a1a1a" stroke-width="0.2" >0.1</text>
<path d="M574.9 793.6 V882.3 H680.7" fill="none" stroke="#444" stroke-width="0.7"/>
<path d="M574.9 882.3 h1.8" stroke="#444" stroke-width="0.6"/>
<text x="572.3" y="885.1" font-size="7.9" text-anchor="end" font-weight="normal" fill="#1a1a1a" stroke="#1a1a1a" stroke-width="0.2" >0</text>
<path d="M574.9 852.7 h1.8" stroke="#444" stroke-width="0.6"/>
<text x="572.3" y="855.5" font-size="7.9" text-anchor="end" font-weight="normal" fill="#1a1a1a" stroke="#1a1a1a" stroke-width="0.2" >1</text>
<path d="M574.9 823.2 h1.8" stroke="#444" stroke-width="0.6"/>
<text x="572.3" y="826.0" font-size="7.9" text-anchor="end" font-weight="normal" fill="#1a1a1a" stroke="#1a1a1a" stroke-width="0.2" >2</text>
<path d="M574.9 793.6 h1.8" stroke="#444" stroke-width="0.6"/>
<text x="572.3" y="796.4" font-size="7.9" text-anchor="end" font-weight="normal" fill="#1a1a1a" stroke="#1a1a1a" stroke-width="0.2" >3</text>
<path d="M574.9 882.3 v-1.8" stroke="#444" stroke-width="0.6"/>
<text x="574.9" y="892.0" font-size="7.9" text-anchor="middle" font-weight="normal" fill="#1a1a1a" stroke="#1a1a1a" stroke-width="0.2" >0</text>
<path d="M614.1 882.3 v-1.8" stroke="#444" stroke-width="0.6"/>
<text x="614.1" y="892.0" font-size="7.9" text-anchor="middle" font-weight="normal" fill="#1a1a1a" stroke="#1a1a1a" stroke-width="0.2" >10</text>
<path d="M653.3 882.3 v-1.8" stroke="#444" stroke-width="0.6"/>
<text x="653.3" y="892.0" font-size="7.9" text-anchor="middle" font-weight="normal" fill="#1a1a1a" stroke="#1a1a1a" stroke-width="0.2" >20</text>
<text x="626.3" y="901.8" font-size="7.9" text-anchor="middle" font-weight="normal" fill="#1a1a1a" stroke="#1a1a1a" stroke-width="0.2" >Stimulus charge (nC)</text>
<text x="627.9" y="788.4" font-size="7.9" text-anchor="middle" font-weight="normal" fill="#1a1a1a" stroke="#1a1a1a" stroke-width="0.2" >n = 7</text>
<text x="0" y="0" font-size="7.8" fill="#1a1a1a" stroke="#1a1a1a" stroke-width="0.2" transform="translate(554.8 854.2) rotate(-90)">s<tspan font-size="6.0" dy="4.2">mean ΔV</tspan><tspan font-size="4.5" dy="1.8">m</tspan></text>
<polyline points="574.9,878.8 614.1,871.1 633.7,857.2 653.3,839.4 672.9,825.5" fill="none" stroke="#34479e" stroke-width="0.75"/>
<circle cx="574.9" cy="878.8" r="1.4" fill="#34479e"/>
<path d="M614.1 874.0 V868.1 M613.2 874.0 h1.8 M613.2 868.1 h1.8" stroke="#34479e" stroke-width="0.6"/>
<circle cx="614.1" cy="871.1" r="1.4" fill="#34479e"/>
<path d="M633.7 867.5 V846.8 M632.8 867.5 h1.8 M632.8 846.8 h1.8" stroke="#34479e" stroke-width="0.6"/>
<circle cx="633.7" cy="857.2" r="1.4" fill="#34479e"/>
<path d="M653.3 854.2 V824.6 M652.4 854.2 h1.8 M652.4 824.6 h1.8" stroke="#34479e" stroke-width="0.6"/>
<circle cx="653.3" cy="839.4" r="1.4" fill="#34479e"/>
<path d="M672.9 844.8 V806.3 M672.0 844.8 h1.8 M672.0 806.3 h1.8" stroke="#34479e" stroke-width="0.6"/>
<circle cx="672.9" cy="825.5" r="1.4" fill="#34479e"/>
<polyline points="574.9,879.3 594.5,877.9 614.1,872.8 633.7,859.2 653.3,841.5" fill="none" stroke="#5cbf5c" stroke-width="0.75"/>
<path d="M573.0 880.7 L574.9 877.4 L576.8 880.7 Z" fill="none" stroke="#5cbf5c" stroke-width="0.9"/>
<path d="M592.6 879.3 L594.5 876.0 L596.4 879.3 Z" fill="none" stroke="#5cbf5c" stroke-width="0.9"/>
<path d="M614.1 874.3 V871.4 M613.2 874.3 h1.8 M613.2 871.4 h1.8" stroke="#5cbf5c" stroke-width="0.6"/>
<path d="M612.2 874.2 L614.1 870.9 L616.0 874.2 Z" fill="none" stroke="#5cbf5c" stroke-width="0.9"/>
<path d="M633.7 871.1 V847.4 M632.8 871.1 h1.8 M632.8 847.4 h1.8" stroke="#5cbf5c" stroke-width="0.6"/>
<path d="M631.8 860.6 L633.7 857.3 L635.6 860.6 Z" fill="none" stroke="#5cbf5c" stroke-width="0.9"/>
<path d="M653.3 857.8 V825.2 M652.4 857.8 h1.8 M652.4 825.2 h1.8" stroke="#5cbf5c" stroke-width="0.6"/>
<path d="M651.4 842.9 L653.3 839.6 L655.2 842.9 Z" fill="none" stroke="#5cbf5c" stroke-width="0.9"/>
<polyline points="574.9,878.8 594.5,878.2 614.1,875.2 633.7,869.9 653.3,860.1" fill="none" stroke="#e03a3a" stroke-width="0.75"/>
<circle cx="574.9" cy="878.8" r="1.9" fill="none" stroke="#e03a3a" stroke-width="0.9"/>
<circle cx="594.5" cy="878.2" r="1.9" fill="none" stroke="#e03a3a" stroke-width="0.9"/>
<path d="M614.1 876.7 V873.7 M613.2 876.7 h1.8 M613.2 873.7 h1.8" stroke="#e03a3a" stroke-width="0.6"/>
<circle cx="614.1" cy="875.2" r="1.9" fill="none" stroke="#e03a3a" stroke-width="0.9"/>
<path d="M633.7 874.3 V865.4 M632.8 874.3 h1.8 M632.8 865.4 h1.8" stroke="#e03a3a" stroke-width="0.6"/>
<circle cx="633.7" cy="869.9" r="1.9" fill="none" stroke="#e03a3a" stroke-width="0.9"/>
<path d="M653.3 869.0 V851.3 M652.4 869.0 h1.8 M652.4 851.3 h1.8" stroke="#e03a3a" stroke-width="0.6"/>
<circle cx="653.3" cy="860.1" r="1.9" fill="none" stroke="#e03a3a" stroke-width="0.9"/>
<line x1="583.4" y1="803.2" x2="606.4" y2="803.2" stroke="#34479e" stroke-width="0.75"/>
<circle cx="595.0" cy="803.2" r="1.4" fill="#34479e"/>
<text x="609.9" y="806.0" font-size="7.9" text-anchor="start" font-weight="normal" fill="#1a1a1a" stroke="#1a1a1a" stroke-width="0.2" >0.5</text>
<line x1="583.4" y1="813.5" x2="606.4" y2="813.5" stroke="#5cbf5c" stroke-width="0.75"/>
<path d="M593.1 814.9 L595.0 811.6 L596.9 814.9 Z" fill="none" stroke="#5cbf5c" stroke-width="0.9"/>
<text x="609.9" y="816.3" font-size="7.9" text-anchor="start" font-weight="normal" fill="#1a1a1a" stroke="#1a1a1a" stroke-width="0.2" >0.2</text>
<line x1="583.4" y1="823.5" x2="606.4" y2="823.5" stroke="#e03a3a" stroke-width="0.75"/>
<circle cx="595.0" cy="823.5" r="2.2" fill="none" stroke="#e03a3a" stroke-width="0.9"/>
<text x="609.9" y="826.3" font-size="7.9" text-anchor="start" font-weight="normal" fill="#1a1a1a" stroke="#1a1a1a" stroke-width="0.2" >0.1</text>
</svg>
</body></html>
